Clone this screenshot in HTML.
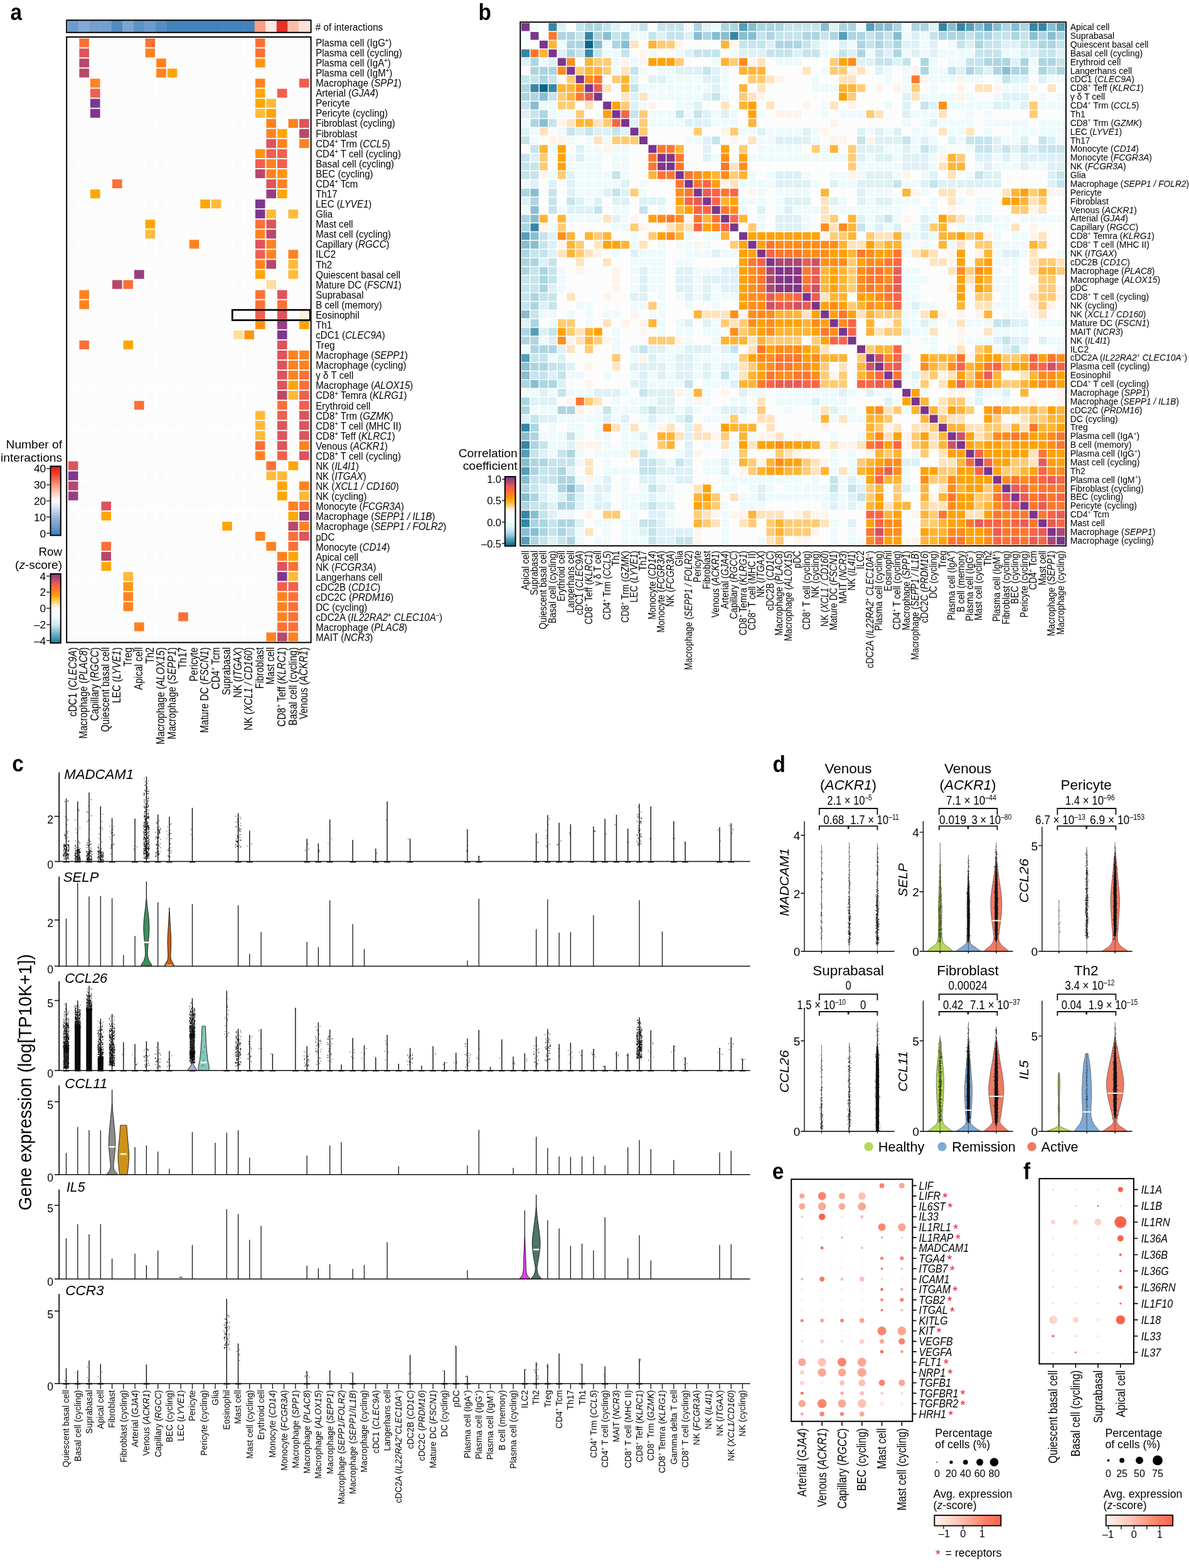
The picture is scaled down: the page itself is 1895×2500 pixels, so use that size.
<!DOCTYPE html>
<html><head><meta charset="utf-8"><title>Figure</title>
<style>
html,body{margin:0;padding:0;background:#fff}
svg{display:block}
text{font-family:"Liberation Sans",sans-serif}
</style></head>
<body>
<svg width="1895" height="2500" viewBox="0 0 1895 2500">
<defs><linearGradient id="gNI" x1="0" y1="1" x2="0" y2="0"><stop offset="0.0000" stop-color="#377db9"/><stop offset="0.1250" stop-color="#6e9bcd"/><stop offset="0.2500" stop-color="#96b4da"/><stop offset="0.3750" stop-color="#cddaee"/><stop offset="0.5000" stop-color="#ffffff"/><stop offset="0.6250" stop-color="#fdc8b9"/><stop offset="0.7500" stop-color="#fa8c73"/><stop offset="0.8750" stop-color="#ee4632"/><stop offset="1.0000" stop-color="#e1191c"/></linearGradient><linearGradient id="gZS" x1="0" y1="1" x2="0" y2="0"><stop offset="0.0000" stop-color="#1e7896"/><stop offset="0.1250" stop-color="#6bafc4"/><stop offset="0.2500" stop-color="#c9e6ee"/><stop offset="0.3750" stop-color="#f0fafc"/><stop offset="0.5000" stop-color="#fbfcfb"/><stop offset="0.5625" stop-color="#ffe4af"/><stop offset="0.6250" stop-color="#ffc04b"/><stop offset="0.6750" stop-color="#ffa605"/><stop offset="0.7500" stop-color="#ff8220"/><stop offset="0.8250" stop-color="#fa6448"/><stop offset="0.8750" stop-color="#e1565a"/><stop offset="0.9375" stop-color="#b4466e"/><stop offset="1.0000" stop-color="#7d3791"/></linearGradient><linearGradient id="gCC" x1="0" y1="1" x2="0" y2="0"><stop offset="0.0000" stop-color="#05668a"/><stop offset="0.0323" stop-color="#1e7a9c"/><stop offset="0.0968" stop-color="#559fb8"/><stop offset="0.1613" stop-color="#9ccbdb"/><stop offset="0.2258" stop-color="#c5e4ec"/><stop offset="0.2903" stop-color="#e3f5f8"/><stop offset="0.3548" stop-color="#f3fefe"/><stop offset="0.4323" stop-color="#fcfcfc"/><stop offset="0.5161" stop-color="#fff6ef"/><stop offset="0.5613" stop-color="#ffdfa8"/><stop offset="0.6129" stop-color="#ffbe45"/><stop offset="0.6774" stop-color="#ffa205"/><stop offset="0.7419" stop-color="#ff8420"/><stop offset="0.8194" stop-color="#fa6349"/><stop offset="0.8710" stop-color="#e05a58"/><stop offset="0.9226" stop-color="#b04a6e"/><stop offset="1.0000" stop-color="#7b3592"/></linearGradient><linearGradient id="gRS" x1="0" y1="0" x2="1" y2="0"><stop offset="0.000" stop-color="#f6f6f1"/><stop offset="0.118" stop-color="#fbe6df"/><stop offset="0.324" stop-color="#fccbbe"/><stop offset="0.559" stop-color="#fba591"/><stop offset="0.765" stop-color="#fa8068"/><stop offset="1.000" stop-color="#f9634a"/></linearGradient></defs>
<rect width="1895" height="2500" fill="#fff"/>
<g id="panel_a">
<rect x="107.70" y="33" width="17.93" height="18" fill="#6e9bcd"/>
<rect x="125.23" y="33" width="17.93" height="18" fill="#84a9d4"/>
<rect x="142.76" y="33" width="17.93" height="18" fill="#749fcf"/>
<rect x="160.30" y="33" width="17.93" height="18" fill="#749fcf"/>
<rect x="177.83" y="33" width="17.93" height="18" fill="#508bc2"/>
<rect x="195.36" y="33" width="17.93" height="18" fill="#7ea5d2"/>
<rect x="212.89" y="33" width="17.93" height="18" fill="#5e92c7"/>
<rect x="230.42" y="33" width="17.93" height="18" fill="#6e9bcd"/>
<rect x="247.95" y="33" width="17.93" height="18" fill="#558dc4"/>
<rect x="265.49" y="33" width="17.93" height="18" fill="#4283bd"/>
<rect x="283.02" y="33" width="17.93" height="18" fill="#4283bd"/>
<rect x="300.55" y="33" width="17.93" height="18" fill="#4283bd"/>
<rect x="318.08" y="33" width="17.93" height="18" fill="#4283bd"/>
<rect x="335.61" y="33" width="17.93" height="18" fill="#4283bd"/>
<rect x="353.15" y="33" width="17.93" height="18" fill="#4283bd"/>
<rect x="370.68" y="33" width="17.93" height="18" fill="#4283bd"/>
<rect x="388.21" y="33" width="17.93" height="18" fill="#4283bd"/>
<rect x="405.74" y="33" width="17.93" height="18" fill="#fb9e88"/>
<rect x="423.27" y="33" width="17.93" height="18" fill="#fee9e3"/>
<rect x="440.80" y="33" width="17.93" height="18" fill="#e83027"/>
<rect x="458.34" y="33" width="17.93" height="18" fill="#fcbcab"/>
<rect x="475.87" y="33" width="17.93" height="18" fill="#fee0d8"/>
<rect x="106.2" y="32.2" width="389.4" height="19.6" fill="none" stroke="#000" stroke-width="2"/>
<rect x="107.9" y="60.3" width="385.70000000000005" height="963.2" fill="#fbfcfb"/>
<path d="M107.90 60.3V1023.5M125.43 60.3V1023.5M142.96 60.3V1023.5M160.50 60.3V1023.5M178.03 60.3V1023.5M195.56 60.3V1023.5M213.09 60.3V1023.5M230.62 60.3V1023.5M248.15 60.3V1023.5M265.69 60.3V1023.5M283.22 60.3V1023.5M300.75 60.3V1023.5M318.28 60.3V1023.5M335.81 60.3V1023.5M353.35 60.3V1023.5M370.88 60.3V1023.5M388.41 60.3V1023.5M405.94 60.3V1023.5M423.47 60.3V1023.5M441.00 60.3V1023.5M458.54 60.3V1023.5M476.07 60.3V1023.5M493.60 60.3V1023.5M107.9 60.30H493.6M107.9 76.35H493.6M107.9 92.41H493.6M107.9 108.46H493.6M107.9 124.51H493.6M107.9 140.57H493.6M107.9 156.62H493.6M107.9 172.67H493.6M107.9 188.73H493.6M107.9 204.78H493.6M107.9 220.83H493.6M107.9 236.89H493.6M107.9 252.94H493.6M107.9 268.99H493.6M107.9 285.05H493.6M107.9 301.10H493.6M107.9 317.15H493.6M107.9 333.21H493.6M107.9 349.26H493.6M107.9 365.31H493.6M107.9 381.37H493.6M107.9 397.42H493.6M107.9 413.47H493.6M107.9 429.53H493.6M107.9 445.58H493.6M107.9 461.63H493.6M107.9 477.69H493.6M107.9 493.74H493.6M107.9 509.79H493.6M107.9 525.85H493.6M107.9 541.90H493.6M107.9 557.95H493.6M107.9 574.01H493.6M107.9 590.06H493.6M107.9 606.11H493.6M107.9 622.17H493.6M107.9 638.22H493.6M107.9 654.27H493.6M107.9 670.33H493.6M107.9 686.38H493.6M107.9 702.43H493.6M107.9 718.49H493.6M107.9 734.54H493.6M107.9 750.59H493.6M107.9 766.65H493.6M107.9 782.70H493.6M107.9 798.75H493.6M107.9 814.81H493.6M107.9 830.86H493.6M107.9 846.91H493.6M107.9 862.97H493.6M107.9 879.02H493.6M107.9 895.07H493.6M107.9 911.13H493.6M107.9 927.18H493.6M107.9 943.23H493.6M107.9 959.29H493.6M107.9 975.34H493.6M107.9 991.39H493.6M107.9 1007.45H493.6M107.9 1023.50H493.6" stroke="#fff" stroke-width="1.9" fill="none"/>
<rect x="126.38" y="61.25" width="15.63" height="14.15" fill="#fc7037"/>
<rect x="231.57" y="61.25" width="15.63" height="14.15" fill="#fc7037"/>
<rect x="406.89" y="61.25" width="15.63" height="14.15" fill="#fc7037"/>
<rect x="126.38" y="77.30" width="15.63" height="14.15" fill="#dd545c"/>
<rect x="231.57" y="77.30" width="15.63" height="14.15" fill="#ff8220"/>
<rect x="406.89" y="77.30" width="15.63" height="14.15" fill="#fc7037"/>
<rect x="126.38" y="93.36" width="15.63" height="14.15" fill="#b8486c"/>
<rect x="249.10" y="93.36" width="15.63" height="14.15" fill="#ff8220"/>
<rect x="406.89" y="93.36" width="15.63" height="14.15" fill="#ff9412"/>
<rect x="126.38" y="109.41" width="15.63" height="14.15" fill="#b8486c"/>
<rect x="249.10" y="109.41" width="15.63" height="14.15" fill="#ff8220"/>
<rect x="266.64" y="109.41" width="15.63" height="14.15" fill="#ffa605"/>
<rect x="143.91" y="125.46" width="15.63" height="14.15" fill="#ff8220"/>
<rect x="406.89" y="125.46" width="15.63" height="14.15" fill="#ff8220"/>
<rect x="477.02" y="125.46" width="15.63" height="14.15" fill="#f15f4f"/>
<rect x="143.91" y="141.52" width="15.63" height="14.15" fill="#f15f4f"/>
<rect x="406.89" y="141.52" width="15.63" height="14.15" fill="#ffa605"/>
<rect x="441.95" y="141.52" width="15.63" height="14.15" fill="#f15f4f"/>
<rect x="143.91" y="157.57" width="15.63" height="14.15" fill="#7d3791"/>
<rect x="406.89" y="157.57" width="15.63" height="14.15" fill="#ffa605"/>
<rect x="424.42" y="157.57" width="15.63" height="14.15" fill="#ffba39"/>
<rect x="143.91" y="173.62" width="15.63" height="14.15" fill="#7d3791"/>
<rect x="406.89" y="173.62" width="15.63" height="14.15" fill="#ffba39"/>
<rect x="424.42" y="173.62" width="15.63" height="14.15" fill="#ffa605"/>
<rect x="424.42" y="189.68" width="15.63" height="14.15" fill="#ff8220"/>
<rect x="459.49" y="189.68" width="15.63" height="14.15" fill="#ff8220"/>
<rect x="477.02" y="189.68" width="15.63" height="14.15" fill="#dd545c"/>
<rect x="424.42" y="205.73" width="15.63" height="14.15" fill="#ff8220"/>
<rect x="441.95" y="205.73" width="15.63" height="14.15" fill="#ffa605"/>
<rect x="477.02" y="205.73" width="15.63" height="14.15" fill="#b8486c"/>
<rect x="424.42" y="221.78" width="15.63" height="14.15" fill="#dd545c"/>
<rect x="441.95" y="221.78" width="15.63" height="14.15" fill="#ff8220"/>
<rect x="477.02" y="221.78" width="15.63" height="14.15" fill="#ff8220"/>
<rect x="406.89" y="237.84" width="15.63" height="14.15" fill="#ff9412"/>
<rect x="424.42" y="237.84" width="15.63" height="14.15" fill="#f15f4f"/>
<rect x="441.95" y="237.84" width="15.63" height="14.15" fill="#f15f4f"/>
<rect x="406.89" y="253.89" width="15.63" height="14.15" fill="#f15f4f"/>
<rect x="424.42" y="253.89" width="15.63" height="14.15" fill="#ff8220"/>
<rect x="441.95" y="253.89" width="15.63" height="14.15" fill="#f15f4f"/>
<rect x="406.89" y="269.94" width="15.63" height="14.15" fill="#b8486c"/>
<rect x="424.42" y="269.94" width="15.63" height="14.15" fill="#ff8220"/>
<rect x="441.95" y="269.94" width="15.63" height="14.15" fill="#ff9412"/>
<rect x="178.98" y="286.00" width="15.63" height="14.15" fill="#fc7037"/>
<rect x="424.42" y="286.00" width="15.63" height="14.15" fill="#dd545c"/>
<rect x="441.95" y="286.00" width="15.63" height="14.15" fill="#ff8220"/>
<rect x="143.91" y="302.05" width="15.63" height="14.15" fill="#ffa605"/>
<rect x="424.42" y="302.05" width="15.63" height="14.15" fill="#983e80"/>
<rect x="441.95" y="302.05" width="15.63" height="14.15" fill="#ffa605"/>
<rect x="319.23" y="318.10" width="15.63" height="14.15" fill="#ffa605"/>
<rect x="336.76" y="318.10" width="15.63" height="14.15" fill="#ffba39"/>
<rect x="406.89" y="318.10" width="15.63" height="14.15" fill="#7d3791"/>
<rect x="406.89" y="334.16" width="15.63" height="14.15" fill="#7d3791"/>
<rect x="424.42" y="334.16" width="15.63" height="14.15" fill="#ffba39"/>
<rect x="459.49" y="334.16" width="15.63" height="14.15" fill="#ffba39"/>
<rect x="231.57" y="350.21" width="15.63" height="14.15" fill="#ffa605"/>
<rect x="406.89" y="350.21" width="15.63" height="14.15" fill="#fc7037"/>
<rect x="424.42" y="350.21" width="15.63" height="14.15" fill="#dd545c"/>
<rect x="231.57" y="366.26" width="15.63" height="14.15" fill="#ffba39"/>
<rect x="406.89" y="366.26" width="15.63" height="14.15" fill="#ff8220"/>
<rect x="424.42" y="366.26" width="15.63" height="14.15" fill="#b8486c"/>
<rect x="301.70" y="382.32" width="15.63" height="14.15" fill="#ff8220"/>
<rect x="406.89" y="382.32" width="15.63" height="14.15" fill="#dd545c"/>
<rect x="424.42" y="382.32" width="15.63" height="14.15" fill="#ff8220"/>
<rect x="406.89" y="398.37" width="15.63" height="14.15" fill="#f15f4f"/>
<rect x="424.42" y="398.37" width="15.63" height="14.15" fill="#ff8220"/>
<rect x="459.49" y="398.37" width="15.63" height="14.15" fill="#ff8220"/>
<rect x="406.89" y="414.42" width="15.63" height="14.15" fill="#ff8220"/>
<rect x="424.42" y="414.42" width="15.63" height="14.15" fill="#b8486c"/>
<rect x="459.49" y="414.42" width="15.63" height="14.15" fill="#ffba39"/>
<rect x="214.04" y="430.48" width="15.63" height="14.15" fill="#983e80"/>
<rect x="406.89" y="430.48" width="15.63" height="14.15" fill="#ffa605"/>
<rect x="459.49" y="430.48" width="15.63" height="14.15" fill="#ffba39"/>
<rect x="178.98" y="446.53" width="15.63" height="14.15" fill="#b8486c"/>
<rect x="196.51" y="446.53" width="15.63" height="14.15" fill="#fc7037"/>
<rect x="424.42" y="446.53" width="15.63" height="14.15" fill="#ffdd9b"/>
<rect x="126.38" y="462.58" width="15.63" height="14.15" fill="#ff8220"/>
<rect x="406.89" y="462.58" width="15.63" height="14.15" fill="#fc7037"/>
<rect x="441.95" y="462.58" width="15.63" height="14.15" fill="#dd545c"/>
<rect x="126.38" y="478.64" width="15.63" height="14.15" fill="#ff8220"/>
<rect x="406.89" y="478.64" width="15.63" height="14.15" fill="#fc7037"/>
<rect x="441.95" y="478.64" width="15.63" height="14.15" fill="#fc7037"/>
<rect x="406.89" y="494.69" width="15.63" height="14.15" fill="#f15f4f"/>
<rect x="441.95" y="494.69" width="15.63" height="14.15" fill="#dd545c"/>
<rect x="477.02" y="494.69" width="15.63" height="14.15" fill="#fdf2dd"/>
<rect x="406.89" y="510.74" width="15.63" height="14.15" fill="#ff9412"/>
<rect x="441.95" y="510.74" width="15.63" height="14.15" fill="#983e80"/>
<rect x="477.02" y="510.74" width="15.63" height="14.15" fill="#ffa605"/>
<rect x="371.83" y="526.80" width="15.63" height="14.15" fill="#ffdd9b"/>
<rect x="389.36" y="526.80" width="15.63" height="14.15" fill="#ff9412"/>
<rect x="441.95" y="526.80" width="15.63" height="14.15" fill="#7d3791"/>
<rect x="126.38" y="542.85" width="15.63" height="14.15" fill="#fc7037"/>
<rect x="196.51" y="542.85" width="15.63" height="14.15" fill="#ffa605"/>
<rect x="441.95" y="542.85" width="15.63" height="14.15" fill="#dd545c"/>
<rect x="441.95" y="558.90" width="15.63" height="14.15" fill="#dd545c"/>
<rect x="459.49" y="558.90" width="15.63" height="14.15" fill="#ff8220"/>
<rect x="477.02" y="558.90" width="15.63" height="14.15" fill="#ff8220"/>
<rect x="441.95" y="574.96" width="15.63" height="14.15" fill="#dd545c"/>
<rect x="459.49" y="574.96" width="15.63" height="14.15" fill="#ff8220"/>
<rect x="477.02" y="574.96" width="15.63" height="14.15" fill="#ff8220"/>
<rect x="441.95" y="591.01" width="15.63" height="14.15" fill="#dd545c"/>
<rect x="459.49" y="591.01" width="15.63" height="14.15" fill="#ff8220"/>
<rect x="477.02" y="591.01" width="15.63" height="14.15" fill="#fc7037"/>
<rect x="441.95" y="607.06" width="15.63" height="14.15" fill="#dd545c"/>
<rect x="459.49" y="607.06" width="15.63" height="14.15" fill="#ffa605"/>
<rect x="477.02" y="607.06" width="15.63" height="14.15" fill="#fc7037"/>
<rect x="441.95" y="623.12" width="15.63" height="14.15" fill="#b8486c"/>
<rect x="459.49" y="623.12" width="15.63" height="14.15" fill="#ffba39"/>
<rect x="477.02" y="623.12" width="15.63" height="14.15" fill="#f15f4f"/>
<rect x="214.04" y="639.17" width="15.63" height="14.15" fill="#fc7037"/>
<rect x="441.95" y="639.17" width="15.63" height="14.15" fill="#fc7037"/>
<rect x="477.02" y="639.17" width="15.63" height="14.15" fill="#f15f4f"/>
<rect x="406.89" y="655.22" width="15.63" height="14.15" fill="#ffba39"/>
<rect x="441.95" y="655.22" width="15.63" height="14.15" fill="#f15f4f"/>
<rect x="477.02" y="655.22" width="15.63" height="14.15" fill="#dd545c"/>
<rect x="406.89" y="671.28" width="15.63" height="14.15" fill="#ffba39"/>
<rect x="441.95" y="671.28" width="15.63" height="14.15" fill="#dd545c"/>
<rect x="477.02" y="671.28" width="15.63" height="14.15" fill="#dd545c"/>
<rect x="406.89" y="687.33" width="15.63" height="14.15" fill="#ffba39"/>
<rect x="441.95" y="687.33" width="15.63" height="14.15" fill="#dd545c"/>
<rect x="477.02" y="687.33" width="15.63" height="14.15" fill="#dd545c"/>
<rect x="406.89" y="703.38" width="15.63" height="14.15" fill="#fc7037"/>
<rect x="441.95" y="703.38" width="15.63" height="14.15" fill="#dd545c"/>
<rect x="477.02" y="703.38" width="15.63" height="14.15" fill="#ff8220"/>
<rect x="406.89" y="719.44" width="15.63" height="14.15" fill="#ff8220"/>
<rect x="441.95" y="719.44" width="15.63" height="14.15" fill="#f15f4f"/>
<rect x="477.02" y="719.44" width="15.63" height="14.15" fill="#dd545c"/>
<rect x="108.85" y="735.49" width="15.63" height="14.15" fill="#dd545c"/>
<rect x="424.42" y="735.49" width="15.63" height="14.15" fill="#fc7037"/>
<rect x="459.49" y="735.49" width="15.63" height="14.15" fill="#ffa605"/>
<rect x="108.85" y="751.54" width="15.63" height="14.15" fill="#7d3791"/>
<rect x="424.42" y="751.54" width="15.63" height="14.15" fill="#ffba39"/>
<rect x="441.95" y="751.54" width="15.63" height="14.15" fill="#ffba39"/>
<rect x="108.85" y="767.60" width="15.63" height="14.15" fill="#b8486c"/>
<rect x="441.95" y="767.60" width="15.63" height="14.15" fill="#ffa605"/>
<rect x="477.02" y="767.60" width="15.63" height="14.15" fill="#ff8220"/>
<rect x="108.85" y="783.65" width="15.63" height="14.15" fill="#983e80"/>
<rect x="441.95" y="783.65" width="15.63" height="14.15" fill="#ffa605"/>
<rect x="477.02" y="783.65" width="15.63" height="14.15" fill="#ffba39"/>
<rect x="161.45" y="799.70" width="15.63" height="14.15" fill="#dd545c"/>
<rect x="459.49" y="799.70" width="15.63" height="14.15" fill="#ff8220"/>
<rect x="477.02" y="799.70" width="15.63" height="14.15" fill="#fc7037"/>
<rect x="161.45" y="815.76" width="15.63" height="14.15" fill="#ffa605"/>
<rect x="459.49" y="815.76" width="15.63" height="14.15" fill="#ffa605"/>
<rect x="477.02" y="815.76" width="15.63" height="14.15" fill="#983e80"/>
<rect x="354.30" y="831.81" width="15.63" height="14.15" fill="#ffa605"/>
<rect x="459.49" y="831.81" width="15.63" height="14.15" fill="#b8486c"/>
<rect x="477.02" y="831.81" width="15.63" height="14.15" fill="#ff8220"/>
<rect x="406.89" y="847.86" width="15.63" height="14.15" fill="#ff8220"/>
<rect x="459.49" y="847.86" width="15.63" height="14.15" fill="#fc7037"/>
<rect x="477.02" y="847.86" width="15.63" height="14.15" fill="#dd545c"/>
<rect x="161.45" y="863.92" width="15.63" height="14.15" fill="#fc7037"/>
<rect x="424.42" y="863.92" width="15.63" height="14.15" fill="#ff8220"/>
<rect x="459.49" y="863.92" width="15.63" height="14.15" fill="#fc7037"/>
<rect x="161.45" y="879.97" width="15.63" height="14.15" fill="#b8486c"/>
<rect x="441.95" y="879.97" width="15.63" height="14.15" fill="#ff8220"/>
<rect x="459.49" y="879.97" width="15.63" height="14.15" fill="#ffa605"/>
<rect x="161.45" y="896.02" width="15.63" height="14.15" fill="#ffa605"/>
<rect x="441.95" y="896.02" width="15.63" height="14.15" fill="#dd545c"/>
<rect x="459.49" y="896.02" width="15.63" height="14.15" fill="#fc7037"/>
<rect x="196.51" y="912.08" width="15.63" height="14.15" fill="#ffba39"/>
<rect x="441.95" y="912.08" width="15.63" height="14.15" fill="#7d3791"/>
<rect x="459.49" y="912.08" width="15.63" height="14.15" fill="#ffba39"/>
<rect x="196.51" y="928.13" width="15.63" height="14.15" fill="#ff9412"/>
<rect x="441.95" y="928.13" width="15.63" height="14.15" fill="#f15f4f"/>
<rect x="459.49" y="928.13" width="15.63" height="14.15" fill="#f15f4f"/>
<rect x="196.51" y="944.18" width="15.63" height="14.15" fill="#ff8220"/>
<rect x="441.95" y="944.18" width="15.63" height="14.15" fill="#ff8220"/>
<rect x="459.49" y="944.18" width="15.63" height="14.15" fill="#fc7037"/>
<rect x="196.51" y="960.24" width="15.63" height="14.15" fill="#ff8220"/>
<rect x="441.95" y="960.24" width="15.63" height="14.15" fill="#ff8220"/>
<rect x="459.49" y="960.24" width="15.63" height="14.15" fill="#fc7037"/>
<rect x="284.17" y="976.29" width="15.63" height="14.15" fill="#fc7037"/>
<rect x="441.95" y="976.29" width="15.63" height="14.15" fill="#ff8220"/>
<rect x="459.49" y="976.29" width="15.63" height="14.15" fill="#fc7037"/>
<rect x="214.04" y="992.34" width="15.63" height="14.15" fill="#ff8220"/>
<rect x="441.95" y="992.34" width="15.63" height="14.15" fill="#fc7037"/>
<rect x="459.49" y="992.34" width="15.63" height="14.15" fill="#fc7037"/>
<rect x="424.42" y="1008.40" width="15.63" height="14.15" fill="#ff8220"/>
<rect x="441.95" y="1008.40" width="15.63" height="14.15" fill="#b8486c"/>
<rect x="459.49" y="1008.40" width="15.63" height="14.15" fill="#ff8220"/>
<rect x="106.2" y="59" width="389.4" height="965.4" fill="none" stroke="#000" stroke-width="2"/>
<rect x="370.28" y="494.14" width="123.92" height="16.35" fill="none" stroke="#000" stroke-width="2.7"/>
<g>
<text transform="translate(502.80,49.20) scale(0.8802,1)" font-size="17.30"># of interactions</text>
<text transform="translate(503.20,73.90) scale(0.9090,1)" font-size="16.60">Plasma cell (IgG<tspan font-size="10.29" dy="-5.98">+</tspan><tspan dy="5.98">&#8203;</tspan>)</text>
<text transform="translate(503.20,89.97) scale(0.9090,1)" font-size="16.60">Plasma cell (cycling)</text>
<text transform="translate(503.20,106.05) scale(0.9090,1)" font-size="16.60">Plasma cell (IgA<tspan font-size="10.29" dy="-5.98">+</tspan><tspan dy="5.98">&#8203;</tspan>)</text>
<text transform="translate(503.20,122.12) scale(0.9090,1)" font-size="16.60">Plasma cell (IgM<tspan font-size="10.29" dy="-5.98">+</tspan><tspan dy="5.98">&#8203;</tspan>)</text>
<text transform="translate(503.20,138.20) scale(0.9090,1)" font-size="16.60">Macrophage (<tspan font-style="italic">SPP1</tspan>)</text>
<text transform="translate(503.20,154.27) scale(0.9090,1)" font-size="16.60">Arterial (<tspan font-style="italic">GJA4</tspan>)</text>
<text transform="translate(503.20,170.34) scale(0.9090,1)" font-size="16.60">Pericyte</text>
<text transform="translate(503.20,186.42) scale(0.9090,1)" font-size="16.60">Pericyte (cycling)</text>
<text transform="translate(503.20,202.49) scale(0.9090,1)" font-size="16.60">Fibroblast (cycling)</text>
<text transform="translate(503.20,218.57) scale(0.9090,1)" font-size="16.60">Fibroblast</text>
<text transform="translate(503.20,234.64) scale(0.9090,1)" font-size="16.60">CD4<tspan font-size="10.29" dy="-5.98">+</tspan><tspan dy="5.98">&#8203;</tspan> Trm (<tspan font-style="italic">CCL5</tspan>)</text>
<text transform="translate(503.20,250.71) scale(0.9090,1)" font-size="16.60">CD4<tspan font-size="10.29" dy="-5.98">+</tspan><tspan dy="5.98">&#8203;</tspan> T cell (cycling)</text>
<text transform="translate(503.20,266.79) scale(0.9090,1)" font-size="16.60">Basal cell (cycling)</text>
<text transform="translate(503.20,282.86) scale(0.9090,1)" font-size="16.60">BEC (cycling)</text>
<text transform="translate(503.20,298.94) scale(0.9090,1)" font-size="16.60">CD4<tspan font-size="10.29" dy="-5.98">+</tspan><tspan dy="5.98">&#8203;</tspan> Tcm</text>
<text transform="translate(503.20,315.01) scale(0.9090,1)" font-size="16.60">Th17</text>
<text transform="translate(503.20,331.08) scale(0.9090,1)" font-size="16.60">LEC (<tspan font-style="italic">LYVE1</tspan>)</text>
<text transform="translate(503.20,347.16) scale(0.9090,1)" font-size="16.60">Glia</text>
<text transform="translate(503.20,363.23) scale(0.9090,1)" font-size="16.60">Mast cell</text>
<text transform="translate(503.20,379.31) scale(0.9090,1)" font-size="16.60">Mast cell (cycling)</text>
<text transform="translate(503.20,395.38) scale(0.9090,1)" font-size="16.60">Capillary (<tspan font-style="italic">RGCC</tspan>)</text>
<text transform="translate(503.20,411.45) scale(0.9090,1)" font-size="16.60">ILC2</text>
<text transform="translate(503.20,427.53) scale(0.9090,1)" font-size="16.60">Th2</text>
<text transform="translate(503.20,443.60) scale(0.9090,1)" font-size="16.60">Quiescent basal cell</text>
<text transform="translate(503.20,459.68) scale(0.9090,1)" font-size="16.60">Mature DC (<tspan font-style="italic">FSCN1</tspan>)</text>
<text transform="translate(503.20,475.75) scale(0.9090,1)" font-size="16.60">Suprabasal</text>
<text transform="translate(503.20,491.82) scale(0.9090,1)" font-size="16.60">B cell (memory)</text>
<text transform="translate(503.20,507.90) scale(0.9090,1)" font-size="16.60">Eosinophil</text>
<text transform="translate(503.20,523.97) scale(0.9090,1)" font-size="16.60">Th1</text>
<text transform="translate(503.20,540.05) scale(0.9090,1)" font-size="16.60">cDC1 (<tspan font-style="italic">CLEC9A</tspan>)</text>
<text transform="translate(503.20,556.12) scale(0.9090,1)" font-size="16.60">Treg</text>
<text transform="translate(503.20,572.19) scale(0.9090,1)" font-size="16.60">Macrophage (<tspan font-style="italic">SEPP1</tspan>)</text>
<text transform="translate(503.20,588.27) scale(0.9090,1)" font-size="16.60">Macrophage (cycling)</text>
<text transform="translate(503.20,604.34) scale(0.9090,1)" font-size="16.60">γ δ T cell</text>
<text transform="translate(503.20,620.42) scale(0.9090,1)" font-size="16.60">Macrophage (<tspan font-style="italic">ALOX15</tspan>)</text>
<text transform="translate(503.20,636.49) scale(0.9090,1)" font-size="16.60">CD8<tspan font-size="10.29" dy="-5.98">+</tspan><tspan dy="5.98">&#8203;</tspan> Temra (<tspan font-style="italic">KLRG1</tspan>)</text>
<text transform="translate(503.20,652.56) scale(0.9090,1)" font-size="16.60">Erythroid cell</text>
<text transform="translate(503.20,668.64) scale(0.9090,1)" font-size="16.60">CD8<tspan font-size="10.29" dy="-5.98">+</tspan><tspan dy="5.98">&#8203;</tspan> Trm (<tspan font-style="italic">GZMK</tspan>)</text>
<text transform="translate(503.20,684.71) scale(0.9090,1)" font-size="16.60">CD8<tspan font-size="10.29" dy="-5.98">+</tspan><tspan dy="5.98">&#8203;</tspan> T cell (MHC II)</text>
<text transform="translate(503.20,700.79) scale(0.9090,1)" font-size="16.60">CD8<tspan font-size="10.29" dy="-5.98">+</tspan><tspan dy="5.98">&#8203;</tspan> Teff (<tspan font-style="italic">KLRC1</tspan>)</text>
<text transform="translate(503.20,716.86) scale(0.9090,1)" font-size="16.60">Venous (<tspan font-style="italic">ACKR1</tspan>)</text>
<text transform="translate(503.20,732.93) scale(0.9090,1)" font-size="16.60">CD8<tspan font-size="10.29" dy="-5.98">+</tspan><tspan dy="5.98">&#8203;</tspan> T cell (cycling)</text>
<text transform="translate(503.20,749.01) scale(0.9090,1)" font-size="16.60">NK (<tspan font-style="italic">IL4I1</tspan>)</text>
<text transform="translate(503.20,765.08) scale(0.9090,1)" font-size="16.60">NK (<tspan font-style="italic">ITGAX</tspan>)</text>
<text transform="translate(503.20,781.16) scale(0.9090,1)" font-size="16.60">NK (<tspan font-style="italic">XCL1 / CD160</tspan>)</text>
<text transform="translate(503.20,797.23) scale(0.9090,1)" font-size="16.60">NK (cycling)</text>
<text transform="translate(503.20,813.30) scale(0.9090,1)" font-size="16.60">Monocyte (<tspan font-style="italic">FCGR3A</tspan>)</text>
<text transform="translate(503.20,829.38) scale(0.9090,1)" font-size="16.60">Macrophage (<tspan font-style="italic">SEPP1 / IL1B</tspan>)</text>
<text transform="translate(503.20,845.45) scale(0.9090,1)" font-size="16.60">Macrophage (<tspan font-style="italic">SEPP1 / FOLR2</tspan>)</text>
<text transform="translate(503.20,861.53) scale(0.9090,1)" font-size="16.60">pDC</text>
<text transform="translate(503.20,877.60) scale(0.9090,1)" font-size="16.60">Monocyte (<tspan font-style="italic">CD14</tspan>)</text>
<text transform="translate(503.20,893.67) scale(0.9090,1)" font-size="16.60">Apical cell</text>
<text transform="translate(503.20,909.75) scale(0.9090,1)" font-size="16.60">NK (<tspan font-style="italic">FCGR3A</tspan>)</text>
<text transform="translate(503.20,925.82) scale(0.9090,1)" font-size="16.60">Langerhans cell</text>
<text transform="translate(503.20,941.90) scale(0.9090,1)" font-size="16.60">cDC2B (<tspan font-style="italic">CD1C</tspan>)</text>
<text transform="translate(503.20,957.97) scale(0.9090,1)" font-size="16.60">cDC2C (<tspan font-style="italic">PRDM16</tspan>)</text>
<text transform="translate(503.20,974.04) scale(0.9090,1)" font-size="16.60">DC (cycling)</text>
<text transform="translate(503.20,990.12) scale(0.9090,1)" font-size="16.60">cDC2A (<tspan font-style="italic">IL22RA2</tspan><tspan font-style="italic" font-size="10.29" dy="-5.98">+</tspan><tspan dy="5.98">&#8203;</tspan><tspan font-style="italic"> CLEC10A</tspan><tspan font-style="italic" font-size="10.29" dy="-5.98">–</tspan><tspan dy="5.98">&#8203;</tspan>)</text>
<text transform="translate(503.20,1006.19) scale(0.9090,1)" font-size="16.60">Macrophage (<tspan font-style="italic">PLAC8</tspan>)</text>
<text transform="translate(503.20,1022.27) scale(0.9090,1)" font-size="16.60">MAIT (<tspan font-style="italic">NCR3</tspan>)</text>
<text transform="translate(121.87,1032.00) rotate(-90) scale(0.8290,1)" font-size="18.20" text-anchor="end">cDC1 (<tspan font-style="italic">CLEC9A</tspan>)</text>
<text transform="translate(139.40,1032.00) rotate(-90) scale(0.8290,1)" font-size="18.20" text-anchor="end">Macrophage (<tspan font-style="italic">PLAC8</tspan>)</text>
<text transform="translate(156.93,1032.00) rotate(-90) scale(0.8290,1)" font-size="18.20" text-anchor="end">Capillary (<tspan font-style="italic">RGCC</tspan>)</text>
<text transform="translate(174.46,1032.00) rotate(-90) scale(0.8290,1)" font-size="18.20" text-anchor="end">Quiescent basal cell</text>
<text transform="translate(191.99,1032.00) rotate(-90) scale(0.8290,1)" font-size="18.20" text-anchor="end">LEC (<tspan font-style="italic">LYVE1</tspan>)</text>
<text transform="translate(209.53,1032.00) rotate(-90) scale(0.8290,1)" font-size="18.20" text-anchor="end">Treg</text>
<text transform="translate(227.06,1032.00) rotate(-90) scale(0.8290,1)" font-size="18.20" text-anchor="end">Apical cell</text>
<text transform="translate(244.59,1032.00) rotate(-90) scale(0.8290,1)" font-size="18.20" text-anchor="end">Th2</text>
<text transform="translate(262.12,1032.00) rotate(-90) scale(0.8290,1)" font-size="18.20" text-anchor="end">Macrophage (<tspan font-style="italic">ALOX15</tspan>)</text>
<text transform="translate(279.65,1032.00) rotate(-90) scale(0.8290,1)" font-size="18.20" text-anchor="end">Macrophage (<tspan font-style="italic">SEPP1</tspan>)</text>
<text transform="translate(297.18,1032.00) rotate(-90) scale(0.8290,1)" font-size="18.20" text-anchor="end">Th17</text>
<text transform="translate(314.72,1032.00) rotate(-90) scale(0.8290,1)" font-size="18.20" text-anchor="end">Pericyte</text>
<text transform="translate(332.25,1032.00) rotate(-90) scale(0.8290,1)" font-size="18.20" text-anchor="end">Mature DC (<tspan font-style="italic">FSCN1</tspan>)</text>
<text transform="translate(349.78,1032.00) rotate(-90) scale(0.8290,1)" font-size="18.20" text-anchor="end">CD4<tspan font-size="11.28" dy="-6.55">+</tspan><tspan dy="6.55">&#8203;</tspan> Tcm</text>
<text transform="translate(367.31,1032.00) rotate(-90) scale(0.8290,1)" font-size="18.20" text-anchor="end">Suprabasal</text>
<text transform="translate(384.84,1032.00) rotate(-90) scale(0.8290,1)" font-size="18.20" text-anchor="end">NK (<tspan font-style="italic">ITGAX</tspan>)</text>
<text transform="translate(402.38,1032.00) rotate(-90) scale(0.8290,1)" font-size="18.20" text-anchor="end">NK (<tspan font-style="italic">XCL1 / CD160</tspan>)</text>
<text transform="translate(419.91,1032.00) rotate(-90) scale(0.8290,1)" font-size="18.20" text-anchor="end">Fibroblast</text>
<text transform="translate(437.44,1032.00) rotate(-90) scale(0.8290,1)" font-size="18.20" text-anchor="end">Mast cell</text>
<text transform="translate(454.97,1032.00) rotate(-90) scale(0.8290,1)" font-size="18.20" text-anchor="end">CD8<tspan font-size="11.28" dy="-6.55">+</tspan><tspan dy="6.55">&#8203;</tspan> Teff (<tspan font-style="italic">KLRC1</tspan>)</text>
<text transform="translate(472.50,1032.00) rotate(-90) scale(0.8290,1)" font-size="18.20" text-anchor="end">Basal cell (cycling)</text>
<text transform="translate(490.03,1032.00) rotate(-90) scale(0.8290,1)" font-size="18.20" text-anchor="end">Venous (<tspan font-style="italic">ACKR1</tspan>)</text>
</g>
<text transform="translate(99.00,714.50) scale(1.0419,1)" font-size="18.40" text-anchor="end">Number of</text>
<text transform="translate(99.00,735.60) scale(1.0415,1)" font-size="18.40" text-anchor="end">interactions</text>
<rect x="80.5" y="743.4" width="16.3" height="110.2" fill="url(#gNI)" stroke="#000" stroke-width="2"/>
<path d="M74.2 747.1H79.5" stroke="#000" stroke-width="1.3"/>
<text transform="translate(73.20,753.40)" font-size="17.30" text-anchor="end">40</text>
<path d="M74.2 773.1H79.5" stroke="#000" stroke-width="1.3"/>
<text transform="translate(73.20,779.40)" font-size="17.30" text-anchor="end">30</text>
<path d="M74.2 798.6H79.5" stroke="#000" stroke-width="1.3"/>
<text transform="translate(73.20,804.90)" font-size="17.30" text-anchor="end">20</text>
<path d="M74.2 824.3H79.5" stroke="#000" stroke-width="1.3"/>
<text transform="translate(73.20,830.60)" font-size="17.30" text-anchor="end">10</text>
<path d="M74.2 850.2H79.5" stroke="#000" stroke-width="1.3"/>
<text transform="translate(73.20,856.50)" font-size="17.30" text-anchor="end">0</text>
<text transform="translate(99.00,885.50) scale(1.0188,1)" font-size="18.40" text-anchor="end">Row</text>
<text transform="translate(99.00,906.60) scale(1.0334,1)" font-size="18.40" text-anchor="end">(<tspan font-style="italic">z</tspan>-score)</text>
<rect x="80.5" y="915" width="16.3" height="110.2" fill="url(#gZS)" stroke="#000" stroke-width="2"/>
<path d="M74.2 918.5H79.5" stroke="#000" stroke-width="1.3"/>
<text transform="translate(73.20,924.80)" font-size="17.30" text-anchor="end">4</text>
<path d="M74.2 944.1H79.5" stroke="#000" stroke-width="1.3"/>
<text transform="translate(73.20,950.40)" font-size="17.30" text-anchor="end">2</text>
<path d="M74.2 969.8H79.5" stroke="#000" stroke-width="1.3"/>
<text transform="translate(73.20,976.10)" font-size="17.30" text-anchor="end">0</text>
<path d="M74.2 995.9H79.5" stroke="#000" stroke-width="1.3"/>
<text transform="translate(73.20,1002.20)" font-size="17.30" text-anchor="end">–2</text>
<path d="M74.2 1021.4H79.5" stroke="#000" stroke-width="1.3"/>
<text transform="translate(73.20,1027.70)" font-size="17.30" text-anchor="end">–4</text>
<text transform="translate(16.60,32.30) scale(0.9000,1)" font-size="37.00" font-weight="bold">a</text>
</g>
<g id="panel_b">
<rect x="829.3" y="35.4" width="869.5" height="834.6" fill="#fff"/>
<g transform="translate(830.30,36.40) scale(14.4583,13.8767)" fill="none" stroke-width="0.899">
<path d="M0.05 0.5h.90M1.05 1.5h.90M2.05 2.5h.90M3.05 3.5h.90M4.05 4.5h.90M5.05 5.5h.90M6.05 6.5h.90M7.05 7.5h.90M8.05 8.5h.90M9.05 9.5h.90M10.05 10.5h.90M11.05 11.5h.90M12.05 12.5h.90M13.05 13.5h.90M14.05 14.5h.90M15.05 15.5h.90M16.05 16.5h.90M17.05 17.5h.90M18.05 18.5h.90M19.05 19.5h.90M20.05 20.5h.90M21.05 21.5h.90M22.05 22.5h.90M23.05 23.5h.90M24.05 24.5h.90M25.05 25.5h.90M26.05 26.5h.90M27.05 27.5h.90M28.05 28.5h.90M29.05 29.5h.90M30.05 30.5h.90M31.05 31.5h.90M32.05 32.5h.90M33.05 33.5h.90M34.05 34.5h.90M35.05 35.5h.90M36.05 36.5h.90M37.05 37.5h.90M38.05 38.5h.90M39.05 39.5h.90M40.05 40.5h.90M41.05 41.5h.90M42.05 42.5h.90M43.05 43.5h.90M44.05 44.5h.90M45.05 45.5h.90M46.05 46.5h.90M47.05 47.5h.90M48.05 48.5h.90M49.05 49.5h.90M50.05 50.5h.90M51.05 51.5h.90M52.05 52.5h.90M53.05 53.5h.90M54.05 54.5h.90M55.05 55.5h.90M56.05 56.5h.90M57.05 57.5h.90M58.05 58.5h.90M59.05 59.5h.90" stroke="#7B358C"/>
<path d="M1.05 0.5h.90M11.05 0.5h.90M18.05 0.5h.90M21.05 0.5h.90M37.05 0.5h.90M42.05 0.5h.90M0.05 1.5h.90M12.05 1.5h.90M13.05 1.5h.90M42.05 1.5h.90M44.05 1.5h.90M4.05 2.5h.90M9.05 2.5h.90M33.05 2.5h.90M36.05 2.5h.90M44.05 2.5h.90M47.05 2.5h.90M9.05 3.5h.90M10.05 3.5h.90M14.05 3.5h.90M17.05 3.5h.90M23.05 3.5h.90M33.05 3.5h.90M34.05 3.5h.90M38.05 3.5h.90M42.05 3.5h.90M44.05 3.5h.90M46.05 3.5h.90M47.05 3.5h.90M48.05 3.5h.90M49.05 3.5h.90M53.05 3.5h.90M54.05 3.5h.90M2.05 4.5h.90M10.05 4.5h.90M12.05 4.5h.90M21.05 4.5h.90M28.05 4.5h.90M29.05 4.5h.90M30.05 4.5h.90M45.05 4.5h.90M47.05 4.5h.90M48.05 4.5h.90M56.05 4.5h.90M10.05 5.5h.90M13.05 5.5h.90M15.05 5.5h.90M16.05 5.5h.90M22.05 5.5h.90M33.05 5.5h.90M40.05 5.5h.90M42.05 5.5h.90M45.05 5.5h.90M46.05 5.5h.90M56.05 5.5h.90M16.05 6.5h.90M17.05 6.5h.90M18.05 6.5h.90M19.05 6.5h.90M22.05 6.5h.90M32.05 6.5h.90M40.05 6.5h.90M42.05 6.5h.90M45.05 6.5h.90M46.05 6.5h.90M47.05 6.5h.90M49.05 6.5h.90M50.05 6.5h.90M52.05 6.5h.90M58.05 6.5h.90M59.05 6.5h.90M13.05 7.5h.90M14.05 7.5h.90M15.05 7.5h.90M16.05 7.5h.90M17.05 7.5h.90M18.05 7.5h.90M19.05 7.5h.90M20.05 7.5h.90M22.05 7.5h.90M32.05 7.5h.90M33.05 7.5h.90M34.05 7.5h.90M42.05 7.5h.90M45.05 7.5h.90M53.05 7.5h.90M54.05 7.5h.90M55.05 7.5h.90M14.05 8.5h.90M15.05 8.5h.90M16.05 8.5h.90M17.05 8.5h.90M18.05 8.5h.90M19.05 8.5h.90M22.05 8.5h.90M44.05 8.5h.90M45.05 8.5h.90M46.05 8.5h.90M47.05 8.5h.90M49.05 8.5h.90M52.05 8.5h.90M57.05 8.5h.90M59.05 8.5h.90M2.05 9.5h.90M3.05 9.5h.90M13.05 9.5h.90M17.05 9.5h.90M18.05 9.5h.90M33.05 9.5h.90M40.05 9.5h.90M47.05 9.5h.90M48.05 9.5h.90M49.05 9.5h.90M50.05 9.5h.90M51.05 9.5h.90M54.05 9.5h.90M57.05 9.5h.90M58.05 9.5h.90M59.05 9.5h.90M3.05 10.5h.90M4.05 10.5h.90M5.05 10.5h.90M14.05 10.5h.90M15.05 10.5h.90M16.05 10.5h.90M18.05 10.5h.90M21.05 10.5h.90M23.05 10.5h.90M26.05 10.5h.90M33.05 10.5h.90M35.05 10.5h.90M36.05 10.5h.90M37.05 10.5h.90M43.05 10.5h.90M44.05 10.5h.90M45.05 10.5h.90M49.05 10.5h.90M51.05 10.5h.90M0.05 11.5h.90M14.05 11.5h.90M15.05 11.5h.90M16.05 11.5h.90M17.05 11.5h.90M21.05 11.5h.90M22.05 11.5h.90M23.05 11.5h.90M42.05 11.5h.90M44.05 11.5h.90M46.05 11.5h.90M47.05 11.5h.90M48.05 11.5h.90M49.05 11.5h.90M51.05 11.5h.90M52.05 11.5h.90M53.05 11.5h.90M54.05 11.5h.90M55.05 11.5h.90M57.05 11.5h.90M58.05 11.5h.90M59.05 11.5h.90M1.05 12.5h.90M4.05 12.5h.90M24.05 12.5h.90M25.05 12.5h.90M27.05 12.5h.90M28.05 12.5h.90M29.05 12.5h.90M30.05 12.5h.90M32.05 12.5h.90M38.05 12.5h.90M40.05 12.5h.90M43.05 12.5h.90M44.05 12.5h.90M47.05 12.5h.90M48.05 12.5h.90M51.05 12.5h.90M54.05 12.5h.90M55.05 12.5h.90M56.05 12.5h.90M57.05 12.5h.90M58.05 12.5h.90M59.05 12.5h.90M1.05 13.5h.90M5.05 13.5h.90M7.05 13.5h.90M9.05 13.5h.90M18.05 13.5h.90M19.05 13.5h.90M26.05 13.5h.90M27.05 13.5h.90M32.05 13.5h.90M43.05 13.5h.90M45.05 13.5h.90M48.05 13.5h.90M53.05 13.5h.90M54.05 13.5h.90M59.05 13.5h.90M3.05 14.5h.90M7.05 14.5h.90M8.05 14.5h.90M10.05 14.5h.90M11.05 14.5h.90M26.05 14.5h.90M27.05 14.5h.90M28.05 14.5h.90M29.05 14.5h.90M30.05 14.5h.90M33.05 14.5h.90M40.05 14.5h.90M41.05 14.5h.90M43.05 14.5h.90M46.05 14.5h.90M49.05 14.5h.90M5.05 15.5h.90M7.05 15.5h.90M8.05 15.5h.90M10.05 15.5h.90M11.05 15.5h.90M21.05 15.5h.90M25.05 15.5h.90M26.05 15.5h.90M27.05 15.5h.90M28.05 15.5h.90M29.05 15.5h.90M30.05 15.5h.90M31.05 15.5h.90M32.05 15.5h.90M33.05 15.5h.90M34.05 15.5h.90M35.05 15.5h.90M38.05 15.5h.90M41.05 15.5h.90M45.05 15.5h.90M52.05 15.5h.90M54.05 15.5h.90M5.05 16.5h.90M6.05 16.5h.90M7.05 16.5h.90M8.05 16.5h.90M10.05 16.5h.90M11.05 16.5h.90M37.05 16.5h.90M38.05 16.5h.90M39.05 16.5h.90M40.05 16.5h.90M41.05 16.5h.90M45.05 16.5h.90M50.05 16.5h.90M52.05 16.5h.90M53.05 16.5h.90M54.05 16.5h.90M56.05 16.5h.90M57.05 16.5h.90M3.05 17.5h.90M6.05 17.5h.90M7.05 17.5h.90M8.05 17.5h.90M9.05 17.5h.90M11.05 17.5h.90M25.05 17.5h.90M27.05 17.5h.90M31.05 17.5h.90M34.05 17.5h.90M35.05 17.5h.90M37.05 17.5h.90M41.05 17.5h.90M44.05 17.5h.90M49.05 17.5h.90M0.05 18.5h.90M6.05 18.5h.90M7.05 18.5h.90M8.05 18.5h.90M9.05 18.5h.90M10.05 18.5h.90M13.05 18.5h.90M24.05 18.5h.90M25.05 18.5h.90M26.05 18.5h.90M27.05 18.5h.90M32.05 18.5h.90M35.05 18.5h.90M36.05 18.5h.90M42.05 18.5h.90M43.05 18.5h.90M6.05 19.5h.90M7.05 19.5h.90M8.05 19.5h.90M13.05 19.5h.90M26.05 19.5h.90M28.05 19.5h.90M29.05 19.5h.90M30.05 19.5h.90M31.05 19.5h.90M38.05 19.5h.90M39.05 19.5h.90M40.05 19.5h.90M44.05 19.5h.90M7.05 20.5h.90M24.05 20.5h.90M25.05 20.5h.90M26.05 20.5h.90M28.05 20.5h.90M35.05 20.5h.90M38.05 20.5h.90M41.05 20.5h.90M42.05 20.5h.90M43.05 20.5h.90M45.05 20.5h.90M48.05 20.5h.90M50.05 20.5h.90M51.05 20.5h.90M0.05 21.5h.90M4.05 21.5h.90M10.05 21.5h.90M11.05 21.5h.90M15.05 21.5h.90M24.05 21.5h.90M28.05 21.5h.90M30.05 21.5h.90M31.05 21.5h.90M32.05 21.5h.90M34.05 21.5h.90M35.05 21.5h.90M36.05 21.5h.90M37.05 21.5h.90M38.05 21.5h.90M39.05 21.5h.90M40.05 21.5h.90M41.05 21.5h.90M44.05 21.5h.90M45.05 21.5h.90M50.05 21.5h.90M51.05 21.5h.90M5.05 22.5h.90M6.05 22.5h.90M7.05 22.5h.90M8.05 22.5h.90M11.05 22.5h.90M26.05 22.5h.90M31.05 22.5h.90M38.05 22.5h.90M41.05 22.5h.90M45.05 22.5h.90M49.05 22.5h.90M52.05 22.5h.90M53.05 22.5h.90M55.05 22.5h.90M56.05 22.5h.90M57.05 22.5h.90M58.05 22.5h.90M59.05 22.5h.90M3.05 23.5h.90M10.05 23.5h.90M11.05 23.5h.90M26.05 23.5h.90M31.05 23.5h.90M38.05 23.5h.90M40.05 23.5h.90M43.05 23.5h.90M48.05 23.5h.90M49.05 23.5h.90M50.05 23.5h.90M52.05 23.5h.90M53.05 23.5h.90M12.05 24.5h.90M18.05 24.5h.90M20.05 24.5h.90M21.05 24.5h.90M43.05 24.5h.90M45.05 24.5h.90M52.05 24.5h.90M54.05 24.5h.90M55.05 24.5h.90M12.05 25.5h.90M15.05 25.5h.90M17.05 25.5h.90M18.05 25.5h.90M20.05 25.5h.90M42.05 25.5h.90M44.05 25.5h.90M47.05 25.5h.90M52.05 25.5h.90M53.05 25.5h.90M54.05 25.5h.90M55.05 25.5h.90M10.05 26.5h.90M13.05 26.5h.90M14.05 26.5h.90M15.05 26.5h.90M18.05 26.5h.90M19.05 26.5h.90M20.05 26.5h.90M22.05 26.5h.90M23.05 26.5h.90M42.05 26.5h.90M52.05 26.5h.90M55.05 26.5h.90M59.05 26.5h.90M12.05 27.5h.90M13.05 27.5h.90M14.05 27.5h.90M15.05 27.5h.90M17.05 27.5h.90M18.05 27.5h.90M52.05 27.5h.90M53.05 27.5h.90M54.05 27.5h.90M4.05 28.5h.90M12.05 28.5h.90M14.05 28.5h.90M15.05 28.5h.90M19.05 28.5h.90M20.05 28.5h.90M21.05 28.5h.90M42.05 28.5h.90M43.05 28.5h.90M52.05 28.5h.90M54.05 28.5h.90M4.05 29.5h.90M12.05 29.5h.90M14.05 29.5h.90M15.05 29.5h.90M19.05 29.5h.90M42.05 29.5h.90M43.05 29.5h.90M44.05 29.5h.90M52.05 29.5h.90M53.05 29.5h.90M54.05 29.5h.90M4.05 30.5h.90M12.05 30.5h.90M14.05 30.5h.90M15.05 30.5h.90M19.05 30.5h.90M21.05 30.5h.90M42.05 30.5h.90M43.05 30.5h.90M52.05 30.5h.90M53.05 30.5h.90M54.05 30.5h.90M15.05 31.5h.90M17.05 31.5h.90M19.05 31.5h.90M21.05 31.5h.90M22.05 31.5h.90M23.05 31.5h.90M42.05 31.5h.90M43.05 31.5h.90M53.05 31.5h.90M54.05 31.5h.90M6.05 32.5h.90M7.05 32.5h.90M12.05 32.5h.90M13.05 32.5h.90M15.05 32.5h.90M18.05 32.5h.90M21.05 32.5h.90M42.05 32.5h.90M44.05 32.5h.90M45.05 32.5h.90M52.05 32.5h.90M53.05 32.5h.90M54.05 32.5h.90M2.05 33.5h.90M3.05 33.5h.90M5.05 33.5h.90M7.05 33.5h.90M9.05 33.5h.90M10.05 33.5h.90M14.05 33.5h.90M15.05 33.5h.90M42.05 33.5h.90M43.05 33.5h.90M53.05 33.5h.90M54.05 33.5h.90M55.05 33.5h.90M3.05 34.5h.90M7.05 34.5h.90M15.05 34.5h.90M17.05 34.5h.90M21.05 34.5h.90M42.05 34.5h.90M43.05 34.5h.90M45.05 34.5h.90M47.05 34.5h.90M49.05 34.5h.90M50.05 34.5h.90M51.05 34.5h.90M57.05 34.5h.90M58.05 34.5h.90M59.05 34.5h.90M10.05 35.5h.90M15.05 35.5h.90M17.05 35.5h.90M18.05 35.5h.90M20.05 35.5h.90M21.05 35.5h.90M43.05 35.5h.90M44.05 35.5h.90M52.05 35.5h.90M53.05 35.5h.90M54.05 35.5h.90M55.05 35.5h.90M2.05 36.5h.90M10.05 36.5h.90M18.05 36.5h.90M21.05 36.5h.90M42.05 36.5h.90M44.05 36.5h.90M45.05 36.5h.90M49.05 36.5h.90M50.05 36.5h.90M51.05 36.5h.90M58.05 36.5h.90M59.05 36.5h.90M0.05 37.5h.90M10.05 37.5h.90M16.05 37.5h.90M17.05 37.5h.90M21.05 37.5h.90M45.05 37.5h.90M47.05 37.5h.90M52.05 37.5h.90M55.05 37.5h.90M59.05 37.5h.90M3.05 38.5h.90M12.05 38.5h.90M15.05 38.5h.90M16.05 38.5h.90M19.05 38.5h.90M20.05 38.5h.90M21.05 38.5h.90M22.05 38.5h.90M23.05 38.5h.90M16.05 39.5h.90M19.05 39.5h.90M21.05 39.5h.90M42.05 39.5h.90M5.05 40.5h.90M6.05 40.5h.90M9.05 40.5h.90M12.05 40.5h.90M14.05 40.5h.90M16.05 40.5h.90M19.05 40.5h.90M21.05 40.5h.90M23.05 40.5h.90M42.05 40.5h.90M14.05 41.5h.90M15.05 41.5h.90M16.05 41.5h.90M17.05 41.5h.90M20.05 41.5h.90M21.05 41.5h.90M22.05 41.5h.90M43.05 41.5h.90M0.05 42.5h.90M1.05 42.5h.90M3.05 42.5h.90M5.05 42.5h.90M6.05 42.5h.90M7.05 42.5h.90M11.05 42.5h.90M18.05 42.5h.90M20.05 42.5h.90M25.05 42.5h.90M26.05 42.5h.90M28.05 42.5h.90M29.05 42.5h.90M30.05 42.5h.90M31.05 42.5h.90M32.05 42.5h.90M33.05 42.5h.90M34.05 42.5h.90M36.05 42.5h.90M39.05 42.5h.90M40.05 42.5h.90M44.05 42.5h.90M51.05 42.5h.90M52.05 42.5h.90M10.05 43.5h.90M12.05 43.5h.90M13.05 43.5h.90M14.05 43.5h.90M18.05 43.5h.90M20.05 43.5h.90M23.05 43.5h.90M24.05 43.5h.90M28.05 43.5h.90M29.05 43.5h.90M30.05 43.5h.90M31.05 43.5h.90M33.05 43.5h.90M34.05 43.5h.90M35.05 43.5h.90M41.05 43.5h.90M49.05 43.5h.90M53.05 43.5h.90M1.05 44.5h.90M2.05 44.5h.90M3.05 44.5h.90M8.05 44.5h.90M10.05 44.5h.90M11.05 44.5h.90M12.05 44.5h.90M17.05 44.5h.90M19.05 44.5h.90M21.05 44.5h.90M25.05 44.5h.90M29.05 44.5h.90M32.05 44.5h.90M35.05 44.5h.90M36.05 44.5h.90M42.05 44.5h.90M4.05 45.5h.90M5.05 45.5h.90M6.05 45.5h.90M7.05 45.5h.90M8.05 45.5h.90M10.05 45.5h.90M13.05 45.5h.90M15.05 45.5h.90M16.05 45.5h.90M20.05 45.5h.90M21.05 45.5h.90M22.05 45.5h.90M24.05 45.5h.90M32.05 45.5h.90M34.05 45.5h.90M36.05 45.5h.90M37.05 45.5h.90M3.05 46.5h.90M5.05 46.5h.90M6.05 46.5h.90M8.05 46.5h.90M11.05 46.5h.90M14.05 46.5h.90M2.05 47.5h.90M3.05 47.5h.90M4.05 47.5h.90M6.05 47.5h.90M8.05 47.5h.90M9.05 47.5h.90M11.05 47.5h.90M12.05 47.5h.90M25.05 47.5h.90M34.05 47.5h.90M37.05 47.5h.90M3.05 48.5h.90M4.05 48.5h.90M9.05 48.5h.90M11.05 48.5h.90M12.05 48.5h.90M13.05 48.5h.90M20.05 48.5h.90M23.05 48.5h.90M3.05 49.5h.90M6.05 49.5h.90M8.05 49.5h.90M9.05 49.5h.90M10.05 49.5h.90M11.05 49.5h.90M14.05 49.5h.90M17.05 49.5h.90M22.05 49.5h.90M23.05 49.5h.90M34.05 49.5h.90M36.05 49.5h.90M43.05 49.5h.90M6.05 50.5h.90M9.05 50.5h.90M16.05 50.5h.90M20.05 50.5h.90M21.05 50.5h.90M23.05 50.5h.90M34.05 50.5h.90M36.05 50.5h.90M9.05 51.5h.90M10.05 51.5h.90M11.05 51.5h.90M12.05 51.5h.90M20.05 51.5h.90M21.05 51.5h.90M34.05 51.5h.90M36.05 51.5h.90M42.05 51.5h.90M6.05 52.5h.90M8.05 52.5h.90M11.05 52.5h.90M15.05 52.5h.90M16.05 52.5h.90M22.05 52.5h.90M23.05 52.5h.90M24.05 52.5h.90M25.05 52.5h.90M26.05 52.5h.90M27.05 52.5h.90M28.05 52.5h.90M29.05 52.5h.90M30.05 52.5h.90M32.05 52.5h.90M35.05 52.5h.90M37.05 52.5h.90M42.05 52.5h.90M3.05 53.5h.90M7.05 53.5h.90M11.05 53.5h.90M13.05 53.5h.90M16.05 53.5h.90M22.05 53.5h.90M23.05 53.5h.90M25.05 53.5h.90M27.05 53.5h.90M29.05 53.5h.90M30.05 53.5h.90M31.05 53.5h.90M32.05 53.5h.90M33.05 53.5h.90M35.05 53.5h.90M43.05 53.5h.90M3.05 54.5h.90M7.05 54.5h.90M9.05 54.5h.90M11.05 54.5h.90M12.05 54.5h.90M13.05 54.5h.90M15.05 54.5h.90M16.05 54.5h.90M24.05 54.5h.90M25.05 54.5h.90M27.05 54.5h.90M28.05 54.5h.90M29.05 54.5h.90M30.05 54.5h.90M31.05 54.5h.90M32.05 54.5h.90M33.05 54.5h.90M35.05 54.5h.90M7.05 55.5h.90M11.05 55.5h.90M12.05 55.5h.90M22.05 55.5h.90M24.05 55.5h.90M25.05 55.5h.90M26.05 55.5h.90M33.05 55.5h.90M35.05 55.5h.90M37.05 55.5h.90M4.05 56.5h.90M5.05 56.5h.90M12.05 56.5h.90M16.05 56.5h.90M22.05 56.5h.90M8.05 57.5h.90M9.05 57.5h.90M11.05 57.5h.90M12.05 57.5h.90M16.05 57.5h.90M22.05 57.5h.90M34.05 57.5h.90M6.05 58.5h.90M9.05 58.5h.90M11.05 58.5h.90M12.05 58.5h.90M22.05 58.5h.90M34.05 58.5h.90M36.05 58.5h.90M6.05 59.5h.90M8.05 59.5h.90M9.05 59.5h.90M11.05 59.5h.90M12.05 59.5h.90M13.05 59.5h.90M22.05 59.5h.90M26.05 59.5h.90M34.05 59.5h.90M36.05 59.5h.90M37.05 59.5h.90" stroke="#EEFAFC"/>
<path d="M2.05 0.5h.90M5.05 0.5h.90M14.05 0.5h.90M2.05 1.5h.90M0.05 2.5h.90M1.05 2.5h.90M13.05 2.5h.90M18.05 2.5h.90M19.05 2.5h.90M20.05 2.5h.90M21.05 2.5h.90M34.05 2.5h.90M46.05 2.5h.90M12.05 3.5h.90M15.05 3.5h.90M16.05 3.5h.90M22.05 3.5h.90M6.05 4.5h.90M18.05 4.5h.90M19.05 4.5h.90M20.05 4.5h.90M27.05 4.5h.90M31.05 4.5h.90M32.05 4.5h.90M33.05 4.5h.90M43.05 4.5h.90M46.05 4.5h.90M0.05 5.5h.90M14.05 5.5h.90M23.05 5.5h.90M27.05 5.5h.90M28.05 5.5h.90M29.05 5.5h.90M30.05 5.5h.90M32.05 5.5h.90M38.05 5.5h.90M41.05 5.5h.90M4.05 6.5h.90M9.05 6.5h.90M13.05 6.5h.90M23.05 6.5h.90M24.05 6.5h.90M29.05 6.5h.90M30.05 6.5h.90M31.05 6.5h.90M33.05 6.5h.90M34.05 6.5h.90M37.05 6.5h.90M38.05 6.5h.90M39.05 6.5h.90M41.05 6.5h.90M51.05 6.5h.90M56.05 6.5h.90M10.05 7.5h.90M23.05 7.5h.90M25.05 7.5h.90M27.05 7.5h.90M28.05 7.5h.90M29.05 7.5h.90M30.05 7.5h.90M31.05 7.5h.90M38.05 7.5h.90M40.05 7.5h.90M44.05 7.5h.90M46.05 7.5h.90M47.05 7.5h.90M49.05 7.5h.90M57.05 7.5h.90M59.05 7.5h.90M9.05 8.5h.90M10.05 8.5h.90M23.05 8.5h.90M27.05 8.5h.90M28.05 8.5h.90M29.05 8.5h.90M30.05 8.5h.90M31.05 8.5h.90M32.05 8.5h.90M33.05 8.5h.90M34.05 8.5h.90M37.05 8.5h.90M38.05 8.5h.90M39.05 8.5h.90M40.05 8.5h.90M41.05 8.5h.90M50.05 8.5h.90M51.05 8.5h.90M56.05 8.5h.90M58.05 8.5h.90M6.05 9.5h.90M8.05 9.5h.90M15.05 9.5h.90M16.05 9.5h.90M20.05 9.5h.90M21.05 9.5h.90M23.05 9.5h.90M26.05 9.5h.90M28.05 9.5h.90M29.05 9.5h.90M30.05 9.5h.90M32.05 9.5h.90M35.05 9.5h.90M37.05 9.5h.90M38.05 9.5h.90M39.05 9.5h.90M41.05 9.5h.90M43.05 9.5h.90M7.05 10.5h.90M8.05 10.5h.90M24.05 10.5h.90M27.05 10.5h.90M31.05 10.5h.90M32.05 10.5h.90M34.05 10.5h.90M40.05 10.5h.90M41.05 10.5h.90M47.05 10.5h.90M48.05 10.5h.90M50.05 10.5h.90M52.05 10.5h.90M53.05 10.5h.90M54.05 10.5h.90M55.05 10.5h.90M57.05 10.5h.90M58.05 10.5h.90M59.05 10.5h.90M24.05 11.5h.90M26.05 11.5h.90M27.05 11.5h.90M28.05 11.5h.90M29.05 11.5h.90M30.05 11.5h.90M31.05 11.5h.90M32.05 11.5h.90M33.05 11.5h.90M35.05 11.5h.90M36.05 11.5h.90M37.05 11.5h.90M38.05 11.5h.90M39.05 11.5h.90M40.05 11.5h.90M41.05 11.5h.90M43.05 11.5h.90M50.05 11.5h.90M56.05 11.5h.90M3.05 12.5h.90M14.05 12.5h.90M15.05 12.5h.90M16.05 12.5h.90M17.05 12.5h.90M18.05 12.5h.90M20.05 12.5h.90M21.05 12.5h.90M34.05 12.5h.90M35.05 12.5h.90M36.05 12.5h.90M42.05 12.5h.90M45.05 12.5h.90M50.05 12.5h.90M52.05 12.5h.90M53.05 12.5h.90M2.05 13.5h.90M6.05 13.5h.90M14.05 13.5h.90M15.05 13.5h.90M16.05 13.5h.90M17.05 13.5h.90M22.05 13.5h.90M24.05 13.5h.90M33.05 13.5h.90M36.05 13.5h.90M46.05 13.5h.90M56.05 13.5h.90M0.05 14.5h.90M5.05 14.5h.90M12.05 14.5h.90M13.05 14.5h.90M18.05 14.5h.90M19.05 14.5h.90M21.05 14.5h.90M23.05 14.5h.90M25.05 14.5h.90M31.05 14.5h.90M35.05 14.5h.90M47.05 14.5h.90M48.05 14.5h.90M3.05 15.5h.90M9.05 15.5h.90M12.05 15.5h.90M13.05 15.5h.90M18.05 15.5h.90M19.05 15.5h.90M23.05 15.5h.90M49.05 15.5h.90M3.05 16.5h.90M9.05 16.5h.90M12.05 16.5h.90M13.05 16.5h.90M18.05 16.5h.90M19.05 16.5h.90M20.05 16.5h.90M21.05 16.5h.90M25.05 16.5h.90M26.05 16.5h.90M27.05 16.5h.90M28.05 16.5h.90M29.05 16.5h.90M30.05 16.5h.90M31.05 16.5h.90M32.05 16.5h.90M33.05 16.5h.90M34.05 16.5h.90M35.05 16.5h.90M49.05 16.5h.90M12.05 17.5h.90M13.05 17.5h.90M26.05 17.5h.90M32.05 17.5h.90M33.05 17.5h.90M43.05 17.5h.90M46.05 17.5h.90M48.05 17.5h.90M53.05 17.5h.90M54.05 17.5h.90M55.05 17.5h.90M56.05 17.5h.90M57.05 17.5h.90M2.05 18.5h.90M4.05 18.5h.90M12.05 18.5h.90M14.05 18.5h.90M15.05 18.5h.90M16.05 18.5h.90M33.05 18.5h.90M53.05 18.5h.90M54.05 18.5h.90M55.05 18.5h.90M56.05 18.5h.90M57.05 18.5h.90M2.05 19.5h.90M4.05 19.5h.90M14.05 19.5h.90M15.05 19.5h.90M16.05 19.5h.90M24.05 19.5h.90M27.05 19.5h.90M32.05 19.5h.90M34.05 19.5h.90M35.05 19.5h.90M36.05 19.5h.90M41.05 19.5h.90M45.05 19.5h.90M48.05 19.5h.90M50.05 19.5h.90M51.05 19.5h.90M52.05 19.5h.90M2.05 20.5h.90M4.05 20.5h.90M9.05 20.5h.90M12.05 20.5h.90M16.05 20.5h.90M27.05 20.5h.90M32.05 20.5h.90M36.05 20.5h.90M44.05 20.5h.90M46.05 20.5h.90M49.05 20.5h.90M52.05 20.5h.90M58.05 20.5h.90M59.05 20.5h.90M2.05 21.5h.90M9.05 21.5h.90M12.05 21.5h.90M14.05 21.5h.90M16.05 21.5h.90M25.05 21.5h.90M27.05 21.5h.90M42.05 21.5h.90M43.05 21.5h.90M46.05 21.5h.90M48.05 21.5h.90M49.05 21.5h.90M52.05 21.5h.90M53.05 21.5h.90M58.05 21.5h.90M59.05 21.5h.90M3.05 22.5h.90M13.05 22.5h.90M25.05 22.5h.90M27.05 22.5h.90M32.05 22.5h.90M35.05 22.5h.90M43.05 22.5h.90M54.05 22.5h.90M5.05 23.5h.90M6.05 23.5h.90M7.05 23.5h.90M8.05 23.5h.90M9.05 23.5h.90M14.05 23.5h.90M15.05 23.5h.90M24.05 23.5h.90M27.05 23.5h.90M32.05 23.5h.90M42.05 23.5h.90M47.05 23.5h.90M51.05 23.5h.90M55.05 23.5h.90M57.05 23.5h.90M58.05 23.5h.90M59.05 23.5h.90M6.05 24.5h.90M10.05 24.5h.90M11.05 24.5h.90M13.05 24.5h.90M19.05 24.5h.90M23.05 24.5h.90M37.05 24.5h.90M53.05 24.5h.90M58.05 24.5h.90M59.05 24.5h.90M7.05 25.5h.90M14.05 25.5h.90M16.05 25.5h.90M21.05 25.5h.90M22.05 25.5h.90M43.05 25.5h.90M45.05 25.5h.90M49.05 25.5h.90M58.05 25.5h.90M59.05 25.5h.90M9.05 26.5h.90M11.05 26.5h.90M16.05 26.5h.90M17.05 26.5h.90M46.05 26.5h.90M49.05 26.5h.90M57.05 26.5h.90M58.05 26.5h.90M4.05 27.5h.90M5.05 27.5h.90M7.05 27.5h.90M8.05 27.5h.90M10.05 27.5h.90M11.05 27.5h.90M16.05 27.5h.90M19.05 27.5h.90M20.05 27.5h.90M21.05 27.5h.90M22.05 27.5h.90M23.05 27.5h.90M42.05 27.5h.90M43.05 27.5h.90M44.05 27.5h.90M49.05 27.5h.90M55.05 27.5h.90M5.05 28.5h.90M7.05 28.5h.90M8.05 28.5h.90M9.05 28.5h.90M11.05 28.5h.90M16.05 28.5h.90M44.05 28.5h.90M45.05 28.5h.90M46.05 28.5h.90M53.05 28.5h.90M55.05 28.5h.90M5.05 29.5h.90M6.05 29.5h.90M7.05 29.5h.90M8.05 29.5h.90M9.05 29.5h.90M11.05 29.5h.90M16.05 29.5h.90M45.05 29.5h.90M46.05 29.5h.90M47.05 29.5h.90M55.05 29.5h.90M56.05 29.5h.90M59.05 29.5h.90M5.05 30.5h.90M6.05 30.5h.90M7.05 30.5h.90M8.05 30.5h.90M9.05 30.5h.90M11.05 30.5h.90M16.05 30.5h.90M44.05 30.5h.90M45.05 30.5h.90M46.05 30.5h.90M55.05 30.5h.90M4.05 31.5h.90M6.05 31.5h.90M7.05 31.5h.90M8.05 31.5h.90M10.05 31.5h.90M11.05 31.5h.90M14.05 31.5h.90M16.05 31.5h.90M36.05 31.5h.90M44.05 31.5h.90M45.05 31.5h.90M46.05 31.5h.90M47.05 31.5h.90M49.05 31.5h.90M52.05 31.5h.90M55.05 31.5h.90M4.05 32.5h.90M5.05 32.5h.90M8.05 32.5h.90M9.05 32.5h.90M10.05 32.5h.90M11.05 32.5h.90M16.05 32.5h.90M17.05 32.5h.90M19.05 32.5h.90M20.05 32.5h.90M22.05 32.5h.90M23.05 32.5h.90M46.05 32.5h.90M47.05 32.5h.90M49.05 32.5h.90M55.05 32.5h.90M59.05 32.5h.90M4.05 33.5h.90M6.05 33.5h.90M8.05 33.5h.90M11.05 33.5h.90M13.05 33.5h.90M16.05 33.5h.90M17.05 33.5h.90M18.05 33.5h.90M47.05 33.5h.90M49.05 33.5h.90M52.05 33.5h.90M58.05 33.5h.90M59.05 33.5h.90M2.05 34.5h.90M6.05 34.5h.90M8.05 34.5h.90M10.05 34.5h.90M12.05 34.5h.90M16.05 34.5h.90M19.05 34.5h.90M37.05 34.5h.90M39.05 34.5h.90M46.05 34.5h.90M56.05 34.5h.90M9.05 35.5h.90M11.05 35.5h.90M12.05 35.5h.90M14.05 35.5h.90M16.05 35.5h.90M19.05 35.5h.90M22.05 35.5h.90M37.05 35.5h.90M46.05 35.5h.90M47.05 35.5h.90M49.05 35.5h.90M50.05 35.5h.90M56.05 35.5h.90M57.05 35.5h.90M58.05 35.5h.90M59.05 35.5h.90M11.05 36.5h.90M12.05 36.5h.90M13.05 36.5h.90M19.05 36.5h.90M20.05 36.5h.90M31.05 36.5h.90M37.05 36.5h.90M38.05 36.5h.90M39.05 36.5h.90M40.05 36.5h.90M41.05 36.5h.90M43.05 36.5h.90M46.05 36.5h.90M47.05 36.5h.90M56.05 36.5h.90M6.05 37.5h.90M8.05 37.5h.90M9.05 37.5h.90M11.05 37.5h.90M24.05 37.5h.90M34.05 37.5h.90M35.05 37.5h.90M36.05 37.5h.90M42.05 37.5h.90M43.05 37.5h.90M44.05 37.5h.90M46.05 37.5h.90M49.05 37.5h.90M56.05 37.5h.90M57.05 37.5h.90M58.05 37.5h.90M5.05 38.5h.90M6.05 38.5h.90M7.05 38.5h.90M8.05 38.5h.90M9.05 38.5h.90M11.05 38.5h.90M36.05 38.5h.90M43.05 38.5h.90M6.05 39.5h.90M8.05 39.5h.90M9.05 39.5h.90M11.05 39.5h.90M34.05 39.5h.90M36.05 39.5h.90M43.05 39.5h.90M7.05 40.5h.90M8.05 40.5h.90M10.05 40.5h.90M11.05 40.5h.90M36.05 40.5h.90M53.05 40.5h.90M54.05 40.5h.90M5.05 41.5h.90M6.05 41.5h.90M8.05 41.5h.90M9.05 41.5h.90M10.05 41.5h.90M11.05 41.5h.90M19.05 41.5h.90M36.05 41.5h.90M42.05 41.5h.90M45.05 41.5h.90M12.05 42.5h.90M21.05 42.5h.90M23.05 42.5h.90M27.05 42.5h.90M37.05 42.5h.90M41.05 42.5h.90M45.05 42.5h.90M46.05 42.5h.90M49.05 42.5h.90M54.05 42.5h.90M56.05 42.5h.90M57.05 42.5h.90M58.05 42.5h.90M4.05 43.5h.90M9.05 43.5h.90M11.05 43.5h.90M17.05 43.5h.90M21.05 43.5h.90M22.05 43.5h.90M25.05 43.5h.90M27.05 43.5h.90M36.05 43.5h.90M37.05 43.5h.90M38.05 43.5h.90M39.05 43.5h.90M45.05 43.5h.90M51.05 43.5h.90M52.05 43.5h.90M54.05 43.5h.90M55.05 43.5h.90M57.05 43.5h.90M58.05 43.5h.90M7.05 44.5h.90M20.05 44.5h.90M27.05 44.5h.90M28.05 44.5h.90M30.05 44.5h.90M31.05 44.5h.90M37.05 44.5h.90M50.05 44.5h.90M12.05 45.5h.90M19.05 45.5h.90M25.05 45.5h.90M28.05 45.5h.90M29.05 45.5h.90M30.05 45.5h.90M31.05 45.5h.90M41.05 45.5h.90M42.05 45.5h.90M43.05 45.5h.90M49.05 45.5h.90M50.05 45.5h.90M53.05 45.5h.90M2.05 46.5h.90M4.05 46.5h.90M7.05 46.5h.90M13.05 46.5h.90M17.05 46.5h.90M20.05 46.5h.90M21.05 46.5h.90M26.05 46.5h.90M28.05 46.5h.90M29.05 46.5h.90M30.05 46.5h.90M31.05 46.5h.90M32.05 46.5h.90M34.05 46.5h.90M35.05 46.5h.90M36.05 46.5h.90M37.05 46.5h.90M42.05 46.5h.90M7.05 47.5h.90M10.05 47.5h.90M14.05 47.5h.90M23.05 47.5h.90M29.05 47.5h.90M31.05 47.5h.90M32.05 47.5h.90M33.05 47.5h.90M35.05 47.5h.90M36.05 47.5h.90M10.05 48.5h.90M14.05 48.5h.90M17.05 48.5h.90M19.05 48.5h.90M21.05 48.5h.90M7.05 49.5h.90M15.05 49.5h.90M16.05 49.5h.90M20.05 49.5h.90M21.05 49.5h.90M25.05 49.5h.90M26.05 49.5h.90M27.05 49.5h.90M31.05 49.5h.90M32.05 49.5h.90M33.05 49.5h.90M35.05 49.5h.90M37.05 49.5h.90M42.05 49.5h.90M45.05 49.5h.90M8.05 50.5h.90M10.05 50.5h.90M11.05 50.5h.90M12.05 50.5h.90M19.05 50.5h.90M35.05 50.5h.90M44.05 50.5h.90M45.05 50.5h.90M6.05 51.5h.90M8.05 51.5h.90M19.05 51.5h.90M23.05 51.5h.90M43.05 51.5h.90M10.05 52.5h.90M12.05 52.5h.90M19.05 52.5h.90M20.05 52.5h.90M21.05 52.5h.90M31.05 52.5h.90M33.05 52.5h.90M43.05 52.5h.90M10.05 53.5h.90M12.05 53.5h.90M17.05 53.5h.90M18.05 53.5h.90M21.05 53.5h.90M24.05 53.5h.90M28.05 53.5h.90M40.05 53.5h.90M45.05 53.5h.90M10.05 54.5h.90M17.05 54.5h.90M18.05 54.5h.90M22.05 54.5h.90M40.05 54.5h.90M42.05 54.5h.90M43.05 54.5h.90M10.05 55.5h.90M17.05 55.5h.90M18.05 55.5h.90M23.05 55.5h.90M27.05 55.5h.90M28.05 55.5h.90M29.05 55.5h.90M30.05 55.5h.90M31.05 55.5h.90M32.05 55.5h.90M43.05 55.5h.90M6.05 56.5h.90M8.05 56.5h.90M11.05 56.5h.90M13.05 56.5h.90M17.05 56.5h.90M18.05 56.5h.90M29.05 56.5h.90M34.05 56.5h.90M35.05 56.5h.90M36.05 56.5h.90M37.05 56.5h.90M42.05 56.5h.90M7.05 57.5h.90M10.05 57.5h.90M17.05 57.5h.90M18.05 57.5h.90M23.05 57.5h.90M26.05 57.5h.90M35.05 57.5h.90M37.05 57.5h.90M42.05 57.5h.90M43.05 57.5h.90M8.05 58.5h.90M10.05 58.5h.90M20.05 58.5h.90M21.05 58.5h.90M23.05 58.5h.90M24.05 58.5h.90M25.05 58.5h.90M26.05 58.5h.90M33.05 58.5h.90M35.05 58.5h.90M37.05 58.5h.90M42.05 58.5h.90M43.05 58.5h.90M7.05 59.5h.90M10.05 59.5h.90M20.05 59.5h.90M21.05 59.5h.90M23.05 59.5h.90M24.05 59.5h.90M25.05 59.5h.90M29.05 59.5h.90M32.05 59.5h.90M33.05 59.5h.90M35.05 59.5h.90" stroke="#FCFCFC"/>
<path d="M3.05 0.5h.90M46.05 0.5h.90M48.05 0.5h.90M56.05 0.5h.90M57.05 0.5h.90M7.05 1.5h.90M23.05 1.5h.90M0.05 3.5h.90M7.05 3.5h.90M1.05 7.5h.90M3.05 7.5h.90M1.05 23.5h.90M0.05 46.5h.90M0.05 48.5h.90M0.05 56.5h.90M0.05 57.5h.90" stroke="#3587A5"/>
<path d="M4.05 0.5h.90M10.05 0.5h.90M12.05 0.5h.90M20.05 0.5h.90M34.05 0.5h.90M45.05 0.5h.90M15.05 1.5h.90M18.05 1.5h.90M43.05 1.5h.90M27.05 2.5h.90M32.05 2.5h.90M35.05 2.5h.90M42.05 2.5h.90M43.05 2.5h.90M45.05 2.5h.90M49.05 2.5h.90M53.05 2.5h.90M54.05 2.5h.90M4.05 3.5h.90M18.05 3.5h.90M24.05 3.5h.90M25.05 3.5h.90M26.05 3.5h.90M30.05 3.5h.90M36.05 3.5h.90M40.05 3.5h.90M43.05 3.5h.90M45.05 3.5h.90M55.05 3.5h.90M56.05 3.5h.90M59.05 3.5h.90M0.05 4.5h.90M3.05 4.5h.90M37.05 4.5h.90M38.05 4.5h.90M41.05 4.5h.90M54.05 4.5h.90M17.05 5.5h.90M18.05 5.5h.90M19.05 5.5h.90M21.05 5.5h.90M39.05 5.5h.90M48.05 5.5h.90M51.05 5.5h.90M12.05 6.5h.90M14.05 6.5h.90M15.05 6.5h.90M20.05 6.5h.90M21.05 6.5h.90M54.05 6.5h.90M55.05 6.5h.90M57.05 6.5h.90M21.05 7.5h.90M12.05 8.5h.90M20.05 8.5h.90M42.05 8.5h.90M53.05 8.5h.90M54.05 8.5h.90M55.05 8.5h.90M12.05 9.5h.90M19.05 9.5h.90M42.05 9.5h.90M45.05 9.5h.90M52.05 9.5h.90M53.05 9.5h.90M55.05 9.5h.90M0.05 10.5h.90M20.05 10.5h.90M22.05 10.5h.90M42.05 10.5h.90M12.05 11.5h.90M18.05 11.5h.90M19.05 11.5h.90M20.05 11.5h.90M45.05 11.5h.90M0.05 12.5h.90M6.05 12.5h.90M8.05 12.5h.90M9.05 12.5h.90M11.05 12.5h.90M26.05 12.5h.90M31.05 12.5h.90M37.05 12.5h.90M39.05 12.5h.90M41.05 12.5h.90M20.05 13.5h.90M28.05 13.5h.90M29.05 13.5h.90M30.05 13.5h.90M31.05 13.5h.90M39.05 13.5h.90M40.05 13.5h.90M41.05 13.5h.90M44.05 13.5h.90M47.05 13.5h.90M52.05 13.5h.90M55.05 13.5h.90M58.05 13.5h.90M6.05 14.5h.90M20.05 14.5h.90M37.05 14.5h.90M38.05 14.5h.90M39.05 14.5h.90M42.05 14.5h.90M45.05 14.5h.90M52.05 14.5h.90M54.05 14.5h.90M56.05 14.5h.90M1.05 15.5h.90M6.05 15.5h.90M20.05 15.5h.90M37.05 15.5h.90M39.05 15.5h.90M40.05 15.5h.90M42.05 15.5h.90M43.05 15.5h.90M44.05 15.5h.90M50.05 15.5h.90M51.05 15.5h.90M53.05 15.5h.90M55.05 15.5h.90M56.05 15.5h.90M57.05 15.5h.90M58.05 15.5h.90M59.05 15.5h.90M42.05 16.5h.90M43.05 16.5h.90M44.05 16.5h.90M51.05 16.5h.90M55.05 16.5h.90M58.05 16.5h.90M59.05 16.5h.90M5.05 17.5h.90M28.05 17.5h.90M29.05 17.5h.90M30.05 17.5h.90M38.05 17.5h.90M39.05 17.5h.90M40.05 17.5h.90M45.05 17.5h.90M51.05 17.5h.90M52.05 17.5h.90M58.05 17.5h.90M1.05 18.5h.90M3.05 18.5h.90M5.05 18.5h.90M11.05 18.5h.90M28.05 18.5h.90M29.05 18.5h.90M30.05 18.5h.90M31.05 18.5h.90M34.05 18.5h.90M37.05 18.5h.90M38.05 18.5h.90M39.05 18.5h.90M40.05 18.5h.90M44.05 18.5h.90M46.05 18.5h.90M47.05 18.5h.90M48.05 18.5h.90M49.05 18.5h.90M50.05 18.5h.90M51.05 18.5h.90M52.05 18.5h.90M58.05 18.5h.90M5.05 19.5h.90M9.05 19.5h.90M11.05 19.5h.90M37.05 19.5h.90M0.05 20.5h.90M6.05 20.5h.90M8.05 20.5h.90M10.05 20.5h.90M11.05 20.5h.90M13.05 20.5h.90M14.05 20.5h.90M15.05 20.5h.90M29.05 20.5h.90M30.05 20.5h.90M31.05 20.5h.90M34.05 20.5h.90M37.05 20.5h.90M39.05 20.5h.90M40.05 20.5h.90M5.05 21.5h.90M6.05 21.5h.90M7.05 21.5h.90M26.05 21.5h.90M29.05 21.5h.90M10.05 22.5h.90M28.05 22.5h.90M29.05 22.5h.90M30.05 22.5h.90M37.05 22.5h.90M39.05 22.5h.90M44.05 22.5h.90M50.05 22.5h.90M51.05 22.5h.90M28.05 23.5h.90M29.05 23.5h.90M30.05 23.5h.90M39.05 23.5h.90M41.05 23.5h.90M44.05 23.5h.90M3.05 24.5h.90M42.05 24.5h.90M44.05 24.5h.90M3.05 25.5h.90M3.05 26.5h.90M12.05 26.5h.90M21.05 26.5h.90M53.05 26.5h.90M54.05 26.5h.90M2.05 27.5h.90M13.05 28.5h.90M17.05 28.5h.90M18.05 28.5h.90M22.05 28.5h.90M23.05 28.5h.90M13.05 29.5h.90M17.05 29.5h.90M18.05 29.5h.90M20.05 29.5h.90M21.05 29.5h.90M22.05 29.5h.90M23.05 29.5h.90M3.05 30.5h.90M13.05 30.5h.90M17.05 30.5h.90M18.05 30.5h.90M20.05 30.5h.90M22.05 30.5h.90M23.05 30.5h.90M12.05 31.5h.90M13.05 31.5h.90M18.05 31.5h.90M20.05 31.5h.90M2.05 32.5h.90M43.05 32.5h.90M0.05 34.5h.90M18.05 34.5h.90M20.05 34.5h.90M44.05 34.5h.90M54.05 34.5h.90M55.05 34.5h.90M2.05 35.5h.90M42.05 35.5h.90M3.05 36.5h.90M52.05 36.5h.90M54.05 36.5h.90M55.05 36.5h.90M57.05 36.5h.90M4.05 37.5h.90M12.05 37.5h.90M14.05 37.5h.90M15.05 37.5h.90M18.05 37.5h.90M19.05 37.5h.90M20.05 37.5h.90M22.05 37.5h.90M53.05 37.5h.90M4.05 38.5h.90M14.05 38.5h.90M17.05 38.5h.90M18.05 38.5h.90M42.05 38.5h.90M5.05 39.5h.90M12.05 39.5h.90M13.05 39.5h.90M14.05 39.5h.90M15.05 39.5h.90M17.05 39.5h.90M18.05 39.5h.90M20.05 39.5h.90M22.05 39.5h.90M23.05 39.5h.90M3.05 40.5h.90M13.05 40.5h.90M15.05 40.5h.90M17.05 40.5h.90M18.05 40.5h.90M20.05 40.5h.90M43.05 40.5h.90M4.05 41.5h.90M12.05 41.5h.90M13.05 41.5h.90M23.05 41.5h.90M2.05 42.5h.90M8.05 42.5h.90M9.05 42.5h.90M10.05 42.5h.90M14.05 42.5h.90M15.05 42.5h.90M16.05 42.5h.90M24.05 42.5h.90M35.05 42.5h.90M38.05 42.5h.90M50.05 42.5h.90M53.05 42.5h.90M1.05 43.5h.90M2.05 43.5h.90M3.05 43.5h.90M15.05 43.5h.90M16.05 43.5h.90M32.05 43.5h.90M40.05 43.5h.90M50.05 43.5h.90M13.05 44.5h.90M15.05 44.5h.90M16.05 44.5h.90M18.05 44.5h.90M22.05 44.5h.90M23.05 44.5h.90M24.05 44.5h.90M34.05 44.5h.90M0.05 45.5h.90M2.05 45.5h.90M3.05 45.5h.90M9.05 45.5h.90M11.05 45.5h.90M14.05 45.5h.90M17.05 45.5h.90M18.05 46.5h.90M13.05 47.5h.90M18.05 47.5h.90M5.05 48.5h.90M18.05 48.5h.90M2.05 49.5h.90M18.05 49.5h.90M15.05 50.5h.90M18.05 50.5h.90M22.05 50.5h.90M42.05 50.5h.90M43.05 50.5h.90M5.05 51.5h.90M15.05 51.5h.90M16.05 51.5h.90M17.05 51.5h.90M18.05 51.5h.90M22.05 51.5h.90M9.05 52.5h.90M13.05 52.5h.90M14.05 52.5h.90M17.05 52.5h.90M18.05 52.5h.90M36.05 52.5h.90M2.05 53.5h.90M8.05 53.5h.90M9.05 53.5h.90M15.05 53.5h.90M26.05 53.5h.90M37.05 53.5h.90M42.05 53.5h.90M2.05 54.5h.90M4.05 54.5h.90M6.05 54.5h.90M8.05 54.5h.90M14.05 54.5h.90M26.05 54.5h.90M34.05 54.5h.90M36.05 54.5h.90M3.05 55.5h.90M6.05 55.5h.90M8.05 55.5h.90M9.05 55.5h.90M13.05 55.5h.90M15.05 55.5h.90M16.05 55.5h.90M34.05 55.5h.90M36.05 55.5h.90M3.05 56.5h.90M14.05 56.5h.90M15.05 56.5h.90M6.05 57.5h.90M15.05 57.5h.90M36.05 57.5h.90M13.05 58.5h.90M15.05 58.5h.90M16.05 58.5h.90M17.05 58.5h.90M18.05 58.5h.90M3.05 59.5h.90M15.05 59.5h.90M16.05 59.5h.90" stroke="#DDF1F6"/>
<path d="M6.05 0.5h.90M9.05 0.5h.90M13.05 0.5h.90M15.05 0.5h.90M16.05 0.5h.90M17.05 0.5h.90M29.05 0.5h.90M30.05 0.5h.90M31.05 0.5h.90M32.05 0.5h.90M6.05 1.5h.90M10.05 1.5h.90M14.05 1.5h.90M16.05 1.5h.90M17.05 1.5h.90M26.05 1.5h.90M28.05 1.5h.90M29.05 1.5h.90M30.05 1.5h.90M33.05 1.5h.90M38.05 1.5h.90M40.05 1.5h.90M45.05 1.5h.90M49.05 1.5h.90M52.05 1.5h.90M53.05 1.5h.90M55.05 1.5h.90M24.05 2.5h.90M25.05 2.5h.90M26.05 2.5h.90M31.05 2.5h.90M38.05 2.5h.90M40.05 2.5h.90M48.05 2.5h.90M51.05 2.5h.90M52.05 2.5h.90M55.05 2.5h.90M56.05 2.5h.90M59.05 2.5h.90M6.05 3.5h.90M8.05 3.5h.90M11.05 3.5h.90M19.05 3.5h.90M20.05 3.5h.90M21.05 3.5h.90M27.05 3.5h.90M28.05 3.5h.90M29.05 3.5h.90M31.05 3.5h.90M32.05 3.5h.90M35.05 3.5h.90M39.05 3.5h.90M50.05 3.5h.90M51.05 3.5h.90M52.05 3.5h.90M57.05 3.5h.90M58.05 3.5h.90M39.05 4.5h.90M40.05 4.5h.90M42.05 4.5h.90M49.05 4.5h.90M50.05 4.5h.90M59.05 4.5h.90M12.05 5.5h.90M20.05 5.5h.90M47.05 5.5h.90M50.05 5.5h.90M58.05 5.5h.90M0.05 6.5h.90M1.05 6.5h.90M3.05 6.5h.90M53.05 6.5h.90M12.05 7.5h.90M3.05 8.5h.90M21.05 8.5h.90M0.05 9.5h.90M44.05 9.5h.90M1.05 10.5h.90M12.05 10.5h.90M17.05 10.5h.90M19.05 10.5h.90M3.05 11.5h.90M5.05 12.5h.90M7.05 12.5h.90M10.05 12.5h.90M0.05 13.5h.90M21.05 13.5h.90M37.05 13.5h.90M42.05 13.5h.90M49.05 13.5h.90M50.05 13.5h.90M51.05 13.5h.90M57.05 13.5h.90M1.05 14.5h.90M44.05 14.5h.90M50.05 14.5h.90M51.05 14.5h.90M53.05 14.5h.90M55.05 14.5h.90M57.05 14.5h.90M58.05 14.5h.90M59.05 14.5h.90M0.05 15.5h.90M0.05 16.5h.90M1.05 16.5h.90M0.05 17.5h.90M1.05 17.5h.90M10.05 17.5h.90M50.05 17.5h.90M59.05 17.5h.90M41.05 18.5h.90M45.05 18.5h.90M59.05 18.5h.90M3.05 19.5h.90M10.05 19.5h.90M3.05 20.5h.90M5.05 20.5h.90M3.05 21.5h.90M8.05 21.5h.90M13.05 21.5h.90M40.05 22.5h.90M37.05 23.5h.90M2.05 24.5h.90M2.05 25.5h.90M1.05 26.5h.90M2.05 26.5h.90M3.05 27.5h.90M1.05 28.5h.90M3.05 28.5h.90M0.05 29.5h.90M1.05 29.5h.90M3.05 29.5h.90M0.05 30.5h.90M1.05 30.5h.90M0.05 31.5h.90M2.05 31.5h.90M3.05 31.5h.90M0.05 32.5h.90M3.05 32.5h.90M1.05 33.5h.90M52.05 34.5h.90M53.05 34.5h.90M3.05 35.5h.90M53.05 36.5h.90M13.05 37.5h.90M23.05 37.5h.90M54.05 37.5h.90M1.05 38.5h.90M2.05 38.5h.90M3.05 39.5h.90M4.05 39.5h.90M1.05 40.5h.90M2.05 40.5h.90M4.05 40.5h.90M22.05 40.5h.90M18.05 41.5h.90M4.05 42.5h.90M13.05 42.5h.90M9.05 44.5h.90M14.05 44.5h.90M1.05 45.5h.90M18.05 45.5h.90M5.05 47.5h.90M2.05 48.5h.90M1.05 49.5h.90M4.05 49.5h.90M13.05 49.5h.90M3.05 50.5h.90M4.05 50.5h.90M5.05 50.5h.90M13.05 50.5h.90M14.05 50.5h.90M17.05 50.5h.90M2.05 51.5h.90M3.05 51.5h.90M13.05 51.5h.90M14.05 51.5h.90M1.05 52.5h.90M2.05 52.5h.90M3.05 52.5h.90M34.05 52.5h.90M1.05 53.5h.90M6.05 53.5h.90M14.05 53.5h.90M34.05 53.5h.90M36.05 53.5h.90M37.05 54.5h.90M1.05 55.5h.90M2.05 55.5h.90M14.05 55.5h.90M2.05 56.5h.90M3.05 57.5h.90M13.05 57.5h.90M14.05 57.5h.90M3.05 58.5h.90M5.05 58.5h.90M14.05 58.5h.90M2.05 59.5h.90M4.05 59.5h.90M14.05 59.5h.90M17.05 59.5h.90M18.05 59.5h.90" stroke="#C5E4EC"/>
<path d="M7.05 0.5h.90M8.05 0.5h.90M19.05 0.5h.90M22.05 0.5h.90M23.05 0.5h.90M26.05 0.5h.90M27.05 0.5h.90M28.05 0.5h.90M35.05 0.5h.90M36.05 0.5h.90M41.05 0.5h.90M43.05 0.5h.90M44.05 0.5h.90M53.05 0.5h.90M55.05 0.5h.90M4.05 1.5h.90M5.05 1.5h.90M8.05 1.5h.90M11.05 1.5h.90M20.05 1.5h.90M27.05 1.5h.90M31.05 1.5h.90M32.05 1.5h.90M34.05 1.5h.90M36.05 1.5h.90M37.05 1.5h.90M39.05 1.5h.90M46.05 1.5h.90M47.05 1.5h.90M48.05 1.5h.90M50.05 1.5h.90M51.05 1.5h.90M54.05 1.5h.90M57.05 1.5h.90M59.05 1.5h.90M5.05 2.5h.90M6.05 2.5h.90M10.05 2.5h.90M28.05 2.5h.90M29.05 2.5h.90M30.05 2.5h.90M37.05 2.5h.90M39.05 2.5h.90M41.05 2.5h.90M50.05 2.5h.90M57.05 2.5h.90M58.05 2.5h.90M5.05 3.5h.90M37.05 3.5h.90M41.05 3.5h.90M1.05 4.5h.90M44.05 4.5h.90M51.05 4.5h.90M52.05 4.5h.90M53.05 4.5h.90M55.05 4.5h.90M57.05 4.5h.90M58.05 4.5h.90M1.05 5.5h.90M2.05 5.5h.90M3.05 5.5h.90M44.05 5.5h.90M49.05 5.5h.90M52.05 5.5h.90M54.05 5.5h.90M55.05 5.5h.90M57.05 5.5h.90M59.05 5.5h.90M2.05 6.5h.90M0.05 7.5h.90M0.05 8.5h.90M1.05 8.5h.90M2.05 10.5h.90M1.05 11.5h.90M0.05 19.5h.90M1.05 20.5h.90M0.05 22.5h.90M0.05 23.5h.90M0.05 26.5h.90M0.05 27.5h.90M1.05 27.5h.90M0.05 28.5h.90M2.05 28.5h.90M2.05 29.5h.90M2.05 30.5h.90M1.05 31.5h.90M1.05 32.5h.90M1.05 34.5h.90M0.05 35.5h.90M0.05 36.5h.90M1.05 36.5h.90M1.05 37.5h.90M2.05 37.5h.90M3.05 37.5h.90M1.05 39.5h.90M2.05 39.5h.90M0.05 41.5h.90M2.05 41.5h.90M3.05 41.5h.90M0.05 43.5h.90M0.05 44.5h.90M4.05 44.5h.90M5.05 44.5h.90M1.05 46.5h.90M1.05 47.5h.90M1.05 48.5h.90M5.05 49.5h.90M1.05 50.5h.90M2.05 50.5h.90M1.05 51.5h.90M4.05 51.5h.90M4.05 52.5h.90M5.05 52.5h.90M0.05 53.5h.90M4.05 53.5h.90M1.05 54.5h.90M5.05 54.5h.90M0.05 55.5h.90M4.05 55.5h.90M5.05 55.5h.90M1.05 57.5h.90M2.05 57.5h.90M4.05 57.5h.90M5.05 57.5h.90M2.05 58.5h.90M4.05 58.5h.90M1.05 59.5h.90M5.05 59.5h.90" stroke="#ACD5E2"/>
<path d="M24.05 0.5h.90M38.05 0.5h.90M49.05 0.5h.90M51.05 0.5h.90M59.05 0.5h.90M35.05 1.5h.90M0.05 24.5h.90M1.05 35.5h.90M0.05 38.5h.90M0.05 49.5h.90M0.05 51.5h.90M0.05 59.5h.90" stroke="#559FB8"/>
<path d="M25.05 0.5h.90M33.05 0.5h.90M39.05 0.5h.90M40.05 0.5h.90M47.05 0.5h.90M50.05 0.5h.90M52.05 0.5h.90M54.05 0.5h.90M58.05 0.5h.90M9.05 1.5h.90M19.05 1.5h.90M21.05 1.5h.90M22.05 1.5h.90M24.05 1.5h.90M25.05 1.5h.90M41.05 1.5h.90M56.05 1.5h.90M58.05 1.5h.90M8.05 2.5h.90M11.05 2.5h.90M53.05 5.5h.90M2.05 8.5h.90M1.05 9.5h.90M2.05 11.5h.90M1.05 19.5h.90M1.05 21.5h.90M1.05 22.5h.90M1.05 24.5h.90M0.05 25.5h.90M1.05 25.5h.90M0.05 33.5h.90M0.05 39.5h.90M0.05 40.5h.90M1.05 41.5h.90M0.05 47.5h.90M0.05 50.5h.90M0.05 52.5h.90M5.05 53.5h.90M0.05 54.5h.90M1.05 56.5h.90M0.05 58.5h.90M1.05 58.5h.90" stroke="#88BED1"/>
<path d="M3.05 1.5h.90M1.05 3.5h.90M8.05 6.5h.90M43.05 6.5h.90M6.05 8.5h.90M15.05 14.5h.90M16.05 14.5h.90M14.05 15.5h.90M17.05 15.5h.90M14.05 16.5h.90M17.05 16.5h.90M22.05 16.5h.90M15.05 17.5h.90M16.05 17.5h.90M18.05 17.5h.90M17.05 18.5h.90M19.05 18.5h.90M18.05 19.5h.90M22.05 19.5h.90M22.05 21.5h.90M16.05 22.5h.90M19.05 22.5h.90M21.05 22.5h.90M27.05 25.5h.90M28.05 26.5h.90M29.05 26.5h.90M30.05 26.5h.90M37.05 26.5h.90M41.05 26.5h.90M25.05 27.5h.90M40.05 27.5h.90M26.05 28.5h.90M31.05 28.5h.90M38.05 28.5h.90M39.05 28.5h.90M26.05 29.5h.90M31.05 29.5h.90M38.05 29.5h.90M39.05 29.5h.90M26.05 30.5h.90M38.05 30.5h.90M40.05 30.5h.90M28.05 31.5h.90M29.05 31.5h.90M40.05 31.5h.90M35.05 33.5h.90M33.05 35.5h.90M26.05 37.5h.90M28.05 38.5h.90M29.05 38.5h.90M30.05 38.5h.90M48.05 38.5h.90M58.05 38.5h.90M28.05 39.5h.90M29.05 39.5h.90M51.05 39.5h.90M27.05 40.5h.90M30.05 40.5h.90M31.05 40.5h.90M41.05 40.5h.90M26.05 41.5h.90M40.05 41.5h.90M6.05 43.5h.90M56.05 46.5h.90M54.05 47.5h.90M59.05 47.5h.90M38.05 48.5h.90M59.05 48.5h.90M57.05 49.5h.90M39.05 51.5h.90M54.05 52.5h.90M56.05 52.5h.90M57.05 53.5h.90M58.05 53.5h.90M59.05 53.5h.90M47.05 54.5h.90M52.05 54.5h.90M56.05 54.5h.90M58.05 54.5h.90M56.05 55.5h.90M58.05 55.5h.90M59.05 55.5h.90M46.05 56.5h.90M52.05 56.5h.90M54.05 56.5h.90M55.05 56.5h.90M57.05 56.5h.90M49.05 57.5h.90M53.05 57.5h.90M56.05 57.5h.90M38.05 58.5h.90M53.05 58.5h.90M54.05 58.5h.90M55.05 58.5h.90M47.05 59.5h.90M48.05 59.5h.90M53.05 59.5h.90M55.05 59.5h.90" stroke="#FD762F"/>
<path d="M3.05 2.5h.90M14.05 2.5h.90M22.05 2.5h.90M2.05 3.5h.90M7.05 4.5h.90M22.05 4.5h.90M7.05 5.5h.90M8.05 5.5h.90M24.05 5.5h.90M25.05 5.5h.90M26.05 5.5h.90M11.05 6.5h.90M4.05 7.5h.90M5.05 7.5h.90M11.05 7.5h.90M24.05 7.5h.90M35.05 7.5h.90M36.05 7.5h.90M5.05 8.5h.90M24.05 9.5h.90M6.05 11.5h.90M7.05 11.5h.90M25.05 11.5h.90M2.05 14.5h.90M17.05 14.5h.90M34.05 14.5h.90M47.05 15.5h.90M47.05 16.5h.90M48.05 16.5h.90M14.05 17.5h.90M21.05 17.5h.90M24.05 17.5h.90M33.05 19.5h.90M42.05 19.5h.90M54.05 19.5h.90M57.05 19.5h.90M22.05 20.5h.90M55.05 20.5h.90M17.05 21.5h.90M2.05 22.5h.90M4.05 22.5h.90M20.05 22.5h.90M24.05 22.5h.90M36.05 22.5h.90M36.05 23.5h.90M46.05 23.5h.90M5.05 24.5h.90M7.05 24.5h.90M9.05 24.5h.90M17.05 24.5h.90M22.05 24.5h.90M36.05 24.5h.90M41.05 24.5h.90M46.05 24.5h.90M47.05 24.5h.90M50.05 24.5h.90M5.05 25.5h.90M11.05 25.5h.90M35.05 25.5h.90M40.05 25.5h.90M41.05 25.5h.90M46.05 25.5h.90M56.05 25.5h.90M5.05 26.5h.90M36.05 26.5h.90M51.05 26.5h.90M50.05 27.5h.90M33.05 28.5h.90M35.05 28.5h.90M57.05 28.5h.90M58.05 28.5h.90M33.05 29.5h.90M35.05 29.5h.90M51.05 29.5h.90M33.05 30.5h.90M35.05 30.5h.90M51.05 30.5h.90M34.05 31.5h.90M35.05 31.5h.90M37.05 32.5h.90M48.05 32.5h.90M19.05 33.5h.90M28.05 33.5h.90M29.05 33.5h.90M30.05 33.5h.90M38.05 33.5h.90M45.05 33.5h.90M51.05 33.5h.90M14.05 34.5h.90M31.05 34.5h.90M38.05 34.5h.90M7.05 35.5h.90M25.05 35.5h.90M28.05 35.5h.90M29.05 35.5h.90M30.05 35.5h.90M31.05 35.5h.90M38.05 35.5h.90M7.05 36.5h.90M22.05 36.5h.90M23.05 36.5h.90M24.05 36.5h.90M26.05 36.5h.90M32.05 37.5h.90M39.05 37.5h.90M40.05 37.5h.90M51.05 37.5h.90M33.05 38.5h.90M34.05 38.5h.90M35.05 38.5h.90M45.05 38.5h.90M46.05 38.5h.90M47.05 38.5h.90M50.05 38.5h.90M55.05 38.5h.90M37.05 39.5h.90M45.05 39.5h.90M49.05 39.5h.90M53.05 39.5h.90M25.05 40.5h.90M37.05 40.5h.90M52.05 40.5h.90M56.05 40.5h.90M24.05 41.5h.90M25.05 41.5h.90M49.05 41.5h.90M52.05 41.5h.90M55.05 41.5h.90M19.05 42.5h.90M55.05 42.5h.90M44.05 43.5h.90M43.05 44.5h.90M45.05 44.5h.90M48.05 44.5h.90M53.05 44.5h.90M54.05 44.5h.90M56.05 44.5h.90M59.05 44.5h.90M33.05 45.5h.90M38.05 45.5h.90M39.05 45.5h.90M44.05 45.5h.90M58.05 45.5h.90M59.05 45.5h.90M23.05 46.5h.90M24.05 46.5h.90M25.05 46.5h.90M38.05 46.5h.90M47.05 46.5h.90M48.05 46.5h.90M54.05 46.5h.90M57.05 46.5h.90M58.05 46.5h.90M15.05 47.5h.90M16.05 47.5h.90M24.05 47.5h.90M38.05 47.5h.90M46.05 47.5h.90M16.05 48.5h.90M32.05 48.5h.90M44.05 48.5h.90M46.05 48.5h.90M50.05 48.5h.90M53.05 48.5h.90M39.05 49.5h.90M41.05 49.5h.90M24.05 50.5h.90M27.05 50.5h.90M38.05 50.5h.90M48.05 50.5h.90M26.05 51.5h.90M29.05 51.5h.90M30.05 51.5h.90M33.05 51.5h.90M37.05 51.5h.90M55.05 51.5h.90M40.05 52.5h.90M41.05 52.5h.90M39.05 53.5h.90M44.05 53.5h.90M48.05 53.5h.90M19.05 54.5h.90M44.05 54.5h.90M46.05 54.5h.90M20.05 55.5h.90M38.05 55.5h.90M41.05 55.5h.90M42.05 55.5h.90M51.05 55.5h.90M25.05 56.5h.90M40.05 56.5h.90M44.05 56.5h.90M19.05 57.5h.90M28.05 57.5h.90M46.05 57.5h.90M28.05 58.5h.90M45.05 58.5h.90M46.05 58.5h.90M44.05 59.5h.90M45.05 59.5h.90" stroke="#FFB436"/>
<path d="M7.05 2.5h.90M2.05 7.5h.90" stroke="#05668A"/>
<path d="M12.05 2.5h.90M26.05 4.5h.90M11.05 5.5h.90M31.05 5.5h.90M37.05 5.5h.90M27.05 6.5h.90M35.05 6.5h.90M36.05 6.5h.90M9.05 7.5h.90M26.05 7.5h.90M50.05 7.5h.90M51.05 7.5h.90M58.05 7.5h.90M11.05 8.5h.90M13.05 8.5h.90M25.05 8.5h.90M43.05 8.5h.90M7.05 9.5h.90M22.05 9.5h.90M27.05 9.5h.90M34.05 9.5h.90M39.05 10.5h.90M46.05 10.5h.90M5.05 11.5h.90M8.05 11.5h.90M2.05 12.5h.90M46.05 12.5h.90M49.05 12.5h.90M8.05 13.5h.90M25.05 13.5h.90M23.05 16.5h.90M46.05 16.5h.90M47.05 17.5h.90M23.05 18.5h.90M46.05 19.5h.90M47.05 19.5h.90M53.05 19.5h.90M33.05 20.5h.90M47.05 20.5h.90M56.05 20.5h.90M33.05 21.5h.90M57.05 21.5h.90M9.05 22.5h.90M33.05 22.5h.90M48.05 22.5h.90M16.05 23.5h.90M18.05 23.5h.90M34.05 23.5h.90M54.05 23.5h.90M39.05 24.5h.90M40.05 24.5h.90M57.05 24.5h.90M8.05 25.5h.90M13.05 25.5h.90M36.05 25.5h.90M37.05 25.5h.90M48.05 25.5h.90M4.05 26.5h.90M7.05 26.5h.90M43.05 26.5h.90M45.05 26.5h.90M56.05 26.5h.90M6.05 27.5h.90M9.05 27.5h.90M45.05 27.5h.90M46.05 27.5h.90M56.05 27.5h.90M59.05 27.5h.90M47.05 28.5h.90M56.05 28.5h.90M49.05 29.5h.90M5.05 31.5h.90M33.05 31.5h.90M56.05 31.5h.90M50.05 32.5h.90M51.05 32.5h.90M20.05 33.5h.90M21.05 33.5h.90M22.05 33.5h.90M31.05 33.5h.90M37.05 33.5h.90M44.05 33.5h.90M57.05 33.5h.90M9.05 34.5h.90M23.05 34.5h.90M48.05 34.5h.90M6.05 35.5h.90M39.05 35.5h.90M45.05 35.5h.90M51.05 35.5h.90M6.05 36.5h.90M25.05 36.5h.90M5.05 37.5h.90M25.05 37.5h.90M33.05 37.5h.90M48.05 37.5h.90M10.05 39.5h.90M24.05 39.5h.90M35.05 39.5h.90M24.05 40.5h.90M44.05 40.5h.90M47.05 40.5h.90M55.05 40.5h.90M46.05 41.5h.90M8.05 43.5h.90M26.05 43.5h.90M46.05 43.5h.90M33.05 44.5h.90M40.05 44.5h.90M46.05 44.5h.90M26.05 45.5h.90M27.05 45.5h.90M35.05 45.5h.90M47.05 45.5h.90M48.05 45.5h.90M55.05 45.5h.90M10.05 46.5h.90M12.05 46.5h.90M16.05 46.5h.90M19.05 46.5h.90M27.05 46.5h.90M41.05 46.5h.90M43.05 46.5h.90M44.05 46.5h.90M49.05 46.5h.90M50.05 46.5h.90M53.05 46.5h.90M55.05 46.5h.90M17.05 47.5h.90M19.05 47.5h.90M20.05 47.5h.90M28.05 47.5h.90M40.05 47.5h.90M45.05 47.5h.90M50.05 47.5h.90M22.05 48.5h.90M25.05 48.5h.90M34.05 48.5h.90M37.05 48.5h.90M45.05 48.5h.90M12.05 49.5h.90M29.05 49.5h.90M46.05 49.5h.90M56.05 49.5h.90M7.05 50.5h.90M32.05 50.5h.90M46.05 50.5h.90M47.05 50.5h.90M56.05 50.5h.90M7.05 51.5h.90M32.05 51.5h.90M35.05 51.5h.90M19.05 53.5h.90M46.05 53.5h.90M23.05 54.5h.90M40.05 55.5h.90M45.05 55.5h.90M46.05 55.5h.90M20.05 56.5h.90M26.05 56.5h.90M27.05 56.5h.90M28.05 56.5h.90M31.05 56.5h.90M49.05 56.5h.90M50.05 56.5h.90M21.05 57.5h.90M24.05 57.5h.90M33.05 57.5h.90M7.05 58.5h.90M27.05 59.5h.90" stroke="#FFE3BD"/>
<path d="M15.05 2.5h.90M16.05 2.5h.90M8.05 4.5h.90M9.05 4.5h.90M17.05 4.5h.90M23.05 4.5h.90M34.05 4.5h.90M6.05 5.5h.90M9.05 5.5h.90M34.05 5.5h.90M35.05 5.5h.90M5.05 6.5h.90M10.05 6.5h.90M25.05 6.5h.90M26.05 6.5h.90M37.05 7.5h.90M43.05 7.5h.90M4.05 8.5h.90M24.05 8.5h.90M36.05 8.5h.90M4.05 9.5h.90M5.05 9.5h.90M11.05 9.5h.90M56.05 9.5h.90M6.05 10.5h.90M13.05 10.5h.90M38.05 10.5h.90M56.05 10.5h.90M9.05 11.5h.90M13.05 11.5h.90M13.05 12.5h.90M19.05 12.5h.90M23.05 12.5h.90M10.05 13.5h.90M11.05 13.5h.90M12.05 13.5h.90M24.05 14.5h.90M32.05 14.5h.90M36.05 14.5h.90M2.05 15.5h.90M36.05 15.5h.90M48.05 15.5h.90M2.05 16.5h.90M36.05 16.5h.90M4.05 17.5h.90M23.05 17.5h.90M12.05 19.5h.90M56.05 19.5h.90M57.05 20.5h.90M54.05 21.5h.90M55.05 21.5h.90M34.05 22.5h.90M47.05 22.5h.90M4.05 23.5h.90M12.05 23.5h.90M17.05 23.5h.90M25.05 23.5h.90M45.05 23.5h.90M8.05 24.5h.90M14.05 24.5h.90M34.05 24.5h.90M35.05 24.5h.90M38.05 24.5h.90M49.05 24.5h.90M6.05 25.5h.90M23.05 25.5h.90M39.05 25.5h.90M50.05 25.5h.90M51.05 25.5h.90M57.05 25.5h.90M6.05 26.5h.90M44.05 26.5h.90M36.05 27.5h.90M57.05 27.5h.90M58.05 27.5h.90M36.05 28.5h.90M49.05 28.5h.90M59.05 28.5h.90M36.05 29.5h.90M57.05 29.5h.90M58.05 29.5h.90M36.05 30.5h.90M57.05 30.5h.90M58.05 30.5h.90M50.05 31.5h.90M51.05 31.5h.90M57.05 31.5h.90M58.05 31.5h.90M14.05 32.5h.90M36.05 32.5h.90M57.05 32.5h.90M39.05 33.5h.90M40.05 33.5h.90M41.05 33.5h.90M4.05 34.5h.90M5.05 34.5h.90M22.05 34.5h.90M24.05 34.5h.90M41.05 34.5h.90M5.05 35.5h.90M24.05 35.5h.90M40.05 35.5h.90M41.05 35.5h.90M8.05 36.5h.90M14.05 36.5h.90M15.05 36.5h.90M16.05 36.5h.90M27.05 36.5h.90M28.05 36.5h.90M29.05 36.5h.90M30.05 36.5h.90M32.05 36.5h.90M7.05 37.5h.90M38.05 37.5h.90M50.05 37.5h.90M10.05 38.5h.90M24.05 38.5h.90M37.05 38.5h.90M53.05 38.5h.90M54.05 38.5h.90M25.05 39.5h.90M33.05 39.5h.90M46.05 39.5h.90M33.05 40.5h.90M35.05 40.5h.90M45.05 40.5h.90M49.05 40.5h.90M33.05 41.5h.90M34.05 41.5h.90M35.05 41.5h.90M44.05 41.5h.90M53.05 41.5h.90M54.05 41.5h.90M7.05 43.5h.90M47.05 43.5h.90M48.05 43.5h.90M26.05 44.5h.90M41.05 44.5h.90M49.05 44.5h.90M55.05 44.5h.90M57.05 44.5h.90M23.05 45.5h.90M40.05 45.5h.90M46.05 45.5h.90M52.05 45.5h.90M56.05 45.5h.90M57.05 45.5h.90M39.05 46.5h.90M45.05 46.5h.90M51.05 46.5h.90M52.05 46.5h.90M22.05 47.5h.90M43.05 47.5h.90M51.05 47.5h.90M15.05 48.5h.90M43.05 48.5h.90M24.05 49.5h.90M28.05 49.5h.90M40.05 49.5h.90M44.05 49.5h.90M25.05 50.5h.90M31.05 50.5h.90M37.05 50.5h.90M54.05 50.5h.90M55.05 50.5h.90M25.05 51.5h.90M31.05 51.5h.90M46.05 51.5h.90M47.05 51.5h.90M53.05 51.5h.90M54.05 51.5h.90M45.05 52.5h.90M46.05 52.5h.90M38.05 53.5h.90M41.05 53.5h.90M51.05 53.5h.90M21.05 54.5h.90M38.05 54.5h.90M41.05 54.5h.90M50.05 54.5h.90M51.05 54.5h.90M21.05 55.5h.90M44.05 55.5h.90M50.05 55.5h.90M9.05 56.5h.90M10.05 56.5h.90M19.05 56.5h.90M45.05 56.5h.90M20.05 57.5h.90M25.05 57.5h.90M27.05 57.5h.90M29.05 57.5h.90M30.05 57.5h.90M31.05 57.5h.90M32.05 57.5h.90M44.05 57.5h.90M45.05 57.5h.90M27.05 58.5h.90M29.05 58.5h.90M30.05 58.5h.90M31.05 58.5h.90M28.05 59.5h.90" stroke="#FFCB74"/>
<path d="M17.05 2.5h.90M23.05 2.5h.90M13.05 3.5h.90M11.05 4.5h.90M13.05 4.5h.90M25.05 4.5h.90M36.05 5.5h.90M43.05 5.5h.90M28.05 6.5h.90M44.05 6.5h.90M48.05 6.5h.90M39.05 7.5h.90M41.05 7.5h.90M48.05 7.5h.90M52.05 7.5h.90M56.05 7.5h.90M26.05 8.5h.90M48.05 8.5h.90M14.05 9.5h.90M31.05 9.5h.90M36.05 9.5h.90M28.05 10.5h.90M29.05 10.5h.90M30.05 10.5h.90M4.05 11.5h.90M34.05 11.5h.90M22.05 12.5h.90M33.05 12.5h.90M3.05 13.5h.90M4.05 13.5h.90M23.05 13.5h.90M34.05 13.5h.90M35.05 13.5h.90M38.05 13.5h.90M9.05 14.5h.90M46.05 15.5h.90M2.05 17.5h.90M36.05 17.5h.90M42.05 17.5h.90M22.05 18.5h.90M25.05 19.5h.90M43.05 19.5h.90M49.05 19.5h.90M58.05 19.5h.90M59.05 19.5h.90M47.05 21.5h.90M56.05 21.5h.90M12.05 22.5h.90M18.05 22.5h.90M42.05 22.5h.90M2.05 23.5h.90M13.05 23.5h.90M56.05 23.5h.90M33.05 24.5h.90M51.05 24.5h.90M56.05 24.5h.90M4.05 25.5h.90M19.05 25.5h.90M8.05 26.5h.90M47.05 26.5h.90M50.05 26.5h.90M47.05 27.5h.90M6.05 28.5h.90M10.05 28.5h.90M10.05 29.5h.90M10.05 30.5h.90M47.05 30.5h.90M49.05 30.5h.90M56.05 30.5h.90M59.05 30.5h.90M9.05 31.5h.90M59.05 31.5h.90M56.05 32.5h.90M58.05 32.5h.90M12.05 33.5h.90M24.05 33.5h.90M46.05 33.5h.90M48.05 33.5h.90M50.05 33.5h.90M56.05 33.5h.90M11.05 34.5h.90M13.05 34.5h.90M40.05 34.5h.90M13.05 35.5h.90M48.05 35.5h.90M5.05 36.5h.90M9.05 36.5h.90M17.05 36.5h.90M48.05 36.5h.90M13.05 38.5h.90M49.05 38.5h.90M7.05 39.5h.90M34.05 40.5h.90M46.05 40.5h.90M7.05 41.5h.90M17.05 42.5h.90M22.05 42.5h.90M47.05 42.5h.90M48.05 42.5h.90M59.05 42.5h.90M5.05 43.5h.90M19.05 43.5h.90M56.05 43.5h.90M59.05 43.5h.90M6.05 44.5h.90M54.05 45.5h.90M15.05 46.5h.90M33.05 46.5h.90M40.05 46.5h.90M21.05 47.5h.90M26.05 47.5h.90M27.05 47.5h.90M30.05 47.5h.90M42.05 47.5h.90M6.05 48.5h.90M7.05 48.5h.90M8.05 48.5h.90M33.05 48.5h.90M35.05 48.5h.90M36.05 48.5h.90M42.05 48.5h.90M19.05 49.5h.90M30.05 49.5h.90M38.05 49.5h.90M26.05 50.5h.90M33.05 50.5h.90M24.05 51.5h.90M7.05 52.5h.90M45.05 54.5h.90M7.05 56.5h.90M21.05 56.5h.90M23.05 56.5h.90M24.05 56.5h.90M30.05 56.5h.90M32.05 56.5h.90M33.05 56.5h.90M43.05 56.5h.90M19.05 58.5h.90M32.05 58.5h.90M19.05 59.5h.90M30.05 59.5h.90M31.05 59.5h.90M42.05 59.5h.90M43.05 59.5h.90" stroke="#FFF4EC"/>
<path d="M5.05 4.5h.90M24.05 4.5h.90M36.05 4.5h.90M4.05 5.5h.90M7.05 6.5h.90M6.05 7.5h.90M46.05 9.5h.90M22.05 15.5h.90M24.05 16.5h.90M19.05 17.5h.90M22.05 17.5h.90M17.05 19.5h.90M23.05 21.5h.90M15.05 22.5h.90M17.05 22.5h.90M21.05 23.5h.90M33.05 23.5h.90M35.05 23.5h.90M4.05 24.5h.90M16.05 24.5h.90M28.05 25.5h.90M29.05 25.5h.90M30.05 25.5h.90M31.05 25.5h.90M32.05 25.5h.90M33.05 25.5h.90M34.05 25.5h.90M31.05 26.5h.90M32.05 26.5h.90M33.05 26.5h.90M38.05 26.5h.90M33.05 27.5h.90M34.05 27.5h.90M35.05 27.5h.90M38.05 27.5h.90M39.05 27.5h.90M25.05 28.5h.90M37.05 28.5h.90M40.05 28.5h.90M48.05 28.5h.90M50.05 28.5h.90M25.05 29.5h.90M37.05 29.5h.90M40.05 29.5h.90M25.05 30.5h.90M37.05 30.5h.90M39.05 30.5h.90M25.05 31.5h.90M26.05 31.5h.90M39.05 31.5h.90M25.05 32.5h.90M26.05 32.5h.90M34.05 32.5h.90M38.05 32.5h.90M40.05 32.5h.90M23.05 33.5h.90M25.05 33.5h.90M26.05 33.5h.90M27.05 33.5h.90M25.05 34.5h.90M27.05 34.5h.90M32.05 34.5h.90M35.05 34.5h.90M23.05 35.5h.90M27.05 35.5h.90M34.05 35.5h.90M4.05 36.5h.90M28.05 37.5h.90M29.05 37.5h.90M30.05 37.5h.90M26.05 38.5h.90M27.05 38.5h.90M32.05 38.5h.90M40.05 38.5h.90M59.05 38.5h.90M27.05 39.5h.90M30.05 39.5h.90M31.05 39.5h.90M44.05 39.5h.90M47.05 39.5h.90M28.05 40.5h.90M29.05 40.5h.90M32.05 40.5h.90M38.05 40.5h.90M50.05 40.5h.90M57.05 40.5h.90M58.05 40.5h.90M50.05 41.5h.90M51.05 41.5h.90M57.05 41.5h.90M58.05 41.5h.90M39.05 44.5h.90M52.05 44.5h.90M9.05 46.5h.90M39.05 47.5h.90M52.05 47.5h.90M53.05 47.5h.90M55.05 47.5h.90M58.05 47.5h.90M28.05 48.5h.90M58.05 48.5h.90M28.05 50.5h.90M40.05 50.5h.90M41.05 50.5h.90M41.05 51.5h.90M58.05 51.5h.90M59.05 51.5h.90M44.05 52.5h.90M47.05 52.5h.90M53.05 52.5h.90M55.05 52.5h.90M47.05 53.5h.90M52.05 53.5h.90M56.05 53.5h.90M47.05 55.5h.90M52.05 55.5h.90M53.05 56.5h.90M40.05 57.5h.90M41.05 57.5h.90M40.05 58.5h.90M41.05 58.5h.90M47.05 58.5h.90M48.05 58.5h.90M51.05 58.5h.90M38.05 59.5h.90M51.05 59.5h.90" stroke="#FF8C1C"/>
<path d="M14.05 4.5h.90M15.05 4.5h.90M16.05 4.5h.90M35.05 4.5h.90M35.05 8.5h.90M10.05 9.5h.90M25.05 9.5h.90M9.05 10.5h.90M25.05 10.5h.90M4.05 14.5h.90M22.05 14.5h.90M4.05 15.5h.90M24.05 15.5h.90M4.05 16.5h.90M20.05 17.5h.90M21.05 18.5h.90M55.05 19.5h.90M17.05 20.5h.90M23.05 20.5h.90M53.05 20.5h.90M54.05 20.5h.90M18.05 21.5h.90M14.05 22.5h.90M46.05 22.5h.90M20.05 23.5h.90M15.05 24.5h.90M25.05 24.5h.90M26.05 24.5h.90M27.05 24.5h.90M28.05 24.5h.90M29.05 24.5h.90M30.05 24.5h.90M31.05 24.5h.90M32.05 24.5h.90M48.05 24.5h.90M9.05 25.5h.90M10.05 25.5h.90M24.05 25.5h.90M26.05 25.5h.90M38.05 25.5h.90M24.05 26.5h.90M25.05 26.5h.90M34.05 26.5h.90M35.05 26.5h.90M39.05 26.5h.90M40.05 26.5h.90M48.05 26.5h.90M24.05 27.5h.90M37.05 27.5h.90M48.05 27.5h.90M51.05 27.5h.90M24.05 28.5h.90M34.05 28.5h.90M51.05 28.5h.90M24.05 29.5h.90M34.05 29.5h.90M48.05 29.5h.90M50.05 29.5h.90M24.05 30.5h.90M34.05 30.5h.90M48.05 30.5h.90M50.05 30.5h.90M24.05 31.5h.90M37.05 31.5h.90M38.05 31.5h.90M48.05 31.5h.90M24.05 32.5h.90M33.05 32.5h.90M35.05 32.5h.90M39.05 32.5h.90M32.05 33.5h.90M34.05 33.5h.90M36.05 33.5h.90M26.05 34.5h.90M28.05 34.5h.90M29.05 34.5h.90M30.05 34.5h.90M33.05 34.5h.90M4.05 35.5h.90M8.05 35.5h.90M26.05 35.5h.90M32.05 35.5h.90M33.05 36.5h.90M27.05 37.5h.90M31.05 37.5h.90M25.05 38.5h.90M31.05 38.5h.90M44.05 38.5h.90M51.05 38.5h.90M52.05 38.5h.90M57.05 38.5h.90M26.05 39.5h.90M32.05 39.5h.90M50.05 39.5h.90M54.05 39.5h.90M55.05 39.5h.90M26.05 40.5h.90M48.05 40.5h.90M59.05 40.5h.90M47.05 41.5h.90M56.05 41.5h.90M59.05 41.5h.90M43.05 42.5h.90M42.05 43.5h.90M38.05 44.5h.90M47.05 44.5h.90M51.05 44.5h.90M58.05 44.5h.90M51.05 45.5h.90M22.05 46.5h.90M59.05 46.5h.90M41.05 47.5h.90M44.05 47.5h.90M49.05 47.5h.90M56.05 47.5h.90M57.05 47.5h.90M24.05 48.5h.90M26.05 48.5h.90M27.05 48.5h.90M29.05 48.5h.90M30.05 48.5h.90M31.05 48.5h.90M40.05 48.5h.90M49.05 48.5h.90M51.05 48.5h.90M52.05 48.5h.90M54.05 48.5h.90M55.05 48.5h.90M56.05 48.5h.90M57.05 48.5h.90M47.05 49.5h.90M48.05 49.5h.90M51.05 49.5h.90M52.05 49.5h.90M53.05 49.5h.90M54.05 49.5h.90M55.05 49.5h.90M58.05 49.5h.90M59.05 49.5h.90M29.05 50.5h.90M30.05 50.5h.90M39.05 50.5h.90M52.05 50.5h.90M53.05 50.5h.90M58.05 50.5h.90M59.05 50.5h.90M27.05 51.5h.90M28.05 51.5h.90M38.05 51.5h.90M44.05 51.5h.90M45.05 51.5h.90M48.05 51.5h.90M49.05 51.5h.90M52.05 51.5h.90M56.05 51.5h.90M38.05 52.5h.90M48.05 52.5h.90M49.05 52.5h.90M50.05 52.5h.90M51.05 52.5h.90M20.05 53.5h.90M49.05 53.5h.90M50.05 53.5h.90M20.05 54.5h.90M39.05 54.5h.90M48.05 54.5h.90M49.05 54.5h.90M19.05 55.5h.90M39.05 55.5h.90M48.05 55.5h.90M49.05 55.5h.90M41.05 56.5h.90M47.05 56.5h.90M48.05 56.5h.90M51.05 56.5h.90M38.05 57.5h.90M47.05 57.5h.90M48.05 57.5h.90M44.05 58.5h.90M49.05 58.5h.90M50.05 58.5h.90M40.05 59.5h.90M41.05 59.5h.90M46.05 59.5h.90M49.05 59.5h.90M50.05 59.5h.90" stroke="#FFA20A"/>
<path d="M8.05 7.5h.90M7.05 8.5h.90M20.05 19.5h.90M19.05 20.5h.90M31.05 27.5h.90M32.05 28.5h.90M41.05 28.5h.90M32.05 29.5h.90M41.05 29.5h.90M41.05 30.5h.90M27.05 31.5h.90M32.05 31.5h.90M28.05 32.5h.90M29.05 32.5h.90M31.05 32.5h.90M41.05 39.5h.90M51.05 40.5h.90M28.05 41.5h.90M29.05 41.5h.90M30.05 41.5h.90M39.05 41.5h.90M57.05 50.5h.90M40.05 51.5h.90M58.05 52.5h.90M54.05 53.5h.90M53.05 54.5h.90M55.05 54.5h.90M54.05 55.5h.90M57.05 55.5h.90M59.05 56.5h.90M50.05 57.5h.90M55.05 57.5h.90M58.05 57.5h.90M52.05 58.5h.90M57.05 58.5h.90M56.05 59.5h.90" stroke="#E85C55"/>
<path d="M11.05 10.5h.90M10.05 11.5h.90M20.05 18.5h.90M21.05 19.5h.90M23.05 19.5h.90M18.05 20.5h.90M21.05 20.5h.90M19.05 21.5h.90M20.05 21.5h.90M23.05 22.5h.90M19.05 23.5h.90M22.05 23.5h.90M27.05 26.5h.90M26.05 27.5h.90M41.05 27.5h.90M31.05 30.5h.90M30.05 31.5h.90M41.05 31.5h.90M41.05 32.5h.90M36.05 34.5h.90M36.05 35.5h.90M34.05 36.5h.90M35.05 36.5h.90M41.05 37.5h.90M41.05 38.5h.90M56.05 38.5h.90M40.05 39.5h.90M48.05 39.5h.90M52.05 39.5h.90M56.05 39.5h.90M57.05 39.5h.90M59.05 39.5h.90M39.05 40.5h.90M27.05 41.5h.90M31.05 41.5h.90M32.05 41.5h.90M37.05 41.5h.90M38.05 41.5h.90M48.05 41.5h.90M39.05 48.5h.90M41.05 48.5h.90M50.05 49.5h.90M49.05 50.5h.90M51.05 50.5h.90M50.05 51.5h.90M57.05 51.5h.90M39.05 52.5h.90M57.05 52.5h.90M59.05 52.5h.90M55.05 53.5h.90M57.05 54.5h.90M59.05 54.5h.90M53.05 55.5h.90M38.05 56.5h.90M39.05 56.5h.90M58.05 56.5h.90M39.05 57.5h.90M51.05 57.5h.90M52.05 57.5h.90M54.05 57.5h.90M59.05 57.5h.90M56.05 58.5h.90M39.05 59.5h.90M52.05 59.5h.90M54.05 59.5h.90M57.05 59.5h.90" stroke="#FA6446"/>
<path d="M16.05 15.5h.90M15.05 16.5h.90M29.05 28.5h.90M30.05 28.5h.90M28.05 29.5h.90M30.05 29.5h.90M28.05 30.5h.90M29.05 30.5h.90" stroke="#873781"/>
<path d="M28.05 27.5h.90M29.05 27.5h.90M30.05 27.5h.90M27.05 28.5h.90M27.05 29.5h.90M27.05 30.5h.90M59.05 58.5h.90M58.05 59.5h.90" stroke="#A84872"/>
<path d="M32.05 27.5h.90M32.05 30.5h.90M27.05 32.5h.90M30.05 32.5h.90M39.05 38.5h.90M38.05 39.5h.90M58.05 39.5h.90M48.05 47.5h.90M47.05 48.5h.90M39.05 58.5h.90" stroke="#CC5264"/>
</g>
<rect x="829.2" y="35.3" width="869.7" height="835.0" fill="none" stroke="#000" stroke-width="2"/>
<text transform="translate(1705.70,48.14) scale(0.9120,1)" font-size="15.30">Apical cell</text>
<text transform="translate(1705.70,62.02) scale(0.9120,1)" font-size="15.30">Suprabasal</text>
<text transform="translate(1705.70,75.89) scale(0.9120,1)" font-size="15.30">Quiescent basal cell</text>
<text transform="translate(1705.70,89.77) scale(0.9120,1)" font-size="15.30">Basal cell (cycling)</text>
<text transform="translate(1705.70,103.64) scale(0.9120,1)" font-size="15.30">Erythroid cell</text>
<text transform="translate(1705.70,117.52) scale(0.9120,1)" font-size="15.30">Langerhans cell</text>
<text transform="translate(1705.70,131.40) scale(0.9120,1)" font-size="15.30">cDC1 (<tspan font-style="italic">CLEC9A</tspan>)</text>
<text transform="translate(1705.70,145.28) scale(0.9120,1)" font-size="15.30">CD8<tspan font-size="9.49" dy="-5.51">+</tspan><tspan dy="5.51">&#8203;</tspan> Teff (<tspan font-style="italic">KLRC1</tspan>)</text>
<text transform="translate(1705.70,159.15) scale(0.9120,1)" font-size="15.30">γ δ T cell</text>
<text transform="translate(1705.70,173.03) scale(0.9120,1)" font-size="15.30">CD4<tspan font-size="9.49" dy="-5.51">+</tspan><tspan dy="5.51">&#8203;</tspan> Trm (<tspan font-style="italic">CCL5</tspan>)</text>
<text transform="translate(1705.70,186.91) scale(0.9120,1)" font-size="15.30">Th1</text>
<text transform="translate(1705.70,200.78) scale(0.9120,1)" font-size="15.30">CD8<tspan font-size="9.49" dy="-5.51">+</tspan><tspan dy="5.51">&#8203;</tspan> Trm (<tspan font-style="italic">GZMK</tspan>)</text>
<text transform="translate(1705.70,214.66) scale(0.9120,1)" font-size="15.30">LEC (<tspan font-style="italic">LYVE1</tspan>)</text>
<text transform="translate(1705.70,228.54) scale(0.9120,1)" font-size="15.30">Th17</text>
<text transform="translate(1705.70,242.41) scale(0.9120,1)" font-size="15.30">Monocyte (<tspan font-style="italic">CD14</tspan>)</text>
<text transform="translate(1705.70,256.29) scale(0.9120,1)" font-size="15.30">Monocyte (<tspan font-style="italic">FCGR3A</tspan>)</text>
<text transform="translate(1705.70,270.17) scale(0.9120,1)" font-size="15.30">NK (<tspan font-style="italic">FCGR3A</tspan>)</text>
<text transform="translate(1705.70,284.04) scale(0.9120,1)" font-size="15.30">Glia</text>
<text transform="translate(1705.70,297.92) scale(0.8983,1)" font-size="15.30">Macrophage (<tspan font-style="italic">SEPP1 / FOLR2</tspan>)</text>
<text transform="translate(1705.70,311.80) scale(0.9120,1)" font-size="15.30">Pericyte</text>
<text transform="translate(1705.70,325.67) scale(0.9120,1)" font-size="15.30">Fibroblast</text>
<text transform="translate(1705.70,339.55) scale(0.9120,1)" font-size="15.30">Venous (<tspan font-style="italic">ACKR1</tspan>)</text>
<text transform="translate(1705.70,353.43) scale(0.9120,1)" font-size="15.30">Arterial (<tspan font-style="italic">GJA4</tspan>)</text>
<text transform="translate(1705.70,367.30) scale(0.9120,1)" font-size="15.30">Capillary (<tspan font-style="italic">RGCC</tspan>)</text>
<text transform="translate(1705.70,381.18) scale(0.9120,1)" font-size="15.30">CD8<tspan font-size="9.49" dy="-5.51">+</tspan><tspan dy="5.51">&#8203;</tspan> Temra (<tspan font-style="italic">KLRG1</tspan>)</text>
<text transform="translate(1705.70,395.06) scale(0.9120,1)" font-size="15.30">CD8<tspan font-size="9.49" dy="-5.51">+</tspan><tspan dy="5.51">&#8203;</tspan> T cell (MHC II)</text>
<text transform="translate(1705.70,408.93) scale(0.9120,1)" font-size="15.30">NK (<tspan font-style="italic">ITGAX</tspan>)</text>
<text transform="translate(1705.70,422.81) scale(0.9120,1)" font-size="15.30">cDC2B (<tspan font-style="italic">CD1C</tspan>)</text>
<text transform="translate(1705.70,436.69) scale(0.9120,1)" font-size="15.30">Macrophage (<tspan font-style="italic">PLAC8</tspan>)</text>
<text transform="translate(1705.70,450.56) scale(0.9120,1)" font-size="15.30">Macrophage (<tspan font-style="italic">ALOX15</tspan>)</text>
<text transform="translate(1705.70,464.44) scale(0.9120,1)" font-size="15.30">pDC</text>
<text transform="translate(1705.70,478.31) scale(0.9120,1)" font-size="15.30">CD8<tspan font-size="9.49" dy="-5.51">+</tspan><tspan dy="5.51">&#8203;</tspan> T cell (cycling)</text>
<text transform="translate(1705.70,492.19) scale(0.9120,1)" font-size="15.30">NK (cycling)</text>
<text transform="translate(1705.70,506.07) scale(0.8983,1)" font-size="15.30">NK (<tspan font-style="italic">XCL1 / CD160</tspan>)</text>
<text transform="translate(1705.70,519.94) scale(0.9120,1)" font-size="15.30">Mature DC (<tspan font-style="italic">FSCN1</tspan>)</text>
<text transform="translate(1705.70,533.82) scale(0.9120,1)" font-size="15.30">MAIT (<tspan font-style="italic">NCR3</tspan>)</text>
<text transform="translate(1705.70,547.70) scale(0.9120,1)" font-size="15.30">NK (<tspan font-style="italic">IL4I1</tspan>)</text>
<text transform="translate(1705.70,561.57) scale(0.9120,1)" font-size="15.30">ILC2</text>
<text transform="translate(1705.70,575.45) scale(0.9120,1)" font-size="15.30">cDC2A (<tspan font-style="italic">IL22RA2</tspan><tspan font-style="italic" font-size="9.49" dy="-5.51">+</tspan><tspan dy="5.51">&#8203;</tspan><tspan font-style="italic"> CLEC10A</tspan><tspan font-style="italic" font-size="9.49" dy="-5.51">–</tspan><tspan dy="5.51">&#8203;</tspan>)</text>
<text transform="translate(1705.70,589.33) scale(0.9120,1)" font-size="15.30">Plasma cell (cycling)</text>
<text transform="translate(1705.70,603.20) scale(0.9120,1)" font-size="15.30">Eosinophil</text>
<text transform="translate(1705.70,617.08) scale(0.9120,1)" font-size="15.30">CD4<tspan font-size="9.49" dy="-5.51">+</tspan><tspan dy="5.51">&#8203;</tspan> T cell (cycling)</text>
<text transform="translate(1705.70,630.96) scale(0.9120,1)" font-size="15.30">Macrophage (<tspan font-style="italic">SPP1</tspan>)</text>
<text transform="translate(1705.70,644.83) scale(0.8983,1)" font-size="15.30">Macrophage (<tspan font-style="italic">SEPP1 / IL1B</tspan>)</text>
<text transform="translate(1705.70,658.71) scale(0.9120,1)" font-size="15.30">cDC2C (<tspan font-style="italic">PRDM16</tspan>)</text>
<text transform="translate(1705.70,672.59) scale(0.9120,1)" font-size="15.30">DC (cycling)</text>
<text transform="translate(1705.70,686.46) scale(0.9120,1)" font-size="15.30">Treg</text>
<text transform="translate(1705.70,700.34) scale(0.9120,1)" font-size="15.30">Plasma cell (IgA<tspan font-size="9.49" dy="-5.51">+</tspan><tspan dy="5.51">&#8203;</tspan>)</text>
<text transform="translate(1705.70,714.22) scale(0.9120,1)" font-size="15.30">B cell (memory)</text>
<text transform="translate(1705.70,728.09) scale(0.9120,1)" font-size="15.30">Plasma cell (IgG<tspan font-size="9.49" dy="-5.51">+</tspan><tspan dy="5.51">&#8203;</tspan>)</text>
<text transform="translate(1705.70,741.97) scale(0.9120,1)" font-size="15.30">Mast cell (cycling)</text>
<text transform="translate(1705.70,755.85) scale(0.9120,1)" font-size="15.30">Th2</text>
<text transform="translate(1705.70,769.72) scale(0.9120,1)" font-size="15.30">Plasma cell (IgM<tspan font-size="9.49" dy="-5.51">+</tspan><tspan dy="5.51">&#8203;</tspan>)</text>
<text transform="translate(1705.70,783.60) scale(0.9120,1)" font-size="15.30">Fibroblast (cycling)</text>
<text transform="translate(1705.70,797.48) scale(0.9120,1)" font-size="15.30">BEC (cycling)</text>
<text transform="translate(1705.70,811.35) scale(0.9120,1)" font-size="15.30">Pericyte (cycling)</text>
<text transform="translate(1705.70,825.23) scale(0.9120,1)" font-size="15.30">CD4<tspan font-size="9.49" dy="-5.51">+</tspan><tspan dy="5.51">&#8203;</tspan> Tcm</text>
<text transform="translate(1705.70,839.11) scale(0.9120,1)" font-size="15.30">Mast cell</text>
<text transform="translate(1705.70,852.98) scale(0.9120,1)" font-size="15.30">Macrophage (<tspan font-style="italic">SEPP1</tspan>)</text>
<text transform="translate(1705.70,866.86) scale(0.9120,1)" font-size="15.30">Macrophage (cycling)</text>
<text transform="translate(842.53,878.00) rotate(-90) scale(0.8400,1)" font-size="16.70" text-anchor="end">Apical cell</text>
<text transform="translate(856.99,878.00) rotate(-90) scale(0.8400,1)" font-size="16.70" text-anchor="end">Suprabasal</text>
<text transform="translate(871.45,878.00) rotate(-90) scale(0.8400,1)" font-size="16.70" text-anchor="end">Quiescent basal cell</text>
<text transform="translate(885.90,878.00) rotate(-90) scale(0.8400,1)" font-size="16.70" text-anchor="end">Basal cell (cycling)</text>
<text transform="translate(900.36,878.00) rotate(-90) scale(0.8400,1)" font-size="16.70" text-anchor="end">Erythroid cell</text>
<text transform="translate(914.82,878.00) rotate(-90) scale(0.8400,1)" font-size="16.70" text-anchor="end">Langerhans cell</text>
<text transform="translate(929.28,878.00) rotate(-90) scale(0.8400,1)" font-size="16.70" text-anchor="end">cDC1 (<tspan font-style="italic">CLEC9A</tspan>)</text>
<text transform="translate(943.74,878.00) rotate(-90) scale(0.8400,1)" font-size="16.70" text-anchor="end">CD8<tspan font-size="10.35" dy="-6.01">+</tspan><tspan dy="6.01">&#8203;</tspan> Teff (<tspan font-style="italic">KLRC1</tspan>)</text>
<text transform="translate(958.20,878.00) rotate(-90) scale(0.8400,1)" font-size="16.70" text-anchor="end">γ δ T cell</text>
<text transform="translate(972.65,878.00) rotate(-90) scale(0.8400,1)" font-size="16.70" text-anchor="end">CD4<tspan font-size="10.35" dy="-6.01">+</tspan><tspan dy="6.01">&#8203;</tspan> Trm (<tspan font-style="italic">CCL5</tspan>)</text>
<text transform="translate(987.11,878.00) rotate(-90) scale(0.8400,1)" font-size="16.70" text-anchor="end">Th1</text>
<text transform="translate(1001.57,878.00) rotate(-90) scale(0.8400,1)" font-size="16.70" text-anchor="end">CD8<tspan font-size="10.35" dy="-6.01">+</tspan><tspan dy="6.01">&#8203;</tspan> Trm (<tspan font-style="italic">GZMK</tspan>)</text>
<text transform="translate(1016.03,878.00) rotate(-90) scale(0.8400,1)" font-size="16.70" text-anchor="end">LEC (<tspan font-style="italic">LYVE1</tspan>)</text>
<text transform="translate(1030.49,878.00) rotate(-90) scale(0.8400,1)" font-size="16.70" text-anchor="end">Th17</text>
<text transform="translate(1044.95,878.00) rotate(-90) scale(0.8400,1)" font-size="16.70" text-anchor="end">Monocyte (<tspan font-style="italic">CD14</tspan>)</text>
<text transform="translate(1059.40,878.00) rotate(-90) scale(0.8400,1)" font-size="16.70" text-anchor="end">Monocyte (<tspan font-style="italic">FCGR3A</tspan>)</text>
<text transform="translate(1073.86,878.00) rotate(-90) scale(0.8400,1)" font-size="16.70" text-anchor="end">NK (<tspan font-style="italic">FCGR3A</tspan>)</text>
<text transform="translate(1088.32,878.00) rotate(-90) scale(0.8400,1)" font-size="16.70" text-anchor="end">Glia</text>
<text transform="translate(1102.78,878.00) rotate(-90) scale(0.8274,1)" font-size="16.70" text-anchor="end">Macrophage (<tspan font-style="italic">SEPP1 / FOLR2</tspan>)</text>
<text transform="translate(1117.24,878.00) rotate(-90) scale(0.8400,1)" font-size="16.70" text-anchor="end">Pericyte</text>
<text transform="translate(1131.70,878.00) rotate(-90) scale(0.8400,1)" font-size="16.70" text-anchor="end">Fibroblast</text>
<text transform="translate(1146.15,878.00) rotate(-90) scale(0.8400,1)" font-size="16.70" text-anchor="end">Venous (<tspan font-style="italic">ACKR1</tspan>)</text>
<text transform="translate(1160.61,878.00) rotate(-90) scale(0.8400,1)" font-size="16.70" text-anchor="end">Arterial (<tspan font-style="italic">GJA4</tspan>)</text>
<text transform="translate(1175.07,878.00) rotate(-90) scale(0.8400,1)" font-size="16.70" text-anchor="end">Capillary (<tspan font-style="italic">RGCC</tspan>)</text>
<text transform="translate(1189.53,878.00) rotate(-90) scale(0.8400,1)" font-size="16.70" text-anchor="end">CD8<tspan font-size="10.35" dy="-6.01">+</tspan><tspan dy="6.01">&#8203;</tspan> Temra (<tspan font-style="italic">KLRG1</tspan>)</text>
<text transform="translate(1203.99,878.00) rotate(-90) scale(0.8400,1)" font-size="16.70" text-anchor="end">CD8<tspan font-size="10.35" dy="-6.01">+</tspan><tspan dy="6.01">&#8203;</tspan> T cell (MHC II)</text>
<text transform="translate(1218.45,878.00) rotate(-90) scale(0.8400,1)" font-size="16.70" text-anchor="end">NK (<tspan font-style="italic">ITGAX</tspan>)</text>
<text transform="translate(1232.90,878.00) rotate(-90) scale(0.8400,1)" font-size="16.70" text-anchor="end">cDC2B (<tspan font-style="italic">CD1C</tspan>)</text>
<text transform="translate(1247.36,878.00) rotate(-90) scale(0.8400,1)" font-size="16.70" text-anchor="end">Macrophage (<tspan font-style="italic">PLAC8</tspan>)</text>
<text transform="translate(1261.82,878.00) rotate(-90) scale(0.8400,1)" font-size="16.70" text-anchor="end">Macrophage (<tspan font-style="italic">ALOX15</tspan>)</text>
<text transform="translate(1276.28,878.00) rotate(-90) scale(0.8400,1)" font-size="16.70" text-anchor="end">pDC</text>
<text transform="translate(1290.74,878.00) rotate(-90) scale(0.8400,1)" font-size="16.70" text-anchor="end">CD8<tspan font-size="10.35" dy="-6.01">+</tspan><tspan dy="6.01">&#8203;</tspan> T cell (cycling)</text>
<text transform="translate(1305.20,878.00) rotate(-90) scale(0.8400,1)" font-size="16.70" text-anchor="end">NK (cycling)</text>
<text transform="translate(1319.65,878.00) rotate(-90) scale(0.8274,1)" font-size="16.70" text-anchor="end">NK (<tspan font-style="italic">XCL1 / CD160</tspan>)</text>
<text transform="translate(1334.11,878.00) rotate(-90) scale(0.8400,1)" font-size="16.70" text-anchor="end">Mature DC (<tspan font-style="italic">FSCN1</tspan>)</text>
<text transform="translate(1348.57,878.00) rotate(-90) scale(0.8400,1)" font-size="16.70" text-anchor="end">MAIT (<tspan font-style="italic">NCR3</tspan>)</text>
<text transform="translate(1363.03,878.00) rotate(-90) scale(0.8400,1)" font-size="16.70" text-anchor="end">NK (<tspan font-style="italic">IL4I1</tspan>)</text>
<text transform="translate(1377.49,878.00) rotate(-90) scale(0.8400,1)" font-size="16.70" text-anchor="end">ILC2</text>
<text transform="translate(1391.95,878.00) rotate(-90) scale(0.8400,1)" font-size="16.70" text-anchor="end">cDC2A (<tspan font-style="italic">IL22RA2</tspan><tspan font-style="italic" font-size="10.35" dy="-6.01">+</tspan><tspan dy="6.01">&#8203;</tspan><tspan font-style="italic"> CLEC10A</tspan><tspan font-style="italic" font-size="10.35" dy="-6.01">–</tspan><tspan dy="6.01">&#8203;</tspan>)</text>
<text transform="translate(1406.40,878.00) rotate(-90) scale(0.8400,1)" font-size="16.70" text-anchor="end">Plasma cell (cycling)</text>
<text transform="translate(1420.86,878.00) rotate(-90) scale(0.8400,1)" font-size="16.70" text-anchor="end">Eosinophil</text>
<text transform="translate(1435.32,878.00) rotate(-90) scale(0.8400,1)" font-size="16.70" text-anchor="end">CD4<tspan font-size="10.35" dy="-6.01">+</tspan><tspan dy="6.01">&#8203;</tspan> T cell (cycling)</text>
<text transform="translate(1449.78,878.00) rotate(-90) scale(0.8400,1)" font-size="16.70" text-anchor="end">Macrophage (<tspan font-style="italic">SPP1</tspan>)</text>
<text transform="translate(1464.24,878.00) rotate(-90) scale(0.8274,1)" font-size="16.70" text-anchor="end">Macrophage (<tspan font-style="italic">SEPP1 / IL1B</tspan>)</text>
<text transform="translate(1478.70,878.00) rotate(-90) scale(0.8400,1)" font-size="16.70" text-anchor="end">cDC2C (<tspan font-style="italic">PRDM16</tspan>)</text>
<text transform="translate(1493.15,878.00) rotate(-90) scale(0.8400,1)" font-size="16.70" text-anchor="end">DC (cycling)</text>
<text transform="translate(1507.61,878.00) rotate(-90) scale(0.8400,1)" font-size="16.70" text-anchor="end">Treg</text>
<text transform="translate(1522.07,878.00) rotate(-90) scale(0.8400,1)" font-size="16.70" text-anchor="end">Plasma cell (IgA<tspan font-size="10.35" dy="-6.01">+</tspan><tspan dy="6.01">&#8203;</tspan>)</text>
<text transform="translate(1536.53,878.00) rotate(-90) scale(0.8400,1)" font-size="16.70" text-anchor="end">B cell (memory)</text>
<text transform="translate(1550.99,878.00) rotate(-90) scale(0.8400,1)" font-size="16.70" text-anchor="end">Plasma cell (IgG<tspan font-size="10.35" dy="-6.01">+</tspan><tspan dy="6.01">&#8203;</tspan>)</text>
<text transform="translate(1565.45,878.00) rotate(-90) scale(0.8400,1)" font-size="16.70" text-anchor="end">Mast cell (cycling)</text>
<text transform="translate(1579.90,878.00) rotate(-90) scale(0.8400,1)" font-size="16.70" text-anchor="end">Th2</text>
<text transform="translate(1594.36,878.00) rotate(-90) scale(0.8400,1)" font-size="16.70" text-anchor="end">Plasma cell (IgM<tspan font-size="10.35" dy="-6.01">+</tspan><tspan dy="6.01">&#8203;</tspan>)</text>
<text transform="translate(1608.82,878.00) rotate(-90) scale(0.8400,1)" font-size="16.70" text-anchor="end">Fibroblast (cycling)</text>
<text transform="translate(1623.28,878.00) rotate(-90) scale(0.8400,1)" font-size="16.70" text-anchor="end">BEC (cycling)</text>
<text transform="translate(1637.74,878.00) rotate(-90) scale(0.8400,1)" font-size="16.70" text-anchor="end">Pericyte (cycling)</text>
<text transform="translate(1652.20,878.00) rotate(-90) scale(0.8400,1)" font-size="16.70" text-anchor="end">CD4<tspan font-size="10.35" dy="-6.01">+</tspan><tspan dy="6.01">&#8203;</tspan> Tcm</text>
<text transform="translate(1666.65,878.00) rotate(-90) scale(0.8400,1)" font-size="16.70" text-anchor="end">Mast cell</text>
<text transform="translate(1681.11,878.00) rotate(-90) scale(0.8400,1)" font-size="16.70" text-anchor="end">Macrophage (<tspan font-style="italic">SEPP1</tspan>)</text>
<text transform="translate(1695.57,878.00) rotate(-90) scale(0.8400,1)" font-size="16.70" text-anchor="end">Macrophage (cycling)</text>
<text transform="translate(824.60,728.70) scale(1.0445,1)" font-size="18.40" text-anchor="end">Correlation</text>
<text transform="translate(824.60,748.60) scale(1.0544,1)" font-size="18.40" text-anchor="end">coefficient</text>
<rect x="804.8" y="760" width="16.7" height="110.6" fill="url(#gCC)" stroke="#000" stroke-width="2"/>
<path d="M800 764.1H804" stroke="#000" stroke-width="1.3"/>
<text transform="translate(799.00,770.40) scale(0.9500,1)" font-size="17.30" text-anchor="end">1.0</text>
<path d="M800 798.1H804" stroke="#000" stroke-width="1.3"/>
<text transform="translate(799.00,804.40) scale(0.9500,1)" font-size="17.30" text-anchor="end">0.5</text>
<path d="M800 832.4H804" stroke="#000" stroke-width="1.3"/>
<text transform="translate(799.00,838.70) scale(0.9500,1)" font-size="17.30" text-anchor="end">0.0</text>
<path d="M800 866.6H804" stroke="#000" stroke-width="1.3"/>
<text transform="translate(799.00,872.90) scale(0.9500,1)" font-size="17.30" text-anchor="end">–0.5</text>
<text transform="translate(762.50,32.30) scale(0.9000,1)" font-size="37.00" font-weight="bold">b</text>
</g>
<g id="panel_c">
<path d="M105.5 1373.6V1273.9M123.8 1373.6V1277.5M142.0 1373.6V1263.4M160.3 1373.6V1285.4M178.6 1373.6V1304.5M215.1 1373.6V1305.2M233.4 1373.6V1238.2M251.7 1373.6V1298.7M269.9 1373.6V1302.3M306.5 1373.6V1288.1M379.6 1373.6V1296.6M397.8 1373.6V1324.5M489.2 1373.6V1337.2M507.4 1373.6V1344.8M525.7 1373.6V1306.5M562.2 1373.6V1339.0M598.8 1373.6V1353.1M617.1 1373.6V1277.8M653.6 1373.6V1336.9M744.9 1373.6V1322.1M763.2 1373.6V1364.6M854.6 1373.6V1328.6M872.8 1373.6V1299.4M891.1 1373.6V1311.7M909.4 1373.6V1314.2M945.9 1373.6V1317.8M964.2 1373.6V1305.6M982.5 1373.6V1299.1M1000.7 1373.6V1321.0M1019.0 1373.6V1281.4M1037.3 1373.6V1286.1M1073.8 1373.6V1309.2M1092.1 1373.6V1341.7M1146.9 1373.6V1318.9M1165.2 1373.6V1312.4" stroke="#111" stroke-width="1.4" fill="none"/>
<path d="M101.5 1362.5h0M101.8 1356.8h0M106.6 1351.2h0M103.6 1348.9h0M106.8 1354.9h0M104.8 1354.4h0M108.1 1361.2h0M108.9 1355.7h0M102.4 1352.4h0M106.2 1361.9h0M108.6 1355.9h0M107.0 1350.9h0M102.2 1363.0h0M109.0 1362.6h0M104.2 1349.2h0M103.1 1347.5h0M101.0 1365.0h0M107.2 1361.2h0M101.9 1355.9h0M101.5 1362.9h0M106.5 1351.9h0M102.1 1363.4h0M101.8 1350.6h0M102.5 1363.6h0M105.9 1369.1h0M104.3 1369.5h0M104.0 1365.6h0M107.7 1367.8h0M103.3 1349.5h0M109.9 1353.5h0M106.6 1357.6h0M108.0 1361.9h0M104.0 1348.9h0M109.5 1350.8h0M102.2 1363.6h0M109.4 1369.6h0M103.2 1354.4h0M109.2 1355.0h0M104.8 1362.7h0M102.6 1347.3h0M107.5 1369.2h0M108.1 1357.5h0M108.0 1363.1h0M105.0 1363.5h0M105.1 1356.3h0M103.3 1365.9h0M101.7 1349.7h0M102.3 1359.4h0M104.6 1348.0h0M104.1 1357.2h0M101.2 1365.3h0M109.9 1361.9h0M101.4 1347.8h0M109.3 1362.3h0M101.7 1360.8h0M103.1 1352.7h0M107.8 1366.7h0M101.2 1355.2h0M109.4 1349.2h0M108.5 1366.0h0M104.1 1363.9h0M102.2 1352.9h0M101.8 1364.9h0M103.2 1353.8h0M103.4 1354.5h0M105.5 1355.1h0M101.8 1347.4h0M103.1 1347.9h0M107.4 1361.9h0M106.8 1353.6h0M102.3 1369.3h0M108.4 1364.9h0M103.1 1360.4h0M107.1 1363.4h0M105.5 1364.6h0M103.3 1348.6h0M105.4 1368.9h0M106.6 1364.0h0M107.0 1353.7h0M105.2 1351.1h0M108.4 1347.4h0M105.7 1364.3h0M101.0 1363.6h0M104.1 1354.5h0M108.6 1346.8h0M103.6 1368.1h0M103.5 1358.1h0M109.6 1356.2h0M107.8 1360.6h0M102.1 1347.7h0M109.8 1354.7h0M104.5 1359.3h0M105.5 1359.6h0M101.8 1355.6h0M106.1 1355.9h0M104.0 1360.5h0M108.8 1367.9h0M105.0 1359.2h0M108.4 1368.2h0M102.4 1348.5h0M105.1 1360.8h0M103.3 1353.5h0M104.5 1356.0h0M105.1 1348.0h0M104.8 1363.7h0M104.8 1349.6h0M105.5 1361.2h0M103.1 1361.0h0M105.5 1360.2h0M109.5 1363.5h0M102.3 1360.5h0M109.4 1356.9h0M102.5 1352.8h0M102.1 1369.7h0M104.4 1349.4h0M108.3 1348.4h0M109.6 1350.9h0M103.5 1360.5h0M109.6 1369.4h0M102.6 1363.2h0M108.0 1342.2h0M104.3 1337.4h0M107.8 1327.5h0M109.8 1348.0h0M105.0 1335.0h0M107.1 1346.7h0M102.1 1345.8h0M104.4 1332.0h0M103.2 1331.7h0M109.9 1347.5h0M106.9 1336.9h0M108.4 1325.0h0M102.7 1332.0h0M104.4 1333.1h0M108.0 1334.5h0M106.6 1326.1h0M102.8 1346.4h0M102.8 1348.3h0M102.7 1351.6h0M105.9 1340.6h0M106.0 1347.1h0M107.3 1329.7h0M109.6 1340.4h0M104.7 1347.1h0M102.8 1329.5h0M109.2 1351.9h0M105.5 1350.8h0M109.3 1347.1h0M109.7 1349.9h0M109.8 1341.5h0M108.9 1276.7h0M106.5 1314.5h0M107.8 1277.4h0M108.3 1306.8h0M103.2 1278.0h0M104.6 1302.5h0M107.3 1307.3h0M106.0 1273.7h0M123.1 1364.2h0M123.2 1365.0h0M126.1 1372.8h0M123.2 1368.5h0M125.9 1365.8h0M122.7 1354.4h0M121.0 1360.5h0M120.7 1367.7h0M123.8 1358.6h0M122.5 1369.6h0M124.9 1356.0h0M124.5 1361.3h0M126.0 1365.1h0M128.1 1370.3h0M123.9 1364.2h0M122.5 1366.3h0M124.9 1369.5h0M126.3 1366.4h0M124.3 1354.4h0M125.9 1365.3h0M122.9 1356.9h0M124.7 1356.9h0M119.7 1360.4h0M120.2 1363.5h0M125.7 1369.3h0M124.0 1366.8h0M126.0 1363.6h0M127.4 1363.7h0M123.5 1364.3h0M124.9 1357.4h0M122.4 1365.1h0M125.9 1372.8h0M126.6 1370.7h0M126.6 1354.0h0M120.2 1363.7h0M123.1 1367.2h0M122.6 1372.0h0M124.8 1366.8h0M122.4 1372.3h0M120.1 1356.6h0M123.7 1353.9h0M123.8 1358.8h0M125.5 1362.3h0M122.8 1357.1h0M121.4 1367.1h0M125.1 1368.6h0M125.2 1359.5h0M123.4 1366.0h0M120.7 1371.1h0M120.7 1367.5h0M120.2 1358.3h0M123.2 1370.1h0M122.8 1360.8h0M123.8 1373.2h0M122.9 1356.2h0M126.0 1358.6h0M126.2 1368.6h0M123.4 1363.3h0M126.3 1358.3h0M123.4 1356.9h0M120.9 1364.7h0M128.0 1359.4h0M127.7 1369.5h0M125.7 1364.6h0M121.2 1362.0h0M122.9 1354.7h0M122.4 1372.9h0M124.0 1370.7h0M120.4 1367.0h0M124.3 1360.9h0M126.6 1366.3h0M122.5 1359.5h0M119.3 1364.6h0M123.6 1356.7h0M127.6 1367.5h0M120.6 1355.7h0M127.4 1366.0h0M125.9 1361.8h0M121.4 1365.6h0M120.6 1359.9h0M119.3 1364.5h0M119.9 1361.3h0M125.4 1354.4h0M124.9 1355.0h0M124.0 1364.2h0M121.9 1365.7h0M125.2 1363.7h0M126.3 1368.1h0M119.3 1364.6h0M126.4 1370.3h0M125.4 1365.2h0M120.2 1368.1h0M126.7 1361.3h0M123.1 1356.2h0M119.8 1368.8h0M124.4 1356.3h0M128.1 1373.2h0M121.2 1356.7h0M120.1 1372.5h0M121.0 1372.0h0M125.8 1372.9h0M127.7 1372.4h0M126.6 1355.1h0M124.4 1362.4h0M122.5 1358.1h0M126.3 1360.0h0M125.6 1355.2h0M127.3 1359.0h0M126.5 1367.4h0M127.3 1368.9h0M124.4 1373.2h0M127.5 1371.3h0M121.1 1367.1h0M125.4 1356.3h0M126.4 1360.0h0M121.4 1369.5h0M121.0 1362.0h0M124.3 1371.1h0M126.4 1357.5h0M119.5 1367.8h0M126.3 1372.7h0M127.9 1369.2h0M123.4 1369.6h0M127.9 1371.1h0M125.3 1369.6h0M128.2 1359.0h0M125.1 1371.2h0M126.1 1367.4h0M123.6 1367.9h0M119.4 1362.9h0M127.1 1370.6h0M122.3 1366.7h0M120.6 1365.3h0M122.3 1361.1h0M120.3 1367.1h0M121.1 1365.4h0M127.3 1357.7h0M119.4 1370.3h0M120.9 1370.0h0M123.7 1354.7h0M125.6 1351.5h0M119.9 1349.1h0M119.8 1347.7h0M127.1 1345.3h0M123.6 1339.9h0M126.8 1343.3h0M124.6 1348.6h0M123.9 1359.1h0M127.1 1358.3h0M126.0 1356.6h0M123.7 1359.0h0M119.5 1352.6h0M120.2 1340.9h0M121.0 1348.8h0M124.0 1359.0h0M125.7 1342.2h0M123.8 1356.8h0M120.5 1349.1h0M120.7 1352.1h0M124.0 1346.4h0M122.3 1351.6h0M127.7 1353.4h0M122.5 1355.0h0M123.8 1342.8h0M126.3 1358.2h0M126.2 1292.7h0M120.0 1307.0h0M125.2 1290.6h0M127.2 1319.8h0M123.9 1290.4h0M122.1 1327.9h0M120.7 1321.8h0M123.9 1323.9h0M138.7 1368.6h0M139.7 1369.7h0M139.4 1371.8h0M141.8 1362.0h0M141.0 1362.9h0M142.0 1362.5h0M139.0 1364.8h0M141.0 1371.5h0M146.2 1358.7h0M145.2 1369.4h0M144.6 1365.0h0M137.6 1357.1h0M142.7 1360.4h0M141.7 1364.0h0M141.0 1359.8h0M140.3 1366.5h0M145.8 1371.0h0M139.4 1371.5h0M145.8 1366.7h0M141.0 1360.5h0M143.6 1364.5h0M142.6 1362.3h0M146.5 1362.6h0M145.0 1364.2h0M145.5 1369.6h0M142.1 1362.4h0M140.7 1370.8h0M142.8 1371.3h0M139.9 1362.0h0M139.0 1361.1h0M138.1 1366.0h0M140.7 1372.8h0M142.8 1362.3h0M145.6 1365.2h0M139.8 1362.5h0M146.2 1371.3h0M144.0 1360.6h0M139.2 1363.5h0M141.2 1364.2h0M137.9 1365.4h0M138.4 1357.7h0M145.1 1361.3h0M139.4 1365.0h0M139.9 1362.1h0M145.4 1368.1h0M144.5 1371.1h0M141.0 1367.3h0M138.1 1363.7h0M140.1 1360.6h0M145.3 1370.0h0M143.5 1359.3h0M139.8 1369.0h0M144.1 1357.4h0M140.3 1367.9h0M141.5 1366.0h0M144.5 1355.6h0M139.4 1367.9h0M145.0 1370.7h0M143.2 1370.8h0M142.1 1368.3h0M146.3 1358.6h0M139.4 1360.5h0M139.7 1370.1h0M140.7 1367.9h0M140.5 1361.2h0M145.0 1361.5h0M138.1 1369.6h0M138.6 1370.4h0M138.2 1365.2h0M142.6 1373.4h0M142.4 1370.5h0M146.0 1373.4h0M137.8 1358.9h0M143.3 1358.2h0M145.0 1356.6h0M140.4 1357.5h0M139.7 1364.6h0M143.9 1372.8h0M142.8 1359.2h0M146.3 1367.6h0M144.6 1370.6h0M141.3 1368.1h0M145.7 1369.3h0M140.7 1369.4h0M146.2 1371.8h0M143.0 1356.7h0M140.6 1369.6h0M143.5 1368.9h0M142.6 1365.3h0M142.5 1360.7h0M142.3 1368.2h0M142.7 1369.1h0M141.2 1371.5h0M138.6 1372.7h0M146.2 1370.2h0M137.7 1347.1h0M143.9 1346.2h0M140.6 1347.7h0M138.6 1351.4h0M144.0 1356.4h0M142.5 1358.7h0M143.6 1341.4h0M145.1 1351.6h0M139.2 1343.7h0M141.0 1348.3h0M146.1 1358.0h0M142.1 1358.9h0M143.7 1341.9h0M145.1 1353.5h0M139.5 1344.9h0M139.1 1347.6h0M141.0 1353.9h0M140.5 1339.4h0M137.9 1358.9h0M140.0 1357.9h0M142.3 1348.6h0M145.4 1345.4h0M140.8 1350.5h0M146.0 1357.5h0M144.2 1346.7h0M140.8 1307.8h0M138.5 1294.0h0M145.9 1300.7h0M140.0 1295.2h0M139.1 1310.0h0M141.7 1337.3h0M140.5 1307.9h0M140.5 1285.1h0M142.5 1321.7h0M145.4 1275.0h0M164.7 1360.2h0M156.4 1366.5h0M156.0 1362.6h0M159.4 1371.8h0M164.5 1365.4h0M158.9 1368.8h0M161.6 1371.1h0M161.9 1369.6h0M161.4 1366.6h0M160.0 1369.0h0M156.3 1373.3h0M157.2 1361.8h0M159.6 1363.7h0M161.2 1365.7h0M162.7 1364.3h0M160.5 1361.2h0M159.1 1373.4h0M164.3 1372.4h0M164.1 1362.3h0M156.8 1361.5h0M164.1 1364.3h0M157.9 1366.2h0M164.8 1371.0h0M163.6 1364.2h0M163.8 1366.5h0M161.0 1371.2h0M164.8 1358.8h0M157.2 1359.0h0M164.1 1363.1h0M162.0 1359.7h0M156.8 1371.1h0M156.9 1372.5h0M162.0 1364.7h0M159.0 1370.6h0M164.5 1363.5h0M159.5 1359.7h0M161.7 1357.7h0M163.7 1367.6h0M164.6 1360.5h0M164.8 1365.8h0M158.0 1373.5h0M161.6 1362.7h0M160.4 1368.4h0M162.5 1360.8h0M161.3 1365.7h0M157.8 1364.8h0M160.1 1367.2h0M163.1 1369.7h0M163.9 1370.6h0M156.7 1361.7h0M156.6 1367.8h0M160.1 1369.4h0M159.1 1358.5h0M159.2 1363.5h0M158.3 1360.3h0M157.6 1369.5h0M156.2 1368.1h0M159.5 1369.1h0M161.0 1361.7h0M162.6 1364.9h0M162.6 1367.1h0M163.4 1372.8h0M163.2 1366.6h0M161.9 1362.0h0M160.9 1359.1h0M156.3 1372.9h0M163.2 1363.9h0M158.3 1357.8h0M160.8 1365.4h0M163.6 1358.6h0M156.3 1359.2h0M161.1 1364.5h0M160.8 1362.8h0M160.9 1372.5h0M161.1 1370.3h0M156.3 1365.4h0M156.5 1358.9h0M158.5 1366.6h0M157.7 1364.0h0M158.1 1360.7h0M157.2 1367.0h0M159.2 1360.3h0M160.0 1364.2h0M164.3 1370.0h0M160.3 1363.1h0M156.6 1367.0h0M156.1 1367.5h0M161.7 1362.1h0M162.5 1372.1h0M160.8 1370.6h0M160.4 1361.0h0M159.0 1366.7h0M164.3 1361.9h0M156.9 1367.8h0M159.1 1366.4h0M157.0 1356.9h0M162.0 1358.2h0M158.4 1356.5h0M157.9 1346.4h0M156.4 1356.4h0M156.2 1357.4h0M158.9 1355.4h0M155.9 1351.2h0M156.6 1349.0h0M157.2 1358.0h0M157.8 1352.0h0M160.3 1357.8h0M161.4 1353.4h0M157.3 1353.6h0M157.0 1350.9h0M163.5 1322.4h0M162.7 1319.8h0M162.9 1309.7h0M158.7 1320.1h0M163.9 1298.1h0M162.6 1342.8h0M158.2 1336.9h0M158.2 1329.5h0M177.7 1346.4h0M181.2 1331.5h0M177.3 1348.6h0M175.5 1334.8h0M177.4 1328.7h0M178.1 1341.2h0M174.9 1317.2h0M181.7 1345.7h0M182.2 1330.6h0M175.9 1326.6h0M176.6 1352.9h0M178.7 1347.8h0M178.1 1323.8h0M180.0 1327.5h0M180.0 1322.1h0M180.4 1346.3h0M179.2 1332.4h0M176.8 1361.3h0M177.6 1349.0h0M181.2 1318.1h0M177.0 1351.5h0M176.2 1338.1h0M214.3 1348.5h0M218.4 1350.6h0M213.6 1353.9h0M235.0 1357.1h0M234.6 1346.4h0M234.0 1313.4h0M229.4 1332.3h0M236.2 1343.6h0M234.6 1363.8h0M235.6 1319.6h0M233.7 1327.0h0M232.6 1326.6h0M232.5 1345.6h0M236.5 1352.9h0M237.1 1364.3h0M229.4 1329.7h0M230.8 1318.4h0M229.5 1358.3h0M229.3 1368.1h0M231.9 1323.7h0M230.7 1330.3h0M235.9 1315.5h0M234.6 1366.3h0M234.2 1317.9h0M233.0 1352.4h0M230.5 1323.0h0M233.5 1323.9h0M231.2 1350.7h0M229.4 1345.5h0M234.6 1321.3h0M233.1 1323.3h0M231.1 1361.1h0M237.8 1368.8h0M236.5 1334.3h0M233.1 1364.2h0M231.8 1366.1h0M230.7 1328.2h0M234.2 1347.0h0M234.6 1358.5h0M229.3 1303.2h0M231.0 1347.5h0M237.2 1326.0h0M230.9 1316.7h0M235.6 1358.6h0M237.3 1337.3h0M229.0 1316.0h0M229.8 1337.2h0M236.1 1323.7h0M233.0 1353.1h0M229.8 1348.0h0M236.6 1355.9h0M230.1 1355.5h0M233.6 1341.0h0M237.2 1345.2h0M232.8 1331.6h0M231.8 1314.4h0M235.7 1367.4h0M230.9 1346.3h0M236.1 1358.7h0M233.7 1341.7h0M232.5 1336.9h0M237.9 1342.5h0M235.7 1361.7h0M234.7 1313.3h0M231.6 1336.5h0M235.1 1368.3h0M235.1 1340.4h0M231.9 1312.9h0M234.9 1334.8h0M232.3 1329.9h0M230.0 1300.1h0M236.1 1318.4h0M232.3 1331.6h0M229.3 1343.4h0M233.0 1323.4h0M232.8 1346.0h0M235.6 1313.7h0M233.6 1309.9h0M237.3 1322.5h0M231.7 1310.2h0M237.8 1348.8h0M233.5 1301.0h0M230.9 1368.8h0M236.2 1344.9h0M230.6 1350.7h0M237.5 1319.7h0M236.5 1343.7h0M237.6 1353.2h0M229.0 1339.4h0M233.0 1349.4h0M229.9 1312.0h0M229.3 1361.1h0M232.6 1355.9h0M232.5 1305.7h0M237.7 1361.0h0M233.5 1352.3h0M236.2 1363.8h0M231.1 1302.1h0M229.5 1353.5h0M236.1 1320.0h0M234.7 1369.3h0M230.7 1353.7h0M234.9 1353.7h0M232.7 1331.0h0M232.8 1359.8h0M230.3 1310.8h0M234.7 1356.8h0M234.3 1315.9h0M228.9 1316.8h0M228.8 1322.0h0M231.2 1302.8h0M233.6 1307.3h0M229.3 1346.5h0M236.1 1365.5h0M237.3 1321.8h0M232.3 1313.2h0M230.5 1302.6h0M234.0 1304.6h0M234.6 1361.0h0M235.5 1349.1h0M234.7 1362.3h0M231.2 1315.7h0M235.4 1364.4h0M229.2 1352.8h0M229.9 1333.9h0M233.7 1328.8h0M234.9 1363.4h0M235.9 1352.6h0M233.0 1350.0h0M237.2 1302.4h0M229.4 1362.4h0M232.4 1317.9h0M235.9 1332.1h0M235.8 1315.4h0M237.7 1316.6h0M237.1 1365.2h0M233.1 1343.8h0M237.6 1306.2h0M231.1 1356.3h0M231.7 1316.8h0M232.6 1350.5h0M237.1 1329.3h0M232.2 1306.1h0M237.2 1319.0h0M236.2 1327.2h0M232.3 1310.1h0M236.9 1354.3h0M234.8 1364.5h0M231.9 1366.0h0M229.7 1312.0h0M231.6 1354.9h0M235.5 1327.0h0M234.2 1351.3h0M232.1 1320.5h0M232.8 1322.3h0M236.3 1304.3h0M232.8 1365.5h0M235.5 1332.9h0M230.1 1355.7h0M233.9 1315.1h0M230.7 1314.1h0M236.2 1361.2h0M232.7 1327.4h0M235.7 1327.2h0M234.3 1353.2h0M235.3 1345.8h0M230.1 1361.4h0M232.6 1321.1h0M229.6 1311.4h0M233.2 1355.5h0M233.1 1339.7h0M229.5 1334.2h0M232.7 1319.4h0M236.7 1340.1h0M233.9 1342.1h0M236.1 1319.9h0M233.8 1322.7h0M236.2 1316.9h0M232.1 1367.0h0M231.9 1342.3h0M232.1 1336.6h0M235.4 1337.7h0M232.8 1308.7h0M235.7 1328.1h0M229.8 1342.5h0M237.7 1360.4h0M231.1 1341.8h0M230.2 1334.1h0M235.1 1312.3h0M232.9 1368.7h0M232.3 1323.3h0M236.1 1317.6h0M232.6 1345.4h0M236.1 1335.1h0M231.2 1310.9h0M229.6 1318.1h0M234.2 1360.2h0M229.7 1312.8h0M235.5 1358.8h0M230.8 1327.2h0M237.5 1320.6h0M236.7 1347.1h0M235.7 1341.3h0M233.8 1325.4h0M229.1 1315.4h0M229.1 1357.2h0M231.9 1350.3h0M233.4 1338.1h0M236.7 1352.4h0M230.9 1349.4h0M233.9 1318.0h0M233.3 1318.9h0M234.2 1352.9h0M237.8 1352.5h0M229.1 1360.0h0M234.0 1344.7h0M236.7 1351.2h0M237.7 1331.7h0M233.5 1354.2h0M237.3 1363.9h0M234.2 1364.0h0M232.5 1347.1h0M231.3 1302.4h0M237.9 1362.4h0M232.1 1340.1h0M236.2 1340.8h0M232.6 1359.6h0M231.0 1306.1h0M235.8 1359.3h0M234.3 1353.6h0M232.7 1342.1h0M231.8 1326.4h0M229.3 1319.4h0M235.4 1311.3h0M234.9 1345.2h0M232.5 1305.8h0M235.0 1317.0h0M230.2 1359.8h0M233.3 1346.0h0M231.5 1355.1h0M235.1 1337.5h0M229.8 1336.4h0M232.2 1323.6h0M234.6 1336.1h0M228.8 1353.6h0M231.7 1369.0h0M232.2 1354.5h0M233.4 1320.1h0M233.7 1345.3h0M233.6 1358.1h0M231.5 1352.3h0M231.6 1340.2h0M234.8 1329.7h0M229.4 1336.5h0M236.1 1318.1h0M233.3 1315.8h0M232.8 1345.7h0M237.3 1319.9h0M235.9 1310.7h0M231.1 1339.0h0M231.9 1366.7h0M231.5 1335.1h0M231.8 1357.7h0M233.5 1367.6h0M232.1 1353.7h0M236.2 1303.2h0M229.3 1349.7h0M236.5 1349.9h0M232.8 1320.5h0M232.8 1311.9h0M237.8 1347.2h0M236.7 1356.7h0M234.4 1348.3h0M232.2 1307.9h0M231.8 1361.3h0M230.3 1334.2h0M230.9 1323.9h0M233.4 1359.7h0M235.2 1318.5h0M230.4 1328.1h0M233.2 1338.9h0M233.8 1319.6h0M232.9 1333.4h0M229.8 1356.5h0M235.1 1367.8h0M231.9 1317.7h0M230.3 1368.1h0M232.8 1363.5h0M236.7 1363.1h0M233.0 1357.5h0M236.4 1345.2h0M230.8 1347.3h0M235.6 1303.2h0M232.5 1361.6h0M230.6 1335.6h0M233.2 1312.5h0M228.8 1327.3h0M231.5 1309.7h0M237.6 1322.4h0M236.8 1319.7h0M230.5 1323.9h0M236.5 1335.0h0M233.7 1369.2h0M230.9 1344.9h0M229.4 1325.4h0M235.5 1309.9h0M231.1 1353.0h0M233.0 1355.0h0M235.2 1335.2h0M237.4 1332.7h0M233.5 1312.5h0M233.2 1354.0h0M233.0 1361.0h0M229.5 1335.3h0M236.5 1350.6h0M235.5 1327.3h0M229.0 1359.7h0M230.0 1345.2h0M229.9 1328.5h0M233.4 1308.3h0M237.7 1343.0h0M231.8 1327.7h0M231.4 1322.2h0M235.8 1322.0h0M237.4 1351.0h0M237.2 1303.2h0M229.0 1338.2h0M230.2 1342.9h0M236.3 1362.5h0M229.2 1326.6h0M235.4 1341.6h0M231.4 1331.6h0M229.6 1319.4h0M235.4 1353.4h0M234.4 1330.4h0M233.9 1359.4h0M234.5 1351.6h0M233.2 1360.3h0M237.6 1302.6h0M235.6 1336.6h0M230.5 1331.1h0M231.0 1317.3h0M231.7 1338.2h0M234.9 1360.3h0M231.9 1358.8h0M232.3 1304.7h0M234.1 1362.8h0M232.2 1324.5h0M236.2 1316.5h0M232.5 1326.5h0M234.6 1357.8h0M231.8 1349.3h0M234.7 1365.2h0M233.0 1343.1h0M230.0 1364.5h0M238.0 1353.4h0M237.7 1346.8h0M237.6 1338.6h0M231.0 1355.7h0M233.4 1343.4h0M235.2 1343.6h0M231.2 1300.3h0M233.3 1331.6h0M234.3 1353.7h0M235.8 1367.4h0M237.3 1367.3h0M232.3 1306.6h0M233.8 1353.8h0M234.5 1350.9h0M237.5 1339.9h0M231.0 1368.9h0M234.4 1353.5h0M232.0 1348.0h0M237.4 1320.6h0M237.3 1353.7h0M231.6 1352.8h0M233.5 1306.3h0M229.7 1366.8h0M237.9 1326.2h0M236.6 1355.0h0M230.0 1319.0h0M235.0 1305.0h0M235.9 1337.1h0M236.4 1270.1h0M230.1 1286.8h0M234.7 1258.9h0M229.6 1268.4h0M235.1 1286.9h0M230.4 1278.7h0M235.3 1287.0h0M236.3 1296.9h0M236.8 1283.3h0M236.3 1265.1h0M233.4 1292.4h0M237.3 1261.1h0M236.5 1286.3h0M235.3 1276.7h0M233.5 1275.6h0M236.7 1296.7h0M232.4 1287.5h0M233.1 1261.8h0M235.2 1280.5h0M234.0 1304.3h0M229.9 1265.5h0M237.2 1291.8h0M230.8 1288.1h0M232.8 1271.0h0M233.0 1294.8h0M229.8 1264.5h0M236.5 1300.2h0M233.7 1304.4h0M232.4 1294.1h0M234.6 1248.8h0M229.7 1275.4h0M233.0 1284.8h0M235.9 1290.4h0M235.8 1297.9h0M233.9 1291.5h0M230.2 1302.1h0M229.5 1286.7h0M235.1 1302.5h0M231.8 1288.6h0M234.0 1273.8h0M235.5 1277.6h0M233.8 1286.6h0M235.6 1278.3h0M235.5 1294.6h0M234.7 1281.9h0M235.2 1301.6h0M230.2 1297.4h0M230.8 1301.0h0M230.6 1259.6h0M231.6 1302.0h0M233.9 1283.0h0M232.0 1260.6h0M229.6 1300.1h0M232.3 1261.4h0M234.0 1298.3h0M235.6 1284.6h0M235.7 1273.5h0M230.5 1286.4h0M236.8 1276.1h0M231.3 1246.8h0M230.9 1288.3h0M230.9 1281.6h0M230.3 1252.1h0M235.7 1303.5h0M230.4 1306.1h0M236.8 1304.6h0M232.1 1293.2h0M230.3 1265.9h0M234.2 1286.3h0M231.9 1307.0h0M229.7 1278.4h0M233.2 1263.1h0M229.6 1267.0h0M234.8 1265.6h0M234.2 1298.4h0M231.6 1308.3h0M237.3 1301.7h0M236.6 1265.7h0M232.7 1286.2h0M229.8 1241.6h0M236.1 1245.3h0M233.3 1251.7h0M235.8 1272.6h0M233.1 1300.0h0M233.5 1286.4h0M231.9 1251.8h0M236.8 1303.1h0M231.8 1297.5h0M234.2 1266.0h0M236.0 1261.5h0M235.2 1262.7h0M233.5 1285.4h0M233.3 1292.7h0M232.8 1281.7h0M232.3 1290.7h0M237.2 1291.8h0M232.6 1281.8h0M231.3 1294.6h0M231.7 1308.6h0M236.5 1284.6h0M235.0 1262.8h0M231.3 1275.4h0M230.3 1293.7h0M229.9 1284.4h0M234.7 1255.0h0M234.3 1302.8h0M231.4 1305.7h0M234.0 1257.0h0M230.8 1295.0h0M237.0 1273.0h0M252.6 1329.9h0M250.1 1336.2h0M252.3 1335.5h0M251.2 1337.0h0M250.8 1346.4h0M253.9 1325.7h0M254.7 1322.5h0M249.3 1346.6h0M247.7 1359.9h0M249.4 1311.9h0M250.4 1341.6h0M252.9 1332.2h0M252.3 1357.7h0M255.5 1338.3h0M250.5 1335.0h0M252.8 1363.8h0M255.5 1322.5h0M251.1 1362.0h0M249.1 1360.0h0M252.1 1356.9h0M254.3 1327.4h0M253.9 1362.0h0M248.5 1363.7h0M252.9 1327.6h0M248.7 1334.9h0M254.1 1348.4h0M252.2 1361.4h0M250.2 1344.9h0M254.0 1324.9h0M253.8 1318.3h0M254.3 1324.7h0M251.8 1336.6h0M250.9 1322.3h0M254.1 1328.8h0M248.0 1337.8h0M248.4 1334.7h0M253.2 1360.6h0M248.9 1365.5h0M251.5 1349.4h0M250.1 1359.0h0M254.1 1326.5h0M253.4 1308.3h0M253.4 1324.9h0M251.2 1358.9h0M251.2 1364.6h0M255.3 1345.0h0M250.4 1311.9h0M251.9 1353.8h0M250.1 1352.5h0M251.4 1337.0h0M254.7 1328.5h0M249.8 1319.7h0M252.4 1322.7h0M250.3 1356.6h0M255.5 1351.7h0M249.7 1348.4h0M250.5 1362.8h0M247.8 1326.9h0M252.3 1334.9h0M255.0 1357.3h0M248.3 1359.8h0M251.8 1344.3h0M254.5 1328.5h0M252.3 1323.5h0M251.0 1356.8h0M254.6 1326.1h0M247.8 1366.0h0M249.3 1347.6h0M251.2 1351.2h0M253.3 1334.9h0M252.7 1336.0h0M253.0 1323.2h0M251.4 1351.0h0M249.1 1346.5h0M252.1 1358.2h0M249.6 1353.3h0M251.2 1326.7h0M255.5 1320.9h0M252.7 1361.9h0M252.7 1347.4h0M268.8 1353.1h0M266.0 1325.1h0M270.8 1323.7h0M273.3 1337.4h0M268.4 1364.8h0M268.7 1353.1h0M271.7 1345.6h0M270.1 1339.0h0M265.9 1336.8h0M272.1 1328.8h0M268.7 1356.1h0M272.1 1351.4h0M273.0 1356.2h0M269.2 1356.9h0M266.9 1318.1h0M267.6 1364.6h0M270.4 1333.6h0M271.0 1329.5h0M270.3 1327.3h0M270.6 1344.9h0M271.2 1366.1h0M267.6 1331.1h0M269.2 1365.8h0M271.8 1314.6h0M269.6 1329.8h0M266.9 1355.2h0M270.9 1354.8h0M272.8 1313.3h0M272.6 1359.5h0M271.3 1337.1h0M304.6 1322.2h0M306.6 1349.6h0M304.4 1330.3h0M307.0 1337.3h0M380.5 1310.4h0M379.8 1343.4h0M379.9 1333.3h0M381.5 1321.3h0M379.0 1312.9h0M379.5 1332.3h0M384.0 1339.7h0M379.3 1316.8h0M375.7 1311.1h0M379.8 1340.2h0M383.8 1305.4h0M379.5 1333.5h0M378.5 1342.8h0M382.5 1331.2h0M380.8 1334.8h0M383.1 1335.1h0M376.1 1341.1h0M382.1 1322.9h0M378.3 1306.2h0M376.5 1339.8h0M383.3 1313.1h0M383.6 1322.6h0M379.7 1315.7h0M381.5 1324.9h0M383.4 1340.1h0M383.2 1325.6h0M379.2 1344.1h0M383.9 1316.4h0M378.9 1348.4h0M375.9 1347.9h0M381.3 1319.8h0M383.8 1349.8h0M380.4 1314.1h0M380.7 1335.5h0M382.9 1350.5h0M382.0 1347.4h0M375.8 1318.2h0M378.3 1349.5h0M383.9 1339.1h0M379.3 1326.1h0M379.3 1332.6h0M379.8 1314.9h0M377.3 1341.3h0M375.3 1301.4h0M378.3 1341.5h0M377.0 1318.0h0M379.2 1323.8h0M379.6 1351.5h0M380.4 1305.7h0M382.6 1302.9h0M380.0 1309.9h0M375.8 1346.2h0M382.8 1325.6h0M378.0 1349.0h0M380.9 1323.2h0M379.5 1348.2h0M379.9 1341.2h0M377.5 1342.4h0M379.4 1322.8h0M377.8 1332.0h0M375.5 1350.5h0M379.7 1319.3h0M382.7 1330.1h0M378.5 1334.0h0M384.0 1322.0h0M380.9 1339.1h0M379.9 1316.4h0M378.3 1309.5h0M380.0 1349.3h0M377.4 1336.7h0M401.0 1345.1h0M397.8 1338.9h0M394.4 1348.8h0M400.8 1345.3h0M486.6 1355.4h0M492.0 1353.6h0M490.6 1345.6h0M508.7 1358.2h0M508.5 1355.6h0M509.1 1355.8h0M528.4 1337.1h0M525.5 1341.9h0M525.8 1321.3h0M523.0 1344.1h0M600.3 1360.3h0M615.7 1307.3h0M650.8 1337.5h0M745.2 1341.4h0M743.7 1356.6h0M744.5 1358.3h0M744.0 1356.2h0M745.4 1348.3h0M763.9 1366.1h0M857.2 1342.3h0M856.8 1343.6h0M870.5 1336.6h0M876.5 1345.9h0M875.8 1305.4h0M870.0 1324.1h0M873.4 1314.3h0M871.4 1332.7h0M870.5 1348.1h0M872.8 1327.3h0M872.9 1347.2h0M871.1 1350.0h0M889.3 1346.5h0M888.2 1346.9h0M893.9 1340.7h0M909.2 1320.1h0M907.7 1327.4h0M908.2 1330.2h0M947.5 1325.0h0M948.6 1325.5h0M966.0 1329.7h0M982.7 1313.1h0M980.0 1315.0h0M1001.3 1343.0h0M1000.5 1335.0h0M1022.4 1305.2h0M1015.7 1300.8h0M1018.8 1330.0h0M1017.4 1337.1h0M1017.9 1325.1h0M1017.3 1286.5h0M1021.8 1305.4h0M1016.4 1310.4h0M1019.8 1329.6h0M1019.4 1343.4h0M1019.9 1334.9h0M1015.5 1341.8h0M1019.5 1324.7h0M1018.0 1298.9h0M1021.7 1329.5h0M1017.9 1344.9h0M1015.1 1341.3h0M1017.8 1323.4h0M1022.2 1295.0h0M1016.8 1302.4h0M1019.6 1331.8h0M1020.8 1322.8h0M1015.1 1308.3h0M1018.8 1323.7h0M1017.1 1298.4h0M1022.2 1303.3h0M1019.4 1336.4h0M1019.2 1347.8h0M1020.0 1312.5h0M1022.1 1345.6h0M1020.5 1339.3h0M1022.7 1335.3h0M1019.0 1324.8h0M1021.8 1310.4h0M1020.3 1310.7h0M1017.0 1347.6h0M1019.4 1301.7h0M1017.0 1346.5h0M1015.6 1331.9h0M1017.7 1303.7h0M1016.1 1344.1h0M1022.1 1333.3h0M1019.9 1341.2h0M1017.5 1317.0h0M1020.5 1331.2h0M1021.8 1342.1h0M1020.4 1345.3h0M1018.2 1340.6h0M1017.3 1327.3h0M1022.4 1313.3h0M1017.0 1336.1h0M1020.5 1310.3h0M1021.4 1310.8h0M1021.6 1308.9h0M1016.9 1320.6h0M1015.5 1330.3h0M1019.3 1320.5h0M1020.8 1333.5h0M1018.7 1338.3h0M1016.0 1332.8h0M1036.0 1336.9h0M1036.5 1337.7h0M1072.9 1337.0h0M1075.4 1336.8h0M1091.9 1344.1h0M1148.0 1340.9h0M1144.8 1323.5h0M1168.0 1323.9h0M1166.6 1328.6h0M1162.4 1316.2h0M1167.7 1321.5h0" stroke="#0a0a0a" stroke-width="1.3" stroke-linecap="round" fill="none"/>
<path d="M100.7 1374.1h9.6M119.0 1374.1h9.6M137.2 1374.1h9.6M155.5 1374.1h9.6M173.8 1374.1h9.6M210.3 1374.1h9.6M228.6 1374.1h9.6M246.9 1374.1h9.6M265.1 1374.1h9.6M301.7 1374.1h9.6M374.8 1374.1h9.6M393.0 1374.1h9.6M484.4 1374.1h9.6M502.6 1374.1h9.6M520.9 1374.1h9.6M557.5 1374.1h9.6M594.0 1374.1h9.6M612.3 1374.1h9.6M648.8 1374.1h9.6M740.1 1374.1h9.6M758.4 1374.1h9.6M849.8 1374.1h9.6M868.0 1374.1h9.6M886.3 1374.1h9.6M904.6 1374.1h9.6M941.1 1374.1h9.6M959.4 1374.1h9.6M977.7 1374.1h9.6M995.9 1374.1h9.6M1014.2 1374.1h9.6M1032.5 1374.1h9.6M1069.0 1374.1h9.6M1087.3 1374.1h9.6M1142.1 1374.1h9.6M1160.4 1374.1h9.6" stroke="#111" stroke-width="2.1" fill="none"/>
<path d="M94.2 1231.4V1373.6" stroke="#111" stroke-width="1.8" fill="none"/><path d="M93.3 1373.6H1195.5" stroke="#111" stroke-width="1.5" fill="none"/>
<path d="M86.9 1373.6H94.5" stroke="#111" stroke-width="1.6"/>
<text transform="translate(84.90,1384.70)" font-size="17.50" text-anchor="end">0</text>
<path d="M86.9 1301.6H94.5" stroke="#111" stroke-width="1.6"/>
<text transform="translate(84.90,1312.70)" font-size="17.50" text-anchor="end">2</text>
<text transform="translate(102.20,1241.60) scale(0.9822,1)" font-size="22.60" font-style="italic">MADCAM1</text>
<path d="M105.5 1540.4V1464.2M123.8 1540.4V1407.2M142.0 1540.4V1429.3M160.3 1540.4V1428.5M178.6 1540.4V1432.2M196.8 1540.4V1522.7M215.1 1540.4V1492.2M233.4 1540.4V1405.3M251.7 1540.4V1438.5M269.9 1540.4V1447.1M306.5 1540.4V1441.4M379.6 1540.4V1443.2M397.8 1540.4V1520.7M416.1 1540.4V1485.9M489.2 1540.4V1501.8M507.4 1540.4V1510.2M525.7 1540.4V1435.5M562.2 1540.4V1473.4M580.5 1540.4V1513.2M744.9 1540.4V1531.4M763.2 1540.4V1432.9M854.6 1540.4V1481.5M872.8 1540.4V1434.0M891.1 1540.4V1486.9M909.4 1540.4V1486.1M945.9 1540.4V1458.9M1019.0 1540.4V1435.3M1055.5 1540.4V1485.2" stroke="#111" stroke-width="1.25" fill="none"/>
<path d="M224.8 1540.4C225.0 1539.8 225.1 1538.3 225.9 1536.7C226.7 1535.2 228.4 1533.7 229.4 1531.2C230.3 1528.7 231.3 1526.0 231.6 1522.0C231.9 1518.0 231.3 1512.2 231.0 1507.3C230.6 1502.4 229.8 1497.3 229.5 1492.6C229.1 1487.8 228.8 1483.9 228.9 1478.9C228.9 1474.0 229.3 1468.2 229.8 1463.1C230.2 1458.0 231.0 1453.3 231.6 1448.4C232.1 1443.5 232.8 1436.1 233.1 1433.7L233.7 1433.7C233.9 1436.1 234.6 1443.5 235.2 1448.4C235.7 1453.3 236.5 1458.0 237.0 1463.1C237.4 1468.2 237.8 1474.0 237.9 1478.9C237.9 1483.9 237.6 1487.8 237.3 1492.6C236.9 1497.3 236.1 1502.4 235.8 1507.3C235.4 1512.2 234.9 1518.0 235.2 1522.0C235.5 1526.0 236.4 1528.7 237.4 1531.2C238.3 1533.7 240.1 1535.2 240.9 1536.7C241.7 1538.3 241.8 1539.8 242.0 1540.4Z" fill="#3E8E5E" stroke="#111" stroke-width="0.9" stroke-linejoin="round"/>
<path d="M261.9 1540.4C262.2 1539.8 262.6 1538.3 263.4 1536.7C264.2 1535.2 266.0 1533.3 266.7 1531.2C267.5 1529.1 267.7 1527.2 267.8 1523.8C267.9 1520.5 267.4 1514.9 267.3 1511.0C267.2 1507.0 267.0 1504.2 267.1 1499.9C267.2 1495.6 267.5 1490.7 267.8 1485.2C268.1 1479.7 268.6 1472.0 268.9 1466.8C269.2 1461.6 269.5 1456.1 269.6 1453.9L270.2 1453.9C270.3 1456.1 270.6 1461.6 270.9 1466.8C271.2 1472.0 271.7 1479.7 272.0 1485.2C272.3 1490.7 272.6 1495.6 272.7 1499.9C272.8 1504.2 272.6 1507.0 272.5 1511.0C272.4 1514.9 271.9 1520.5 272.0 1523.8C272.1 1527.2 272.4 1529.1 273.1 1531.2C273.9 1533.3 275.6 1535.2 276.4 1536.7C277.2 1538.3 277.7 1539.8 277.9 1540.4Z" fill="#C8601A" stroke="#111" stroke-width="0.9" stroke-linejoin="round"/>
<path d="M228.6 1502.5h9.6" stroke="#fff" stroke-width="2.5"/>
<path d="M265.1 1539.7h9.6" stroke="#fff" stroke-width="2.5"/>
<path d="M94.2 1397.8V1540.4" stroke="#111" stroke-width="1.8" fill="none"/><path d="M93.3 1540.4H1195.5" stroke="#111" stroke-width="1.5" fill="none"/>
<path d="M86.9 1540.4H94.5" stroke="#111" stroke-width="1.6"/>
<text transform="translate(84.90,1551.50)" font-size="17.50" text-anchor="end">0</text>
<path d="M86.9 1466.8H94.5" stroke="#111" stroke-width="1.6"/>
<text transform="translate(84.90,1477.90)" font-size="17.50" text-anchor="end">2</text>
<text transform="translate(100.80,1406.40) scale(0.9811,1)" font-size="22.60" font-style="italic">SELP</text>
<path d="M105.5 1706.7V1598.9M123.8 1706.7V1595.3M142.0 1706.7V1571.7M160.3 1706.7V1624.3M178.6 1706.7V1616.7M196.8 1706.7V1661.5M215.1 1706.7V1664.6M233.4 1706.7V1659.9M251.7 1706.7V1661.0M269.9 1706.7V1675.5M306.5 1706.7V1591.5M361.3 1706.7V1579.5M379.6 1706.7V1640.3M397.8 1706.7V1649.9M416.1 1706.7V1640.5M434.4 1706.7V1680.0M470.9 1706.7V1606.7M489.2 1706.7V1667.9M507.4 1706.7V1629.8M525.7 1706.7V1641.6M544.0 1706.7V1697.3M562.2 1706.7V1654.8M580.5 1706.7V1666.8M598.8 1706.7V1685.5M617.1 1706.7V1649.9M635.3 1706.7V1696.0M653.6 1706.7V1670.8M671.9 1706.7V1699.1M690.1 1706.7V1667.9M708.4 1706.7V1693.3M726.7 1706.7V1678.4M744.9 1706.7V1656.1M763.2 1706.7V1642.1M781.5 1706.7V1701.1M799.8 1706.7V1657.2M818.0 1706.7V1684.4M836.3 1706.7V1679.3M854.6 1706.7V1652.8M872.8 1706.7V1640.5M891.1 1706.7V1664.6M909.4 1706.7V1662.4M927.6 1706.7V1673.5M945.9 1706.7V1672.2M964.2 1706.7V1699.3M982.5 1706.7V1676.6M1000.7 1706.7V1679.7M1019.0 1706.7V1622.0M1037.3 1706.7V1642.8M1073.8 1706.7V1666.8M1092.1 1706.7V1685.5M1146.9 1706.7V1670.8M1165.2 1706.7V1654.1M1183.4 1706.7V1687.8" stroke="#111" stroke-width="1.4" fill="none"/>
<path d="M101.6 1704.0C101.5 1703.7 101.3 1707.4 101.3 1702.2C101.2 1697.1 101.1 1678.8 101.3 1673.3C101.5 1667.7 102.3 1669.6 102.5 1668.8L108.5 1668.8C108.7 1669.6 109.5 1667.7 109.7 1673.3C109.9 1678.8 109.8 1697.1 109.7 1702.2C109.7 1707.4 109.5 1703.7 109.4 1704.0Z" fill="#3c3c3c"/>
<path d="M119.2 1706.7C119.2 1695.2 119.0 1649.9 119.2 1637.6C119.4 1625.4 120.1 1633.9 120.3 1633.2L127.3 1633.2C127.5 1633.9 128.2 1625.4 128.4 1637.6C128.6 1649.9 128.4 1695.2 128.4 1706.7Z" fill="#0a0a0a"/>
<path d="M137.4 1706.7C137.4 1691.1 137.3 1629.5 137.4 1613.1C137.6 1596.8 138.4 1609.4 138.5 1608.7L145.5 1608.7C145.7 1609.4 146.5 1596.8 146.6 1613.1C146.8 1629.5 146.6 1691.1 146.6 1706.7Z" fill="#0a0a0a"/>
<path d="M155.8 1706.7C155.8 1703.7 155.6 1692.6 155.8 1688.9C156.0 1685.2 156.7 1685.2 156.9 1684.4L163.7 1684.4C163.9 1685.2 164.6 1685.2 164.8 1688.9C165.0 1692.6 164.8 1703.7 164.8 1706.7Z" fill="#0a0a0a"/>
<path d="M303.3 1686.6C303.2 1685.5 302.8 1685.5 302.7 1680.0C302.6 1674.4 302.5 1658.8 302.7 1653.2C302.8 1647.7 303.3 1647.7 303.5 1646.5L309.5 1646.5C309.6 1647.7 310.1 1647.7 310.3 1653.2C310.4 1658.8 310.4 1674.4 310.3 1680.0C310.2 1685.5 309.8 1685.5 309.7 1686.6Z" fill="#3c3c3c"/>
<path d="M298.1 1706.7C298.5 1706.3 299.6 1705.1 300.5 1704.0C301.4 1702.9 302.6 1701.4 303.5 1700.0C304.3 1698.6 305.0 1696.7 305.5 1695.6C305.9 1694.4 306.1 1693.3 306.3 1692.9L306.7 1692.9C306.8 1693.3 307.0 1694.4 307.5 1695.6C307.9 1696.7 308.6 1698.6 309.5 1700.0C310.3 1701.4 311.6 1702.9 312.5 1704.0C313.4 1705.1 314.5 1706.3 314.9 1706.7Z" fill="#B3A9D9" stroke="#111" stroke-width="0.9" stroke-linejoin="round"/>
<path d="M316.7 1706.7C316.6 1706.1 316.1 1705.0 316.1 1703.4C316.2 1701.7 316.5 1699.1 316.9 1696.7C317.3 1694.3 318.0 1692.8 318.5 1688.9C319.1 1685.0 319.7 1678.8 320.1 1673.3C320.6 1667.7 320.9 1661.0 321.2 1655.5C321.5 1649.9 321.8 1643.1 321.9 1639.9C322.1 1636.6 321.7 1636.7 322.1 1636.1C322.6 1635.4 324.3 1636.1 324.7 1636.1L324.7 1636.1C325.2 1636.1 326.9 1635.4 327.3 1636.1C327.8 1636.7 327.4 1636.6 327.5 1639.9C327.7 1643.1 327.9 1649.9 328.2 1655.5C328.5 1661.0 328.9 1667.7 329.3 1673.3C329.8 1678.8 330.4 1685.0 330.9 1688.9C331.5 1692.8 332.1 1694.3 332.5 1696.7C332.9 1699.1 333.3 1701.7 333.3 1703.4C333.4 1705.0 332.8 1706.1 332.7 1706.7Z" fill="#80C9B8" stroke="#111" stroke-width="0.9" stroke-linejoin="round"/>
<path d="M109.6 1675.1h0M104.5 1685.2h0M108.0 1670.9h0M104.1 1692.4h0M107.5 1693.7h0M102.8 1692.4h0M108.6 1683.6h0M107.5 1673.1h0M103.4 1701.9h0M107.1 1685.3h0M106.7 1674.7h0M108.5 1669.1h0M105.7 1674.6h0M106.8 1693.9h0M105.4 1692.4h0M104.7 1702.6h0M103.0 1688.2h0M108.9 1696.5h0M102.2 1695.4h0M108.0 1691.8h0M109.6 1678.4h0M104.1 1687.5h0M104.7 1699.6h0M107.7 1680.4h0M102.3 1690.8h0M106.4 1673.6h0M107.3 1679.8h0M103.3 1685.0h0M106.7 1693.0h0M107.9 1670.1h0M105.8 1703.6h0M107.0 1699.7h0M105.6 1670.2h0M109.0 1671.4h0M102.9 1673.4h0M104.8 1690.4h0M106.0 1693.2h0M106.9 1674.2h0M101.3 1704.0h0M102.1 1701.2h0M105.7 1692.7h0M107.1 1696.7h0M105.3 1674.4h0M101.5 1702.0h0M106.0 1678.7h0M102.1 1680.0h0M109.7 1681.6h0M103.4 1684.0h0M104.4 1688.7h0M104.8 1672.4h0M105.6 1672.5h0M107.6 1688.0h0M102.9 1694.2h0M102.8 1669.4h0M107.6 1693.2h0M101.9 1703.7h0M106.5 1686.3h0M105.0 1690.2h0M108.0 1669.5h0M102.4 1689.6h0M106.4 1700.3h0M106.1 1673.9h0M108.3 1671.6h0M105.0 1677.9h0M102.2 1687.8h0M102.6 1697.3h0M108.8 1674.6h0M109.0 1694.7h0M103.2 1680.2h0M108.4 1679.7h0M104.1 1702.6h0M109.7 1689.6h0M109.5 1671.7h0M106.1 1675.6h0M105.4 1699.7h0M106.6 1691.3h0M102.3 1682.9h0M102.7 1672.2h0M102.3 1672.6h0M106.4 1672.3h0M106.7 1685.9h0M107.4 1669.0h0M104.8 1684.1h0M105.7 1703.1h0M104.1 1701.4h0M108.1 1685.4h0M108.5 1686.6h0M101.2 1692.4h0M109.5 1685.4h0M105.5 1674.6h0M105.7 1701.4h0M101.5 1701.2h0M109.9 1695.3h0M108.1 1692.6h0M101.3 1699.3h0M108.6 1689.1h0M108.9 1700.9h0M101.5 1679.7h0M102.2 1678.4h0M106.2 1697.9h0M101.7 1693.7h0M105.3 1681.1h0M102.9 1687.8h0M106.6 1683.6h0M107.9 1684.6h0M107.0 1680.6h0M105.4 1669.4h0M104.9 1700.6h0M109.5 1682.1h0M109.7 1686.8h0M102.0 1675.9h0M109.2 1669.7h0M109.5 1678.9h0M106.3 1689.7h0M107.6 1677.5h0M106.0 1675.2h0M108.8 1686.3h0M108.3 1689.6h0M104.9 1686.8h0M108.9 1696.0h0M103.0 1696.2h0M107.9 1703.8h0M107.4 1701.6h0M108.5 1696.5h0M104.9 1702.0h0M105.8 1689.8h0M101.6 1680.0h0M107.2 1688.5h0M101.3 1696.8h0M106.0 1673.0h0M105.7 1677.9h0M109.6 1700.9h0M106.9 1670.0h0M108.5 1687.2h0M107.1 1694.7h0M108.3 1670.5h0M108.1 1699.4h0M104.5 1679.1h0M101.6 1692.5h0M107.4 1687.1h0M107.6 1693.1h0M109.1 1693.6h0M105.4 1690.6h0M103.6 1674.0h0M102.5 1692.7h0M107.5 1674.2h0M104.5 1670.6h0M109.7 1672.4h0M101.4 1683.3h0M106.8 1689.7h0M103.5 1696.2h0M105.7 1689.4h0M101.8 1683.4h0M107.8 1682.3h0M108.6 1673.6h0M101.1 1697.0h0M105.1 1677.7h0M103.1 1683.0h0M101.6 1684.9h0M103.6 1700.3h0M109.5 1670.1h0M102.5 1630.1h0M109.0 1657.1h0M104.9 1674.1h0M109.8 1671.1h0M106.5 1668.1h0M107.3 1635.9h0M101.2 1633.8h0M110.0 1625.8h0M108.3 1653.8h0M110.0 1637.9h0M107.5 1663.0h0M104.6 1639.2h0M107.8 1671.6h0M109.6 1666.7h0M101.0 1662.0h0M101.1 1633.3h0M107.1 1672.3h0M107.9 1643.8h0M105.4 1664.6h0M107.6 1662.6h0M107.1 1672.6h0M108.0 1674.3h0M106.4 1661.9h0M101.6 1676.8h0M107.5 1649.9h0M102.1 1663.5h0M105.6 1639.1h0M109.8 1666.3h0M104.4 1645.1h0M103.7 1661.0h0M105.4 1651.8h0M105.7 1626.9h0M104.5 1668.1h0M108.5 1636.4h0M104.1 1664.6h0M103.7 1666.4h0M103.3 1653.1h0M106.8 1654.5h0M106.2 1634.1h0M103.4 1672.5h0M107.7 1649.2h0M106.0 1639.5h0M109.2 1665.1h0M109.1 1677.4h0M104.7 1628.9h0M105.8 1642.2h0M104.4 1633.9h0M102.4 1652.6h0M102.2 1676.6h0M101.5 1673.6h0M109.2 1673.8h0M105.6 1658.3h0M108.5 1657.0h0M109.7 1666.4h0M102.9 1665.5h0M106.2 1666.3h0M102.7 1636.9h0M103.1 1663.1h0M108.9 1664.3h0M102.8 1648.4h0M108.6 1660.4h0M107.2 1668.2h0M107.7 1669.9h0M101.4 1663.5h0M104.3 1652.7h0M102.1 1675.6h0M108.1 1675.8h0M106.3 1659.8h0M108.4 1671.4h0M106.3 1670.0h0M102.4 1677.5h0M107.7 1651.3h0M106.7 1652.4h0M105.1 1662.5h0M103.3 1631.6h0M104.6 1664.0h0M107.6 1672.1h0M109.7 1642.2h0M105.3 1675.9h0M109.2 1634.8h0M104.4 1647.5h0M102.3 1644.9h0M109.8 1639.0h0M104.3 1653.6h0M101.7 1646.5h0M108.5 1655.5h0M107.6 1661.0h0M107.9 1631.0h0M108.6 1672.3h0M104.8 1663.0h0M103.9 1670.0h0M106.8 1677.3h0M108.4 1663.2h0M106.8 1664.2h0M109.5 1668.0h0M109.0 1669.7h0M103.0 1655.3h0M104.1 1640.6h0M107.7 1672.6h0M109.3 1664.9h0M101.4 1638.8h0M107.8 1675.3h0M110.0 1642.4h0M109.4 1656.2h0M107.3 1636.7h0M102.3 1654.7h0M102.9 1645.0h0M106.8 1631.5h0M106.5 1673.2h0M106.6 1671.7h0M101.5 1666.8h0M101.0 1663.3h0M101.5 1672.1h0M102.8 1676.8h0M105.7 1649.5h0M110.0 1653.8h0M107.1 1635.8h0M104.7 1659.6h0M104.0 1663.3h0M107.3 1671.2h0M102.6 1671.6h0M101.2 1669.3h0M108.6 1654.6h0M107.8 1675.4h0M107.9 1652.1h0M109.5 1657.6h0M103.4 1672.9h0M106.2 1640.6h0M104.3 1658.3h0M104.7 1665.8h0M102.3 1637.3h0M106.1 1669.0h0M105.9 1654.8h0M101.2 1637.2h0M107.1 1673.8h0M109.7 1661.5h0M105.7 1658.7h0M107.0 1633.9h0M104.7 1656.2h0M108.9 1653.0h0M102.7 1656.0h0M101.1 1647.8h0M101.1 1666.9h0M104.7 1662.6h0M105.5 1647.4h0M105.5 1669.1h0M103.1 1675.2h0M102.6 1667.1h0M101.9 1631.1h0M106.6 1661.8h0M102.8 1641.7h0M104.5 1651.6h0M109.2 1671.3h0M109.2 1670.5h0M107.2 1666.9h0M107.5 1659.1h0M103.3 1634.8h0M101.3 1654.5h0M108.9 1674.0h0M101.0 1652.6h0M108.8 1666.2h0M104.4 1673.9h0M107.0 1656.5h0M102.0 1638.4h0M105.4 1666.3h0M106.6 1632.3h0M109.0 1666.8h0M104.2 1652.0h0M106.7 1648.7h0M102.0 1676.9h0M106.0 1665.6h0M107.2 1661.3h0M104.3 1631.8h0M102.6 1644.2h0M104.3 1652.8h0M106.0 1645.6h0M106.1 1652.0h0M106.8 1643.2h0M105.7 1650.4h0M107.3 1671.2h0M105.5 1669.6h0M106.4 1677.4h0M106.5 1660.4h0M104.7 1669.0h0M105.2 1648.9h0M101.4 1625.5h0M103.0 1667.2h0M101.8 1661.9h0M102.9 1653.4h0M108.2 1677.3h0M106.7 1677.1h0M105.8 1656.4h0M102.7 1666.8h0M101.1 1667.7h0M105.8 1665.4h0M102.5 1636.9h0M102.0 1659.7h0M102.7 1650.2h0M107.3 1650.6h0M102.4 1664.3h0M102.3 1641.6h0M105.0 1674.6h0M107.2 1674.2h0M101.7 1657.9h0M108.4 1656.6h0M103.6 1667.8h0M106.7 1676.6h0M104.4 1660.5h0M104.9 1676.6h0M104.5 1672.8h0M102.9 1643.1h0M104.7 1672.7h0M109.5 1654.5h0M105.9 1643.5h0M101.6 1635.6h0M102.7 1671.0h0M103.1 1643.7h0M108.9 1648.4h0M103.8 1667.5h0M106.7 1665.2h0M107.5 1672.2h0M102.3 1665.6h0M105.3 1671.9h0M107.5 1635.1h0M104.9 1676.1h0M109.9 1651.6h0M105.4 1654.2h0M109.9 1657.1h0M106.1 1661.8h0M103.3 1636.8h0M108.0 1647.1h0M106.0 1675.7h0M104.6 1643.9h0M106.3 1661.1h0M103.1 1674.3h0M105.9 1641.5h0M107.6 1651.6h0M107.8 1654.4h0M109.2 1645.4h0M104.1 1674.5h0M102.3 1666.7h0M107.4 1672.1h0M101.1 1669.3h0M109.4 1644.3h0M104.7 1667.2h0M109.2 1661.1h0M106.9 1651.0h0M103.0 1656.6h0M108.0 1656.0h0M104.9 1675.2h0M107.3 1653.1h0M103.4 1667.7h0M102.4 1675.2h0M102.4 1635.8h0M103.4 1658.4h0M108.5 1641.1h0M108.5 1633.5h0M102.9 1668.8h0M108.1 1671.8h0M106.1 1645.7h0M106.0 1653.6h0M109.3 1663.0h0M105.2 1668.7h0M105.9 1652.9h0M102.3 1673.1h0M109.0 1663.5h0M106.3 1670.4h0M102.4 1652.3h0M109.0 1668.3h0M105.9 1632.4h0M108.7 1660.6h0M108.0 1644.7h0M107.1 1660.9h0M104.2 1635.3h0M103.6 1662.7h0M109.2 1658.1h0M107.3 1665.4h0M106.4 1651.1h0M101.0 1668.4h0M101.8 1677.2h0M103.8 1669.6h0M101.5 1630.1h0M109.3 1650.8h0M106.2 1669.3h0M102.5 1643.7h0M101.0 1670.5h0M109.7 1676.3h0M108.4 1666.2h0M102.6 1648.5h0M103.8 1661.0h0M106.0 1671.8h0M105.9 1676.9h0M108.3 1675.2h0M108.1 1646.4h0M105.9 1667.4h0M101.9 1635.6h0M103.9 1664.4h0M106.9 1660.8h0M104.5 1660.5h0M101.9 1649.7h0M103.7 1647.3h0M105.7 1664.2h0M108.3 1657.5h0M102.7 1661.9h0M101.4 1657.1h0M107.8 1666.7h0M108.1 1666.9h0M103.4 1639.9h0M101.3 1649.3h0M109.4 1629.5h0M107.1 1675.7h0M101.0 1634.6h0M101.9 1671.4h0M101.5 1667.4h0M105.5 1672.6h0M104.7 1625.3h0M104.9 1665.8h0M109.4 1669.8h0M105.3 1663.7h0M110.0 1666.8h0M108.3 1668.2h0M104.7 1653.8h0M105.3 1662.7h0M107.4 1641.8h0M104.7 1671.3h0M101.5 1662.5h0M102.2 1660.4h0M101.8 1665.9h0M104.6 1672.5h0M102.8 1644.0h0M105.3 1640.3h0M107.5 1677.1h0M106.2 1630.9h0M108.8 1655.3h0M108.9 1649.5h0M109.1 1674.5h0M104.2 1652.0h0M104.9 1648.9h0M102.5 1641.3h0M109.2 1661.5h0M107.7 1647.2h0M102.1 1654.0h0M106.9 1667.1h0M108.0 1664.0h0M108.3 1644.6h0M101.1 1670.4h0M105.0 1673.6h0M101.8 1660.8h0M107.9 1663.5h0M109.7 1657.4h0M101.9 1677.2h0M104.0 1640.3h0M106.8 1659.4h0M107.9 1673.6h0M106.1 1657.3h0M108.4 1664.3h0M104.6 1648.7h0M107.7 1660.3h0M108.0 1659.3h0M105.5 1661.6h0M107.8 1639.6h0M107.1 1660.1h0M106.6 1654.6h0M102.7 1670.2h0M102.9 1646.6h0M106.4 1654.0h0M102.9 1662.5h0M104.5 1649.2h0M107.5 1661.0h0M102.4 1660.6h0M105.3 1666.7h0M107.0 1673.5h0M101.7 1649.1h0M102.2 1672.8h0M104.0 1642.2h0M104.9 1671.0h0M103.7 1643.3h0M105.7 1672.8h0M109.8 1666.8h0M107.3 1637.3h0M103.2 1663.3h0M102.2 1654.3h0M109.2 1655.4h0M108.3 1638.8h0M107.3 1675.7h0M105.6 1670.9h0M104.5 1654.3h0M103.7 1657.5h0M104.4 1660.4h0M102.4 1669.2h0M106.8 1638.2h0M105.9 1676.4h0M109.8 1655.1h0M101.6 1667.1h0M105.8 1648.2h0M103.5 1676.8h0M108.3 1667.8h0M106.7 1644.8h0M102.7 1656.5h0M106.9 1674.7h0M106.2 1669.2h0M105.0 1674.8h0M108.6 1671.8h0M104.2 1639.9h0M101.5 1669.0h0M103.4 1647.5h0M105.0 1654.8h0M101.7 1677.1h0M101.8 1667.5h0M107.6 1668.7h0M105.6 1640.4h0M102.5 1676.7h0M106.5 1647.4h0M106.4 1656.2h0M107.5 1658.5h0M102.3 1660.9h0M101.7 1644.4h0M108.4 1634.5h0M103.2 1673.7h0M108.3 1623.2h0M107.0 1617.9h0M109.1 1627.8h0M109.4 1636.4h0M102.6 1600.8h0M109.4 1629.7h0M107.0 1611.9h0M105.4 1638.4h0M105.8 1624.4h0M106.3 1608.8h0M108.0 1615.2h0M106.7 1633.2h0M104.8 1608.3h0M108.2 1633.8h0M109.5 1612.8h0M102.9 1639.8h0M108.4 1635.5h0M105.7 1623.4h0M104.3 1632.8h0M108.2 1616.5h0M102.2 1616.9h0M102.9 1618.7h0M102.7 1626.2h0M106.2 1631.9h0M102.1 1636.7h0M103.0 1614.5h0M104.1 1632.4h0M105.9 1638.6h0M109.1 1632.0h0M102.6 1621.4h0M108.4 1636.5h0M106.8 1618.7h0M104.7 1637.6h0M102.0 1628.7h0M106.4 1623.6h0M106.6 1634.4h0M108.3 1633.9h0M108.2 1626.1h0M103.2 1612.7h0M104.8 1617.3h0M108.5 1635.2h0M101.8 1639.3h0M108.8 1634.6h0M105.6 1625.5h0M102.9 1626.6h0M108.3 1624.9h0M109.3 1632.7h0M108.9 1637.9h0M108.6 1635.5h0M105.9 1632.4h0M127.9 1636.3h0M126.9 1638.7h0M122.3 1637.9h0M121.7 1604.1h0M121.5 1608.9h0M119.4 1610.7h0M126.0 1619.0h0M121.0 1639.2h0M119.8 1622.3h0M119.6 1611.2h0M128.2 1637.9h0M125.1 1637.1h0M127.7 1617.8h0M121.5 1622.0h0M124.0 1609.2h0M122.0 1639.5h0M126.2 1639.7h0M125.6 1623.7h0M119.3 1633.5h0M120.4 1628.6h0M127.6 1621.4h0M126.5 1606.1h0M125.8 1634.8h0M126.8 1633.6h0M126.2 1634.4h0M121.3 1629.8h0M124.7 1603.6h0M121.2 1634.3h0M120.1 1623.9h0M127.1 1632.4h0M124.6 1631.2h0M120.0 1621.0h0M124.3 1637.3h0M126.8 1615.3h0M119.8 1636.8h0M127.1 1622.0h0M124.1 1616.0h0M125.7 1627.0h0M124.0 1602.6h0M121.6 1634.7h0M120.4 1637.3h0M122.4 1634.0h0M121.9 1623.7h0M124.9 1629.4h0M122.4 1629.0h0M120.1 1634.8h0M123.3 1613.9h0M123.0 1623.5h0M128.3 1634.9h0M123.1 1629.1h0M121.5 1635.9h0M122.0 1619.4h0M125.7 1638.7h0M126.8 1619.1h0M120.7 1624.4h0M125.6 1638.1h0M121.7 1632.7h0M120.1 1628.9h0M119.7 1615.9h0M121.1 1611.2h0M121.8 1628.6h0M120.4 1631.8h0M122.6 1627.8h0M125.0 1632.2h0M121.0 1628.0h0M121.6 1618.1h0M121.3 1633.7h0M122.9 1632.8h0M123.2 1610.3h0M127.4 1619.8h0M125.7 1630.7h0M122.4 1620.6h0M127.3 1637.7h0M121.0 1630.0h0M123.0 1633.4h0M122.3 1631.9h0M127.5 1614.8h0M119.7 1626.1h0M124.1 1618.2h0M124.4 1621.4h0M126.6 1622.9h0M120.5 1618.7h0M123.3 1638.6h0M124.2 1639.8h0M125.5 1613.2h0M126.5 1618.5h0M125.1 1621.5h0M124.1 1610.4h0M127.7 1632.1h0M121.1 1633.3h0M125.3 1634.9h0M120.7 1632.7h0M124.8 1638.9h0M122.1 1632.8h0M121.1 1637.6h0M121.0 1624.8h0M126.0 1632.6h0M119.6 1621.5h0M119.9 1622.3h0M121.5 1638.4h0M123.5 1636.3h0M119.4 1626.3h0M128.0 1617.8h0M128.3 1631.0h0M126.7 1612.4h0M127.8 1615.1h0M124.4 1627.4h0M125.5 1629.2h0M126.6 1623.9h0M127.0 1623.0h0M126.6 1635.0h0M126.3 1614.7h0M124.8 1622.9h0M121.3 1627.4h0M124.2 1618.8h0M127.1 1633.2h0M120.1 1608.1h0M127.6 1635.4h0M120.5 1618.5h0M120.8 1635.2h0M121.9 1635.5h0M128.0 1602.6h0M125.4 1625.1h0M123.5 1636.0h0M125.5 1634.4h0M121.5 1623.7h0M122.3 1618.5h0M127.7 1610.7h0M126.7 1618.4h0M127.1 1638.1h0M122.6 1635.8h0M127.9 1620.0h0M120.6 1612.0h0M126.0 1637.5h0M120.8 1628.7h0M125.2 1634.7h0M120.0 1636.2h0M119.2 1630.9h0M120.7 1621.9h0M121.0 1635.2h0M127.0 1617.9h0M121.1 1633.8h0M120.7 1628.5h0M127.1 1628.9h0M127.6 1610.0h0M122.5 1617.4h0M123.1 1633.7h0M121.6 1626.4h0M126.5 1639.7h0M120.9 1624.1h0M123.7 1634.3h0M127.4 1633.3h0M121.2 1613.4h0M119.3 1605.7h0M120.6 1630.1h0M119.7 1629.5h0M124.7 1631.7h0M119.3 1635.9h0M125.5 1632.0h0M126.7 1624.3h0M119.6 1623.1h0M126.5 1614.3h0M119.5 1636.7h0M120.3 1608.0h0M121.7 1616.5h0M125.7 1625.8h0M127.9 1629.6h0M128.1 1639.0h0M123.4 1613.9h0M127.3 1630.7h0M122.1 1613.7h0M121.9 1616.2h0M128.0 1612.9h0M119.3 1638.6h0M120.1 1621.1h0M127.8 1627.5h0M120.6 1630.2h0M123.7 1618.7h0M125.5 1626.9h0M122.5 1629.2h0M121.1 1630.1h0M123.4 1638.8h0M125.7 1637.7h0M120.9 1636.2h0M126.5 1617.3h0M119.8 1634.8h0M127.0 1616.6h0M124.3 1623.1h0M122.6 1629.1h0M121.0 1635.5h0M123.6 1634.0h0M122.3 1617.8h0M122.4 1637.6h0M119.6 1626.7h0M121.3 1631.0h0M124.0 1635.5h0M119.2 1636.5h0M127.8 1630.0h0M125.6 1624.2h0M124.7 1628.8h0M120.4 1617.2h0M126.2 1612.8h0M127.5 1634.8h0M127.4 1626.4h0M120.2 1630.8h0M121.2 1622.4h0M124.5 1614.3h0M120.2 1625.1h0M125.4 1630.4h0M121.5 1635.3h0M119.4 1603.5h0M128.3 1615.8h0M122.7 1638.7h0M121.8 1625.0h0M124.0 1630.7h0M121.9 1636.5h0M120.4 1616.4h0M127.6 1611.5h0M119.8 1609.0h0M122.4 1604.6h0M126.6 1623.4h0M119.9 1639.7h0M125.1 1620.8h0M127.4 1616.7h0M122.5 1630.8h0M120.0 1639.4h0M125.6 1639.3h0M122.7 1613.4h0M124.0 1613.4h0M126.4 1633.0h0M123.5 1615.3h0M124.4 1629.5h0M119.4 1613.7h0M123.2 1633.4h0M127.6 1636.3h0M119.7 1638.1h0M124.4 1634.5h0M120.9 1638.9h0M126.1 1630.3h0M124.3 1633.7h0M122.7 1625.8h0M123.2 1634.8h0M127.2 1629.2h0M125.0 1637.1h0M122.5 1623.9h0M125.2 1631.4h0M120.4 1623.1h0M125.5 1618.5h0M121.3 1614.7h0M121.2 1633.4h0M125.9 1629.2h0M127.4 1624.1h0M124.5 1637.8h0M127.8 1637.6h0M121.3 1625.4h0M126.7 1636.9h0M120.6 1639.7h0M120.7 1617.8h0M120.6 1614.5h0M128.1 1630.9h0M119.9 1631.1h0M126.0 1636.4h0M123.4 1610.4h0M121.5 1634.3h0M125.9 1609.5h0M121.0 1639.4h0M120.0 1607.1h0M126.1 1610.6h0M122.6 1639.4h0M121.9 1630.6h0M122.2 1617.8h0M123.3 1631.3h0M123.8 1606.7h0M126.3 1628.1h0M122.2 1622.6h0M124.0 1626.0h0M120.5 1632.1h0M120.3 1624.0h0M121.0 1635.1h0M120.3 1628.4h0M123.1 1634.7h0M128.1 1630.7h0M121.1 1637.3h0M122.8 1629.5h0M124.2 1639.1h0M126.0 1632.2h0M120.3 1613.3h0M119.8 1603.7h0M125.7 1612.6h0M120.7 1621.1h0M127.3 1633.5h0M120.2 1625.5h0M120.7 1620.6h0M120.5 1610.8h0M124.1 1602.9h0M127.3 1627.1h0M120.7 1632.6h0M121.2 1607.0h0M122.6 1628.9h0M123.2 1607.0h0M144.2 1610.5h0M142.5 1608.6h0M144.9 1597.0h0M144.3 1587.5h0M141.4 1599.7h0M141.0 1609.3h0M142.9 1594.8h0M143.4 1612.8h0M137.9 1598.8h0M140.2 1601.2h0M139.8 1603.1h0M143.9 1603.7h0M145.9 1608.8h0M142.4 1593.2h0M141.3 1585.7h0M138.7 1586.1h0M141.7 1608.1h0M141.9 1612.4h0M141.1 1612.6h0M143.4 1604.0h0M142.1 1603.4h0M143.5 1609.1h0M144.4 1605.7h0M143.2 1598.6h0M139.7 1602.9h0M137.7 1608.2h0M144.6 1609.8h0M139.0 1610.2h0M144.2 1599.4h0M137.9 1612.3h0M142.3 1587.9h0M145.2 1604.6h0M139.2 1594.8h0M139.0 1608.3h0M139.8 1604.6h0M138.8 1612.3h0M145.7 1583.3h0M141.2 1612.7h0M138.5 1603.8h0M138.7 1593.9h0M146.5 1609.7h0M143.7 1595.0h0M138.1 1601.2h0M144.6 1604.4h0M141.0 1608.4h0M137.7 1610.8h0M146.0 1585.3h0M143.6 1600.3h0M141.2 1591.1h0M138.9 1598.5h0M142.7 1601.2h0M139.4 1606.0h0M145.8 1601.5h0M139.3 1605.2h0M145.9 1609.4h0M140.9 1606.3h0M143.1 1599.1h0M141.6 1600.5h0M138.1 1609.3h0M141.7 1610.9h0M137.9 1600.2h0M146.3 1604.3h0M145.2 1604.2h0M140.7 1610.5h0M141.9 1595.0h0M137.8 1586.5h0M141.0 1595.2h0M144.8 1602.9h0M143.6 1607.1h0M141.8 1611.9h0M139.6 1607.6h0M137.9 1603.5h0M138.7 1609.4h0M146.5 1608.2h0M143.0 1589.6h0M139.7 1605.0h0M143.5 1607.4h0M145.0 1586.1h0M144.9 1576.4h0M141.6 1609.2h0M141.6 1605.1h0M143.1 1598.5h0M138.0 1598.6h0M139.3 1610.8h0M138.8 1609.7h0M140.0 1589.5h0M145.2 1592.3h0M145.1 1612.6h0M139.1 1596.0h0M138.1 1607.6h0M145.6 1611.6h0M139.3 1598.2h0M145.0 1600.4h0M146.4 1608.7h0M142.8 1597.3h0M145.8 1597.8h0M138.9 1605.9h0M141.3 1609.6h0M139.1 1597.5h0M145.9 1607.1h0M146.0 1613.0h0M140.9 1595.7h0M143.5 1600.3h0M143.4 1597.7h0M141.4 1589.8h0M140.2 1611.8h0M143.0 1600.8h0M140.5 1583.3h0M142.0 1605.6h0M139.9 1602.5h0M144.7 1612.9h0M145.1 1602.7h0M138.8 1593.3h0M138.0 1608.9h0M137.7 1608.4h0M145.6 1600.5h0M142.7 1587.5h0M139.2 1605.0h0M140.6 1612.7h0M143.8 1596.8h0M141.8 1601.1h0M140.2 1588.4h0M143.8 1606.1h0M137.8 1611.7h0M140.9 1610.3h0M138.3 1611.5h0M139.4 1606.7h0M146.1 1599.1h0M140.0 1603.6h0M140.0 1609.9h0M143.4 1594.5h0M141.9 1596.6h0M139.1 1599.4h0M139.0 1606.2h0M145.5 1610.7h0M144.3 1612.8h0M137.6 1607.5h0M139.3 1610.9h0M143.4 1609.0h0M140.2 1610.4h0M140.5 1609.8h0M140.5 1609.9h0M138.1 1611.1h0M139.9 1607.9h0M144.6 1606.3h0M140.9 1587.3h0M139.7 1589.2h0M140.4 1611.6h0M139.3 1593.7h0M144.7 1594.2h0M141.8 1604.1h0M139.5 1599.7h0M139.2 1591.7h0M145.7 1603.2h0M144.3 1612.6h0M143.7 1589.1h0M140.6 1601.9h0M140.5 1599.7h0M143.8 1607.8h0M143.4 1608.2h0M139.3 1612.8h0M146.1 1609.0h0M142.8 1603.5h0M140.8 1597.8h0M145.3 1609.3h0M146.2 1587.5h0M144.2 1610.4h0M140.6 1608.4h0M144.7 1595.7h0M143.9 1609.7h0M139.9 1601.5h0M145.6 1609.7h0M142.9 1599.4h0M146.0 1610.1h0M144.7 1597.0h0M144.4 1608.6h0M144.5 1611.4h0M142.9 1598.8h0M138.8 1612.9h0M139.4 1606.3h0M139.5 1595.6h0M137.8 1593.9h0M138.8 1607.9h0M140.4 1611.0h0M145.2 1589.0h0M139.6 1595.0h0M144.0 1605.3h0M145.4 1611.5h0M138.2 1590.7h0M145.1 1595.3h0M145.6 1607.9h0M143.7 1603.4h0M138.4 1610.7h0M146.1 1599.9h0M139.2 1608.8h0M140.2 1592.0h0M139.1 1603.9h0M143.9 1606.2h0M144.1 1612.3h0M140.2 1612.7h0M145.2 1608.9h0M138.9 1581.1h0M144.1 1601.9h0M141.0 1593.9h0M145.8 1591.7h0M141.2 1582.5h0M145.5 1603.6h0M146.4 1608.7h0M139.6 1605.5h0M144.3 1612.8h0M143.3 1591.1h0M138.1 1593.1h0M141.0 1610.8h0M139.7 1612.4h0M140.0 1604.7h0M143.8 1600.2h0M145.7 1606.6h0M146.5 1609.2h0M140.1 1608.6h0M139.2 1605.2h0M143.6 1603.5h0M142.1 1607.3h0M140.2 1611.2h0M142.7 1596.6h0M146.0 1605.2h0M140.3 1608.8h0M144.3 1611.4h0M146.2 1597.4h0M140.7 1587.4h0M139.0 1593.9h0M145.8 1602.9h0M143.8 1589.3h0M146.0 1612.5h0M138.7 1597.9h0M140.4 1599.2h0M137.6 1612.5h0M139.0 1587.7h0M139.9 1587.3h0M139.6 1576.9h0M140.5 1596.9h0M138.9 1611.0h0M139.2 1605.2h0M143.6 1603.5h0M138.9 1611.9h0M141.3 1605.6h0M141.6 1594.3h0M146.5 1602.2h0M143.0 1589.0h0M141.7 1595.0h0M143.2 1600.6h0M139.1 1603.9h0M139.3 1581.6h0M142.2 1604.5h0M144.1 1605.8h0M145.1 1607.8h0M138.5 1607.0h0M144.8 1597.2h0M144.4 1613.1h0M146.3 1576.9h0M145.8 1607.5h0M159.0 1680.7h0M164.5 1688.8h0M161.3 1673.7h0M156.1 1688.7h0M162.7 1688.6h0M157.9 1660.4h0M157.6 1681.8h0M157.8 1664.7h0M162.8 1678.9h0M159.2 1636.8h0M163.3 1651.3h0M161.6 1672.1h0M160.2 1639.4h0M163.5 1663.8h0M163.2 1685.1h0M162.2 1681.7h0M159.3 1681.6h0M158.5 1670.2h0M163.1 1679.9h0M163.9 1658.2h0M156.3 1642.5h0M156.1 1637.8h0M157.9 1669.4h0M158.5 1648.4h0M160.0 1684.2h0M156.0 1667.5h0M163.6 1651.7h0M163.0 1665.0h0M162.5 1683.3h0M162.1 1672.8h0M160.3 1682.0h0M156.6 1681.5h0M160.4 1676.9h0M163.8 1642.6h0M159.4 1672.1h0M162.7 1674.6h0M157.7 1686.1h0M158.7 1675.9h0M156.1 1667.4h0M159.9 1688.8h0M157.1 1656.0h0M159.7 1657.1h0M156.0 1670.2h0M157.7 1654.1h0M157.9 1687.3h0M159.8 1675.5h0M162.3 1653.1h0M161.7 1684.7h0M159.5 1683.0h0M161.4 1654.2h0M157.7 1671.5h0M161.1 1670.0h0M164.5 1687.5h0M161.3 1683.6h0M160.2 1637.3h0M162.2 1637.2h0M162.7 1666.3h0M162.7 1674.5h0M156.5 1673.9h0M158.1 1662.3h0M156.3 1647.0h0M156.1 1643.8h0M160.3 1682.0h0M158.2 1643.1h0M160.2 1669.5h0M157.6 1650.9h0M160.3 1670.8h0M159.8 1685.1h0M163.2 1687.4h0M158.0 1687.5h0M161.1 1661.1h0M157.9 1678.5h0M159.9 1675.3h0M161.3 1672.1h0M159.5 1684.1h0M163.9 1662.5h0M164.4 1674.3h0M159.3 1671.4h0M163.9 1652.4h0M158.5 1662.6h0M156.3 1665.6h0M158.7 1674.2h0M157.2 1668.2h0M159.6 1642.6h0M161.2 1675.7h0M161.0 1664.0h0M156.0 1669.7h0M157.3 1665.7h0M162.1 1649.9h0M161.5 1681.9h0M164.5 1677.2h0M158.9 1667.6h0M163.2 1662.4h0M160.2 1672.9h0M163.5 1653.5h0M163.9 1664.4h0M162.3 1673.8h0M161.9 1647.5h0M162.0 1675.3h0M160.3 1657.4h0M158.8 1685.7h0M156.1 1665.8h0M159.5 1683.3h0M160.4 1644.0h0M155.9 1684.4h0M159.4 1677.4h0M157.6 1652.1h0M162.9 1669.5h0M162.8 1676.3h0M158.1 1665.7h0M158.3 1671.5h0M159.3 1683.2h0M157.7 1671.5h0M159.9 1672.2h0M156.6 1678.9h0M157.3 1661.3h0M157.7 1662.6h0M157.0 1678.0h0M159.7 1655.7h0M158.6 1665.4h0M160.6 1640.9h0M156.9 1668.4h0M159.3 1683.2h0M164.0 1657.1h0M163.0 1677.4h0M156.1 1628.1h0M159.7 1648.4h0M162.7 1685.4h0M158.8 1678.8h0M162.0 1683.5h0M161.6 1679.4h0M161.3 1688.0h0M155.9 1652.7h0M163.3 1686.1h0M159.1 1681.5h0M157.8 1657.3h0M157.8 1673.6h0M162.4 1680.4h0M158.6 1657.1h0M161.2 1681.7h0M162.1 1641.9h0M164.2 1668.9h0M159.6 1658.3h0M160.7 1683.2h0M158.4 1684.2h0M163.2 1681.0h0M164.8 1645.7h0M156.6 1649.6h0M160.8 1682.3h0M163.5 1636.2h0M159.7 1664.7h0M163.2 1684.7h0M161.4 1675.4h0M164.8 1686.4h0M158.4 1675.2h0M158.3 1643.9h0M164.0 1679.9h0M156.3 1671.7h0M164.1 1664.6h0M158.9 1677.1h0M159.5 1667.7h0M156.9 1680.6h0M159.1 1657.3h0M163.4 1654.2h0M161.5 1648.3h0M159.9 1675.9h0M160.0 1663.0h0M156.0 1647.2h0M159.8 1678.9h0M163.3 1685.1h0M162.4 1678.7h0M158.0 1680.9h0M156.8 1645.2h0M163.8 1665.6h0M161.7 1680.8h0M158.2 1649.9h0M164.2 1679.0h0M158.6 1665.5h0M157.4 1677.8h0M158.6 1676.8h0M156.5 1674.2h0M161.5 1678.5h0M159.8 1687.3h0M156.0 1660.0h0M156.0 1663.2h0M161.0 1650.2h0M158.0 1687.8h0M159.0 1675.7h0M162.4 1677.5h0M157.1 1672.9h0M156.3 1681.3h0M157.6 1669.9h0M162.5 1640.7h0M163.7 1657.1h0M162.0 1666.7h0M157.5 1687.6h0M157.1 1666.6h0M161.4 1659.2h0M158.0 1688.8h0M164.7 1686.2h0M162.1 1662.1h0M160.1 1644.1h0M156.2 1670.5h0M161.6 1660.0h0M156.3 1677.2h0M156.4 1684.4h0M159.6 1670.9h0M158.7 1672.0h0M161.1 1662.4h0M160.7 1663.5h0M159.5 1654.8h0M157.3 1676.9h0M159.7 1683.5h0M163.9 1681.6h0M160.4 1662.8h0M163.1 1688.8h0M159.2 1630.7h0M160.7 1682.3h0M159.2 1665.2h0M157.0 1685.9h0M159.2 1681.3h0M164.6 1678.7h0M156.8 1675.5h0M161.2 1648.7h0M157.5 1668.8h0M163.1 1685.9h0M163.0 1673.1h0M163.8 1653.7h0M161.4 1671.4h0M162.1 1638.2h0M158.9 1683.3h0M161.3 1686.4h0M159.9 1652.1h0M159.1 1653.7h0M163.2 1669.7h0M162.0 1642.6h0M163.5 1679.0h0M164.3 1672.6h0M160.7 1644.0h0M157.2 1647.0h0M161.7 1669.6h0M160.1 1686.7h0M163.0 1679.2h0M162.5 1677.5h0M158.9 1675.0h0M164.3 1678.0h0M157.7 1665.2h0M160.9 1672.8h0M160.6 1673.3h0M158.9 1670.8h0M159.8 1676.6h0M161.1 1676.6h0M161.0 1641.2h0M164.6 1674.6h0M158.9 1687.9h0M161.8 1681.2h0M156.0 1672.8h0M158.3 1630.7h0M157.2 1659.1h0M163.3 1681.6h0M161.8 1654.2h0M159.4 1680.4h0M159.1 1684.0h0M159.0 1677.0h0M160.3 1683.2h0M158.9 1671.1h0M163.5 1681.5h0M162.8 1685.0h0M163.6 1653.8h0M158.2 1656.5h0M158.5 1641.2h0M160.6 1670.6h0M162.3 1681.7h0M161.1 1650.9h0M162.5 1677.5h0M156.9 1668.5h0M163.1 1634.6h0M161.9 1683.0h0M156.7 1668.7h0M159.3 1673.7h0M164.6 1684.4h0M162.3 1688.6h0M156.3 1647.9h0M157.8 1663.7h0M164.2 1671.8h0M156.1 1673.6h0M160.2 1679.5h0M159.6 1686.0h0M164.1 1653.7h0M158.3 1681.1h0M163.0 1688.0h0M163.9 1658.2h0M164.3 1629.8h0M161.4 1641.5h0M156.4 1688.7h0M157.2 1675.5h0M158.3 1675.2h0M161.4 1631.9h0M158.3 1657.8h0M161.9 1652.9h0M176.2 1678.0h0M177.1 1635.7h0M176.6 1661.3h0M179.4 1690.9h0M175.4 1645.1h0M179.7 1672.5h0M178.8 1658.3h0M178.0 1697.0h0M174.6 1671.4h0M181.8 1668.5h0M176.4 1694.5h0M175.2 1670.8h0M182.9 1682.7h0M182.2 1644.5h0M176.3 1679.7h0M176.6 1683.3h0M175.1 1655.2h0M176.3 1652.3h0M177.0 1685.9h0M180.7 1631.2h0M175.9 1693.4h0M178.8 1643.3h0M176.8 1681.1h0M174.5 1652.9h0M176.1 1692.1h0M179.2 1663.6h0M179.8 1662.1h0M174.4 1649.7h0M178.3 1672.7h0M177.1 1690.2h0M176.9 1653.7h0M175.1 1653.2h0M176.5 1668.9h0M175.6 1654.3h0M181.4 1665.3h0M177.4 1675.4h0M181.2 1639.5h0M180.3 1647.6h0M175.8 1655.6h0M175.9 1668.5h0M182.6 1633.6h0M182.7 1699.6h0M178.3 1690.1h0M176.7 1660.8h0M177.8 1668.6h0M179.3 1685.5h0M182.3 1679.0h0M179.2 1642.4h0M182.9 1695.0h0M179.8 1643.6h0M178.4 1695.1h0M175.2 1688.5h0M181.4 1677.2h0M178.6 1663.2h0M176.3 1635.9h0M177.6 1681.4h0M174.3 1633.0h0M181.9 1666.1h0M180.6 1691.1h0M176.1 1686.1h0M178.7 1691.5h0M175.0 1632.5h0M180.8 1675.0h0M178.4 1630.3h0M181.3 1683.4h0M175.1 1652.0h0M180.4 1662.1h0M178.3 1681.9h0M182.9 1648.9h0M174.4 1648.8h0M179.1 1674.8h0M177.4 1697.2h0M178.3 1658.5h0M177.1 1679.8h0M174.1 1651.2h0M178.5 1688.9h0M180.7 1669.6h0M176.0 1643.9h0M179.0 1693.3h0M180.8 1652.1h0M178.0 1675.5h0M182.0 1692.0h0M181.2 1672.0h0M180.9 1650.9h0M180.9 1686.7h0M179.7 1686.9h0M180.6 1663.9h0M179.0 1658.2h0M179.4 1663.1h0M178.4 1633.5h0M179.0 1671.0h0M177.4 1698.2h0M181.5 1675.8h0M176.8 1691.9h0M177.9 1693.3h0M180.5 1694.2h0M180.1 1693.6h0M175.8 1680.5h0M180.9 1695.5h0M179.9 1645.9h0M174.1 1623.3h0M178.0 1651.4h0M177.5 1670.6h0M178.0 1670.4h0M176.3 1676.4h0M175.1 1663.1h0M175.6 1691.7h0M178.2 1672.1h0M177.8 1673.3h0M180.5 1667.2h0M175.0 1686.7h0M182.1 1696.3h0M177.4 1673.4h0M177.7 1648.4h0M179.5 1652.8h0M174.3 1646.0h0M175.5 1688.6h0M174.5 1691.0h0M177.2 1675.0h0M181.6 1673.8h0M179.9 1671.3h0M174.6 1694.5h0M177.3 1660.6h0M179.9 1674.1h0M181.0 1664.8h0M174.6 1664.7h0M180.1 1651.1h0M177.8 1665.1h0M183.0 1682.6h0M179.8 1659.7h0M177.4 1698.0h0M176.9 1657.1h0M182.6 1687.7h0M180.3 1686.1h0M179.9 1678.2h0M178.9 1680.6h0M180.2 1699.2h0M175.7 1653.5h0M175.8 1643.5h0M177.3 1643.3h0M177.0 1662.8h0M180.3 1655.9h0M178.2 1657.7h0M179.0 1699.6h0M178.3 1685.4h0M178.9 1653.4h0M179.6 1698.5h0M176.8 1683.3h0M175.9 1675.4h0M176.8 1686.0h0M174.2 1665.5h0M176.8 1673.9h0M178.4 1632.3h0M174.6 1681.7h0M180.6 1686.6h0M181.1 1665.7h0M176.0 1671.2h0M179.6 1698.0h0M175.5 1635.6h0M176.2 1689.8h0M178.6 1652.1h0M177.3 1685.3h0M176.5 1687.7h0M180.9 1675.9h0M175.3 1657.7h0M178.8 1674.3h0M175.3 1674.1h0M180.0 1680.0h0M181.9 1668.9h0M178.0 1661.7h0M178.3 1693.5h0M181.5 1689.2h0M176.4 1691.1h0M174.6 1654.3h0M181.4 1657.9h0M180.3 1691.9h0M181.9 1665.2h0M178.7 1659.0h0M177.4 1687.7h0M182.6 1695.3h0M178.9 1684.4h0M180.0 1653.2h0M177.0 1679.7h0M180.0 1651.3h0M176.2 1681.6h0M181.8 1687.0h0M176.9 1680.0h0M179.4 1657.5h0M177.4 1641.5h0M177.7 1683.7h0M182.0 1626.4h0M179.3 1683.4h0M179.5 1692.7h0M183.1 1673.0h0M181.0 1661.9h0M180.0 1648.7h0M175.6 1678.4h0M181.6 1678.8h0M182.6 1638.2h0M177.9 1663.2h0M179.8 1682.0h0M176.3 1666.9h0M177.7 1682.6h0M175.2 1636.6h0M178.7 1669.5h0M174.4 1678.4h0M175.2 1688.8h0M178.6 1666.3h0M181.9 1690.2h0M175.6 1685.4h0M176.7 1677.4h0M174.4 1690.7h0M176.4 1666.1h0M177.8 1656.7h0M178.1 1687.5h0M175.2 1665.5h0M177.8 1696.0h0M181.2 1683.8h0M176.3 1693.0h0M177.8 1649.4h0M182.5 1654.7h0M181.5 1646.3h0M178.4 1674.0h0M174.3 1673.8h0M180.3 1678.1h0M181.5 1674.0h0M179.1 1681.5h0M175.0 1650.8h0M179.2 1635.7h0M179.1 1690.3h0M181.0 1684.9h0M174.3 1643.5h0M175.5 1697.7h0M179.2 1689.7h0M179.3 1649.5h0M175.8 1642.8h0M178.6 1681.2h0M174.9 1693.0h0M178.6 1661.2h0M176.2 1672.9h0M174.4 1679.5h0M176.1 1644.9h0M182.1 1666.8h0M174.8 1649.6h0M182.4 1682.6h0M174.9 1641.2h0M176.1 1667.1h0M180.6 1661.8h0M182.2 1641.0h0M176.2 1689.9h0M177.3 1694.2h0M180.1 1659.3h0M182.1 1677.7h0M174.2 1669.8h0M175.1 1687.8h0M175.3 1688.1h0M181.9 1690.0h0M174.5 1659.4h0M176.2 1696.5h0M175.0 1685.2h0M175.6 1686.1h0M179.6 1673.0h0M175.6 1687.4h0M174.4 1678.0h0M175.5 1683.2h0M180.2 1691.5h0M175.1 1667.0h0M175.7 1680.3h0M176.0 1690.9h0M180.6 1655.7h0M181.2 1647.6h0M180.9 1676.4h0M176.7 1695.0h0M181.9 1698.7h0M174.8 1688.9h0M178.5 1685.0h0M176.9 1698.7h0M175.8 1661.1h0M177.2 1687.4h0M176.2 1687.7h0M176.0 1669.9h0M174.2 1696.3h0M179.7 1677.1h0M174.4 1674.1h0M176.6 1674.2h0M174.8 1668.6h0M176.6 1687.5h0M175.4 1671.2h0M179.8 1662.4h0M176.4 1679.8h0M174.9 1672.5h0M177.0 1685.2h0M175.7 1664.8h0M176.6 1667.2h0M177.9 1643.1h0M175.2 1693.5h0M179.9 1674.1h0M175.9 1627.3h0M177.9 1690.7h0M181.2 1684.1h0M182.8 1690.6h0M176.8 1688.6h0M181.0 1684.8h0M174.2 1693.9h0M174.7 1673.6h0M178.6 1685.3h0M177.9 1660.8h0M176.3 1696.9h0M179.1 1697.1h0M179.1 1666.6h0M178.9 1672.4h0M175.8 1693.4h0M176.4 1686.7h0M174.4 1670.2h0M181.9 1673.6h0M176.1 1669.7h0M179.2 1658.8h0M181.7 1643.6h0M175.1 1693.9h0M181.5 1693.4h0M176.5 1650.2h0M178.7 1677.4h0M180.9 1683.4h0M176.6 1670.7h0M179.1 1683.4h0M181.4 1661.4h0M177.7 1681.9h0M175.0 1691.4h0M180.2 1635.9h0M180.3 1637.1h0M179.3 1675.9h0M176.9 1692.6h0M182.3 1671.9h0M175.4 1677.0h0M181.8 1686.4h0M178.1 1692.5h0M181.2 1690.7h0M182.0 1650.1h0M177.8 1697.7h0M182.4 1668.1h0M182.2 1656.2h0M180.7 1674.1h0M180.3 1692.8h0M177.9 1694.3h0M182.8 1651.3h0M183.0 1674.5h0M182.1 1695.0h0M182.4 1698.3h0M182.2 1675.3h0M179.5 1654.4h0M175.0 1673.0h0M178.2 1692.5h0M178.9 1657.6h0M175.7 1694.2h0M179.1 1699.9h0M182.4 1678.6h0M179.4 1688.4h0M179.0 1664.7h0M176.4 1699.2h0M180.2 1665.7h0M174.9 1693.8h0M180.4 1647.6h0M175.0 1689.8h0M181.3 1639.1h0M174.4 1697.9h0M174.8 1642.9h0M182.7 1639.6h0M176.7 1693.9h0M175.6 1679.8h0M180.0 1685.7h0M176.1 1620.9h0M182.5 1643.7h0M175.1 1686.0h0M180.0 1669.8h0M180.0 1694.7h0M182.9 1697.5h0M179.6 1685.6h0M175.3 1649.8h0M176.5 1665.6h0M177.3 1682.8h0M180.2 1665.0h0M174.7 1687.2h0M174.7 1697.0h0M178.7 1637.5h0M174.1 1625.0h0M181.5 1652.5h0M177.4 1683.0h0M181.7 1656.3h0M180.4 1620.1h0M181.7 1670.1h0M174.6 1682.4h0M180.2 1645.7h0M182.3 1622.1h0M182.0 1646.4h0M177.9 1672.6h0M180.4 1697.8h0M179.5 1639.4h0M180.3 1694.1h0M181.8 1677.3h0M175.1 1674.2h0M176.7 1667.1h0M177.6 1675.4h0M175.1 1694.9h0M180.7 1688.1h0M180.2 1632.9h0M174.8 1693.4h0M178.9 1694.3h0M180.3 1671.1h0M175.6 1639.5h0M180.8 1647.6h0M183.0 1685.5h0M177.8 1666.9h0M181.8 1680.1h0M177.7 1632.8h0M176.4 1655.3h0M174.1 1698.4h0M175.7 1684.5h0M179.1 1696.1h0M179.9 1696.6h0M176.6 1640.1h0M179.2 1665.3h0M180.7 1682.3h0M180.5 1656.5h0M177.4 1654.4h0M174.7 1674.5h0M180.7 1674.6h0M181.5 1668.9h0M181.3 1698.6h0M181.8 1669.8h0M179.2 1689.4h0M179.3 1678.4h0M179.2 1672.0h0M176.6 1690.1h0M177.6 1679.3h0M179.1 1650.4h0M182.8 1677.6h0M176.9 1673.4h0M181.2 1652.1h0M176.3 1680.5h0M181.4 1643.6h0M179.5 1681.5h0M175.7 1668.0h0M176.3 1683.1h0M174.9 1658.6h0M176.0 1661.4h0M175.7 1695.2h0M177.7 1674.3h0M182.0 1679.2h0M178.7 1645.2h0M181.7 1693.3h0M174.5 1668.4h0M177.5 1654.7h0M177.5 1665.0h0M182.7 1670.1h0M176.5 1658.7h0M175.7 1669.3h0M181.8 1692.3h0M175.1 1683.0h0M180.4 1695.3h0M174.8 1643.4h0M179.1 1694.9h0M181.7 1646.0h0M181.0 1645.5h0M174.5 1692.8h0M179.8 1683.2h0M178.6 1667.2h0M182.4 1687.2h0M177.0 1672.8h0M178.2 1642.5h0M178.3 1678.3h0M179.2 1665.4h0M175.2 1643.5h0M177.5 1694.9h0M180.4 1665.1h0M175.3 1667.9h0M179.5 1699.4h0M176.7 1675.4h0M180.6 1673.9h0M178.6 1656.1h0M178.5 1698.2h0M196.7 1682.5h0M197.3 1672.4h0M195.6 1681.0h0M214.5 1687.5h0M217.3 1698.0h0M218.4 1696.3h0M215.6 1687.9h0M215.3 1691.6h0M211.3 1681.8h0M216.8 1697.0h0M214.8 1692.8h0M229.9 1684.9h0M236.2 1692.3h0M235.9 1699.0h0M235.7 1673.4h0M235.1 1690.1h0M235.9 1674.9h0M237.9 1682.7h0M232.1 1683.3h0M230.8 1697.6h0M230.0 1674.8h0M235.0 1672.7h0M232.5 1697.9h0M232.0 1683.2h0M234.6 1683.5h0M235.3 1690.1h0M233.2 1690.5h0M230.2 1685.9h0M232.5 1687.1h0M233.9 1677.2h0M229.4 1683.8h0M236.2 1674.1h0M230.9 1691.2h0M237.8 1698.3h0M232.8 1672.7h0M232.1 1701.3h0M231.3 1700.0h0M232.9 1682.5h0M237.0 1695.5h0M235.6 1685.0h0M234.3 1696.6h0M250.5 1692.0h0M249.7 1690.2h0M248.4 1692.5h0M256.0 1682.4h0M249.7 1680.3h0M255.0 1693.2h0M253.3 1698.4h0M249.3 1669.3h0M248.2 1697.5h0M252.6 1691.4h0M248.0 1687.4h0M255.0 1679.7h0M253.0 1677.8h0M254.3 1701.8h0M247.2 1687.1h0M251.6 1694.8h0M254.4 1673.9h0M253.1 1688.4h0M254.3 1694.6h0M247.4 1680.3h0M249.6 1702.0h0M254.3 1680.1h0M249.4 1674.1h0M254.7 1699.4h0M249.7 1693.2h0M255.6 1688.4h0M247.9 1686.6h0M256.0 1701.2h0M253.6 1700.7h0M252.0 1688.8h0M267.0 1693.5h0M271.7 1698.9h0M268.6 1689.0h0M273.8 1683.1h0M266.3 1700.4h0M266.5 1692.4h0M269.2 1693.2h0M269.2 1698.8h0M307.9 1685.4h0M308.8 1676.7h0M305.6 1676.1h0M306.1 1678.8h0M307.0 1685.9h0M306.3 1691.1h0M307.1 1678.2h0M302.6 1693.1h0M310.6 1675.6h0M303.6 1675.7h0M302.5 1687.0h0M309.0 1684.6h0M307.5 1688.8h0M309.7 1675.8h0M308.3 1680.2h0M305.6 1676.7h0M308.6 1676.4h0M303.0 1691.3h0M305.6 1682.8h0M305.8 1681.1h0M305.1 1685.3h0M304.1 1677.1h0M308.1 1689.2h0M310.5 1690.1h0M308.0 1690.5h0M309.3 1682.1h0M309.2 1693.9h0M307.0 1676.5h0M304.4 1690.9h0M309.6 1687.1h0M309.7 1686.0h0M303.2 1679.0h0M304.4 1687.0h0M310.0 1684.0h0M306.6 1690.5h0M306.0 1678.7h0M307.9 1692.5h0M305.7 1687.4h0M303.7 1681.5h0M305.3 1689.9h0M304.0 1676.3h0M303.2 1683.3h0M307.2 1691.9h0M310.3 1693.5h0M309.5 1679.1h0M306.0 1690.2h0M307.9 1686.7h0M303.2 1678.6h0M307.4 1690.8h0M303.4 1690.0h0M310.3 1685.0h0M309.5 1682.0h0M310.2 1679.6h0M305.4 1684.4h0M306.2 1686.7h0M308.5 1679.3h0M308.3 1691.3h0M308.6 1687.3h0M308.7 1680.9h0M303.4 1682.8h0M303.8 1677.2h0M306.5 1676.7h0M304.1 1687.0h0M304.1 1676.9h0M303.3 1688.1h0M307.2 1679.2h0M302.3 1681.1h0M307.4 1683.3h0M304.1 1692.7h0M306.5 1681.9h0M308.8 1679.0h0M307.6 1690.3h0M308.3 1678.8h0M302.4 1676.9h0M303.5 1691.0h0M302.8 1679.6h0M307.4 1678.1h0M304.7 1684.6h0M304.1 1690.3h0M307.7 1681.5h0M303.6 1675.6h0M310.5 1676.5h0M302.6 1691.3h0M305.5 1686.0h0M307.2 1678.0h0M304.9 1675.8h0M308.2 1688.1h0M302.9 1685.6h0M307.4 1680.4h0M307.1 1683.1h0M305.1 1692.7h0M304.3 1681.5h0M310.0 1687.8h0M304.0 1682.3h0M304.4 1690.2h0M309.5 1677.4h0M310.5 1678.9h0M310.3 1675.8h0M309.0 1676.2h0M305.4 1678.1h0M307.0 1677.2h0M305.1 1676.8h0M307.8 1675.5h0M305.7 1676.4h0M304.6 1678.6h0M308.0 1694.1h0M303.0 1690.5h0M309.7 1676.5h0M308.4 1676.4h0M305.5 1676.6h0M308.3 1682.7h0M305.7 1678.2h0M306.3 1688.0h0M309.3 1679.3h0M306.6 1676.9h0M308.6 1678.0h0M305.4 1689.1h0M307.9 1684.8h0M307.8 1694.2h0M310.0 1682.2h0M309.7 1683.9h0M304.8 1681.8h0M309.2 1692.9h0M305.8 1686.7h0M309.1 1678.9h0M307.3 1689.3h0M306.5 1683.4h0M306.1 1686.6h0M308.1 1678.3h0M307.7 1678.6h0M305.6 1677.8h0M308.7 1694.0h0M304.9 1683.2h0M306.1 1690.7h0M308.8 1675.8h0M310.5 1684.5h0M302.8 1684.0h0M302.3 1680.5h0M306.3 1684.9h0M305.5 1688.4h0M304.0 1685.4h0M310.4 1692.3h0M302.9 1685.4h0M309.0 1682.9h0M307.0 1685.6h0M310.4 1694.5h0M305.3 1693.6h0M305.2 1681.0h0M302.9 1687.1h0M309.8 1679.0h0M309.6 1690.2h0M304.3 1678.2h0M305.0 1676.5h0M302.4 1687.9h0M305.9 1677.0h0M305.7 1680.7h0M303.0 1676.1h0M306.6 1680.4h0M310.5 1692.7h0M306.3 1690.7h0M306.5 1682.8h0M306.5 1682.1h0M306.3 1676.7h0M307.0 1682.0h0M303.0 1683.2h0M309.7 1686.2h0M304.4 1675.8h0M309.8 1684.3h0M305.0 1676.7h0M305.2 1676.7h0M302.7 1676.1h0M309.1 1677.1h0M308.9 1681.6h0M302.9 1678.1h0M309.1 1694.6h0M307.2 1689.5h0M307.0 1685.2h0M310.3 1681.3h0M308.2 1689.8h0M304.0 1682.3h0M303.6 1682.5h0M302.9 1686.4h0M303.4 1682.2h0M306.5 1676.8h0M304.8 1676.2h0M306.8 1687.2h0M308.1 1678.3h0M303.2 1681.9h0M310.6 1681.3h0M306.3 1684.2h0M305.0 1677.4h0M309.9 1676.4h0M306.9 1675.9h0M303.1 1682.0h0M308.4 1681.0h0M304.0 1686.4h0M304.0 1685.4h0M303.0 1676.4h0M305.1 1678.0h0M302.6 1683.2h0M304.2 1695.2h0M310.3 1676.6h0M303.4 1684.1h0M306.0 1694.7h0M304.8 1687.8h0M310.0 1688.8h0M310.5 1677.5h0M306.2 1677.4h0M306.4 1687.9h0M309.3 1684.2h0M309.0 1689.6h0M303.1 1676.6h0M305.5 1689.1h0M310.0 1684.7h0M310.2 1692.6h0M307.4 1678.3h0M309.6 1675.6h0M307.1 1689.5h0M310.2 1677.5h0M302.6 1683.6h0M308.2 1677.5h0M303.0 1680.9h0M309.6 1688.1h0M306.6 1679.4h0M310.4 1687.2h0M307.0 1685.4h0M310.0 1681.0h0M303.9 1675.7h0M306.3 1676.9h0M308.9 1695.2h0M302.6 1679.4h0M309.4 1683.8h0M304.2 1678.3h0M306.5 1688.9h0M304.9 1683.2h0M305.4 1680.6h0M309.5 1686.5h0M309.4 1676.4h0M307.8 1682.3h0M309.9 1687.9h0M304.9 1695.0h0M309.0 1689.1h0M303.5 1691.1h0M304.4 1678.8h0M304.4 1693.6h0M305.9 1684.9h0M304.6 1682.5h0M302.4 1691.0h0M310.5 1678.4h0M307.6 1691.6h0M307.1 1691.0h0M307.4 1692.4h0M308.1 1691.6h0M306.5 1683.7h0M304.9 1685.4h0M304.1 1687.9h0M308.1 1681.0h0M305.9 1690.8h0M305.3 1679.5h0M306.6 1676.4h0M308.9 1684.3h0M306.7 1678.9h0M302.8 1675.0h0M304.3 1664.0h0M303.7 1672.0h0M302.6 1655.1h0M302.7 1649.9h0M304.6 1660.6h0M305.9 1671.1h0M307.3 1653.1h0M309.0 1673.0h0M302.9 1661.6h0M307.3 1659.3h0M303.4 1653.3h0M305.6 1654.9h0M305.1 1655.6h0M307.4 1669.5h0M308.5 1647.8h0M305.3 1673.5h0M304.8 1685.3h0M308.3 1669.6h0M307.0 1673.9h0M310.3 1675.8h0M306.0 1667.0h0M303.2 1681.2h0M310.4 1670.6h0M307.6 1684.3h0M303.6 1682.1h0M309.6 1660.0h0M309.3 1683.6h0M307.4 1676.0h0M304.3 1650.9h0M307.6 1684.7h0M306.2 1677.0h0M309.5 1648.4h0M307.6 1668.4h0M305.6 1672.9h0M302.9 1660.6h0M309.6 1651.4h0M308.3 1681.8h0M304.1 1648.2h0M309.1 1660.7h0M307.9 1683.6h0M307.1 1673.6h0M303.6 1683.8h0M309.2 1661.9h0M307.0 1671.4h0M305.0 1666.3h0M303.6 1660.3h0M302.5 1652.4h0M306.4 1670.9h0M309.1 1661.4h0M308.9 1681.3h0M304.7 1675.2h0M310.2 1649.3h0M307.9 1667.7h0M308.9 1671.1h0M305.1 1656.0h0M308.1 1671.3h0M302.9 1683.2h0M306.1 1652.2h0M303.4 1663.1h0M310.4 1658.8h0M306.2 1678.0h0M305.8 1670.3h0M304.5 1662.2h0M306.9 1679.3h0M309.8 1677.1h0M307.4 1662.3h0M309.8 1681.8h0M305.3 1678.6h0M306.6 1652.2h0M308.2 1647.5h0M304.4 1668.9h0M309.6 1681.7h0M305.4 1648.3h0M307.4 1657.4h0M304.2 1659.9h0M306.6 1659.1h0M307.3 1672.7h0M306.9 1662.9h0M308.7 1664.1h0M306.1 1685.1h0M303.9 1679.2h0M307.9 1648.7h0M306.7 1665.0h0M306.3 1651.9h0M309.9 1658.0h0M302.6 1656.0h0M306.7 1677.5h0M308.8 1662.3h0M306.4 1670.8h0M304.5 1669.1h0M306.1 1648.0h0M308.4 1685.2h0M308.1 1681.9h0M305.0 1664.8h0M304.4 1669.9h0M302.9 1681.8h0M306.4 1667.0h0M310.0 1662.3h0M303.4 1652.4h0M308.6 1650.4h0M310.2 1654.3h0M303.6 1651.1h0M309.0 1660.7h0M305.7 1679.8h0M303.4 1655.8h0M305.5 1685.4h0M305.2 1675.3h0M302.5 1651.8h0M305.1 1673.9h0M303.4 1647.6h0M303.4 1664.9h0M305.0 1684.8h0M306.0 1667.2h0M307.6 1665.8h0M303.1 1667.2h0M309.5 1665.8h0M307.4 1659.2h0M303.7 1664.7h0M304.3 1657.8h0M303.5 1672.0h0M305.9 1650.5h0M309.2 1673.8h0M307.5 1660.1h0M303.0 1686.3h0M307.6 1651.5h0M304.0 1685.3h0M307.9 1680.6h0M305.8 1657.7h0M303.3 1684.9h0M307.7 1649.1h0M308.6 1649.5h0M303.3 1665.4h0M310.1 1684.3h0M307.8 1647.1h0M305.7 1673.4h0M304.6 1657.1h0M305.5 1656.1h0M308.5 1677.9h0M304.8 1685.8h0M306.3 1654.9h0M303.6 1675.4h0M302.6 1669.7h0M305.8 1671.8h0M306.0 1686.2h0M309.6 1673.6h0M307.0 1666.2h0M306.5 1652.7h0M305.0 1622.0h0M306.8 1632.9h0M308.8 1635.4h0M304.0 1632.0h0M307.2 1606.7h0M307.3 1653.8h0M307.3 1639.1h0M308.7 1621.3h0M309.8 1628.7h0M308.2 1647.3h0M308.9 1642.0h0M302.4 1636.8h0M305.4 1638.4h0M302.4 1626.4h0M309.3 1625.3h0M307.1 1635.4h0M309.3 1653.7h0M306.8 1651.2h0M303.4 1645.1h0M307.4 1611.5h0M310.0 1611.3h0M309.5 1640.1h0M303.1 1629.2h0M303.3 1624.2h0M304.8 1646.0h0M306.0 1648.7h0M302.3 1652.0h0M310.6 1639.0h0M308.2 1646.0h0M304.6 1646.4h0M304.9 1625.2h0M302.1 1639.7h0M306.4 1632.6h0M309.9 1651.7h0M307.1 1653.5h0M305.8 1635.1h0M307.0 1625.6h0M308.0 1636.4h0M304.5 1654.7h0M303.8 1620.2h0M306.0 1623.7h0M305.5 1650.0h0M307.2 1652.1h0M303.1 1622.0h0M302.6 1616.4h0M310.7 1637.2h0M302.1 1648.4h0M304.5 1643.8h0M302.5 1643.2h0M308.3 1654.4h0M307.0 1651.3h0M305.2 1654.3h0M309.5 1627.1h0M303.0 1639.3h0M307.5 1642.7h0M308.9 1646.4h0M308.6 1645.1h0M306.4 1640.9h0M307.8 1648.6h0M310.7 1653.7h0M302.3 1643.5h0M302.4 1644.4h0M303.0 1619.3h0M308.6 1644.9h0M302.9 1625.7h0M309.0 1631.8h0M309.5 1636.9h0M309.3 1620.9h0M308.0 1624.6h0M310.4 1620.3h0M310.5 1612.0h0M306.2 1635.4h0M305.9 1627.2h0M305.8 1641.2h0M305.7 1648.3h0M308.6 1650.2h0M309.8 1641.1h0M307.2 1649.9h0M305.6 1653.3h0M306.6 1639.1h0M309.0 1613.4h0M302.9 1642.1h0M307.4 1652.1h0M306.9 1641.3h0M303.3 1611.9h0M303.0 1650.1h0M309.9 1646.2h0M308.0 1617.4h0M303.7 1654.2h0M304.5 1649.7h0M309.9 1638.0h0M310.1 1654.0h0M309.0 1648.8h0M307.2 1623.9h0M304.8 1632.3h0M304.6 1631.5h0M310.4 1634.1h0M304.1 1634.3h0M306.2 1624.1h0M307.3 1645.5h0M307.6 1647.6h0M303.1 1605.4h0M306.8 1647.8h0M310.7 1650.0h0M304.8 1640.6h0M302.1 1651.0h0M306.5 1612.5h0M306.9 1647.1h0M304.0 1645.7h0M305.5 1627.1h0M308.7 1636.4h0M303.4 1623.2h0M306.9 1633.8h0M302.1 1638.7h0M306.6 1628.6h0M310.7 1617.5h0M308.9 1645.3h0M302.2 1638.9h0M304.9 1647.9h0M308.2 1641.3h0M302.6 1637.5h0M305.2 1607.7h0M306.8 1640.7h0M302.8 1642.3h0M303.6 1648.6h0M308.7 1637.6h0M307.8 1612.3h0M304.2 1643.3h0M309.1 1645.9h0M310.1 1642.0h0M303.5 1636.0h0M305.2 1649.6h0M304.7 1613.9h0M302.6 1622.3h0M308.2 1616.1h0M304.9 1646.6h0M304.9 1648.6h0M306.2 1642.5h0M308.9 1614.4h0M305.3 1627.8h0M305.2 1618.9h0M304.6 1599.6h0M310.8 1634.6h0M304.8 1645.6h0M305.9 1650.6h0M304.5 1642.0h0M309.4 1646.5h0M302.5 1617.3h0M302.9 1631.3h0M308.9 1643.7h0M305.9 1649.3h0M302.7 1654.7h0M308.8 1636.5h0M302.4 1603.9h0M302.5 1655.1h0M309.0 1624.3h0M302.9 1644.4h0M306.3 1641.3h0M304.5 1647.4h0M309.1 1623.0h0M305.3 1612.4h0M306.1 1639.5h0M310.7 1617.1h0M304.6 1652.4h0M302.9 1646.1h0M305.4 1632.5h0M304.7 1629.4h0M309.9 1643.5h0M308.8 1640.9h0M309.3 1618.3h0M307.5 1623.8h0M306.3 1654.6h0M305.8 1615.7h0M309.3 1648.9h0M304.6 1638.0h0M308.8 1622.6h0M306.1 1632.1h0M305.7 1617.3h0M310.4 1608.7h0M303.4 1612.9h0M308.2 1637.2h0M308.4 1640.0h0M305.7 1653.8h0M306.3 1641.9h0M310.2 1644.5h0M303.5 1637.5h0M303.0 1649.8h0M309.6 1649.1h0M302.7 1628.1h0M309.7 1616.1h0M302.7 1637.5h0M308.3 1629.4h0M310.7 1650.5h0M305.1 1654.5h0M310.9 1619.0h0M303.6 1629.3h0M308.2 1649.6h0M306.8 1632.5h0M302.2 1640.8h0M308.5 1636.4h0M302.9 1632.4h0M308.8 1654.8h0M306.0 1607.6h0M302.8 1635.5h0M302.8 1626.7h0M303.1 1654.1h0M306.8 1652.9h0M306.6 1648.3h0M308.4 1649.8h0M304.0 1631.3h0M308.5 1620.7h0M304.8 1626.8h0M303.0 1642.1h0M304.6 1632.4h0M305.7 1640.7h0M304.4 1618.1h0M310.2 1622.9h0M304.4 1641.4h0M310.0 1629.9h0M302.7 1623.8h0M303.5 1629.2h0M306.6 1643.9h0M309.8 1648.1h0M303.6 1652.5h0M310.4 1610.4h0M309.9 1633.3h0M305.7 1623.4h0M304.3 1598.9h0M305.6 1628.6h0M310.8 1626.7h0M310.2 1632.1h0M307.3 1650.9h0M309.1 1636.1h0M310.1 1626.2h0M305.8 1623.3h0M304.4 1636.5h0M309.7 1653.1h0M306.4 1635.6h0M305.5 1651.9h0M307.8 1643.8h0M306.6 1655.1h0M304.0 1613.7h0M308.8 1616.6h0M302.5 1628.5h0M306.8 1642.1h0M303.5 1613.7h0M305.3 1644.1h0M302.6 1608.7h0M307.5 1642.1h0M306.9 1606.0h0M306.5 1643.7h0M308.4 1616.7h0M308.2 1633.9h0M306.7 1638.9h0M306.5 1597.8h0M308.0 1618.0h0M303.8 1637.5h0M304.0 1651.1h0M308.1 1625.9h0M308.1 1614.7h0M303.5 1638.8h0M308.7 1635.5h0M310.3 1639.8h0M302.8 1629.4h0M309.2 1641.1h0M305.0 1653.3h0M308.8 1637.4h0M307.3 1645.1h0M307.7 1644.4h0M307.7 1625.2h0M310.5 1649.3h0M309.3 1652.5h0M310.6 1643.7h0M302.9 1627.6h0M305.7 1612.9h0M307.3 1655.1h0M310.8 1628.5h0M310.5 1644.2h0M309.9 1632.8h0M309.4 1648.8h0M306.9 1602.5h0M305.3 1632.7h0M307.1 1640.5h0M306.0 1639.6h0M308.5 1655.2h0M303.4 1648.2h0M308.3 1640.7h0M305.2 1636.8h0M302.6 1642.6h0M308.8 1627.7h0M310.4 1626.6h0M304.1 1624.5h0M305.7 1644.9h0M308.9 1630.5h0M303.2 1617.5h0M303.8 1653.3h0M307.0 1643.0h0M308.9 1619.5h0M306.8 1640.1h0M306.3 1631.6h0M303.0 1650.6h0M303.2 1644.4h0M309.7 1653.8h0M304.9 1640.0h0M306.2 1630.5h0M303.7 1652.9h0M310.0 1631.1h0M308.2 1646.6h0M307.2 1617.8h0M304.3 1652.4h0M308.5 1631.8h0M306.9 1626.4h0M307.7 1636.5h0M308.8 1647.6h0M305.5 1652.6h0M309.2 1609.3h0M305.0 1643.2h0M305.0 1651.0h0M303.4 1654.9h0M309.3 1639.1h0M308.5 1641.9h0M303.3 1642.1h0M308.6 1652.5h0M308.6 1651.2h0M304.0 1640.0h0M304.3 1629.9h0M310.3 1634.5h0M307.0 1652.1h0M305.5 1653.2h0M310.8 1615.2h0M303.0 1614.8h0M307.5 1625.1h0M307.8 1632.5h0M309.2 1651.7h0M307.7 1645.4h0M307.3 1605.6h0M304.0 1654.7h0M306.5 1620.6h0M309.8 1649.0h0M308.3 1643.9h0M309.4 1653.2h0M309.6 1633.0h0M308.4 1610.1h0M304.9 1652.2h0M306.8 1650.4h0M310.8 1649.8h0M306.9 1655.1h0M310.6 1637.2h0M304.5 1646.0h0M308.6 1638.5h0M309.9 1647.6h0M305.9 1620.0h0M306.2 1648.3h0M307.9 1647.7h0M307.8 1647.3h0M310.6 1644.2h0M302.6 1627.4h0M307.7 1641.2h0M306.6 1638.9h0M310.5 1650.8h0M303.5 1635.7h0M307.7 1642.8h0M305.3 1626.7h0M308.4 1647.4h0M309.2 1630.1h0M307.6 1632.7h0M309.5 1616.9h0M306.3 1637.0h0M309.9 1645.4h0M308.8 1621.2h0M303.5 1630.7h0M302.4 1634.6h0M307.8 1618.4h0M309.9 1628.0h0M306.5 1627.4h0M306.2 1644.3h0M303.1 1618.3h0M304.7 1651.1h0M308.6 1623.2h0M310.4 1634.7h0M302.9 1629.6h0M306.6 1651.3h0M305.9 1627.9h0M304.3 1652.9h0M308.6 1647.7h0M302.1 1642.8h0M308.8 1618.0h0M304.6 1635.0h0M310.4 1622.5h0M307.5 1645.5h0M304.2 1635.3h0M303.1 1651.0h0M309.8 1634.6h0M304.1 1645.2h0M302.5 1653.0h0M302.2 1622.8h0M305.7 1609.0h0M306.9 1649.6h0M304.9 1626.7h0M308.0 1638.0h0M304.4 1646.9h0M303.7 1650.2h0M310.8 1617.1h0M309.1 1608.0h0M305.6 1626.6h0M310.1 1646.6h0M305.2 1629.7h0M304.8 1645.4h0M304.0 1610.8h0M303.8 1639.5h0M310.1 1637.8h0M307.1 1653.4h0M307.2 1652.2h0M303.4 1641.6h0M308.2 1619.5h0M309.2 1653.3h0M309.7 1645.2h0M309.3 1641.4h0M306.2 1639.4h0M304.8 1636.2h0M326.9 1694.0h0M326.1 1668.9h0M324.5 1690.1h0M322.5 1699.3h0M323.9 1698.6h0M323.1 1692.7h0M323.4 1694.1h0M323.3 1677.7h0M361.9 1627.2h0M361.8 1593.5h0M362.4 1651.4h0M364.6 1646.1h0M364.8 1610.8h0M358.3 1622.8h0M362.7 1625.1h0M363.6 1617.7h0M361.7 1605.2h0M362.2 1605.9h0M357.8 1648.9h0M362.1 1603.9h0M359.2 1644.5h0M363.1 1647.7h0M360.1 1653.2h0M358.9 1635.7h0M378.8 1688.6h0M375.2 1678.7h0M378.5 1668.1h0M377.1 1644.7h0M377.0 1690.1h0M380.3 1657.1h0M382.8 1673.3h0M378.6 1657.4h0M379.9 1679.5h0M382.6 1665.2h0M376.4 1677.1h0M375.7 1682.2h0M383.6 1693.3h0M376.3 1672.9h0M382.2 1682.2h0M375.3 1672.8h0M376.9 1678.7h0M376.9 1669.8h0M383.9 1663.1h0M377.1 1666.1h0M383.7 1680.9h0M379.7 1695.5h0M380.4 1658.5h0M376.5 1678.5h0M382.3 1682.9h0M376.3 1681.8h0M382.7 1680.5h0M380.1 1694.7h0M377.0 1694.2h0M381.9 1677.4h0M378.5 1671.4h0M377.9 1690.1h0M379.4 1698.2h0M378.4 1684.2h0M377.2 1659.8h0M379.6 1699.0h0M382.5 1678.3h0M378.5 1693.7h0M378.6 1675.3h0M377.0 1670.6h0M382.0 1695.9h0M375.8 1693.7h0M377.0 1645.2h0M380.1 1659.9h0M377.6 1699.7h0M377.2 1690.5h0M378.4 1667.4h0M376.1 1684.4h0M379.8 1676.4h0M382.7 1665.1h0M376.7 1694.4h0M377.5 1687.6h0M378.0 1656.2h0M379.1 1662.9h0M380.0 1681.0h0M381.9 1678.7h0M375.4 1699.8h0M379.6 1687.5h0M380.9 1684.6h0M379.7 1672.2h0M380.7 1662.4h0M377.5 1684.0h0M380.3 1656.0h0M384.0 1646.1h0M376.7 1655.1h0M377.9 1649.9h0M382.5 1683.5h0M382.7 1663.2h0M377.3 1672.3h0M375.2 1694.0h0M378.7 1683.9h0M378.4 1680.3h0M377.1 1688.5h0M381.6 1651.1h0M379.2 1663.1h0M382.9 1671.6h0M377.8 1665.1h0M376.6 1674.9h0M376.5 1695.0h0M375.1 1668.1h0M375.3 1652.3h0M381.4 1666.2h0M377.4 1670.1h0M382.7 1678.7h0M383.5 1643.5h0M380.1 1672.4h0M379.5 1672.6h0M380.0 1697.3h0M382.4 1664.1h0M377.1 1653.5h0M383.0 1672.0h0M379.8 1670.1h0M379.3 1669.0h0M376.4 1663.6h0M383.4 1681.6h0M375.1 1695.2h0M377.1 1647.1h0M378.7 1693.7h0M378.6 1676.1h0M382.1 1661.0h0M377.1 1668.8h0M377.7 1690.7h0M376.2 1661.0h0M380.7 1697.0h0M376.0 1693.8h0M379.1 1675.6h0M380.6 1681.8h0M376.2 1672.6h0M383.4 1674.4h0M378.5 1665.7h0M380.3 1669.4h0M378.8 1695.8h0M376.5 1685.6h0M377.2 1681.8h0M378.8 1698.0h0M379.3 1680.6h0M382.5 1657.7h0M382.9 1686.4h0M383.7 1672.0h0M378.4 1698.3h0M375.5 1670.1h0M378.2 1667.1h0M381.2 1692.6h0M379.7 1680.0h0M376.0 1662.0h0M380.0 1682.4h0M379.6 1657.8h0M377.7 1677.0h0M376.4 1653.7h0M376.4 1653.4h0M377.6 1690.1h0M383.5 1672.7h0M378.3 1658.4h0M376.5 1669.0h0M381.6 1678.6h0M382.8 1668.2h0M377.5 1683.6h0M376.0 1677.4h0M376.9 1671.2h0M376.3 1656.5h0M382.8 1697.9h0M377.5 1651.3h0M377.5 1681.1h0M376.2 1661.0h0M380.5 1677.9h0M375.4 1682.6h0M381.4 1697.9h0M381.0 1685.3h0M382.7 1697.8h0M380.9 1664.2h0M379.0 1674.1h0M375.5 1670.1h0M379.9 1679.3h0M382.9 1692.4h0M380.5 1682.2h0M376.2 1646.0h0M379.7 1666.1h0M384.0 1694.4h0M382.5 1680.2h0M380.1 1687.6h0M380.7 1688.3h0M380.4 1694.7h0M377.6 1671.8h0M383.4 1671.6h0M382.6 1676.6h0M377.0 1689.1h0M383.0 1664.7h0M383.6 1653.0h0M379.0 1673.9h0M376.4 1662.7h0M395.6 1687.2h0M395.3 1681.2h0M396.3 1660.7h0M396.9 1664.5h0M398.2 1668.6h0M396.4 1679.7h0M397.3 1683.2h0M400.9 1684.1h0M400.6 1692.4h0M399.2 1684.0h0M395.3 1688.7h0M400.9 1671.1h0M398.7 1685.4h0M400.7 1672.8h0M401.3 1653.2h0M413.1 1672.0h0M415.7 1650.9h0M412.4 1643.5h0M417.0 1672.4h0M431.9 1680.4h0M470.7 1607.9h0M489.9 1683.6h0M486.5 1698.2h0M485.7 1694.7h0M492.2 1692.8h0M488.0 1684.9h0M484.9 1689.6h0M490.0 1684.1h0M488.4 1695.8h0M490.1 1699.8h0M491.8 1690.9h0M492.9 1681.3h0M489.7 1693.2h0M490.9 1699.5h0M491.1 1684.9h0M488.0 1697.4h0M485.8 1687.1h0M492.1 1689.5h0M490.1 1698.8h0M489.5 1695.4h0M485.7 1688.7h0M490.4 1689.6h0M484.9 1676.7h0M486.9 1678.1h0M484.7 1683.5h0M486.0 1700.0h0M487.9 1697.6h0M491.5 1697.5h0M489.1 1693.4h0M491.9 1698.1h0M489.8 1681.9h0M509.2 1659.5h0M506.3 1696.9h0M508.7 1665.5h0M511.2 1691.8h0M503.2 1654.3h0M505.3 1642.4h0M504.7 1678.8h0M508.8 1686.4h0M507.6 1667.6h0M511.5 1664.1h0M503.6 1662.1h0M505.2 1656.1h0M504.0 1667.4h0M505.6 1674.2h0M506.9 1643.5h0M508.4 1668.8h0M503.2 1671.4h0M504.1 1696.9h0M511.3 1660.5h0M506.2 1676.9h0M508.4 1649.2h0M503.7 1657.9h0M507.9 1694.2h0M508.1 1668.8h0M506.5 1663.8h0M511.0 1660.6h0M511.9 1673.2h0M503.2 1676.0h0M510.8 1687.3h0M510.7 1658.4h0M510.8 1676.7h0M503.9 1676.4h0M505.9 1666.5h0M503.9 1637.1h0M503.0 1661.1h0M510.2 1636.6h0M502.9 1652.7h0M509.6 1695.7h0M507.6 1689.5h0M505.5 1692.2h0M526.5 1671.8h0M523.8 1675.8h0M525.8 1673.8h0M522.5 1665.5h0M526.4 1668.2h0M526.0 1684.8h0M522.4 1656.3h0M522.4 1682.5h0M523.1 1691.8h0M522.4 1686.3h0M526.4 1682.2h0M523.7 1675.8h0M525.0 1676.4h0M525.1 1689.7h0M524.2 1672.7h0M523.2 1653.8h0M525.6 1690.3h0M523.0 1685.4h0M528.8 1664.0h0M524.0 1652.8h0M527.9 1692.7h0M527.5 1679.6h0M523.5 1656.3h0M528.9 1656.3h0M528.3 1680.9h0M523.5 1652.0h0M529.2 1688.3h0M523.3 1665.0h0M526.0 1661.4h0M522.9 1682.5h0M525.7 1667.5h0M525.1 1677.9h0M522.1 1662.5h0M529.7 1656.1h0M523.0 1657.3h0M560.4 1684.4h0M564.6 1677.8h0M563.3 1687.3h0M564.6 1673.7h0M558.3 1677.6h0M583.8 1671.6h0M576.6 1687.6h0M576.5 1678.1h0M581.6 1680.1h0M613.3 1675.9h0M618.6 1677.3h0M614.9 1663.9h0M614.2 1659.1h0M617.6 1665.4h0M614.3 1690.3h0M657.2 1688.6h0M649.2 1692.1h0M653.8 1697.2h0M652.7 1692.6h0M653.0 1697.6h0M653.2 1697.4h0M651.6 1685.8h0M657.2 1694.6h0M657.2 1680.2h0M657.8 1686.4h0M652.8 1684.0h0M651.8 1686.6h0M656.2 1688.1h0M654.5 1683.3h0M652.3 1691.9h0M653.4 1687.5h0M649.7 1682.9h0M654.6 1694.2h0M650.3 1681.1h0M657.6 1686.6h0M654.6 1682.6h0M657.9 1682.9h0M649.9 1697.6h0M651.8 1693.8h0M657.5 1682.7h0M694.1 1680.1h0M693.8 1680.6h0M706.2 1697.5h0M711.9 1694.6h0M708.7 1694.2h0M723.7 1694.3h0M727.7 1694.9h0M728.0 1692.9h0M744.6 1698.3h0M741.6 1664.9h0M743.8 1690.5h0M747.5 1683.2h0M743.7 1680.1h0M744.4 1694.3h0M745.2 1697.0h0M749.0 1693.1h0M747.8 1686.2h0M746.3 1699.6h0M743.7 1682.8h0M749.4 1680.6h0M746.1 1679.2h0M741.8 1668.9h0M741.9 1663.9h0M747.6 1691.3h0M748.4 1688.8h0M742.2 1701.7h0M744.8 1675.9h0M746.2 1694.7h0M741.3 1681.5h0M743.8 1697.1h0M762.0 1688.4h0M763.2 1694.7h0M760.0 1686.4h0M763.8 1671.7h0M799.4 1672.4h0M796.2 1687.2h0M817.2 1695.8h0M819.8 1695.4h0M819.3 1692.9h0M820.1 1696.8h0M839.6 1688.7h0M839.1 1691.2h0M858.5 1690.4h0M853.0 1693.5h0M857.9 1672.9h0M858.2 1672.7h0M856.1 1674.3h0M858.6 1678.4h0M853.8 1699.7h0M855.4 1667.1h0M853.0 1687.4h0M851.4 1667.3h0M857.3 1696.0h0M850.2 1677.7h0M850.7 1681.4h0M855.6 1695.6h0M855.8 1697.9h0M850.9 1671.3h0M858.9 1677.6h0M851.2 1680.5h0M856.8 1684.0h0M851.7 1693.2h0M873.0 1690.3h0M874.8 1670.8h0M871.5 1671.8h0M874.3 1647.1h0M875.1 1662.4h0M871.7 1673.5h0M876.0 1679.7h0M874.2 1659.1h0M875.9 1667.7h0M870.2 1680.3h0M876.2 1688.5h0M872.9 1675.6h0M875.2 1655.2h0M877.2 1668.4h0M875.3 1675.7h0M874.6 1669.6h0M873.7 1678.9h0M874.2 1657.6h0M872.0 1666.1h0M876.7 1679.5h0M874.5 1683.7h0M876.5 1671.9h0M876.5 1668.0h0M876.8 1657.9h0M875.9 1689.2h0M868.7 1690.0h0M876.9 1665.2h0M876.4 1649.0h0M874.6 1689.0h0M871.3 1689.9h0M868.9 1669.6h0M870.8 1659.7h0M873.5 1661.3h0M871.5 1683.6h0M870.0 1661.8h0M873.0 1655.4h0M872.4 1684.1h0M870.4 1672.1h0M870.5 1683.4h0M870.8 1668.1h0M869.8 1656.5h0M870.6 1662.5h0M868.9 1649.4h0M870.7 1692.0h0M871.9 1669.5h0M877.3 1666.9h0M875.9 1675.0h0M869.4 1671.2h0M872.6 1646.4h0M876.2 1687.6h0M892.1 1683.9h0M890.7 1677.6h0M891.1 1672.1h0M890.2 1672.7h0M907.2 1681.3h0M911.4 1677.7h0M912.8 1686.3h0M905.6 1674.7h0M908.0 1694.7h0M926.0 1682.5h0M923.8 1677.9h0M944.6 1681.5h0M946.0 1678.6h0M949.0 1685.2h0M947.0 1674.5h0M947.1 1681.5h0M943.2 1678.7h0M961.7 1700.5h0M962.5 1699.9h0M985.0 1683.4h0M986.0 1680.7h0M985.3 1683.1h0M981.6 1680.6h0M1000.9 1682.9h0M999.9 1682.1h0M1000.5 1681.7h0M998.6 1683.3h0M1019.0 1675.4h0M1019.2 1663.6h0M1022.3 1659.4h0M1020.9 1646.0h0M1020.5 1662.0h0M1015.3 1682.8h0M1022.8 1686.4h0M1017.2 1681.8h0M1017.3 1686.7h0M1018.9 1668.9h0M1021.2 1644.0h0M1023.1 1666.3h0M1020.7 1653.8h0M1018.3 1683.4h0M1020.7 1685.0h0M1015.2 1683.8h0M1023.0 1684.4h0M1016.9 1668.8h0M1020.8 1661.6h0M1018.5 1663.9h0M1016.1 1687.0h0M1014.6 1664.0h0M1022.2 1662.3h0M1015.9 1681.8h0M1019.3 1645.5h0M1016.6 1682.3h0M1018.5 1654.5h0M1022.6 1685.2h0M1020.2 1673.5h0M1020.7 1660.5h0M1016.9 1681.7h0M1022.7 1686.7h0M1022.9 1661.3h0M1020.5 1669.0h0M1020.7 1655.8h0M1020.8 1650.0h0M1017.5 1669.2h0M1022.2 1654.4h0M1021.6 1685.7h0M1020.1 1669.5h0M1017.8 1680.6h0M1015.2 1674.7h0M1019.4 1662.2h0M1020.1 1666.1h0M1022.0 1661.8h0M1017.0 1685.9h0M1022.3 1676.2h0M1019.6 1656.9h0M1016.6 1675.4h0M1018.6 1671.4h0M1015.6 1664.7h0M1018.6 1667.8h0M1022.4 1665.4h0M1019.1 1642.2h0M1018.6 1642.3h0M1022.3 1653.7h0M1022.8 1653.5h0M1020.4 1685.2h0M1023.2 1654.1h0M1020.7 1671.5h0M1018.2 1673.1h0M1020.1 1683.6h0M1023.0 1665.9h0M1017.2 1661.5h0M1022.2 1681.7h0M1018.1 1667.0h0M1021.0 1676.4h0M1015.5 1673.8h0M1019.5 1666.5h0M1022.5 1659.1h0M1019.4 1660.4h0M1018.4 1681.5h0M1020.7 1668.8h0M1019.8 1663.1h0M1022.0 1643.6h0M1016.7 1684.4h0M1018.0 1669.0h0M1016.9 1642.1h0M1020.8 1675.8h0M1020.3 1678.3h0M1015.9 1658.0h0M1018.0 1682.0h0M1014.7 1649.8h0M1022.7 1651.6h0M1015.7 1645.1h0M1015.4 1680.3h0M1017.4 1678.2h0M1020.8 1684.3h0M1019.5 1661.0h0M1021.8 1676.6h0M1020.8 1670.2h0M1017.0 1681.6h0M1017.8 1674.5h0M1019.8 1658.5h0M1020.5 1680.7h0M1015.8 1649.6h0M1020.9 1661.7h0M1020.7 1659.9h0M1022.9 1663.0h0M1018.9 1679.1h0M1020.3 1651.4h0M1020.7 1645.7h0M1015.3 1679.1h0M1015.8 1672.4h0M1016.8 1663.5h0M1015.7 1679.7h0M1016.8 1660.1h0M1021.6 1686.4h0M1023.3 1671.8h0M1020.3 1662.9h0M1021.2 1672.5h0M1016.1 1665.6h0M1020.8 1664.3h0M1022.3 1640.3h0M1023.3 1652.6h0M1017.4 1663.1h0M1023.3 1660.2h0M1014.9 1659.7h0M1019.3 1652.1h0M1019.5 1670.2h0M1020.9 1684.4h0M1020.7 1661.4h0M1021.6 1684.2h0M1019.1 1673.5h0M1018.7 1680.9h0M1021.4 1659.8h0M1015.3 1646.6h0M1020.7 1670.0h0M1014.8 1653.9h0M1021.7 1670.8h0M1022.9 1667.1h0M1020.1 1674.9h0M1015.2 1661.0h0M1017.7 1668.3h0M1015.6 1665.9h0M1016.5 1657.8h0M1021.5 1665.9h0M1018.7 1670.0h0M1015.3 1670.3h0M1020.6 1685.8h0M1019.3 1673.2h0M1017.6 1669.8h0M1020.5 1646.9h0M1020.6 1653.7h0M1018.6 1647.4h0M1021.6 1671.5h0M1019.9 1668.1h0M1015.3 1657.5h0M1015.4 1677.9h0M1016.5 1658.5h0M1023.2 1658.9h0M1020.0 1659.8h0M1021.8 1673.4h0M1019.9 1664.6h0M1020.6 1665.2h0M1015.1 1656.1h0M1023.3 1669.3h0M1019.3 1687.3h0M1015.7 1661.0h0M1022.1 1664.9h0M1022.8 1656.1h0M1020.6 1675.4h0M1020.9 1660.2h0M1016.2 1674.6h0M1021.4 1649.6h0M1019.2 1663.6h0M1020.0 1668.6h0M1022.8 1668.2h0M1021.9 1669.5h0M1020.3 1655.8h0M1016.4 1646.2h0M1016.2 1650.5h0M1019.1 1675.1h0M1018.3 1647.4h0M1015.0 1686.1h0M1022.0 1649.9h0M1022.3 1680.4h0M1017.1 1683.7h0M1017.3 1660.8h0M1018.1 1674.1h0M1021.8 1664.3h0M1022.9 1673.3h0M1016.5 1652.9h0M1016.0 1665.2h0M1020.2 1667.0h0M1022.8 1668.7h0M1022.9 1686.6h0M1020.9 1663.0h0M1022.1 1646.1h0M1019.2 1667.2h0M1022.5 1675.3h0M1021.2 1651.8h0M1021.0 1651.0h0M1022.7 1643.9h0M1018.0 1679.4h0M1016.8 1680.7h0M1020.0 1670.5h0M1023.1 1677.7h0M1016.7 1658.3h0M1020.3 1649.1h0M1020.1 1665.0h0M1017.8 1678.3h0M1016.6 1684.9h0M1018.8 1676.9h0M1016.5 1686.2h0M1021.9 1670.6h0M1020.7 1673.0h0M1016.7 1664.6h0M1016.9 1669.3h0M1017.7 1651.9h0M1019.1 1679.1h0M1022.2 1657.3h0M1018.4 1645.6h0M1021.4 1671.2h0M1018.0 1648.1h0M1015.6 1670.8h0M1015.3 1642.2h0M1018.3 1686.1h0M1016.8 1678.1h0M1020.3 1661.8h0M1022.9 1651.1h0M1015.3 1647.4h0M1019.7 1665.6h0M1014.9 1671.2h0M1021.3 1674.7h0M1020.9 1685.6h0M1020.7 1661.0h0M1017.0 1673.4h0M1021.4 1683.0h0M1019.4 1662.3h0M1015.2 1650.8h0M1018.8 1674.6h0M1015.1 1684.7h0M1022.2 1674.4h0M1018.1 1680.2h0M1014.7 1665.6h0M1017.4 1683.3h0M1016.6 1664.9h0M1021.5 1674.0h0M1016.6 1662.6h0M1023.3 1641.2h0M1014.6 1680.4h0M1016.7 1660.5h0M1015.2 1677.0h0M1022.4 1659.8h0M1019.3 1673.6h0M1019.0 1659.3h0M1014.7 1664.8h0M1014.9 1665.1h0M1017.5 1658.2h0M1019.9 1674.5h0M1022.9 1684.3h0M1021.9 1642.2h0M1022.4 1680.4h0M1016.6 1668.5h0M1017.6 1647.5h0M1017.4 1663.1h0M1019.1 1670.8h0M1018.2 1668.4h0M1015.0 1647.6h0M1014.7 1651.6h0M1019.0 1669.1h0M1017.9 1681.8h0M1020.1 1643.2h0M1018.9 1672.0h0M1017.2 1663.2h0M1019.7 1648.2h0M1015.9 1657.3h0M1016.4 1671.0h0M1016.3 1652.7h0M1019.5 1640.0h0M1023.1 1682.0h0M1023.1 1672.2h0M1022.1 1671.5h0M1021.2 1682.7h0M1023.1 1665.0h0M1016.5 1641.4h0M1020.4 1645.5h0M1020.5 1649.4h0M1020.7 1685.5h0M1015.3 1687.3h0M1018.7 1660.0h0M1021.4 1652.0h0M1021.1 1688.7h0M1016.5 1681.9h0M1021.4 1674.3h0M1015.3 1652.6h0M1021.3 1672.0h0M1020.7 1645.6h0M1016.1 1672.1h0M1014.8 1655.5h0M1015.9 1654.1h0M1020.4 1644.7h0M1016.9 1649.8h0M1017.4 1676.5h0M1016.5 1676.2h0M1014.8 1675.4h0M1021.9 1666.2h0M1022.6 1673.8h0M1022.9 1643.6h0M1015.1 1688.2h0M1014.9 1640.0h0M1022.7 1665.5h0M1019.9 1643.7h0M1016.2 1656.5h0M1015.4 1681.3h0M1018.0 1674.1h0M1014.8 1678.8h0M1015.5 1685.7h0M1019.6 1649.7h0M1023.1 1669.3h0M1018.3 1662.6h0M1015.6 1651.5h0M1015.8 1647.8h0M1020.8 1647.7h0M1016.4 1663.9h0M1016.6 1655.6h0M1015.4 1660.6h0M1019.0 1666.0h0M1015.4 1686.8h0M1021.9 1665.9h0M1016.8 1656.1h0M1015.6 1666.6h0M1022.4 1669.6h0M1021.6 1647.2h0M1017.2 1660.2h0M1017.5 1647.1h0M1022.8 1651.0h0M1018.2 1674.3h0M1022.0 1658.4h0M1018.2 1640.9h0M1018.7 1629.6h0M1018.9 1633.2h0M1016.0 1630.6h0M1019.9 1640.5h0M1021.1 1641.2h0M1017.3 1644.3h0M1017.1 1631.5h0M1017.7 1638.0h0M1018.9 1628.8h0M1021.1 1637.7h0M1015.7 1637.3h0M1017.9 1630.8h0M1015.6 1634.1h0M1017.3 1630.0h0M1020.5 1629.0h0M1020.6 1631.5h0M1021.1 1635.8h0M1017.1 1626.6h0M1020.8 1637.8h0M1019.8 1632.0h0M1020.5 1638.5h0M1020.9 1631.1h0M1021.6 1632.8h0M1018.7 1634.0h0M1021.1 1638.1h0M1016.6 1626.5h0M1015.6 1627.0h0M1016.7 1637.7h0M1017.3 1637.3h0M1033.3 1675.2h0M1040.5 1664.0h0M1036.2 1678.1h0M1033.7 1690.4h0M1041.2 1685.8h0M1040.6 1662.8h0M1075.7 1668.4h0M1075.4 1674.8h0M1070.1 1676.8h0M1092.9 1689.1h0M1090.2 1687.7h0M1095.1 1695.9h0M1090.6 1697.2h0M1150.6 1681.0h0M1143.9 1678.1h0M1147.4 1671.6h0M1161.2 1664.0h0M1166.9 1669.1h0M1165.7 1663.9h0M1168.7 1664.7h0M1165.2 1684.5h0M1162.7 1673.5h0M1184.9 1690.1h0M1181.4 1688.1h0M1187.1 1689.1h0" stroke="#0a0a0a" stroke-width="1.3" stroke-linecap="round" fill="none"/>
<path d="M319.9 1694.0h9.6" stroke="#fff" stroke-width="2.5"/>
<path d="M100.7 1707.2h9.6M119.0 1707.2h9.6M137.2 1707.2h9.6M155.5 1707.2h9.6M173.8 1707.2h9.6M192.0 1707.2h9.6M210.3 1707.2h9.6M228.6 1707.2h9.6M246.9 1707.2h9.6M265.1 1707.2h9.6M301.7 1707.2h9.6M356.5 1707.2h9.6M374.8 1707.2h9.6M393.0 1707.2h9.6M411.3 1707.2h9.6M429.6 1707.2h9.6M466.1 1707.2h9.6M484.4 1707.2h9.6M502.6 1707.2h9.6M520.9 1707.2h9.6M539.2 1707.2h9.6M557.5 1707.2h9.6M575.7 1707.2h9.6M594.0 1707.2h9.6M612.3 1707.2h9.6M630.5 1707.2h9.6M648.8 1707.2h9.6M667.1 1707.2h9.6M685.3 1707.2h9.6M703.6 1707.2h9.6M721.9 1707.2h9.6M740.1 1707.2h9.6M758.4 1707.2h9.6M776.7 1707.2h9.6M795.0 1707.2h9.6M813.2 1707.2h9.6M831.5 1707.2h9.6M849.8 1707.2h9.6M868.0 1707.2h9.6M886.3 1707.2h9.6M904.6 1707.2h9.6M922.9 1707.2h9.6M941.1 1707.2h9.6M959.4 1707.2h9.6M977.7 1707.2h9.6M995.9 1707.2h9.6M1014.2 1707.2h9.6M1032.5 1707.2h9.6M1069.0 1707.2h9.6M1087.3 1707.2h9.6M1142.1 1707.2h9.6M1160.4 1707.2h9.6M1178.6 1707.2h9.6" stroke="#111" stroke-width="2.1" fill="none"/>
<path d="M94.2 1564.5V1706.7" stroke="#111" stroke-width="1.8" fill="none"/><path d="M93.3 1706.7H1195.5" stroke="#111" stroke-width="1.5" fill="none"/>
<path d="M86.9 1706.7H94.5" stroke="#111" stroke-width="1.6"/>
<text transform="translate(84.90,1717.80)" font-size="17.50" text-anchor="end">0</text>
<path d="M86.9 1595.3H94.5" stroke="#111" stroke-width="1.6"/>
<text transform="translate(84.90,1606.40)" font-size="17.50" text-anchor="end">5</text>
<text transform="translate(103.20,1567.30) scale(0.9680,1)" font-size="22.60" font-style="italic">CCL26</text>
<path d="M105.5 1872.8V1838.2M123.8 1872.8V1796.8M142.0 1872.8V1801.9M160.3 1872.8V1802.2M178.6 1872.8V1737.5M215.1 1872.8V1828.9M233.4 1872.8V1825.9M251.7 1872.8V1836.1M269.9 1872.8V1863.5M306.5 1872.8V1804.9M343.0 1872.8V1821.9M361.3 1872.8V1806.1M379.6 1872.8V1801.9M397.8 1872.8V1845.8M489.2 1872.8V1842.4M525.7 1872.8V1826.6M544.0 1872.8V1821.0M635.3 1872.8V1859.3M744.9 1872.8V1858.3M763.2 1872.8V1801.5M818.0 1872.8V1862.1M854.6 1872.8V1812.4M872.8 1872.8V1830.3M891.1 1872.8V1843.8M909.4 1872.8V1844.4M927.6 1872.8V1843.8M945.9 1872.8V1843.8M964.2 1872.8V1858.3M1000.7 1872.8V1829.2M1019.0 1872.8V1817.5M1037.3 1872.8V1831.9M1073.8 1872.8V1849.6M1146.9 1872.8V1837.5M1165.2 1872.8V1834.7" stroke="#111" stroke-width="1.25" fill="none"/>
<path d="M169.6 1872.8C169.9 1872.3 170.7 1871.2 171.6 1870.0C172.5 1868.8 174.2 1867.7 175.0 1865.8C175.7 1864.0 176.1 1861.6 176.2 1858.9C176.2 1856.1 175.8 1853.8 175.4 1849.6C175.0 1845.3 174.1 1838.3 173.8 1833.3C173.4 1828.3 173.3 1824.4 173.4 1819.3C173.5 1814.3 173.9 1808.9 174.4 1803.1C174.8 1797.3 175.6 1790.3 176.2 1784.5C176.7 1778.7 177.3 1772.5 177.7 1768.2C178.0 1764.0 178.3 1760.5 178.4 1758.9L178.8 1758.9C178.9 1760.5 179.1 1764.0 179.5 1768.2C179.8 1772.5 180.4 1778.7 181.0 1784.5C181.5 1790.3 182.3 1797.3 182.8 1803.1C183.2 1808.9 183.7 1814.3 183.8 1819.3C183.9 1824.4 183.7 1828.3 183.4 1833.3C183.0 1838.3 182.2 1845.3 181.8 1849.6C181.4 1853.8 180.9 1856.1 181.0 1858.9C181.0 1861.6 181.4 1864.0 182.2 1865.8C182.9 1867.7 184.7 1868.8 185.6 1870.0C186.5 1871.2 187.2 1872.3 187.6 1872.8Z" fill="#8C8C8C" stroke="#111" stroke-width="0.9" stroke-linejoin="round"/>
<path d="M190.8 1872.8C190.7 1871.6 190.2 1869.3 189.8 1865.8C189.4 1862.3 188.7 1855.8 188.4 1851.9C188.2 1848.0 188.1 1846.5 188.2 1842.6C188.2 1838.7 188.6 1833.7 189.0 1828.6C189.4 1823.6 190.1 1817.4 190.5 1812.4C191.0 1807.3 191.3 1801.5 191.5 1798.4C191.8 1795.4 191.2 1794.9 192.0 1794.2C192.9 1793.5 196.0 1794.2 196.8 1794.2L196.8 1794.2C197.7 1794.2 200.8 1793.5 201.7 1794.2C202.5 1794.9 201.9 1795.4 202.2 1798.4C202.4 1801.5 202.7 1807.3 203.2 1812.4C203.6 1817.4 204.2 1823.6 204.7 1828.6C205.1 1833.7 205.4 1838.7 205.5 1842.6C205.6 1846.5 205.5 1848.0 205.2 1851.9C205.0 1855.8 204.2 1862.3 203.8 1865.8C203.4 1869.3 203.0 1871.6 202.8 1872.8Z" fill="#CD9317" stroke="#111" stroke-width="0.9" stroke-linejoin="round"/>
<path d="M173.8 1828.6h9.6" stroke="#fff" stroke-width="2.5"/>
<path d="M192.0 1840.0h9.6" stroke="#fff" stroke-width="2.5"/>
<path d="M94.2 1730.6V1872.8" stroke="#111" stroke-width="1.8" fill="none"/><path d="M93.3 1872.8H1195.5" stroke="#111" stroke-width="1.5" fill="none"/>
<path d="M86.9 1872.8H94.5" stroke="#111" stroke-width="1.6"/>
<text transform="translate(84.90,1883.90)" font-size="17.50" text-anchor="end">0</text>
<path d="M86.9 1756.6H94.5" stroke="#111" stroke-width="1.6"/>
<text transform="translate(84.90,1767.70)" font-size="17.50" text-anchor="end">5</text>
<text transform="translate(103.20,1735.00) scale(0.9917,1)" font-size="22.60" font-style="italic">CCL11</text>
<path d="M105.5 2039.2V1974.3M123.8 2039.2V1952.0M142.0 2039.2V1968.0M160.3 2039.2V1951.8M178.6 2039.2V2006.8M215.1 2039.2V1998.8M233.4 2039.2V2017.1M251.7 2039.2V1993.8M306.5 2039.2V1984.9M361.3 2039.2V1927.9M379.6 2039.2V1935.6M397.8 2039.2V1976.7M416.1 2039.2V1954.6M489.2 2039.2V2018.0M507.4 2039.2V2022.3M525.7 2039.2V2015.7M562.2 2039.2V2023.2M580.5 2039.2V2016.8M617.1 2039.2V1980.5M744.9 2039.2V2025.3M836.3 2039.2V1929.9M854.6 2039.2V1904.8M872.8 2039.2V1945.6M891.1 2039.2V1958.4M909.4 2039.2V1986.3M927.6 2039.2V1982.8M945.9 2039.2V1993.6M964.2 2039.2V1940.7M1000.7 2039.2V2006.1M1019.0 2039.2V1969.4M1037.3 2039.2V2009.8M1146.9 2039.2V1984.9M1165.2 2039.2V1984.0" stroke="#111" stroke-width="1.25" fill="none"/>
<path d="M285.2 2036.3h6M288.2 2036.3v1.6" stroke="#111" stroke-width="0.9" fill="none"/>
<path d="M827.9 2039.2C828.2 2038.7 829.0 2037.6 829.8 2036.4C830.6 2035.2 832.1 2034.0 832.8 2032.2C833.5 2030.3 833.8 2027.8 834.1 2025.1C834.4 2022.4 834.3 2019.6 834.4 2015.7C834.5 2011.8 834.7 2006.3 834.9 2001.6C835.1 1996.9 835.3 1992.2 835.5 1987.5C835.7 1982.8 836.0 1975.8 836.1 1973.4L836.5 1973.4C836.6 1975.8 836.9 1982.8 837.1 1987.5C837.3 1992.2 837.5 1996.9 837.7 2001.6C837.9 2006.3 838.1 2011.8 838.2 2015.7C838.3 2019.6 838.2 2022.4 838.5 2025.1C838.8 2027.8 839.1 2030.3 839.8 2032.2C840.5 2034.0 842.0 2035.2 842.8 2036.4C843.6 2037.6 844.4 2038.7 844.7 2039.2Z" fill="#E040F0" stroke="#111" stroke-width="0.9" stroke-linejoin="round"/>
<path d="M846.2 2039.2C846.5 2038.7 847.2 2037.6 848.1 2036.4C848.9 2035.2 850.5 2034.0 851.4 2032.2C852.2 2030.3 852.8 2027.5 853.1 2025.1C853.3 2022.8 853.2 2021.6 852.8 2018.0C852.3 2014.5 851.0 2008.7 850.3 2004.0C849.6 1999.2 848.9 1994.2 848.6 1989.9C848.2 1985.5 848.1 1982.4 848.3 1978.1C848.5 1973.8 849.2 1969.1 849.8 1964.0C850.4 1958.9 851.3 1952.6 852.0 1947.5C852.6 1942.5 853.2 1937.4 853.6 1933.5C854.0 1929.5 854.2 1925.6 854.4 1924.0L854.8 1924.0C854.9 1925.6 855.2 1929.5 855.6 1933.5C856.0 1937.4 856.5 1942.5 857.2 1947.5C857.8 1952.6 858.8 1958.9 859.4 1964.0C860.0 1969.1 860.7 1973.8 860.9 1978.1C861.1 1982.4 860.9 1985.5 860.6 1989.9C860.2 1994.2 859.6 1999.2 858.9 2004.0C858.2 2008.7 856.8 2014.5 856.4 2018.0C855.9 2021.6 855.8 2022.8 856.1 2025.1C856.3 2027.5 856.9 2030.3 857.8 2032.2C858.6 2034.0 860.2 2035.2 861.1 2036.4C861.9 2037.6 862.7 2038.7 863.0 2039.2Z" fill="#4F7567" stroke="#111" stroke-width="0.9" stroke-linejoin="round"/>
<path d="M849.8 1992.2h9.6" stroke="#fff" stroke-width="2.5"/>
<path d="M94.2 1896.6V2039.2" stroke="#111" stroke-width="1.8" fill="none"/><path d="M93.3 2039.2H1195.5" stroke="#111" stroke-width="1.5" fill="none"/>
<path d="M86.9 2039.2H94.5" stroke="#111" stroke-width="1.6"/>
<text transform="translate(84.90,2050.30)" font-size="17.50" text-anchor="end">0</text>
<path d="M86.9 1921.7H94.5" stroke="#111" stroke-width="1.6"/>
<text transform="translate(84.90,1932.80)" font-size="17.50" text-anchor="end">5</text>
<text transform="translate(106.00,1900.00) scale(0.9358,1)" font-size="22.60" font-style="italic">IL5</text>
<path d="M105.5 2205.9V2181.6M123.8 2205.9V2185.1M142.0 2205.9V2169.2M160.3 2205.9V2174.7M233.4 2205.9V2175.9M361.3 2205.9V2070.8M379.6 2205.9V2141.9M489.2 2205.9V2186.3M525.7 2205.9V2185.6M562.2 2205.9V2188.3M653.6 2205.9V2160.2M708.4 2205.9V2184.9M726.7 2205.9V2146.1M744.9 2205.9V2193.2M836.3 2205.9V2182.8M854.6 2205.9V2171.9M872.8 2205.9V2174.7M891.1 2205.9V2157.9M927.6 2205.9V2174.5M964.2 2205.9V2178.6M1019.0 2205.9V2166.2" stroke="#111" stroke-width="1.4" fill="none"/>
<path d="M103.5 2201.3h0M105.7 2197.4h0M104.1 2201.9h0M120.3 2188.8h0M123.7 2188.2h0M124.5 2203.4h0M140.7 2200.7h0M139.0 2196.6h0M139.4 2179.3h0M156.4 2194.8h0M162.9 2187.3h0M233.1 2176.0h0M358.5 2124.1h0M357.5 2113.3h0M364.9 2128.1h0M365.7 2115.8h0M360.4 2127.3h0M361.7 2139.8h0M361.4 2130.9h0M365.0 2097.8h0M358.8 2131.5h0M362.5 2134.4h0M360.2 2121.9h0M361.5 2138.3h0M359.2 2143.5h0M359.0 2148.5h0M362.4 2109.4h0M363.4 2145.0h0M358.3 2132.3h0M365.6 2108.5h0M364.0 2147.8h0M360.0 2125.9h0M359.2 2144.2h0M358.8 2116.9h0M358.4 2136.9h0M360.7 2124.9h0M357.3 2112.1h0M357.3 2133.3h0M364.0 2143.4h0M357.6 2148.5h0M362.6 2116.4h0M363.7 2136.8h0M359.4 2116.0h0M357.9 2150.0h0M357.8 2102.7h0M359.3 2141.5h0M365.1 2099.9h0M357.7 2144.2h0M361.6 2132.5h0M365.2 2143.0h0M361.6 2104.4h0M361.9 2139.8h0M357.9 2126.0h0M362.9 2121.3h0M357.1 2147.8h0M361.5 2088.5h0M365.1 2130.2h0M359.6 2128.0h0M365.7 2138.3h0M357.6 2133.1h0M362.7 2107.7h0M363.9 2119.6h0M365.2 2134.2h0M363.2 2097.5h0M360.8 2139.9h0M359.5 2116.9h0M365.4 2117.9h0M360.2 2118.1h0M360.4 2103.4h0M361.9 2141.2h0M356.9 2121.7h0M359.5 2103.4h0M361.7 2127.9h0M364.6 2114.5h0M365.3 2126.3h0M357.7 2134.6h0M358.7 2109.3h0M358.1 2127.9h0M362.3 2134.9h0M359.7 2112.3h0M360.3 2109.7h0M363.3 2097.2h0M359.8 2145.3h0M361.6 2119.2h0M358.6 2131.9h0M357.2 2132.6h0M365.5 2151.0h0M377.8 2154.4h0M382.0 2159.4h0M381.7 2152.1h0M381.6 2159.9h0M381.8 2169.5h0M487.7 2187.6h0M490.5 2193.1h0M488.2 2195.9h0M493.1 2196.0h0M486.2 2194.5h0M486.7 2193.3h0M526.4 2186.0h0M559.5 2188.7h0M655.9 2189.1h0M651.6 2190.5h0M705.5 2185.3h0M725.8 2146.7h0M742.8 2194.3h0M742.1 2195.0h0M838.5 2183.1h0M854.9 2189.4h0M857.8 2196.3h0M854.6 2191.5h0M852.0 2184.5h0M851.8 2185.1h0M856.2 2176.2h0M857.3 2194.0h0M853.6 2188.0h0M855.1 2193.1h0M857.5 2183.4h0M857.7 2198.7h0M855.6 2198.3h0M873.5 2180.3h0M871.1 2178.6h0M925.2 2175.0h0M963.3 2194.2h0M961.9 2191.1h0M1020.1 2169.5h0M1020.8 2167.4h0" stroke="#0a0a0a" stroke-width="1.3" stroke-linecap="round" fill="none"/>
<path d="M100.7 2206.4h9.6M119.0 2206.4h9.6M137.2 2206.4h9.6M155.5 2206.4h9.6M228.6 2206.4h9.6M356.5 2206.4h9.6M374.8 2206.4h9.6M484.4 2206.4h9.6M520.9 2206.4h9.6M557.5 2206.4h9.6M648.8 2206.4h9.6M703.6 2206.4h9.6M721.9 2206.4h9.6M740.1 2206.4h9.6M831.5 2206.4h9.6M849.8 2206.4h9.6M868.0 2206.4h9.6M886.3 2206.4h9.6M922.9 2206.4h9.6M959.4 2206.4h9.6M1014.2 2206.4h9.6" stroke="#111" stroke-width="2.1" fill="none"/>
<path d="M94.2 2063.0V2205.9" stroke="#111" stroke-width="1.8" fill="none"/><path d="M93.3 2205.9H1195.5" stroke="#111" stroke-width="1.5" fill="none"/>
<path d="M86.9 2205.9H94.5" stroke="#111" stroke-width="1.6"/>
<text transform="translate(84.90,2217.00)" font-size="17.50" text-anchor="end">0</text>
<path d="M86.9 2090.4H94.5" stroke="#111" stroke-width="1.6"/>
<text transform="translate(84.90,2101.50)" font-size="17.50" text-anchor="end">5</text>
<text transform="translate(104.30,2065.00) scale(0.9946,1)" font-size="22.60" font-style="italic">CCR3</text>
<path d="M105.5 2205.9v8.5M123.8 2205.9v8.5M142.0 2205.9v8.5M160.3 2205.9v8.5M178.6 2205.9v8.5M196.8 2205.9v8.5M215.1 2205.9v8.5M233.4 2205.9v8.5M251.7 2205.9v8.5M269.9 2205.9v8.5M288.2 2205.9v8.5M306.5 2205.9v8.5M324.7 2205.9v8.5M343.0 2205.9v8.5M361.3 2205.9v8.5M379.6 2205.9v8.5M397.8 2205.9v8.5M416.1 2205.9v8.5M434.4 2205.9v8.5M452.6 2205.9v8.5M470.9 2205.9v8.5M489.2 2205.9v8.5M507.4 2205.9v8.5M525.7 2205.9v8.5M544.0 2205.9v8.5M562.2 2205.9v8.5M580.5 2205.9v8.5M598.8 2205.9v8.5M617.1 2205.9v8.5M635.3 2205.9v8.5M653.6 2205.9v8.5M671.9 2205.9v8.5M690.1 2205.9v8.5M708.4 2205.9v8.5M726.7 2205.9v8.5M744.9 2205.9v8.5M763.2 2205.9v8.5M781.5 2205.9v8.5M799.8 2205.9v8.5M818.0 2205.9v8.5M836.3 2205.9v8.5M854.6 2205.9v8.5M872.8 2205.9v8.5M891.1 2205.9v8.5M909.4 2205.9v8.5M927.6 2205.9v8.5M945.9 2205.9v8.5M964.2 2205.9v8.5M982.5 2205.9v8.5M1000.7 2205.9v8.5M1019.0 2205.9v8.5M1037.3 2205.9v8.5M1055.5 2205.9v8.5M1073.8 2205.9v8.5M1092.1 2205.9v8.5M1110.3 2205.9v8.5M1128.6 2205.9v8.5M1146.9 2205.9v8.5M1165.2 2205.9v8.5M1183.4 2205.9v8.5" stroke="#111" stroke-width="1.3" fill="none"/>
<text transform="translate(110.40,2216.30) rotate(-90) scale(0.9900,1)" font-size="13.90" text-anchor="end">Quiescent basal cell</text>
<text transform="translate(128.67,2216.30) rotate(-90) scale(0.9900,1)" font-size="13.90" text-anchor="end">Basal cell (cycling)</text>
<text transform="translate(146.94,2216.30) rotate(-90) scale(0.9900,1)" font-size="13.90" text-anchor="end">Suprabasal</text>
<text transform="translate(165.21,2216.30) rotate(-90) scale(0.9900,1)" font-size="13.90" text-anchor="end">Apical cell</text>
<text transform="translate(183.48,2216.30) rotate(-90) scale(0.9900,1)" font-size="13.90" text-anchor="end">Fibroblast</text>
<text transform="translate(201.75,2216.30) rotate(-90) scale(0.9900,1)" font-size="13.90" text-anchor="end">Fibroblast (cycling)</text>
<text transform="translate(220.02,2216.30) rotate(-90) scale(0.9900,1)" font-size="13.90" text-anchor="end">Arterial (<tspan font-style="italic">GJA4</tspan>)</text>
<text transform="translate(238.29,2216.30) rotate(-90) scale(0.9900,1)" font-size="13.90" text-anchor="end">Venous (<tspan font-style="italic">ACKR1</tspan>)</text>
<text transform="translate(256.56,2216.30) rotate(-90) scale(0.9900,1)" font-size="13.90" text-anchor="end">Capillary (<tspan font-style="italic">RGCC</tspan>)</text>
<text transform="translate(274.83,2216.30) rotate(-90) scale(0.9900,1)" font-size="13.90" text-anchor="end">BEC (cycling)</text>
<text transform="translate(293.10,2216.30) rotate(-90) scale(0.9900,1)" font-size="13.90" text-anchor="end">LEC (<tspan font-style="italic">LYVE1</tspan>)</text>
<text transform="translate(311.37,2216.30) rotate(-90) scale(0.9900,1)" font-size="13.90" text-anchor="end">Pericyte</text>
<text transform="translate(329.64,2216.30) rotate(-90) scale(0.9900,1)" font-size="13.90" text-anchor="end">Pericyte (cycling)</text>
<text transform="translate(347.91,2216.30) rotate(-90) scale(0.9900,1)" font-size="13.90" text-anchor="end">Glia</text>
<text transform="translate(366.18,2216.30) rotate(-90) scale(0.9900,1)" font-size="13.90" text-anchor="end">Eosinophil</text>
<text transform="translate(384.45,2216.30) rotate(-90) scale(0.9900,1)" font-size="13.90" text-anchor="end">Mast cell</text>
<text transform="translate(402.72,2216.30) rotate(-90) scale(0.9900,1)" font-size="13.90" text-anchor="end">Mast cell (cycling)</text>
<text transform="translate(420.99,2216.30) rotate(-90) scale(0.9900,1)" font-size="13.90" text-anchor="end">Erythroid cell</text>
<text transform="translate(439.26,2216.30) rotate(-90) scale(0.9900,1)" font-size="13.90" text-anchor="end">Monocyte (<tspan font-style="italic">CD14</tspan>)</text>
<text transform="translate(457.53,2216.30) rotate(-90) scale(0.9900,1)" font-size="13.90" text-anchor="end">Monocyte (<tspan font-style="italic">FCGR3A</tspan>)</text>
<text transform="translate(475.80,2216.30) rotate(-90) scale(0.9900,1)" font-size="13.90" text-anchor="end">Macrophage (<tspan font-style="italic">SPP1</tspan>)</text>
<text transform="translate(494.07,2216.30) rotate(-90) scale(0.9900,1)" font-size="13.90" text-anchor="end">Macrophage (<tspan font-style="italic">PLAC8</tspan>)</text>
<text transform="translate(512.34,2216.30) rotate(-90) scale(0.9900,1)" font-size="13.90" text-anchor="end">Macrophage (<tspan font-style="italic">ALOX15</tspan>)</text>
<text transform="translate(530.61,2216.30) rotate(-90) scale(0.9900,1)" font-size="13.90" text-anchor="end">Macrophage (<tspan font-style="italic">SEPP1</tspan>)</text>
<text transform="translate(548.88,2216.30) rotate(-90) scale(0.9900,1)" font-size="13.90" text-anchor="end">Macrophage (<tspan font-style="italic">SEPP1/FOLR2</tspan>)</text>
<text transform="translate(567.15,2216.30) rotate(-90) scale(0.9900,1)" font-size="13.90" text-anchor="end">Macrophage (<tspan font-style="italic">SEPP1/IL1B</tspan>)</text>
<text transform="translate(585.42,2216.30) rotate(-90) scale(0.9900,1)" font-size="13.90" text-anchor="end">Macrophage (cycling)</text>
<text transform="translate(603.69,2216.30) rotate(-90) scale(0.9900,1)" font-size="13.90" text-anchor="end">cDC1 (<tspan font-style="italic">CLEC9A</tspan>)</text>
<text transform="translate(621.96,2216.30) rotate(-90) scale(0.9900,1)" font-size="13.90" text-anchor="end">Langerhans cell</text>
<text transform="translate(640.23,2216.30) rotate(-90) scale(0.9900,1)" font-size="13.90" text-anchor="end">cDC2A (<tspan font-style="italic">IL22RA2</tspan><tspan font-style="italic" font-size="8.62" dy="-5.00">+</tspan><tspan dy="5.00">&#8203;</tspan><tspan font-style="italic">CLEC10A</tspan><tspan font-style="italic" font-size="8.62" dy="-5.00">–</tspan><tspan dy="5.00">&#8203;</tspan>)</text>
<text transform="translate(658.50,2216.30) rotate(-90) scale(0.9900,1)" font-size="13.90" text-anchor="end">cDC2B (<tspan font-style="italic">CD1C</tspan>)</text>
<text transform="translate(676.77,2216.30) rotate(-90) scale(0.9900,1)" font-size="13.90" text-anchor="end">cDC2C (<tspan font-style="italic">PRDM16</tspan>)</text>
<text transform="translate(695.04,2216.30) rotate(-90) scale(0.9900,1)" font-size="13.90" text-anchor="end">Mature DC (<tspan font-style="italic">FSCN1</tspan>)</text>
<text transform="translate(713.31,2216.30) rotate(-90) scale(0.9900,1)" font-size="13.90" text-anchor="end">DC (cycling)</text>
<text transform="translate(731.58,2216.30) rotate(-90) scale(0.9900,1)" font-size="13.90" text-anchor="end">pDC</text>
<text transform="translate(749.85,2216.30) rotate(-90) scale(0.9900,1)" font-size="13.90" text-anchor="end">Plasma cell (IgA<tspan font-size="8.62" dy="-5.00">+</tspan><tspan dy="5.00">&#8203;</tspan>)</text>
<text transform="translate(768.12,2216.30) rotate(-90) scale(0.9900,1)" font-size="13.90" text-anchor="end">Plasma cell (IgG<tspan font-size="8.62" dy="-5.00">+</tspan><tspan dy="5.00">&#8203;</tspan>)</text>
<text transform="translate(786.39,2216.30) rotate(-90) scale(0.9900,1)" font-size="13.90" text-anchor="end">Plasma cell (IgM<tspan font-size="8.62" dy="-5.00">+</tspan><tspan dy="5.00">&#8203;</tspan>)</text>
<text transform="translate(804.66,2216.30) rotate(-90) scale(0.9900,1)" font-size="13.90" text-anchor="end">B cell (memory)</text>
<text transform="translate(822.93,2216.30) rotate(-90) scale(0.9900,1)" font-size="13.90" text-anchor="end">Plasma cell (cycling)</text>
<text transform="translate(841.20,2216.30) rotate(-90) scale(0.9900,1)" font-size="13.90" text-anchor="end">ILC2</text>
<text transform="translate(859.47,2216.30) rotate(-90) scale(0.9900,1)" font-size="13.90" text-anchor="end">Th2</text>
<text transform="translate(877.74,2216.30) rotate(-90) scale(0.9900,1)" font-size="13.90" text-anchor="end">Treg</text>
<text transform="translate(896.01,2216.30) rotate(-90) scale(0.9900,1)" font-size="13.90" text-anchor="end">CD4<tspan font-size="8.62" dy="-5.00">+</tspan><tspan dy="5.00">&#8203;</tspan> Tcm</text>
<text transform="translate(914.28,2216.30) rotate(-90) scale(0.9900,1)" font-size="13.90" text-anchor="end">Th17</text>
<text transform="translate(932.55,2216.30) rotate(-90) scale(0.9900,1)" font-size="13.90" text-anchor="end">Th1</text>
<text transform="translate(950.82,2216.30) rotate(-90) scale(0.9900,1)" font-size="13.90" text-anchor="end">CD4<tspan font-size="8.62" dy="-5.00">+</tspan><tspan dy="5.00">&#8203;</tspan> Trm (<tspan font-style="italic">CCL5</tspan>)</text>
<text transform="translate(969.09,2216.30) rotate(-90) scale(0.9900,1)" font-size="13.90" text-anchor="end">CD4<tspan font-size="8.62" dy="-5.00">+</tspan><tspan dy="5.00">&#8203;</tspan> T cell (cycling)</text>
<text transform="translate(987.36,2216.30) rotate(-90) scale(0.9900,1)" font-size="13.90" text-anchor="end">MAIT (<tspan font-style="italic">NCR3</tspan>)</text>
<text transform="translate(1005.63,2216.30) rotate(-90) scale(0.9900,1)" font-size="13.90" text-anchor="end">CD8<tspan font-size="8.62" dy="-5.00">+</tspan><tspan dy="5.00">&#8203;</tspan> T cell (MHC II)</text>
<text transform="translate(1023.90,2216.30) rotate(-90) scale(0.9900,1)" font-size="13.90" text-anchor="end">CD8<tspan font-size="8.62" dy="-5.00">+</tspan><tspan dy="5.00">&#8203;</tspan> Teff (<tspan font-style="italic">KLRC1</tspan>)</text>
<text transform="translate(1042.17,2216.30) rotate(-90) scale(0.9900,1)" font-size="13.90" text-anchor="end">CD8<tspan font-size="8.62" dy="-5.00">+</tspan><tspan dy="5.00">&#8203;</tspan> Trm (<tspan font-style="italic">GZMK</tspan>)</text>
<text transform="translate(1060.44,2216.30) rotate(-90) scale(0.9900,1)" font-size="13.90" text-anchor="end">CD8<tspan font-size="8.62" dy="-5.00">+</tspan><tspan dy="5.00">&#8203;</tspan> Temra (<tspan font-style="italic">KLRG1</tspan>)</text>
<text transform="translate(1078.71,2216.30) rotate(-90) scale(0.9900,1)" font-size="13.90" text-anchor="end">Gamma delta T cell</text>
<text transform="translate(1096.98,2216.30) rotate(-90) scale(0.9900,1)" font-size="13.90" text-anchor="end">CD8<tspan font-size="8.62" dy="-5.00">+</tspan><tspan dy="5.00">&#8203;</tspan> T cell (cycling)</text>
<text transform="translate(1115.25,2216.30) rotate(-90) scale(0.9900,1)" font-size="13.90" text-anchor="end">NK (<tspan font-style="italic">FCGR3A</tspan>)</text>
<text transform="translate(1133.52,2216.30) rotate(-90) scale(0.9900,1)" font-size="13.90" text-anchor="end">NK (<tspan font-style="italic">IL4I1</tspan>)</text>
<text transform="translate(1151.79,2216.30) rotate(-90) scale(0.9900,1)" font-size="13.90" text-anchor="end">NK (<tspan font-style="italic">ITGAX</tspan>)</text>
<text transform="translate(1170.06,2216.30) rotate(-90) scale(0.9900,1)" font-size="13.90" text-anchor="end">NK (<tspan font-style="italic">XCL1/CD160</tspan>)</text>
<text transform="translate(1188.33,2216.30) rotate(-90) scale(0.9900,1)" font-size="13.90" text-anchor="end">NK (cycling)</text>
<text transform="translate(50.30,1725.50) rotate(-90) scale(0.9502,1)" font-size="29.50" text-anchor="middle">Gene expression (log[TP10K+1])</text>
<text transform="translate(19.20,1230.00) scale(0.9000,1)" font-size="37.00" font-weight="bold">c</text>
</g>
<g id="panel_d">
<g transform="translate(0,0.7)"><path d="M1309.4 1516.0V1346.7" stroke="#333" stroke-width="0.7"/>
<path d="M1309.8 1443.9h0M1310.3 1375.4h0M1309.5 1491.6h0M1309.5 1399.5h0M1308.2 1494.8h0M1309.3 1433.3h0M1309.5 1439.4h0M1308.6 1456.9h0M1309.9 1485.5h0M1310.7 1446.1h0M1309.6 1456.1h0M1310.2 1468.3h0M1309.5 1407.9h0M1310.5 1458.9h0M1309.3 1455.4h0M1307.5 1468.2h0M1309.3 1486.6h0M1311.0 1390.2h0M1308.9 1491.5h0M1309.0 1497.7h0M1308.3 1479.6h0M1310.8 1357.2h0M1308.0 1357.8h0M1309.6 1400.4h0M1309.9 1430.8h0M1307.6 1487.3h0M1308.4 1458.3h0M1308.8 1494.4h0M1310.6 1400.8h0M1310.1 1495.6h0M1309.4 1422.9h0M1309.5 1430.0h0M1309.7 1427.0h0M1310.2 1402.2h0M1308.9 1494.0h0M1307.5 1460.0h0M1308.8 1478.6h0M1310.9 1392.4h0M1308.6 1454.7h0M1308.5 1412.1h0M1309.3 1360.8h0M1308.9 1477.5h0M1309.7 1412.5h0M1309.2 1486.8h0M1310.3 1483.9h0M1309.1 1441.4h0M1311.3 1390.2h0M1309.1 1414.5h0M1309.2 1489.5h0M1309.4 1414.4h0M1310.3 1470.0h0M1309.1 1453.4h0M1310.4 1401.2h0M1307.9 1476.2h0M1310.4 1443.3h0M1309.2 1454.8h0M1310.0 1408.4h0M1310.0 1391.5h0M1309.1 1446.8h0M1308.7 1403.9h0M1308.5 1467.0h0M1309.2 1454.7h0M1310.1 1480.2h0M1308.5 1389.0h0M1309.4 1448.2h0M1309.8 1368.3h0M1308.1 1414.4h0M1309.4 1437.8h0M1309.7 1491.5h0M1309.2 1489.8h0M1309.3 1459.2h0M1309.3 1380.6h0M1309.3 1378.3h0M1309.4 1423.5h0M1309.3 1400.0h0M1307.9 1440.8h0M1308.6 1366.4h0M1308.5 1479.1h0M1310.6 1420.2h0M1309.4 1422.5h0M1309.1 1399.5h0M1309.7 1470.2h0M1309.9 1367.9h0M1310.2 1482.3h0M1308.8 1420.6h0" stroke="#111" stroke-width="1.15" stroke-linecap="round" fill="none"/>
<path d="M1353.6 1516.0V1342.1" stroke="#333" stroke-width="0.7"/>
<path d="M1352.5 1460.0h0M1352.5 1439.8h0M1354.1 1479.0h0M1353.7 1467.2h0M1353.9 1462.1h0M1353.8 1475.4h0M1352.3 1501.5h0M1352.3 1486.7h0M1352.8 1473.3h0M1355.0 1460.6h0M1354.4 1456.0h0M1354.1 1496.5h0M1353.8 1437.9h0M1353.5 1445.3h0M1351.2 1441.1h0M1353.7 1474.0h0M1353.2 1456.2h0M1352.5 1437.6h0M1354.9 1487.4h0M1352.9 1465.5h0M1354.3 1454.5h0M1354.4 1466.1h0M1355.2 1504.1h0M1354.9 1478.5h0M1354.4 1497.2h0M1352.8 1488.4h0M1354.2 1480.8h0M1354.7 1464.5h0M1351.7 1484.2h0M1353.1 1486.1h0M1354.0 1479.0h0M1353.7 1486.1h0M1352.9 1501.1h0M1353.0 1477.3h0M1353.2 1472.0h0M1353.5 1494.9h0M1355.8 1463.0h0M1353.1 1501.4h0M1356.0 1418.1h0M1353.9 1487.3h0M1354.1 1486.6h0M1355.6 1460.9h0M1353.6 1420.4h0M1354.0 1485.7h0M1353.4 1440.7h0M1352.0 1445.8h0M1353.9 1447.0h0M1354.6 1489.2h0M1353.7 1454.6h0M1352.7 1505.5h0M1354.5 1476.5h0M1354.9 1493.9h0M1353.1 1429.2h0M1354.3 1434.4h0M1352.4 1483.8h0M1353.8 1474.9h0M1351.7 1470.9h0M1354.5 1483.0h0M1353.7 1448.4h0M1354.6 1486.6h0M1355.1 1452.3h0M1353.1 1433.3h0M1353.1 1499.5h0M1355.6 1472.3h0M1355.6 1495.0h0M1354.2 1491.2h0M1352.3 1487.4h0M1354.2 1488.0h0M1353.7 1465.9h0M1354.2 1456.0h0M1354.4 1463.5h0M1355.0 1472.8h0M1353.2 1476.7h0M1354.7 1445.7h0M1351.8 1477.7h0M1353.4 1461.6h0M1353.9 1464.2h0M1352.5 1434.7h0M1353.6 1501.2h0M1355.9 1465.5h0M1352.1 1450.1h0M1355.1 1490.0h0M1354.7 1484.9h0M1353.3 1474.7h0M1353.4 1500.3h0M1354.2 1456.7h0M1353.2 1492.2h0M1354.1 1471.8h0M1353.8 1480.6h0M1353.8 1448.9h0M1354.5 1495.5h0M1355.0 1459.3h0M1352.9 1451.3h0M1352.9 1473.6h0M1353.1 1453.3h0M1353.9 1463.5h0M1353.6 1463.5h0M1352.6 1470.8h0M1354.8 1444.4h0M1351.9 1459.6h0M1354.3 1430.9h0M1352.2 1487.4h0M1352.6 1440.8h0M1353.4 1503.8h0M1355.5 1500.2h0M1352.7 1454.4h0M1352.7 1452.2h0M1354.5 1472.3h0M1352.0 1497.3h0M1354.4 1465.7h0M1353.8 1471.1h0M1353.7 1504.7h0M1354.4 1461.4h0M1353.4 1434.2h0M1353.3 1473.0h0M1354.1 1457.5h0M1354.8 1478.1h0M1353.2 1475.2h0M1352.7 1486.2h0M1354.5 1442.7h0M1353.2 1436.7h0M1353.2 1493.6h0M1353.6 1432.9h0M1353.1 1448.8h0M1353.4 1465.5h0M1352.7 1484.2h0M1354.2 1433.3h0M1353.9 1472.9h0M1355.2 1462.6h0M1353.0 1435.2h0M1354.7 1478.6h0M1353.0 1479.6h0M1354.5 1498.1h0M1354.8 1437.8h0M1354.0 1450.4h0M1354.1 1500.8h0M1354.7 1450.5h0M1353.3 1452.5h0M1355.6 1486.9h0M1354.9 1495.4h0M1353.6 1474.9h0M1354.5 1467.6h0M1353.4 1467.8h0M1352.2 1432.0h0M1353.7 1489.2h0M1353.1 1477.9h0M1353.6 1477.1h0M1353.8 1428.0h0M1353.3 1496.4h0M1352.7 1463.9h0M1355.1 1441.2h0M1354.3 1474.3h0M1354.3 1459.5h0M1356.0 1460.8h0M1352.3 1497.0h0M1354.2 1456.7h0M1351.7 1488.1h0M1354.3 1433.1h0M1353.3 1472.2h0M1353.1 1441.0h0M1354.2 1498.1h0M1354.0 1488.3h0M1352.6 1502.4h0M1351.7 1498.2h0M1354.3 1466.6h0M1352.1 1483.3h0M1354.7 1451.1h0M1352.5 1455.0h0M1352.0 1469.0h0M1353.5 1501.6h0M1352.3 1428.7h0M1352.8 1423.5h0M1354.1 1445.1h0M1351.2 1450.5h0M1354.7 1494.8h0M1354.2 1463.8h0M1353.6 1466.0h0M1355.1 1459.0h0M1354.9 1462.8h0M1353.3 1481.0h0M1353.6 1463.4h0M1353.3 1483.3h0M1351.2 1446.7h0M1355.4 1488.6h0M1352.8 1483.3h0M1353.9 1448.0h0M1352.4 1499.0h0M1354.5 1455.7h0M1353.8 1421.2h0M1356.0 1481.6h0M1355.0 1471.8h0M1353.0 1462.9h0M1353.0 1438.9h0M1354.9 1429.9h0M1353.1 1489.2h0M1351.9 1456.4h0M1354.5 1474.5h0M1353.1 1462.0h0M1355.7 1490.3h0M1352.9 1445.1h0M1353.9 1385.3h0M1354.1 1377.3h0M1353.2 1410.5h0M1354.2 1364.0h0M1354.0 1406.1h0M1352.9 1351.0h0M1353.7 1401.8h0M1352.7 1357.6h0M1354.3 1395.4h0M1352.7 1399.5h0M1352.7 1413.3h0M1355.2 1373.6h0M1353.0 1421.2h0M1354.3 1409.6h0M1354.3 1387.3h0M1353.8 1410.0h0M1353.3 1413.1h0M1354.1 1417.1h0M1354.4 1408.6h0M1355.0 1406.2h0M1354.7 1407.7h0M1353.6 1387.0h0M1353.0 1398.8h0M1354.5 1364.5h0M1354.0 1374.8h0M1353.6 1398.8h0M1352.7 1422.6h0M1352.8 1394.0h0M1352.9 1403.4h0M1354.1 1415.2h0M1353.0 1377.9h0M1354.9 1412.8h0M1354.1 1419.6h0M1353.9 1385.6h0M1353.4 1373.5h0M1353.1 1397.9h0M1352.7 1405.3h0M1354.7 1409.8h0M1354.7 1390.6h0M1352.6 1380.9h0M1354.5 1403.8h0M1352.8 1393.4h0M1353.1 1402.1h0M1353.1 1368.7h0M1353.3 1415.9h0" stroke="#111" stroke-width="1.15" stroke-linecap="round" fill="none"/>
<path d="M1398.4 1516.0V1343.5" stroke="#333" stroke-width="0.7"/>
<path d="M1399.5 1477.3h0M1397.7 1458.9h0M1398.1 1503.3h0M1399.0 1493.5h0M1398.0 1478.7h0M1397.3 1492.8h0M1399.3 1454.5h0M1399.4 1473.4h0M1398.2 1444.5h0M1396.9 1428.7h0M1397.1 1462.8h0M1399.8 1448.4h0M1398.9 1499.7h0M1398.1 1428.0h0M1397.3 1469.5h0M1398.2 1480.9h0M1399.9 1469.8h0M1398.1 1489.1h0M1396.8 1421.1h0M1397.4 1462.4h0M1396.8 1458.1h0M1398.2 1468.3h0M1398.3 1430.9h0M1400.0 1477.5h0M1398.4 1468.8h0M1399.8 1475.3h0M1398.1 1467.7h0M1399.4 1470.8h0M1395.6 1491.9h0M1400.3 1498.3h0M1397.3 1491.2h0M1400.2 1482.3h0M1398.1 1426.4h0M1398.7 1482.9h0M1399.8 1475.3h0M1397.1 1465.0h0M1398.1 1496.2h0M1399.1 1496.4h0M1397.7 1435.6h0M1400.3 1494.7h0M1399.2 1444.4h0M1397.3 1498.3h0M1396.6 1478.9h0M1398.4 1427.1h0M1396.7 1503.3h0M1398.7 1477.9h0M1398.2 1472.7h0M1399.1 1436.1h0M1397.2 1479.8h0M1398.3 1506.1h0M1396.7 1433.3h0M1398.6 1490.9h0M1395.7 1486.3h0M1397.4 1457.7h0M1399.5 1449.8h0M1396.5 1468.4h0M1397.2 1439.3h0M1400.2 1431.5h0M1398.6 1484.2h0M1395.6 1485.0h0M1397.5 1450.6h0M1397.3 1432.1h0M1398.0 1469.8h0M1399.3 1496.4h0M1397.0 1472.2h0M1398.2 1503.0h0M1398.8 1477.7h0M1398.6 1475.0h0M1398.5 1484.7h0M1396.9 1461.5h0M1398.1 1444.3h0M1400.3 1468.9h0M1395.6 1450.4h0M1398.9 1502.3h0M1397.0 1496.9h0M1399.4 1427.1h0M1397.8 1438.5h0M1398.5 1459.6h0M1397.2 1485.2h0M1398.3 1461.9h0M1397.4 1446.7h0M1398.7 1449.2h0M1400.5 1465.6h0M1398.1 1488.1h0M1396.8 1461.4h0M1399.1 1489.6h0M1398.5 1431.5h0M1397.5 1455.5h0M1399.4 1455.8h0M1396.3 1487.2h0M1397.0 1438.0h0M1397.8 1440.5h0M1399.8 1445.7h0M1397.3 1480.1h0M1395.7 1463.6h0M1397.1 1445.8h0M1398.1 1442.8h0M1398.3 1454.1h0M1398.8 1429.6h0M1398.7 1435.5h0M1398.1 1431.6h0M1397.4 1468.1h0M1400.2 1447.5h0M1400.9 1476.9h0M1400.2 1497.7h0M1396.7 1474.1h0M1396.9 1483.4h0M1398.0 1484.2h0M1397.5 1499.8h0M1396.8 1470.1h0M1398.4 1464.5h0M1398.6 1469.6h0M1397.9 1475.5h0M1397.1 1475.7h0M1398.4 1484.2h0M1398.7 1436.3h0M1397.2 1470.8h0M1399.3 1423.2h0M1398.0 1444.8h0M1397.9 1461.4h0M1399.9 1442.4h0M1397.3 1490.3h0M1397.9 1425.3h0M1397.7 1495.7h0M1399.2 1473.1h0M1396.6 1495.0h0M1398.8 1460.9h0M1397.7 1463.2h0M1400.0 1453.7h0M1397.5 1493.4h0M1399.7 1473.2h0M1398.9 1468.0h0M1396.3 1442.9h0M1398.4 1445.3h0M1396.1 1466.1h0M1398.9 1476.7h0M1398.7 1491.4h0M1398.5 1484.2h0M1397.3 1471.6h0M1398.1 1493.7h0M1398.3 1477.5h0M1398.5 1470.6h0M1398.4 1465.9h0M1396.3 1437.2h0M1397.3 1501.1h0M1399.7 1473.0h0M1398.5 1495.6h0M1398.0 1450.0h0M1398.3 1500.9h0M1399.6 1458.1h0M1398.1 1506.0h0M1398.1 1452.1h0M1397.6 1436.8h0M1399.0 1461.7h0M1398.6 1433.4h0M1398.7 1487.0h0M1399.2 1426.1h0M1396.8 1458.7h0M1398.1 1473.1h0M1398.9 1461.5h0M1397.5 1444.5h0M1397.4 1503.7h0M1397.0 1434.7h0M1397.3 1484.0h0M1397.3 1475.9h0M1398.5 1485.1h0M1397.4 1496.2h0M1398.7 1452.8h0M1398.1 1492.6h0M1398.2 1497.7h0M1398.8 1450.4h0M1400.1 1495.2h0M1400.7 1493.3h0M1397.7 1477.9h0M1397.8 1442.5h0M1396.6 1442.1h0M1400.0 1451.5h0M1398.1 1497.4h0M1396.9 1475.3h0M1399.4 1470.9h0M1397.4 1495.4h0M1396.3 1462.4h0M1399.5 1494.0h0M1399.7 1471.3h0M1397.5 1460.9h0M1398.8 1449.5h0M1397.5 1421.5h0M1397.8 1500.8h0M1399.7 1452.6h0M1399.2 1496.3h0M1398.1 1448.1h0M1397.8 1468.3h0M1399.0 1473.7h0M1398.8 1477.1h0M1400.5 1419.2h0M1399.8 1503.3h0M1397.5 1458.3h0M1398.6 1495.2h0M1399.2 1505.1h0M1398.3 1430.3h0M1398.5 1463.8h0M1400.1 1449.5h0M1398.1 1469.3h0M1397.4 1430.5h0M1397.7 1464.3h0M1399.2 1479.8h0M1398.5 1502.3h0M1397.9 1498.5h0M1398.7 1475.7h0M1397.5 1449.7h0M1399.1 1496.8h0M1400.9 1497.4h0M1398.8 1479.5h0M1398.6 1470.1h0M1398.4 1456.1h0M1398.8 1482.5h0M1397.3 1488.4h0M1398.4 1468.7h0M1396.2 1458.5h0M1398.0 1455.4h0M1399.2 1499.4h0M1399.7 1493.5h0M1398.1 1427.5h0M1395.9 1465.5h0M1399.3 1497.8h0M1399.3 1457.4h0M1401.0 1472.2h0M1397.4 1486.4h0M1398.6 1444.2h0M1398.1 1497.2h0M1398.4 1493.7h0M1396.3 1470.3h0M1398.6 1457.8h0M1399.2 1443.8h0M1395.8 1427.1h0M1398.6 1468.0h0M1398.5 1495.3h0M1398.5 1459.6h0M1396.9 1430.3h0M1397.2 1452.0h0M1399.5 1465.9h0M1395.6 1442.6h0M1400.0 1482.3h0M1398.3 1504.3h0M1399.6 1465.6h0M1399.6 1465.7h0M1398.0 1481.7h0M1399.8 1469.8h0M1397.9 1494.0h0M1396.8 1432.9h0M1397.4 1437.6h0M1398.3 1493.7h0M1401.2 1473.6h0M1396.3 1428.6h0M1400.5 1501.7h0M1398.4 1504.2h0M1398.1 1474.6h0M1397.9 1443.8h0M1397.8 1465.3h0M1400.9 1472.8h0M1398.0 1506.6h0M1398.2 1445.5h0M1397.5 1462.4h0M1400.5 1428.9h0M1398.3 1465.3h0M1397.5 1503.4h0M1399.3 1459.0h0M1398.8 1499.9h0M1398.1 1476.0h0M1397.9 1463.8h0M1398.4 1471.9h0M1398.3 1478.0h0M1398.1 1438.3h0M1399.9 1496.1h0M1395.7 1502.8h0M1400.6 1464.0h0M1398.8 1436.8h0M1398.9 1481.3h0M1400.8 1476.8h0M1398.8 1455.3h0M1398.5 1435.9h0M1397.0 1494.7h0M1399.8 1449.5h0M1398.0 1463.6h0M1399.2 1503.5h0M1397.3 1488.7h0M1398.8 1473.7h0M1398.7 1491.6h0M1397.4 1501.4h0M1397.0 1500.5h0M1398.9 1428.0h0M1397.9 1502.5h0M1398.3 1473.6h0M1400.8 1447.8h0M1398.7 1472.1h0M1398.6 1435.2h0M1400.5 1485.5h0M1397.5 1447.2h0M1397.6 1450.5h0M1398.0 1472.4h0M1397.0 1502.7h0M1398.0 1472.3h0M1400.6 1440.3h0M1396.5 1484.4h0M1398.3 1463.3h0M1399.2 1475.8h0M1396.6 1466.9h0M1398.8 1491.8h0M1397.5 1477.5h0M1399.3 1435.2h0M1398.1 1430.2h0M1396.8 1458.4h0M1398.0 1431.9h0M1397.2 1487.1h0M1401.2 1438.4h0M1398.5 1439.1h0M1396.9 1445.7h0M1398.7 1438.3h0M1400.1 1465.1h0M1398.9 1447.5h0M1397.4 1479.1h0M1397.5 1434.2h0M1396.7 1451.3h0M1399.1 1474.0h0M1396.9 1477.8h0M1397.9 1461.0h0M1398.8 1427.7h0M1398.4 1467.1h0M1398.7 1451.6h0M1397.5 1447.6h0M1396.7 1452.1h0M1397.4 1438.3h0M1398.5 1488.6h0M1397.1 1492.0h0M1399.0 1433.3h0M1399.8 1481.2h0M1396.9 1443.6h0M1396.1 1456.9h0M1397.7 1425.2h0M1398.3 1481.0h0M1399.5 1473.7h0M1399.3 1491.2h0M1399.5 1441.9h0M1398.1 1502.9h0M1398.6 1474.6h0M1398.8 1493.8h0M1399.2 1468.0h0M1397.2 1456.1h0M1397.9 1441.4h0M1397.6 1467.5h0M1398.0 1494.2h0M1399.4 1480.0h0M1397.2 1461.9h0M1398.8 1461.6h0M1398.7 1500.2h0M1397.5 1494.6h0M1399.4 1429.9h0M1399.1 1457.1h0M1396.8 1462.6h0M1397.4 1486.2h0M1398.2 1487.8h0M1398.1 1493.7h0M1397.4 1464.2h0M1399.7 1494.2h0M1397.8 1481.6h0M1400.9 1464.8h0M1397.8 1449.6h0M1399.4 1467.0h0M1399.8 1475.9h0M1397.1 1445.9h0M1399.3 1474.8h0M1397.0 1482.7h0M1397.3 1472.8h0M1401.2 1481.5h0M1398.2 1480.9h0M1397.9 1471.4h0M1399.0 1494.3h0M1398.7 1486.0h0M1396.7 1428.8h0M1399.9 1497.6h0M1396.5 1505.4h0M1397.9 1441.8h0M1400.0 1434.6h0M1399.7 1486.4h0M1399.5 1441.3h0M1397.4 1468.9h0M1397.1 1462.2h0M1399.0 1503.4h0M1398.8 1477.1h0M1395.6 1475.6h0M1397.3 1474.6h0M1397.5 1447.8h0M1399.3 1423.6h0M1396.9 1475.1h0M1398.6 1458.1h0M1398.7 1444.5h0M1398.3 1473.0h0M1397.4 1503.1h0M1397.2 1482.4h0M1397.2 1469.0h0M1398.4 1452.5h0M1398.2 1474.0h0M1398.3 1500.2h0M1396.7 1442.7h0M1395.9 1479.4h0M1396.9 1439.8h0M1398.4 1464.1h0M1397.7 1441.0h0M1400.4 1481.4h0M1399.1 1439.0h0M1400.0 1481.1h0M1398.7 1432.4h0M1397.2 1450.6h0M1398.5 1450.1h0M1398.2 1469.1h0M1396.2 1459.1h0M1397.7 1440.7h0M1397.4 1456.7h0M1398.9 1501.7h0M1398.3 1429.5h0M1400.3 1373.1h0M1397.7 1406.0h0M1398.6 1375.0h0M1398.7 1369.5h0M1398.1 1413.7h0M1398.8 1384.3h0M1398.0 1417.8h0M1398.0 1396.3h0M1397.7 1417.3h0M1398.0 1417.5h0M1398.6 1396.5h0M1398.9 1367.2h0M1399.5 1352.2h0M1397.2 1409.8h0M1399.5 1374.1h0M1398.8 1365.7h0M1399.4 1368.5h0M1398.5 1394.0h0M1398.3 1414.3h0M1397.6 1391.8h0M1399.6 1419.3h0M1397.6 1389.9h0M1399.1 1389.1h0M1398.1 1405.4h0M1398.0 1407.7h0M1398.5 1356.4h0M1400.2 1385.3h0M1398.3 1405.3h0M1398.6 1420.9h0M1399.4 1393.1h0M1399.8 1411.1h0M1398.0 1387.9h0M1397.8 1366.4h0M1396.9 1418.2h0M1397.8 1426.8h0M1399.3 1410.8h0M1398.3 1358.1h0M1398.0 1417.9h0M1399.3 1390.1h0M1399.3 1406.0h0M1398.6 1392.2h0M1399.8 1372.8h0M1398.2 1386.2h0M1399.4 1381.6h0M1396.9 1361.5h0M1399.2 1395.5h0M1398.2 1406.7h0M1399.2 1374.5h0M1398.8 1419.7h0M1398.1 1413.2h0M1399.2 1360.7h0M1398.4 1406.1h0M1398.5 1391.5h0M1399.1 1382.9h0M1400.0 1422.9h0M1398.4 1413.4h0M1398.3 1420.4h0M1398.2 1372.2h0M1398.3 1379.4h0M1398.7 1380.5h0M1399.0 1402.9h0M1399.0 1384.0h0M1397.9 1378.2h0M1398.2 1353.7h0M1397.8 1374.3h0M1399.9 1351.6h0M1398.7 1349.3h0M1397.0 1412.9h0M1398.7 1401.9h0M1399.3 1415.8h0M1397.9 1371.2h0M1398.9 1416.8h0M1397.3 1394.1h0M1398.4 1363.7h0M1399.3 1393.1h0M1399.0 1390.6h0M1397.6 1374.5h0M1397.8 1419.1h0M1399.5 1379.4h0M1397.4 1380.3h0M1398.6 1358.7h0M1399.7 1365.8h0M1398.7 1399.7h0M1399.2 1369.3h0M1397.8 1409.7h0M1397.8 1392.9h0M1398.4 1407.4h0M1397.8 1393.2h0M1400.0 1386.6h0M1399.9 1400.3h0" stroke="#111" stroke-width="1.15" stroke-linecap="round" fill="none"/>
<path d="M1282 1308.5V1516.0M1281.4 1516.0H1425.6M1309.4 1516.0v3.2M1353.6 1516.0v3.2M1398.4 1516.0v3.2M1276.4 1516.0H1282M1276.4 1423.5H1282M1276.4 1331.0H1282" stroke="#000" stroke-width="1.35" fill="none"/>
<text transform="translate(1275.40,1523.40)" font-size="19.00" text-anchor="end">0</text>
<text transform="translate(1275.40,1430.90)" font-size="19.00" text-anchor="end">2</text>
<text transform="translate(1275.40,1338.40)" font-size="19.00" text-anchor="end">4</text>
<text transform="translate(1256.70,1405.90) rotate(-90) scale(1.0332,1)" font-size="21.00" text-anchor="middle" font-style="italic">MADCAM1</text>
<text transform="translate(1352.00,1231.90) scale(1.0200,1)" font-size="22.00" text-anchor="middle">Venous</text>
<text transform="translate(1352.00,1258.20) scale(1.0200,1)" font-size="22.00" text-anchor="middle">(<tspan font-style="italic">ACKR1</tspan>)</text>
<path d="M1305.8 1298.5V1288.3H1398.4V1298.5M1305.8 1322.9V1316.4H1398.4V1322.9" stroke="#111" stroke-width="1.8" fill="none"/>
<path d="M1352.1 1315.8000000000002V1320.9" stroke="#111" stroke-width="2.6" fill="none"/>
<text transform="translate(1354.05,1282.50) scale(0.8421,1)" font-size="19.60" text-anchor="middle">2.1 × 10<tspan font-size="12.15" dy="-7.06">–5</tspan><tspan dy="7.06">&#8203;</tspan></text>
<text transform="translate(1328.75,1313.30) scale(0.8624,1)" font-size="19.60" text-anchor="middle">0.68</text>
<text transform="translate(1393.95,1313.30) scale(0.8539,1)" font-size="19.60" text-anchor="middle">1.7 × 10<tspan font-size="12.15" dy="-7.06">–11</tspan><tspan dy="7.06">&#8203;</tspan></text>
<path d="M1478.0 1516.0C1478.5 1515.4 1479.4 1513.8 1481.3 1512.2C1483.2 1510.6 1487.1 1509.0 1489.3 1506.5C1491.5 1504.1 1493.6 1503.8 1494.7 1497.5C1495.8 1491.2 1495.6 1477.3 1495.7 1468.5C1495.8 1459.8 1495.4 1451.5 1495.5 1444.8C1495.6 1438.1 1496.0 1436.1 1496.3 1428.2C1496.6 1420.3 1497.2 1405.3 1497.5 1397.4C1497.8 1389.5 1498.1 1383.5 1498.2 1380.8L1498.4 1380.8C1498.5 1383.5 1498.8 1389.5 1499.1 1397.4C1499.4 1405.3 1500.0 1420.3 1500.3 1428.2C1500.6 1436.1 1501.0 1438.1 1501.1 1444.8C1501.2 1451.5 1500.8 1459.8 1500.9 1468.5C1501.0 1477.3 1500.8 1491.2 1501.9 1497.5C1503.0 1503.8 1505.1 1504.1 1507.3 1506.5C1509.5 1509.0 1513.4 1510.6 1515.3 1512.2C1517.2 1513.8 1518.0 1515.4 1518.6 1516.0Z" fill="#B4D95B" stroke="#333" stroke-width="0.6" stroke-linejoin="round"/>
<path d="M1498.3 1516.0V1342.8" stroke="#333" stroke-width="0.7"/>
<path d="M1498.5 1472.9h0M1496.3 1446.9h0M1498.0 1450.3h0M1497.0 1471.6h0M1498.8 1492.1h0M1498.0 1489.0h0M1497.3 1478.3h0M1496.3 1500.4h0M1499.7 1490.5h0M1500.4 1488.9h0M1497.6 1479.0h0M1499.7 1440.6h0M1498.8 1497.4h0M1497.6 1457.2h0M1496.6 1492.0h0M1497.7 1485.6h0M1496.5 1471.7h0M1499.8 1469.8h0M1499.0 1470.9h0M1499.7 1456.9h0M1497.7 1480.4h0M1498.3 1463.5h0M1499.1 1463.2h0M1499.9 1457.9h0M1498.3 1411.9h0M1499.8 1469.5h0M1497.5 1476.5h0M1497.8 1466.9h0M1498.3 1448.3h0M1496.8 1460.0h0M1497.2 1480.9h0M1497.4 1472.7h0M1497.3 1475.4h0M1497.6 1490.2h0M1496.5 1451.0h0M1496.4 1477.5h0M1498.0 1468.0h0M1499.1 1483.1h0M1498.4 1476.4h0M1495.7 1482.8h0M1496.8 1453.0h0M1497.0 1449.5h0M1499.2 1495.9h0M1498.1 1442.9h0M1496.9 1441.0h0M1498.8 1448.2h0M1496.2 1489.9h0M1499.1 1476.6h0M1497.0 1463.1h0M1498.5 1486.7h0M1499.0 1422.0h0M1499.0 1445.2h0M1497.7 1480.0h0M1498.6 1480.6h0M1499.6 1493.7h0M1497.8 1488.1h0M1500.1 1467.3h0M1497.0 1459.9h0M1498.2 1472.6h0M1499.1 1476.2h0M1498.2 1423.0h0M1498.3 1444.2h0M1496.8 1495.5h0M1500.2 1488.0h0M1498.5 1425.3h0M1498.2 1456.7h0M1498.5 1461.0h0M1498.4 1454.5h0M1499.8 1480.6h0M1497.0 1445.3h0M1499.4 1464.1h0M1497.5 1458.1h0M1499.3 1459.5h0M1498.8 1487.3h0M1498.1 1476.2h0M1497.3 1497.5h0M1496.7 1448.2h0M1497.9 1480.0h0M1497.2 1468.5h0M1497.4 1461.4h0M1500.2 1428.7h0M1499.8 1483.1h0M1499.7 1472.6h0M1497.1 1500.8h0M1498.2 1414.4h0M1497.7 1463.7h0M1499.3 1467.7h0M1496.4 1482.3h0M1497.6 1462.6h0M1497.2 1434.8h0M1497.4 1467.2h0M1498.0 1439.1h0M1496.6 1459.3h0M1499.9 1481.9h0M1498.9 1476.4h0M1498.4 1463.5h0M1498.3 1452.6h0M1499.5 1479.1h0M1496.7 1452.8h0M1499.3 1462.1h0M1500.6 1488.0h0M1498.5 1481.3h0M1500.1 1471.7h0M1498.2 1420.1h0M1497.7 1498.0h0M1497.7 1495.0h0M1498.1 1443.7h0M1499.0 1476.8h0M1499.0 1431.9h0M1498.1 1408.7h0M1498.0 1457.1h0M1498.4 1488.4h0M1498.3 1472.9h0M1498.2 1444.0h0M1499.2 1476.7h0M1498.2 1492.5h0M1498.2 1447.8h0M1496.2 1454.4h0M1496.9 1451.9h0M1497.8 1413.6h0M1500.2 1427.2h0M1498.2 1441.9h0M1498.9 1488.6h0M1498.6 1473.3h0M1497.9 1485.8h0M1497.3 1498.3h0M1498.7 1474.2h0M1499.2 1488.5h0M1498.1 1429.9h0M1498.9 1437.4h0M1496.9 1493.0h0M1498.3 1478.8h0M1499.0 1424.5h0M1497.3 1492.3h0M1498.0 1468.8h0M1497.7 1455.0h0M1499.5 1474.6h0M1498.1 1443.0h0M1498.2 1427.3h0M1496.6 1462.0h0M1498.0 1428.4h0M1500.0 1494.3h0M1499.7 1451.2h0M1498.3 1425.9h0M1498.7 1500.4h0M1498.4 1418.4h0M1500.9 1453.2h0M1499.2 1474.8h0M1497.6 1472.0h0M1498.5 1430.6h0M1497.7 1436.8h0M1497.6 1432.6h0M1496.8 1431.4h0M1496.6 1473.4h0M1498.9 1485.9h0M1499.5 1468.0h0M1498.2 1450.4h0M1498.8 1429.4h0M1498.1 1443.3h0M1498.4 1453.1h0M1498.0 1446.8h0M1498.2 1442.4h0M1497.6 1463.1h0M1499.9 1423.9h0M1497.9 1491.0h0M1498.2 1404.7h0M1497.1 1469.1h0M1495.7 1499.8h0M1496.7 1485.6h0M1497.9 1483.0h0M1499.2 1444.2h0M1496.7 1487.3h0M1499.1 1490.9h0M1498.2 1450.2h0M1498.8 1491.0h0M1498.6 1418.8h0M1499.9 1416.0h0M1499.0 1445.4h0M1499.0 1481.2h0M1500.2 1415.4h0M1499.0 1446.8h0M1497.7 1475.7h0M1497.4 1476.0h0M1499.0 1477.0h0M1498.8 1487.0h0M1497.3 1479.5h0M1499.5 1500.1h0M1496.4 1486.6h0M1497.4 1470.1h0M1498.1 1438.5h0M1500.3 1434.9h0M1498.5 1496.0h0M1497.1 1429.5h0M1498.4 1453.4h0M1498.2 1436.1h0M1499.3 1498.6h0M1498.0 1478.0h0M1498.3 1467.0h0M1500.3 1445.2h0M1499.1 1420.0h0M1495.7 1439.3h0M1498.8 1450.0h0M1496.6 1481.7h0M1498.1 1501.1h0M1498.6 1428.9h0M1499.7 1463.9h0M1495.9 1411.8h0M1496.2 1423.1h0M1497.9 1429.8h0M1499.5 1469.8h0M1496.8 1436.8h0M1498.5 1481.5h0M1498.8 1480.6h0M1499.0 1431.2h0M1498.7 1412.2h0M1499.5 1481.1h0M1497.6 1448.2h0M1499.5 1429.5h0M1500.8 1444.1h0M1499.5 1460.9h0M1498.5 1465.5h0M1496.5 1443.4h0M1498.1 1501.5h0M1496.9 1423.8h0M1497.3 1471.4h0M1497.1 1467.8h0M1497.7 1429.2h0M1496.2 1431.2h0M1497.5 1457.9h0M1499.3 1481.1h0M1498.5 1493.3h0M1499.1 1442.6h0M1497.3 1501.4h0M1498.5 1487.5h0M1498.2 1423.2h0M1497.9 1414.3h0M1497.1 1490.2h0M1498.1 1447.0h0M1500.0 1468.5h0M1498.6 1474.1h0M1496.9 1432.5h0M1500.4 1482.8h0M1499.2 1475.6h0M1498.4 1480.3h0M1496.6 1464.8h0M1497.6 1414.6h0M1500.4 1454.1h0M1496.7 1431.8h0M1498.1 1445.5h0M1499.2 1492.7h0M1497.1 1482.6h0M1496.9 1415.8h0M1498.6 1414.0h0M1497.6 1487.2h0M1498.9 1456.6h0M1499.8 1442.7h0M1497.9 1483.8h0M1497.8 1495.5h0M1498.2 1438.6h0M1497.5 1491.8h0M1500.4 1448.3h0M1498.1 1447.7h0M1500.9 1479.5h0M1497.9 1477.8h0M1497.4 1417.8h0M1499.1 1447.8h0M1498.0 1488.2h0M1498.0 1443.2h0M1497.4 1450.9h0M1497.2 1448.9h0M1499.3 1419.5h0M1498.8 1490.7h0M1498.2 1441.2h0M1498.5 1433.9h0M1498.2 1490.1h0M1498.4 1441.9h0M1498.6 1458.5h0M1497.6 1499.7h0M1498.3 1424.8h0M1497.4 1465.1h0M1496.6 1475.3h0M1498.2 1473.8h0M1499.9 1446.2h0M1497.8 1455.2h0M1499.0 1466.9h0M1499.2 1489.1h0M1497.4 1450.3h0M1498.0 1501.3h0M1497.0 1493.5h0M1495.9 1450.1h0M1497.5 1482.8h0M1497.7 1478.6h0M1500.1 1417.4h0M1499.0 1473.9h0M1498.0 1475.0h0M1498.8 1500.9h0M1496.6 1404.4h0M1499.1 1466.6h0M1497.3 1462.6h0M1499.2 1468.8h0M1499.4 1433.7h0M1498.0 1454.4h0M1497.8 1499.5h0M1498.0 1443.7h0M1500.7 1488.6h0M1498.2 1479.0h0M1495.7 1499.1h0M1498.1 1439.6h0M1496.3 1488.5h0M1496.9 1454.8h0M1497.7 1458.2h0M1498.8 1452.8h0M1499.0 1476.0h0M1498.3 1429.4h0M1498.8 1460.6h0M1496.1 1457.4h0M1498.5 1460.9h0M1497.4 1455.3h0M1497.2 1491.4h0M1498.4 1479.7h0M1497.9 1493.8h0M1499.8 1486.9h0M1497.9 1483.3h0M1498.4 1414.9h0M1498.9 1498.2h0M1500.9 1458.8h0M1497.6 1437.8h0M1498.1 1448.0h0M1500.9 1463.4h0M1498.2 1482.1h0M1498.8 1426.7h0M1497.2 1482.1h0M1497.7 1488.7h0M1498.1 1456.3h0M1498.9 1471.2h0M1499.0 1439.8h0M1498.5 1497.0h0M1498.9 1412.6h0M1499.0 1485.9h0M1498.6 1465.0h0M1497.1 1471.0h0M1500.9 1426.2h0M1497.6 1450.8h0M1500.0 1428.7h0M1498.3 1451.0h0M1497.7 1482.5h0M1498.5 1448.9h0M1500.1 1445.1h0M1496.4 1446.1h0M1498.2 1476.2h0M1496.3 1435.2h0M1497.9 1427.2h0M1498.5 1464.5h0M1499.0 1464.8h0M1496.8 1414.6h0M1497.8 1468.4h0M1498.5 1421.4h0M1497.2 1459.6h0M1498.1 1466.4h0M1496.5 1450.0h0M1498.8 1469.0h0M1496.1 1484.0h0M1498.5 1437.6h0M1498.2 1447.4h0M1497.6 1450.2h0M1498.4 1459.4h0M1497.9 1438.0h0M1498.6 1473.0h0M1498.9 1492.0h0M1497.2 1474.7h0M1498.1 1468.2h0M1499.5 1436.1h0M1498.9 1431.8h0M1499.0 1476.4h0M1499.2 1432.0h0M1495.7 1460.8h0M1497.9 1427.2h0M1498.5 1419.3h0M1497.7 1483.0h0M1499.4 1416.0h0M1498.7 1384.6h0M1499.7 1378.4h0M1499.3 1377.9h0M1497.7 1406.5h0M1499.1 1376.5h0M1499.3 1392.0h0M1497.8 1388.6h0M1498.8 1397.4h0M1497.2 1398.7h0M1497.9 1387.4h0M1498.2 1398.1h0M1498.7 1404.8h0M1498.6 1384.7h0M1498.5 1402.6h0M1498.9 1398.9h0M1498.6 1384.2h0M1497.6 1409.9h0M1497.9 1398.3h0M1499.0 1379.9h0M1497.9 1389.9h0M1499.2 1374.4h0M1497.9 1360.8h0M1498.5 1405.7h0M1498.9 1406.6h0M1499.3 1385.9h0M1498.0 1378.6h0M1498.1 1403.7h0M1499.3 1397.3h0M1498.4 1370.5h0M1498.1 1384.2h0M1497.1 1380.4h0M1497.4 1389.6h0M1498.3 1373.0h0M1497.5 1378.8h0M1499.4 1381.9h0M1499.0 1402.6h0M1497.8 1391.5h0M1498.2 1366.1h0M1498.6 1392.1h0M1497.6 1380.5h0" stroke="#3a4a12" stroke-width="1.15" stroke-linecap="round" fill="none"/>
<path d="M1523.1 1516.0C1524.0 1515.4 1526.2 1513.8 1528.4 1512.2C1530.6 1510.6 1534.3 1508.6 1536.4 1506.5C1538.5 1504.4 1540.0 1505.7 1540.8 1499.4C1541.6 1493.1 1541.3 1477.6 1541.4 1468.5C1541.5 1459.5 1541.1 1452.7 1541.2 1444.8C1541.3 1436.9 1541.6 1428.2 1541.9 1421.1C1542.2 1414.0 1542.7 1407.7 1542.9 1402.1C1543.1 1396.6 1543.2 1390.3 1543.3 1387.9L1543.5 1387.9C1543.6 1390.3 1543.7 1396.6 1543.9 1402.1C1544.1 1407.7 1544.6 1414.0 1544.9 1421.1C1545.2 1428.2 1545.5 1436.9 1545.6 1444.8C1545.7 1452.7 1545.3 1459.5 1545.4 1468.5C1545.5 1477.6 1545.2 1493.1 1546.0 1499.4C1546.8 1505.7 1548.3 1504.4 1550.4 1506.5C1552.5 1508.6 1556.2 1510.6 1558.4 1512.2C1560.6 1513.8 1562.8 1515.4 1563.7 1516.0Z" fill="#7FAAD4" stroke="#333" stroke-width="0.6" stroke-linejoin="round"/>
<path d="M1543.4 1516.0V1362.3" stroke="#333" stroke-width="0.7"/>
<path d="M1542.4 1499.4C1542.3 1496.6 1541.8 1492.7 1541.7 1482.8C1541.6 1472.9 1541.6 1451.9 1541.7 1440.1C1541.8 1428.2 1542.1 1419.5 1542.4 1411.6C1542.6 1403.7 1543.0 1395.8 1543.1 1392.6L1543.7 1392.6C1543.8 1395.8 1544.2 1403.7 1544.4 1411.6C1544.7 1419.5 1545.0 1428.2 1545.1 1440.1C1545.2 1451.9 1545.2 1472.9 1545.1 1482.8C1545.0 1492.7 1544.5 1496.6 1544.4 1499.4Z" fill="#141414"/>
<path d="M1542.8 1425.0h0M1544.2 1501.5h0M1543.7 1477.3h0M1543.7 1419.9h0M1545.9 1457.7h0M1544.8 1490.6h0M1543.4 1432.7h0M1543.5 1498.7h0M1543.3 1468.2h0M1541.6 1452.9h0M1542.2 1419.4h0M1541.8 1457.8h0M1544.5 1461.4h0M1544.3 1453.6h0M1543.4 1500.8h0M1542.9 1441.3h0M1544.4 1473.3h0M1544.4 1468.5h0M1545.1 1458.7h0M1541.4 1430.1h0M1542.1 1487.7h0M1542.0 1463.0h0M1544.1 1447.7h0M1544.4 1459.4h0M1543.1 1468.5h0M1545.0 1482.2h0M1543.0 1461.2h0M1543.8 1449.6h0M1544.0 1417.7h0M1543.6 1462.4h0M1541.4 1432.5h0M1543.2 1438.9h0M1542.7 1427.3h0M1544.2 1463.4h0M1544.9 1469.1h0M1542.9 1470.2h0M1545.6 1491.2h0M1542.6 1482.1h0M1541.3 1424.2h0M1543.2 1469.6h0M1541.7 1429.6h0M1541.5 1484.1h0M1546.0 1461.3h0M1543.8 1463.3h0M1544.1 1462.9h0M1544.1 1465.7h0M1543.1 1475.4h0M1542.1 1416.4h0M1542.7 1430.2h0M1545.4 1404.5h0M1543.2 1451.7h0M1542.0 1475.2h0M1541.7 1459.1h0M1542.8 1470.1h0M1542.8 1429.2h0M1544.1 1480.1h0M1542.7 1499.1h0M1542.3 1442.4h0M1544.0 1455.4h0M1545.9 1491.2h0M1543.7 1429.9h0M1542.1 1423.2h0M1542.0 1461.0h0M1542.2 1479.3h0M1545.8 1457.5h0M1540.9 1422.9h0M1545.0 1478.1h0M1542.6 1463.5h0M1543.5 1431.2h0M1544.9 1437.8h0M1543.6 1419.8h0M1542.6 1501.2h0M1543.5 1477.2h0M1542.8 1421.4h0M1541.7 1489.8h0M1544.0 1476.8h0M1542.7 1495.0h0M1542.8 1419.2h0M1541.9 1491.9h0M1542.7 1497.8h0M1545.0 1430.8h0M1543.3 1439.9h0M1544.5 1484.3h0M1544.9 1457.2h0M1543.4 1421.7h0M1545.3 1409.2h0M1544.1 1432.6h0M1542.8 1462.1h0M1543.1 1468.0h0M1541.3 1425.1h0M1544.0 1450.5h0M1542.6 1442.5h0M1544.1 1460.7h0M1540.8 1491.1h0M1543.6 1450.8h0M1545.6 1490.7h0M1541.3 1491.6h0M1545.4 1449.5h0M1541.9 1475.0h0M1544.5 1424.4h0M1543.3 1411.3h0M1543.4 1474.7h0M1543.9 1438.2h0M1542.2 1434.9h0M1544.4 1488.0h0M1544.3 1462.8h0M1543.3 1424.9h0M1543.0 1487.8h0M1543.5 1408.2h0M1545.8 1463.2h0M1543.7 1450.4h0M1542.1 1440.0h0M1542.6 1479.5h0M1543.8 1455.2h0M1545.6 1449.6h0M1543.3 1431.0h0M1543.0 1437.1h0M1543.1 1463.9h0M1542.0 1412.6h0M1541.2 1497.4h0M1544.1 1418.1h0M1544.0 1412.6h0M1543.1 1459.6h0M1544.8 1472.1h0M1542.4 1499.5h0M1542.4 1444.9h0M1543.2 1461.9h0M1542.1 1497.4h0M1541.0 1440.3h0M1544.2 1392.7h0M1542.6 1396.8h0M1544.9 1435.2h0M1544.4 1479.2h0M1544.2 1496.8h0M1541.4 1446.2h0M1541.9 1491.1h0M1542.8 1452.1h0M1545.7 1455.0h0M1542.5 1421.8h0M1544.5 1486.2h0M1544.4 1475.8h0M1543.9 1492.0h0M1542.7 1463.7h0M1542.6 1415.6h0M1543.5 1495.2h0M1542.4 1411.2h0M1543.4 1461.5h0M1543.2 1440.3h0M1543.6 1492.2h0M1541.8 1485.0h0M1544.5 1448.0h0M1544.0 1452.2h0M1543.6 1439.6h0M1543.3 1448.2h0M1542.5 1440.6h0M1544.9 1470.9h0M1543.4 1459.0h0M1543.1 1461.9h0M1543.1 1482.1h0M1543.2 1493.2h0M1543.0 1456.4h0M1544.7 1459.2h0M1542.4 1437.9h0M1544.7 1491.4h0M1543.0 1492.7h0M1545.2 1464.6h0M1541.7 1416.6h0M1544.3 1486.6h0M1541.8 1481.0h0M1543.5 1475.7h0M1540.8 1421.7h0M1543.0 1453.7h0M1545.2 1460.3h0M1543.5 1441.7h0M1544.1 1463.3h0M1544.2 1420.7h0M1544.7 1476.2h0M1544.8 1439.1h0M1542.3 1422.6h0M1544.3 1481.6h0M1543.8 1407.6h0M1543.7 1424.9h0M1543.0 1434.4h0M1542.1 1460.3h0M1543.5 1450.5h0M1542.5 1420.6h0M1543.2 1483.5h0M1540.8 1479.7h0M1543.3 1455.4h0M1545.3 1473.5h0M1544.2 1472.8h0M1543.5 1421.1h0M1543.8 1412.8h0M1543.2 1425.4h0M1544.0 1465.9h0M1542.4 1476.6h0M1541.1 1494.8h0M1543.2 1430.6h0M1543.2 1441.6h0M1544.0 1431.0h0M1544.0 1418.8h0M1543.1 1483.8h0M1543.3 1439.7h0M1543.6 1464.1h0M1543.0 1491.5h0M1542.8 1459.1h0M1541.8 1481.3h0M1542.0 1453.2h0M1542.3 1436.4h0M1542.0 1463.0h0M1542.8 1486.5h0M1546.0 1434.6h0M1546.0 1467.6h0M1543.9 1499.7h0M1544.7 1468.1h0M1542.2 1498.0h0M1543.8 1411.3h0M1541.2 1457.8h0M1544.9 1485.2h0M1542.1 1438.5h0M1541.8 1425.9h0M1542.8 1429.1h0M1544.2 1437.3h0M1544.0 1461.5h0M1546.0 1436.7h0M1545.6 1412.9h0M1543.6 1472.1h0M1542.3 1479.3h0M1543.1 1418.6h0M1544.4 1460.6h0M1543.2 1427.6h0M1543.8 1470.2h0M1544.8 1426.7h0M1544.8 1470.0h0M1543.5 1443.5h0M1543.4 1487.2h0M1543.2 1475.6h0M1541.3 1487.5h0M1543.3 1455.1h0M1543.5 1418.2h0M1544.8 1427.4h0M1545.4 1438.1h0M1543.3 1498.3h0M1543.3 1445.5h0M1542.7 1419.7h0M1542.0 1500.4h0M1544.3 1424.1h0M1543.0 1468.4h0M1544.3 1495.9h0M1543.3 1490.6h0M1544.7 1493.8h0M1544.7 1470.9h0M1543.9 1438.5h0M1542.3 1499.3h0M1541.0 1493.6h0M1542.2 1464.5h0M1541.7 1437.2h0M1542.6 1429.9h0M1545.6 1415.1h0M1545.7 1472.1h0M1543.0 1394.9h0M1542.2 1387.4h0M1543.3 1381.4h0M1544.0 1376.5h0M1543.7 1403.8h0M1544.3 1388.2h0M1543.8 1376.4h0M1543.7 1380.1h0M1542.9 1392.9h0M1544.3 1398.1h0M1544.1 1371.3h0M1544.0 1389.4h0M1544.0 1371.9h0M1543.6 1386.0h0M1544.3 1380.2h0M1544.3 1381.4h0M1543.1 1376.3h0M1542.8 1397.9h0M1542.2 1388.2h0M1543.7 1392.9h0M1543.5 1404.1h0M1543.4 1405.4h0M1544.2 1376.5h0M1543.3 1391.4h0M1542.4 1400.1h0M1542.7 1373.9h0M1543.6 1376.4h0M1543.7 1397.8h0M1543.3 1398.0h0M1543.1 1369.1h0M1543.1 1400.2h0M1543.5 1399.4h0M1543.2 1401.4h0M1542.7 1399.6h0M1542.8 1383.3h0M1543.9 1406.3h0M1543.5 1392.8h0M1543.8 1396.5h0M1543.1 1373.0h0M1543.7 1388.2h0" stroke="#111" stroke-width="1.15" stroke-linecap="round" fill="none"/>
<path d="M1567.5 1516.0C1568.2 1515.4 1569.9 1513.8 1571.8 1512.2C1573.7 1510.6 1576.8 1509.0 1578.8 1506.5C1580.8 1504.1 1583.1 1501.4 1583.8 1497.5C1584.5 1493.5 1583.4 1488.4 1582.8 1482.8C1582.2 1477.2 1581.0 1470.9 1580.3 1463.8C1579.6 1456.7 1578.8 1447.2 1578.8 1440.1C1578.8 1433.0 1579.5 1428.2 1580.3 1421.1C1581.1 1414.0 1582.9 1404.1 1583.8 1397.4C1584.7 1390.7 1585.1 1387.1 1585.8 1380.8C1586.5 1374.4 1587.4 1363.0 1587.7 1359.4L1587.9 1359.4C1588.2 1363.0 1589.1 1374.4 1589.8 1380.8C1590.5 1387.1 1590.9 1390.7 1591.8 1397.4C1592.7 1404.1 1594.5 1414.0 1595.3 1421.1C1596.1 1428.2 1596.8 1433.0 1596.8 1440.1C1596.8 1447.2 1596.0 1456.7 1595.3 1463.8C1594.6 1470.9 1593.4 1477.2 1592.8 1482.8C1592.2 1488.4 1591.1 1493.5 1591.8 1497.5C1592.5 1501.4 1594.8 1504.1 1596.8 1506.5C1598.8 1509.0 1601.9 1510.6 1603.8 1512.2C1605.7 1513.8 1607.4 1515.4 1608.1 1516.0Z" fill="#EF7A64" stroke="#333" stroke-width="0.6" stroke-linejoin="round"/>
<path d="M1587.8 1516.0V1342.8" stroke="#333" stroke-width="0.7"/>
<path d="M1586.5 1499.4C1586.4 1495.8 1585.8 1489.5 1585.6 1478.0C1585.4 1466.6 1585.3 1444.0 1585.4 1430.6C1585.5 1417.1 1585.8 1406.9 1586.1 1397.4C1586.4 1387.9 1587.2 1377.6 1587.4 1373.7L1588.2 1373.7C1588.4 1377.6 1589.2 1387.9 1589.5 1397.4C1589.8 1406.9 1590.1 1417.1 1590.2 1430.6C1590.3 1444.0 1590.2 1466.6 1590.0 1478.0C1589.8 1489.5 1589.2 1495.8 1589.1 1499.4Z" fill="#141414"/>
<path d="M1588.0 1489.8h0M1587.8 1479.7h0M1588.2 1465.6h0M1589.4 1447.6h0M1589.0 1492.9h0M1587.5 1481.6h0M1588.2 1439.4h0M1586.0 1397.3h0M1588.5 1421.3h0M1587.7 1389.9h0M1588.7 1484.4h0M1590.5 1481.9h0M1589.3 1495.8h0M1586.8 1447.7h0M1591.1 1472.6h0M1587.2 1462.8h0M1586.6 1457.0h0M1588.0 1408.6h0M1588.3 1416.2h0M1586.6 1458.6h0M1590.8 1456.0h0M1587.7 1447.8h0M1584.7 1447.2h0M1589.6 1414.4h0M1587.4 1458.5h0M1589.3 1459.7h0M1588.3 1472.3h0M1586.8 1402.8h0M1585.6 1462.2h0M1590.5 1409.5h0M1586.5 1476.7h0M1587.1 1421.4h0M1587.4 1467.7h0M1587.5 1447.5h0M1586.7 1472.5h0M1585.5 1389.1h0M1588.1 1450.6h0M1588.1 1437.1h0M1588.3 1473.2h0M1587.5 1444.2h0M1588.2 1403.8h0M1587.7 1473.2h0M1588.6 1373.9h0M1586.8 1496.3h0M1588.5 1457.9h0M1589.7 1466.9h0M1587.9 1399.9h0M1587.4 1468.5h0M1585.7 1482.0h0M1589.2 1405.2h0M1589.2 1390.7h0M1587.7 1490.3h0M1588.5 1479.5h0M1586.5 1445.1h0M1585.7 1423.5h0M1588.1 1476.8h0M1585.5 1411.0h0M1586.4 1441.6h0M1588.9 1497.7h0M1587.8 1484.3h0M1588.0 1375.8h0M1589.6 1450.5h0M1587.2 1445.7h0M1588.2 1408.6h0M1587.8 1414.8h0M1586.3 1471.6h0M1586.1 1441.7h0M1588.0 1475.7h0M1587.2 1479.3h0M1587.1 1445.3h0M1586.3 1454.2h0M1586.7 1380.5h0M1587.2 1448.6h0M1585.6 1419.0h0M1588.3 1435.6h0M1587.4 1458.1h0M1587.8 1453.4h0M1590.2 1488.4h0M1586.7 1382.6h0M1587.3 1481.3h0M1590.0 1421.9h0M1588.6 1420.6h0M1588.0 1499.7h0M1586.7 1412.4h0M1587.9 1402.4h0M1587.3 1468.0h0M1588.6 1443.3h0M1590.6 1433.0h0M1587.4 1443.8h0M1588.9 1472.0h0M1586.2 1422.6h0M1587.7 1416.9h0M1587.9 1437.4h0M1588.5 1468.4h0M1589.1 1475.0h0M1588.6 1377.7h0M1588.1 1409.3h0M1585.4 1478.7h0M1587.9 1452.9h0M1587.8 1387.0h0M1588.8 1451.8h0M1588.0 1434.9h0M1586.9 1476.1h0M1588.2 1477.7h0M1589.3 1489.4h0M1587.2 1493.7h0M1587.8 1414.4h0M1587.3 1406.4h0M1589.4 1435.8h0M1591.0 1488.9h0M1588.0 1405.2h0M1589.0 1418.3h0M1586.1 1431.4h0M1588.0 1455.3h0M1589.4 1441.3h0M1586.8 1486.0h0M1589.4 1458.1h0M1587.7 1423.2h0M1589.2 1429.7h0M1587.7 1472.1h0M1588.1 1447.1h0M1587.1 1431.5h0M1588.8 1426.8h0M1585.9 1483.6h0M1584.6 1411.6h0M1589.4 1432.8h0M1585.4 1496.7h0M1586.7 1445.3h0M1586.2 1419.0h0M1586.9 1462.8h0M1590.0 1395.2h0M1587.2 1390.9h0M1586.2 1462.2h0M1586.8 1382.2h0M1584.4 1420.5h0M1589.7 1439.8h0M1587.1 1423.4h0M1588.8 1444.6h0M1586.5 1495.9h0M1585.8 1443.3h0M1589.9 1454.3h0M1585.6 1461.8h0M1586.7 1424.6h0M1585.5 1381.5h0M1586.3 1415.6h0M1585.7 1478.0h0M1585.3 1422.4h0M1590.0 1481.4h0M1585.1 1494.9h0M1585.8 1461.8h0M1586.1 1414.2h0M1587.1 1409.5h0M1589.7 1395.2h0M1588.0 1488.5h0M1590.7 1445.6h0M1588.2 1467.0h0M1589.9 1455.2h0M1589.6 1494.9h0M1587.4 1415.7h0M1588.1 1439.7h0M1589.6 1416.0h0M1588.0 1398.6h0M1587.3 1439.0h0M1588.6 1387.3h0M1590.6 1380.7h0M1588.1 1436.8h0M1589.0 1456.2h0M1586.7 1482.0h0M1588.1 1448.2h0M1585.8 1380.9h0M1588.0 1452.5h0M1587.9 1405.0h0M1588.2 1417.7h0M1590.3 1433.7h0M1588.5 1446.0h0M1586.4 1419.2h0M1588.4 1400.4h0M1587.0 1477.7h0M1587.3 1439.0h0M1588.9 1449.7h0M1588.9 1408.9h0M1587.4 1412.3h0M1589.6 1422.9h0M1586.7 1449.1h0M1587.0 1476.8h0M1586.1 1445.7h0M1587.4 1396.2h0M1587.8 1462.5h0M1588.3 1408.4h0M1589.0 1465.4h0M1589.8 1461.4h0M1589.6 1418.1h0M1586.5 1445.6h0M1588.7 1422.8h0M1586.9 1472.4h0M1587.7 1458.5h0M1587.1 1491.2h0M1586.8 1482.9h0M1587.5 1403.2h0M1586.9 1402.2h0M1587.4 1462.0h0M1586.2 1401.4h0M1587.6 1477.0h0M1585.6 1469.2h0M1585.6 1461.8h0M1587.9 1391.6h0M1586.9 1370.9h0M1590.9 1486.3h0M1586.7 1477.6h0M1588.6 1494.3h0M1588.0 1489.2h0M1586.0 1409.3h0M1589.4 1462.1h0M1589.9 1415.1h0M1586.7 1461.9h0M1588.5 1461.5h0M1589.1 1489.7h0M1588.4 1389.1h0M1586.6 1475.4h0M1585.5 1496.4h0M1590.5 1448.1h0M1586.2 1398.9h0M1589.1 1459.9h0M1585.7 1430.4h0M1587.9 1438.0h0M1586.9 1486.5h0M1590.1 1432.1h0M1586.1 1488.0h0M1587.1 1457.8h0M1587.8 1393.4h0M1589.1 1426.9h0M1587.8 1410.6h0M1586.0 1440.4h0M1589.0 1392.4h0M1587.1 1500.4h0M1587.3 1384.6h0M1588.4 1444.7h0M1586.9 1441.6h0M1586.8 1482.2h0M1587.8 1437.4h0M1587.8 1404.1h0M1587.9 1436.0h0M1588.4 1475.2h0M1589.0 1466.5h0M1586.6 1459.2h0M1587.6 1438.9h0M1588.9 1422.2h0M1586.7 1495.5h0M1588.2 1435.6h0M1585.1 1422.5h0M1586.0 1416.5h0M1587.6 1485.7h0M1590.3 1385.6h0M1586.5 1412.5h0M1588.2 1495.4h0M1587.2 1393.7h0M1590.4 1437.4h0M1585.3 1471.3h0M1586.8 1480.3h0M1586.2 1441.2h0M1587.1 1464.2h0M1586.5 1434.7h0M1587.6 1381.1h0M1590.8 1450.0h0M1588.6 1453.0h0M1588.0 1463.9h0M1589.1 1492.1h0M1584.8 1381.9h0M1587.4 1452.6h0M1588.0 1434.4h0M1587.5 1390.2h0M1588.4 1479.4h0M1587.2 1462.6h0M1585.8 1429.1h0M1588.1 1422.5h0M1585.4 1482.2h0M1589.8 1395.4h0M1587.6 1397.1h0M1587.9 1494.8h0M1587.3 1489.3h0M1584.7 1405.1h0M1590.0 1480.8h0M1587.8 1422.1h0M1591.2 1431.0h0M1588.5 1482.8h0M1587.7 1417.7h0M1588.4 1395.1h0M1587.3 1438.8h0M1587.3 1390.5h0M1588.2 1471.6h0M1588.5 1492.4h0M1590.2 1460.5h0M1586.8 1394.7h0M1586.8 1492.4h0M1587.3 1392.4h0M1588.9 1482.6h0M1587.5 1462.5h0M1587.4 1477.8h0M1588.0 1492.6h0M1588.5 1484.1h0M1586.4 1353.4h0M1586.2 1367.2h0M1588.0 1367.2h0M1589.1 1366.9h0M1587.1 1359.1h0M1587.8 1360.2h0M1586.3 1369.3h0M1588.7 1357.4h0M1588.9 1361.7h0M1587.3 1369.1h0M1587.5 1377.7h0M1589.4 1360.6h0M1587.8 1349.1h0M1588.5 1377.0h0M1587.4 1358.5h0M1587.6 1373.4h0M1587.5 1356.4h0M1586.9 1357.5h0M1587.8 1378.0h0M1587.6 1360.8h0M1586.4 1357.8h0M1587.8 1358.2h0M1587.7 1368.8h0M1587.4 1367.3h0M1587.5 1355.1h0M1587.5 1367.0h0M1587.0 1365.8h0M1587.2 1348.5h0M1587.7 1357.8h0M1587.7 1375.8h0" stroke="#111" stroke-width="1.15" stroke-linecap="round" fill="none"/>
<path d="M1580.8 1467.1h14.0" stroke="#fff" stroke-width="1.9"/>
<path d="M1471.4 1308.5V1516.0M1470.8000000000002 1516.0H1614.5M1498.3 1516.0v3.2M1543.4 1516.0v3.2M1587.8 1516.0v3.2M1465.8000000000002 1516.0H1471.4M1465.8000000000002 1421.1H1471.4M1465.8000000000002 1326.2H1471.4" stroke="#000" stroke-width="1.35" fill="none"/>
<text transform="translate(1464.80,1523.40)" font-size="19.00" text-anchor="end">0</text>
<text transform="translate(1464.80,1428.50)" font-size="19.00" text-anchor="end">2</text>
<text transform="translate(1464.80,1333.60)" font-size="19.00" text-anchor="end">4</text>
<text transform="translate(1445.90,1402.30) rotate(-90)" font-size="21.00" text-anchor="middle" font-style="italic">SELP</text>
<text transform="translate(1542.50,1231.90) scale(1.0200,1)" font-size="22.00" text-anchor="middle">Venous</text>
<text transform="translate(1542.50,1258.20) scale(1.0200,1)" font-size="22.00" text-anchor="middle">(<tspan font-style="italic">ACKR1</tspan>)</text>
<path d="M1496.7 1298.5V1288.3H1589.4V1298.5M1496.7 1322.9V1316.4H1589.4V1322.9" stroke="#111" stroke-width="1.8" fill="none"/>
<path d="M1542.9 1315.8000000000002V1320.9" stroke="#111" stroke-width="2.6" fill="none"/>
<text transform="translate(1547.85,1282.50) scale(0.8717,1)" font-size="19.60" text-anchor="middle">7.1 × 10<tspan font-size="12.15" dy="-7.06">–44</tspan><tspan dy="7.06">&#8203;</tspan></text>
<text transform="translate(1518.60,1313.30) scale(0.8767,1)" font-size="19.60" text-anchor="middle">0.019</text>
<text transform="translate(1580.35,1313.30) scale(0.8484,1)" font-size="19.60" text-anchor="middle">3 × 10<tspan font-size="12.15" dy="-7.06">–80</tspan><tspan dy="7.06">&#8203;</tspan></text>
<path d="M1687.7 1516.0V1433.7" stroke="#333" stroke-width="0.7"/>
<path d="M1688.3 1485.8h0M1688.4 1478.5h0M1689.2 1484.7h0M1689.5 1469.7h0M1687.4 1450.6h0M1688.6 1460.3h0M1688.4 1451.3h0M1688.2 1472.4h0M1689.1 1482.0h0M1687.0 1472.7h0" stroke="#111" stroke-width="1.15" stroke-linecap="round" fill="none"/>
<path d="M1732.1 1516.0V1349.4" stroke="#333" stroke-width="0.7"/>
<path d="M1731.9 1426.0h0M1731.2 1462.7h0M1731.9 1492.9h0M1731.6 1386.5h0M1732.6 1486.5h0M1732.5 1476.1h0M1733.8 1424.8h0M1733.9 1469.1h0M1732.9 1414.8h0M1732.8 1467.1h0M1732.9 1466.3h0M1733.4 1438.9h0M1733.7 1458.0h0M1731.4 1460.2h0M1729.9 1472.3h0M1730.2 1427.2h0M1732.0 1491.0h0M1729.7 1452.6h0M1731.8 1437.7h0M1731.3 1468.6h0M1733.5 1454.7h0M1731.6 1451.8h0M1732.5 1418.8h0M1731.4 1414.1h0M1733.2 1404.9h0M1730.8 1447.1h0M1733.8 1470.3h0M1733.2 1461.8h0M1732.5 1488.2h0M1732.8 1410.2h0M1732.0 1488.8h0M1731.7 1488.5h0M1733.6 1428.0h0M1732.5 1456.0h0M1729.9 1490.2h0M1731.3 1460.6h0M1731.2 1438.9h0M1732.7 1474.6h0M1734.2 1468.3h0M1731.5 1442.4h0M1732.5 1441.6h0M1733.5 1487.1h0M1733.4 1435.3h0M1732.2 1444.9h0M1733.2 1428.1h0M1732.6 1426.1h0M1729.8 1411.2h0M1732.0 1387.9h0M1732.7 1482.6h0M1734.7 1493.2h0M1731.5 1460.9h0M1732.4 1475.9h0M1731.9 1457.9h0M1732.3 1441.0h0M1733.0 1430.3h0M1732.1 1490.7h0M1729.5 1454.0h0M1731.1 1437.8h0M1730.5 1456.2h0M1732.5 1442.9h0M1729.7 1450.6h0M1729.5 1431.9h0M1731.4 1402.9h0M1732.6 1460.6h0M1731.4 1394.8h0M1732.5 1495.5h0M1732.5 1441.6h0M1732.4 1397.7h0M1733.0 1472.4h0M1733.9 1401.9h0M1733.1 1434.0h0M1733.0 1447.9h0M1731.8 1417.1h0M1733.9 1465.8h0M1731.7 1429.2h0M1732.8 1489.2h0M1732.3 1470.9h0M1733.7 1483.0h0M1732.6 1493.5h0M1732.3 1435.5h0M1733.0 1474.2h0M1730.9 1475.4h0M1732.4 1479.7h0M1732.4 1402.4h0M1730.4 1434.3h0M1733.8 1487.9h0M1732.7 1461.7h0M1733.5 1460.0h0M1731.7 1414.5h0M1730.3 1449.0h0M1733.0 1416.0h0M1733.9 1460.5h0M1732.2 1398.3h0M1733.6 1465.5h0M1733.3 1426.3h0M1732.5 1470.0h0M1730.6 1433.1h0M1731.0 1473.0h0M1730.0 1487.0h0M1730.4 1415.7h0M1731.0 1486.0h0M1733.4 1428.4h0M1730.2 1454.5h0M1730.0 1454.4h0M1733.3 1416.2h0M1731.8 1435.6h0M1733.9 1444.5h0M1731.2 1449.7h0M1731.0 1474.2h0M1732.3 1483.0h0M1732.4 1423.3h0M1731.7 1409.7h0M1733.8 1413.2h0M1732.0 1461.3h0M1731.3 1402.4h0M1731.0 1456.1h0M1734.5 1462.6h0M1732.0 1493.6h0M1731.2 1417.1h0M1733.0 1457.0h0M1733.6 1482.8h0M1731.5 1445.3h0M1732.0 1451.4h0M1732.9 1399.7h0M1732.1 1421.5h0M1733.0 1462.7h0M1732.4 1416.1h0M1732.9 1463.0h0M1732.0 1418.2h0M1733.3 1490.2h0M1732.5 1477.6h0M1733.1 1491.8h0M1732.7 1388.2h0M1732.2 1437.8h0M1733.5 1449.9h0M1732.7 1450.3h0M1732.9 1475.2h0M1732.4 1450.1h0M1730.8 1491.2h0M1730.4 1485.8h0M1731.4 1402.5h0M1731.8 1487.1h0M1731.3 1442.9h0M1731.5 1485.2h0M1731.1 1433.7h0M1731.4 1492.3h0M1731.3 1401.6h0M1729.8 1450.3h0M1731.9 1400.4h0M1730.9 1480.0h0M1731.2 1470.1h0M1733.5 1411.4h0M1732.9 1426.5h0M1732.0 1422.1h0M1731.7 1461.1h0M1731.3 1458.0h0M1731.4 1471.6h0M1733.0 1394.3h0M1731.7 1437.9h0M1729.5 1400.9h0M1733.3 1417.6h0M1732.1 1445.1h0M1731.2 1385.4h0M1731.9 1434.9h0M1731.1 1488.6h0M1733.7 1448.8h0M1731.2 1424.0h0M1731.0 1404.9h0M1733.7 1493.9h0M1732.6 1457.4h0M1733.8 1408.6h0M1732.4 1469.3h0M1730.1 1483.5h0M1731.7 1446.6h0M1732.0 1449.2h0M1733.5 1488.7h0M1732.8 1470.2h0M1734.7 1492.3h0M1732.8 1490.2h0M1731.7 1474.4h0M1732.6 1479.9h0M1731.9 1442.9h0M1733.8 1436.0h0M1731.3 1418.8h0M1734.7 1429.5h0M1732.0 1493.5h0M1732.0 1411.9h0M1732.9 1489.5h0M1732.4 1422.9h0M1731.3 1417.9h0M1732.5 1430.1h0M1732.2 1444.7h0M1730.1 1445.3h0M1731.2 1461.1h0M1732.7 1450.6h0M1732.9 1449.8h0M1731.1 1405.4h0M1733.3 1432.0h0M1733.2 1492.3h0M1730.9 1430.3h0M1730.8 1485.1h0M1732.8 1405.3h0M1731.8 1398.2h0M1731.9 1448.7h0M1732.1 1460.9h0M1732.1 1468.4h0M1731.6 1464.2h0M1732.0 1488.2h0M1732.1 1419.7h0M1732.9 1421.0h0M1732.7 1476.9h0M1732.9 1466.7h0M1733.6 1467.3h0M1732.5 1465.7h0M1730.0 1478.4h0M1731.5 1448.1h0M1732.7 1458.7h0M1731.6 1478.4h0M1730.4 1446.3h0M1732.1 1494.0h0M1732.3 1475.3h0M1734.1 1486.7h0M1730.9 1440.9h0M1732.6 1454.4h0M1732.0 1431.6h0M1732.1 1429.0h0M1730.6 1481.1h0M1731.4 1408.5h0M1731.3 1458.3h0M1731.3 1405.7h0M1730.2 1440.2h0M1732.3 1489.1h0M1731.2 1443.0h0M1732.6 1444.4h0M1732.1 1464.9h0M1731.2 1402.0h0M1731.2 1431.4h0M1732.9 1463.2h0M1731.6 1433.7h0M1732.3 1444.5h0M1730.8 1452.3h0M1731.9 1429.3h0M1733.2 1391.8h0M1732.6 1474.9h0M1734.1 1396.1h0M1731.1 1452.9h0M1730.3 1442.5h0M1732.1 1439.5h0M1730.9 1481.7h0M1732.1 1389.4h0M1731.3 1417.5h0M1734.4 1442.8h0M1732.0 1459.9h0M1732.9 1407.8h0M1731.4 1467.7h0M1732.7 1431.7h0M1731.3 1438.3h0M1731.3 1423.0h0M1733.4 1394.9h0M1733.1 1435.7h0M1734.1 1434.4h0M1732.5 1472.3h0M1731.5 1489.2h0M1730.5 1475.5h0M1731.8 1482.1h0M1732.6 1438.4h0M1731.6 1397.6h0M1730.7 1468.2h0M1731.5 1411.9h0M1729.7 1416.3h0M1730.8 1440.2h0M1732.5 1461.8h0M1732.7 1404.2h0M1731.4 1434.6h0M1730.4 1454.7h0M1734.2 1472.1h0M1734.3 1402.9h0M1731.7 1484.3h0M1730.7 1475.8h0M1734.1 1389.1h0M1732.2 1439.4h0M1729.5 1435.5h0M1733.8 1455.7h0M1732.0 1459.3h0M1731.3 1422.3h0M1732.7 1410.1h0M1730.7 1476.0h0M1732.2 1405.9h0M1731.9 1444.2h0M1732.4 1493.7h0M1731.2 1391.8h0M1732.2 1485.6h0M1732.0 1422.6h0M1732.4 1478.7h0M1729.6 1491.1h0M1732.8 1491.2h0M1732.1 1467.8h0M1734.0 1415.6h0M1733.6 1477.4h0M1730.4 1435.1h0M1732.4 1431.2h0M1732.1 1399.2h0M1730.9 1452.4h0M1734.1 1435.3h0M1733.0 1431.3h0M1732.1 1434.3h0M1731.7 1486.0h0M1730.6 1481.5h0M1732.9 1397.6h0M1731.1 1471.9h0M1733.6 1466.7h0M1732.1 1440.9h0M1730.9 1430.0h0M1733.4 1481.6h0M1731.6 1453.1h0M1731.5 1455.8h0M1732.0 1466.4h0M1731.5 1415.2h0M1732.1 1387.6h0M1733.7 1446.2h0M1734.3 1464.3h0M1732.2 1420.8h0M1734.0 1405.9h0M1731.7 1486.7h0M1732.9 1471.9h0M1731.5 1396.3h0M1730.9 1415.8h0M1731.0 1476.6h0M1732.8 1479.3h0M1734.0 1425.8h0M1731.7 1487.3h0M1732.0 1494.4h0M1731.3 1484.9h0M1731.7 1481.3h0M1731.6 1448.8h0M1731.3 1495.4h0M1729.5 1435.1h0M1731.2 1390.8h0M1731.8 1483.3h0M1730.5 1448.6h0M1731.4 1452.0h0M1731.6 1466.4h0M1732.1 1430.5h0M1734.4 1430.9h0M1730.9 1422.6h0M1730.8 1447.7h0M1731.6 1410.0h0M1731.9 1467.9h0M1731.1 1485.2h0M1731.5 1451.7h0M1730.8 1457.8h0M1732.6 1455.4h0M1733.0 1471.2h0M1732.9 1473.4h0M1732.0 1448.8h0M1733.7 1420.5h0M1731.9 1450.0h0M1732.1 1419.4h0M1733.4 1430.8h0M1733.2 1440.7h0M1732.1 1407.2h0M1732.8 1454.7h0M1730.4 1392.3h0M1732.3 1436.4h0M1731.6 1450.1h0M1732.7 1489.8h0M1732.3 1470.2h0M1734.6 1444.9h0M1732.0 1440.9h0M1731.5 1451.2h0M1733.0 1442.0h0M1732.0 1391.1h0M1734.7 1438.9h0M1731.4 1489.0h0M1732.5 1435.6h0M1732.1 1468.6h0M1732.0 1422.8h0M1731.2 1455.2h0M1730.4 1466.1h0M1733.4 1465.7h0M1731.6 1437.8h0M1733.6 1490.7h0M1734.1 1392.1h0M1733.2 1427.2h0M1732.5 1444.2h0M1732.9 1465.3h0M1731.7 1426.4h0M1732.1 1399.6h0M1732.7 1495.6h0M1732.2 1471.5h0M1730.4 1441.5h0M1732.5 1451.6h0M1731.7 1460.5h0M1733.2 1432.5h0M1733.1 1428.7h0M1732.4 1418.8h0M1732.3 1434.2h0M1732.5 1425.8h0M1733.5 1392.9h0M1732.6 1409.7h0M1730.8 1485.9h0M1732.2 1452.0h0M1731.5 1482.3h0M1730.0 1458.4h0M1733.4 1485.2h0M1732.0 1428.3h0M1734.3 1464.2h0M1730.4 1438.7h0M1730.5 1445.8h0M1732.3 1451.9h0M1730.5 1399.6h0M1730.8 1475.7h0M1731.1 1469.7h0M1732.7 1477.5h0M1731.8 1480.4h0M1732.4 1426.3h0M1731.0 1475.3h0M1732.3 1443.1h0M1730.6 1407.6h0M1732.6 1451.9h0M1732.5 1391.8h0M1732.3 1371.5h0M1733.6 1378.6h0M1732.6 1372.9h0M1733.1 1365.3h0M1731.1 1360.6h0M1733.1 1370.3h0M1732.2 1394.5h0M1732.7 1389.5h0M1733.0 1375.1h0M1732.8 1375.1h0M1732.0 1387.0h0M1732.1 1391.7h0M1731.6 1388.0h0M1733.0 1375.2h0M1732.6 1372.0h0M1731.9 1364.1h0M1732.8 1357.4h0M1732.8 1389.5h0M1730.4 1360.5h0M1732.5 1393.8h0M1732.6 1373.7h0M1732.1 1394.4h0M1732.7 1390.5h0M1731.6 1387.4h0M1732.9 1376.3h0M1731.2 1355.1h0M1732.1 1371.1h0M1730.5 1380.2h0M1731.8 1383.3h0M1732.5 1383.6h0M1732.1 1386.1h0M1732.9 1391.0h0M1733.9 1386.3h0M1732.2 1367.8h0M1732.0 1368.1h0M1731.9 1374.0h0M1733.0 1362.6h0M1733.5 1383.4h0M1733.8 1392.4h0M1731.8 1371.7h0M1731.9 1362.6h0M1731.6 1392.8h0M1730.6 1362.6h0M1730.5 1376.3h0M1732.3 1377.9h0M1732.1 1389.6h0M1731.6 1380.0h0M1731.0 1359.2h0M1732.4 1386.9h0M1733.0 1390.4h0M1731.7 1387.1h0M1732.0 1382.6h0M1732.0 1396.7h0M1731.3 1367.7h0M1732.4 1361.0h0M1732.6 1379.0h0M1732.5 1390.0h0M1731.4 1389.7h0M1732.2 1366.3h0" stroke="#111" stroke-width="1.15" stroke-linecap="round" fill="none"/>
<path d="M1756.2 1516.0C1757.0 1515.4 1759.2 1514.0 1761.2 1512.6C1763.2 1511.2 1766.2 1510.1 1768.2 1507.6C1770.2 1505.0 1772.5 1502.8 1773.2 1497.5C1773.9 1492.1 1772.7 1483.7 1772.2 1475.5C1771.7 1467.4 1770.8 1455.6 1770.4 1448.6C1770.0 1441.5 1769.9 1439.0 1770.0 1433.4C1770.1 1427.8 1770.5 1422.4 1771.2 1414.8C1771.9 1407.3 1773.2 1395.2 1773.9 1387.9C1774.6 1380.6 1774.8 1376.1 1775.3 1371.0C1775.8 1365.9 1776.8 1359.8 1777.1 1357.5L1777.3 1357.5C1777.6 1359.8 1778.6 1365.9 1779.1 1371.0C1779.6 1376.1 1779.8 1380.6 1780.5 1387.9C1781.2 1395.2 1782.5 1407.3 1783.2 1414.8C1783.9 1422.4 1784.3 1427.8 1784.4 1433.4C1784.5 1439.0 1784.4 1441.5 1784.0 1448.6C1783.6 1455.6 1782.7 1467.4 1782.2 1475.5C1781.7 1483.7 1780.5 1492.1 1781.2 1497.5C1781.9 1502.8 1784.2 1505.0 1786.2 1507.6C1788.2 1510.1 1791.2 1511.2 1793.2 1512.6C1795.2 1514.0 1797.4 1515.4 1798.2 1516.0Z" fill="#EF7A64" stroke="#333" stroke-width="0.6" stroke-linejoin="round"/>
<path d="M1777.2 1516.0V1342.0" stroke="#333" stroke-width="0.7"/>
<path d="M1776.2 1492.4C1776.0 1489.6 1775.2 1488.5 1775.0 1475.5C1774.8 1462.6 1774.7 1429.5 1774.8 1414.8C1774.9 1400.2 1775.3 1395.7 1775.7 1387.9C1776.0 1380.0 1776.7 1371.0 1776.9 1367.6L1777.5 1367.6C1777.7 1371.0 1778.4 1380.0 1778.7 1387.9C1779.1 1395.7 1779.5 1400.2 1779.6 1414.8C1779.7 1429.5 1779.6 1462.6 1779.4 1475.5C1779.2 1488.5 1778.4 1489.6 1778.2 1492.4Z" fill="#141414"/>
<path d="M1776.7 1470.4h0M1776.5 1385.1h0M1778.1 1449.3h0M1776.5 1491.9h0M1774.7 1415.0h0M1776.6 1460.8h0M1778.0 1486.0h0M1776.9 1449.9h0M1778.9 1465.5h0M1776.8 1416.1h0M1778.7 1479.5h0M1777.0 1400.2h0M1777.5 1478.9h0M1776.6 1469.9h0M1779.3 1470.6h0M1778.8 1446.6h0M1777.7 1482.8h0M1778.6 1499.1h0M1774.9 1384.3h0M1779.6 1382.5h0M1776.4 1419.0h0M1777.7 1410.2h0M1777.4 1454.2h0M1774.4 1467.4h0M1777.9 1441.9h0M1775.6 1404.9h0M1778.4 1476.0h0M1774.1 1496.7h0M1778.9 1374.8h0M1778.1 1486.4h0M1775.3 1367.3h0M1776.4 1455.2h0M1777.7 1399.9h0M1776.3 1447.2h0M1777.2 1446.2h0M1774.6 1378.1h0M1780.1 1479.8h0M1775.8 1490.5h0M1776.6 1471.8h0M1777.3 1426.0h0M1776.8 1440.0h0M1777.8 1436.1h0M1778.7 1483.1h0M1777.6 1480.5h0M1777.1 1481.6h0M1777.6 1438.8h0M1776.2 1475.7h0M1776.9 1423.2h0M1777.2 1461.7h0M1778.0 1409.9h0M1777.9 1434.7h0M1778.4 1484.0h0M1779.4 1442.4h0M1776.3 1471.4h0M1776.3 1485.2h0M1778.1 1429.2h0M1774.8 1486.7h0M1777.3 1410.0h0M1778.5 1397.4h0M1776.7 1407.8h0M1778.8 1470.3h0M1777.1 1418.4h0M1778.7 1400.9h0M1776.2 1468.8h0M1779.4 1483.4h0M1777.6 1463.6h0M1776.9 1396.0h0M1776.4 1456.5h0M1778.5 1387.4h0M1778.7 1446.0h0M1776.5 1439.8h0M1776.9 1387.4h0M1776.8 1457.5h0M1775.5 1473.7h0M1775.9 1424.4h0M1776.5 1441.3h0M1778.4 1475.1h0M1776.7 1464.0h0M1777.7 1489.4h0M1778.4 1392.6h0M1775.7 1467.1h0M1778.5 1459.3h0M1778.4 1472.9h0M1775.6 1383.2h0M1777.6 1422.0h0M1776.1 1491.1h0M1774.6 1473.0h0M1776.6 1427.7h0M1777.1 1374.0h0M1776.7 1460.2h0M1776.3 1459.0h0M1777.4 1435.4h0M1776.9 1487.8h0M1777.4 1394.3h0M1777.0 1415.2h0M1776.5 1467.4h0M1779.2 1464.2h0M1776.9 1419.0h0M1779.0 1452.7h0M1775.5 1423.4h0M1780.6 1384.5h0M1776.1 1484.6h0M1774.9 1454.2h0M1778.3 1454.7h0M1777.5 1445.6h0M1778.6 1470.6h0M1775.1 1489.2h0M1779.9 1391.3h0M1778.4 1458.2h0M1775.6 1484.9h0M1777.5 1474.8h0M1777.3 1475.7h0M1779.0 1417.9h0M1775.4 1489.4h0M1776.5 1369.0h0M1778.9 1461.0h0M1775.0 1416.1h0M1776.2 1413.8h0M1777.7 1486.3h0M1778.5 1478.2h0M1777.2 1481.4h0M1776.0 1493.5h0M1779.8 1451.1h0M1775.5 1431.0h0M1779.9 1379.7h0M1777.5 1408.8h0M1778.1 1409.3h0M1777.8 1471.5h0M1776.5 1451.8h0M1774.8 1443.7h0M1775.1 1434.6h0M1778.6 1477.2h0M1774.4 1422.4h0M1777.3 1474.4h0M1773.6 1396.3h0M1776.9 1462.3h0M1776.7 1483.5h0M1778.5 1413.8h0M1777.4 1445.3h0M1776.0 1482.4h0M1777.7 1456.2h0M1776.4 1410.1h0M1776.5 1385.3h0M1777.1 1375.2h0M1776.7 1493.6h0M1777.3 1425.8h0M1777.2 1453.0h0M1775.9 1431.3h0M1773.6 1395.6h0M1780.3 1454.5h0M1778.0 1441.8h0M1777.8 1384.7h0M1778.4 1417.0h0M1777.6 1419.3h0M1775.3 1437.4h0M1777.5 1473.6h0M1776.1 1382.5h0M1777.4 1457.2h0M1777.0 1465.7h0M1778.0 1445.4h0M1775.5 1390.5h0M1774.8 1419.4h0M1775.1 1413.8h0M1778.1 1386.9h0M1774.7 1490.8h0M1778.5 1419.1h0M1776.3 1463.4h0M1775.8 1459.6h0M1776.7 1481.4h0M1779.1 1369.5h0M1779.1 1419.6h0M1776.0 1472.3h0M1775.2 1447.8h0M1776.5 1410.9h0M1775.4 1419.9h0M1777.4 1467.8h0M1776.2 1410.4h0M1777.8 1434.8h0M1778.1 1372.8h0M1775.8 1457.8h0M1775.6 1468.3h0M1776.7 1443.1h0M1775.7 1484.7h0M1780.2 1404.0h0M1778.2 1470.4h0M1776.7 1450.4h0M1776.2 1450.2h0M1777.4 1430.2h0M1775.1 1435.1h0M1778.8 1481.7h0M1778.8 1449.0h0M1776.9 1385.0h0M1775.3 1369.6h0M1778.9 1403.8h0M1779.9 1429.4h0M1776.6 1428.9h0M1778.1 1436.8h0M1777.5 1487.8h0M1777.1 1434.4h0M1778.1 1474.8h0M1776.6 1400.6h0M1776.8 1463.5h0M1778.8 1484.3h0M1778.5 1496.8h0M1777.1 1438.7h0M1778.9 1440.6h0M1778.6 1381.9h0M1776.9 1399.1h0M1777.2 1438.9h0M1777.0 1394.6h0M1777.9 1470.3h0M1777.0 1460.5h0M1776.9 1467.5h0M1775.0 1381.9h0M1776.9 1415.4h0M1775.1 1454.1h0M1776.7 1388.1h0M1780.2 1393.4h0M1777.2 1415.1h0M1778.9 1444.4h0M1777.5 1418.0h0M1780.6 1480.2h0M1776.4 1414.2h0M1777.1 1419.6h0M1775.1 1465.6h0M1778.5 1452.2h0M1777.7 1488.5h0M1775.8 1469.9h0M1777.0 1458.1h0M1776.3 1418.1h0M1780.8 1439.2h0M1778.3 1408.8h0M1780.7 1449.9h0M1775.5 1495.9h0M1775.6 1377.9h0M1777.7 1490.4h0M1777.4 1384.8h0M1778.9 1491.6h0M1777.5 1407.1h0M1778.6 1416.4h0M1777.1 1488.0h0M1778.0 1442.7h0M1777.7 1408.2h0M1780.3 1385.7h0M1778.0 1483.2h0M1774.6 1464.6h0M1775.9 1462.5h0M1776.7 1407.3h0M1774.5 1496.7h0M1774.8 1460.4h0M1775.6 1425.7h0M1777.1 1472.1h0M1778.4 1470.7h0M1779.0 1426.2h0M1779.1 1470.5h0M1776.1 1462.6h0M1775.8 1410.5h0M1778.9 1409.1h0M1777.9 1376.1h0M1778.1 1380.1h0M1780.0 1382.6h0M1774.2 1424.0h0M1775.8 1463.4h0M1776.8 1490.4h0M1779.9 1408.6h0M1774.0 1466.0h0M1777.1 1430.2h0M1778.5 1389.7h0M1775.8 1447.9h0M1779.7 1417.0h0M1776.5 1470.5h0M1780.2 1440.9h0M1778.7 1456.2h0M1775.2 1488.7h0M1778.1 1437.4h0M1775.1 1400.9h0M1778.9 1374.7h0M1776.3 1392.1h0M1776.7 1420.0h0M1777.4 1374.0h0M1776.4 1369.4h0M1775.7 1486.8h0M1777.5 1405.5h0M1778.2 1415.3h0M1776.8 1393.8h0M1776.8 1395.4h0M1776.2 1459.8h0M1777.5 1431.4h0M1776.9 1377.9h0M1776.4 1401.3h0M1776.8 1489.8h0M1779.2 1419.1h0M1777.4 1377.7h0M1779.2 1436.2h0M1777.4 1496.3h0M1779.0 1425.4h0M1777.5 1441.3h0M1779.6 1430.8h0M1777.2 1423.1h0M1776.2 1485.8h0M1777.7 1407.2h0M1777.2 1450.4h0M1779.0 1463.0h0M1777.1 1482.4h0M1776.1 1374.7h0M1776.6 1485.0h0M1776.5 1407.2h0M1779.6 1460.8h0M1780.0 1475.6h0M1777.6 1394.6h0M1777.7 1458.2h0M1776.6 1421.2h0M1778.2 1433.9h0M1774.1 1445.3h0M1780.1 1430.1h0M1775.8 1427.1h0M1777.6 1489.3h0M1775.7 1496.6h0M1775.8 1395.8h0M1779.7 1408.8h0M1778.3 1404.1h0M1777.0 1378.8h0M1778.9 1462.3h0M1777.8 1413.7h0M1777.1 1398.6h0M1778.3 1478.7h0M1776.3 1396.3h0M1774.8 1490.0h0M1777.3 1461.3h0M1777.7 1438.0h0M1777.3 1351.4h0M1777.2 1370.4h0M1778.2 1367.3h0M1777.4 1360.3h0M1777.6 1362.0h0M1778.5 1360.3h0M1777.0 1364.6h0M1777.9 1353.3h0M1776.9 1351.9h0M1777.3 1365.2h0M1776.5 1359.6h0M1778.1 1371.6h0M1776.6 1366.0h0M1777.5 1371.5h0M1776.4 1364.2h0M1777.3 1371.2h0M1778.3 1360.4h0M1778.8 1364.1h0M1777.3 1355.8h0M1777.6 1354.8h0M1776.3 1350.1h0M1776.8 1369.7h0M1778.0 1366.9h0M1776.9 1359.6h0M1777.5 1370.5h0M1776.0 1365.8h0M1776.1 1365.7h0M1776.9 1350.1h0M1777.5 1357.5h0M1777.9 1357.0h0" stroke="#111" stroke-width="1.15" stroke-linecap="round" fill="none"/>
<path d="M1660.8 1317.6V1516.0M1660.2 1516.0H1804.6M1687.7 1516.0v3.2M1732.1 1516.0v3.2M1777.2 1516.0v3.2M1655.2 1516.0H1660.8M1655.2 1347.4H1660.8" stroke="#000" stroke-width="1.35" fill="none"/>
<text transform="translate(1654.20,1523.40)" font-size="19.00" text-anchor="end">0</text>
<text transform="translate(1654.20,1354.80)" font-size="19.00" text-anchor="end">5</text>
<text transform="translate(1638.60,1403.50) rotate(-90) scale(1.0770,1)" font-size="21.00" text-anchor="middle" font-style="italic">CCL26</text>
<text transform="translate(1731.10,1258.70) scale(1.0200,1)" font-size="22.00" text-anchor="middle">Pericyte</text>
<path d="M1685.3 1298.5V1288.3H1778.4V1298.5M1685.3 1322.9V1316.4H1778.4V1322.9" stroke="#111" stroke-width="1.8" fill="none"/>
<path d="M1731.6 1315.8000000000002V1320.9" stroke="#111" stroke-width="2.6" fill="none"/>
<text transform="translate(1737.10,1282.50) scale(0.8597,1)" font-size="19.60" text-anchor="middle">1.4 × 10<tspan font-size="12.15" dy="-7.06">–96</tspan><tspan dy="7.06">&#8203;</tspan></text>
<text transform="translate(1690.00,1313.30) scale(0.8728,1)" font-size="19.60" text-anchor="middle">6.7 × 10<tspan font-size="12.15" dy="-7.06">–13</tspan><tspan dy="7.06">&#8203;</tspan></text>
<text transform="translate(1780.65,1313.30) scale(0.8850,1)" font-size="19.60" text-anchor="middle">6.9 × 10<tspan font-size="12.15" dy="-7.06">–153</tspan><tspan dy="7.06">&#8203;</tspan></text>
<path d="M1309.4 1803.1V1665.1" stroke="#333" stroke-width="0.7"/>
<path d="M1308.3 1769.5h0M1310.2 1795.8h0M1309.7 1802.8h0M1309.6 1780.7h0M1308.1 1771.8h0M1308.5 1760.7h0M1308.6 1794.0h0M1308.9 1790.5h0M1311.0 1759.2h0M1306.9 1764.5h0M1308.8 1774.0h0M1309.9 1775.6h0M1309.9 1759.8h0M1308.5 1780.1h0M1308.9 1802.1h0M1309.2 1791.3h0M1309.5 1785.6h0M1309.7 1787.1h0M1307.8 1796.5h0M1310.9 1794.7h0M1309.9 1764.6h0M1309.9 1799.0h0M1309.0 1795.0h0M1309.4 1789.2h0M1309.4 1789.4h0M1309.4 1765.7h0M1310.9 1792.9h0M1308.2 1782.2h0M1307.2 1791.1h0M1308.5 1798.3h0M1312.0 1784.8h0M1309.7 1775.9h0M1308.4 1777.4h0M1310.1 1776.1h0M1311.8 1777.1h0M1309.3 1784.6h0M1310.0 1760.4h0M1307.4 1768.8h0M1308.3 1795.6h0M1310.6 1772.1h0M1308.7 1774.4h0M1311.1 1794.3h0M1311.0 1796.2h0M1306.8 1784.6h0M1310.2 1789.5h0M1310.2 1798.5h0M1310.0 1765.5h0M1309.5 1802.5h0M1310.0 1775.7h0M1310.2 1787.0h0M1307.5 1797.5h0M1310.6 1788.6h0M1308.7 1783.8h0M1308.7 1768.4h0M1308.8 1795.4h0M1308.5 1791.4h0M1307.5 1779.6h0M1308.0 1758.8h0M1309.5 1777.5h0M1308.4 1774.7h0M1310.0 1797.9h0M1309.5 1796.8h0M1310.2 1794.2h0M1311.3 1778.3h0M1309.0 1786.5h0M1309.6 1778.5h0M1310.5 1780.9h0M1309.7 1763.5h0M1309.8 1799.0h0M1310.2 1778.6h0M1308.6 1761.5h0M1308.6 1798.5h0M1309.1 1783.0h0M1309.5 1788.9h0M1309.6 1774.7h0M1309.0 1798.0h0M1309.5 1782.2h0M1309.0 1764.5h0M1309.7 1783.0h0M1308.5 1761.1h0M1309.1 1764.9h0M1309.2 1794.5h0M1308.1 1790.3h0M1310.1 1785.6h0M1310.7 1787.3h0M1308.9 1763.3h0M1308.2 1763.4h0M1308.9 1773.0h0M1311.3 1781.3h0M1307.9 1775.2h0M1308.7 1778.1h0M1309.6 1770.2h0M1309.8 1798.0h0M1311.9 1798.0h0M1308.6 1790.0h0M1309.0 1797.8h0M1309.2 1759.5h0M1310.5 1799.7h0M1308.7 1766.5h0M1308.7 1797.3h0M1309.0 1775.6h0M1308.8 1792.4h0M1311.5 1794.1h0M1310.7 1788.3h0M1310.7 1789.9h0M1308.6 1786.8h0M1306.8 1765.9h0M1310.2 1777.3h0M1309.9 1792.5h0M1308.6 1789.9h0M1309.7 1755.0h0M1309.3 1754.2h0M1309.5 1687.1h0M1308.7 1742.7h0M1310.8 1733.2h0M1309.4 1697.6h0M1308.1 1738.0h0M1309.3 1739.5h0M1309.7 1723.8h0M1310.6 1762.5h0M1308.2 1749.8h0M1309.0 1691.2h0M1308.9 1738.0h0M1308.6 1750.4h0M1309.3 1733.8h0M1309.3 1710.2h0M1307.5 1752.3h0M1308.9 1750.4h0M1310.2 1705.7h0M1310.3 1699.6h0M1309.2 1689.9h0M1309.3 1718.1h0M1309.5 1755.2h0M1310.1 1737.6h0M1310.1 1690.7h0M1310.0 1705.6h0M1308.6 1736.9h0M1309.0 1744.4h0M1309.9 1744.9h0M1309.0 1694.3h0M1309.3 1732.9h0M1308.5 1715.7h0M1310.0 1735.5h0M1309.5 1745.8h0M1309.0 1766.8h0M1308.5 1754.6h0M1308.3 1701.0h0M1308.9 1697.5h0M1309.2 1697.2h0M1310.2 1732.9h0M1309.2 1752.9h0M1310.8 1716.6h0M1308.9 1682.1h0M1309.2 1693.3h0M1308.5 1742.9h0M1309.4 1705.1h0M1309.4 1760.9h0M1310.4 1748.9h0M1307.5 1707.9h0M1309.2 1763.5h0M1308.9 1758.1h0M1308.7 1742.6h0M1308.3 1702.8h0M1310.3 1704.1h0M1309.8 1750.9h0M1310.3 1725.8h0M1311.1 1754.5h0M1308.9 1735.5h0M1309.5 1729.8h0M1309.5 1686.9h0" stroke="#111" stroke-width="1.15" stroke-linecap="round" fill="none"/>
<path d="M1353.6 1803.1V1661.7" stroke="#333" stroke-width="0.7"/>
<path d="M1354.3 1758.1h0M1354.4 1738.9h0M1353.1 1774.0h0M1355.1 1774.9h0M1355.9 1772.7h0M1355.5 1754.5h0M1352.2 1762.5h0M1350.8 1767.2h0M1353.4 1760.5h0M1353.1 1793.0h0M1350.8 1759.0h0M1353.9 1793.8h0M1354.4 1789.3h0M1354.2 1783.5h0M1352.6 1753.0h0M1354.7 1786.5h0M1354.8 1779.0h0M1353.4 1803.0h0M1355.0 1758.1h0M1355.0 1761.9h0M1354.5 1789.6h0M1354.9 1802.6h0M1353.7 1764.5h0M1354.0 1753.3h0M1354.6 1775.7h0M1352.8 1741.4h0M1351.6 1780.2h0M1352.9 1788.4h0M1354.9 1765.8h0M1353.9 1754.2h0M1355.9 1780.3h0M1353.0 1749.6h0M1353.7 1795.3h0M1353.6 1778.7h0M1353.4 1784.1h0M1354.7 1785.6h0M1352.3 1800.2h0M1353.5 1765.4h0M1354.3 1734.8h0M1352.3 1775.3h0M1353.0 1783.4h0M1352.2 1740.0h0M1352.7 1752.9h0M1353.9 1773.1h0M1353.8 1771.5h0M1353.7 1740.8h0M1354.9 1771.7h0M1355.5 1775.1h0M1353.1 1768.0h0M1352.6 1776.7h0M1354.3 1786.2h0M1353.6 1767.6h0M1354.2 1777.4h0M1353.8 1776.3h0M1353.1 1744.7h0M1354.3 1770.0h0M1353.4 1779.2h0M1353.2 1739.7h0M1353.9 1767.0h0M1351.8 1802.6h0M1354.2 1794.3h0M1354.2 1778.3h0M1351.1 1754.2h0M1352.2 1790.8h0M1352.6 1746.8h0M1351.9 1758.9h0M1354.7 1774.6h0M1354.6 1753.2h0M1353.2 1796.3h0M1354.3 1747.6h0M1354.3 1775.3h0M1352.6 1797.0h0M1353.4 1766.0h0M1351.8 1759.2h0M1353.3 1733.4h0M1355.3 1777.5h0M1354.7 1732.6h0M1354.3 1781.4h0M1353.1 1760.5h0M1354.5 1764.0h0M1353.4 1781.8h0M1354.6 1789.8h0M1354.7 1754.5h0M1352.8 1763.3h0M1352.4 1801.6h0M1353.0 1781.9h0M1353.5 1798.2h0M1352.6 1787.9h0M1353.1 1791.4h0M1352.5 1748.2h0M1353.2 1791.9h0M1353.9 1787.1h0M1353.1 1776.7h0M1352.0 1755.3h0M1354.9 1785.9h0M1354.6 1774.3h0M1352.1 1788.3h0M1352.7 1794.8h0M1351.9 1784.8h0M1354.4 1760.5h0M1355.6 1758.0h0M1352.7 1743.2h0M1354.2 1771.3h0M1351.2 1785.1h0M1353.1 1778.8h0M1353.1 1745.5h0M1354.4 1746.8h0M1352.7 1757.4h0M1350.8 1791.8h0M1352.4 1777.8h0M1354.3 1795.0h0M1351.4 1770.0h0M1353.7 1785.0h0M1355.7 1771.0h0M1354.1 1760.6h0M1354.5 1768.7h0M1352.9 1783.2h0M1354.4 1747.6h0M1352.8 1747.8h0M1353.4 1782.1h0M1353.7 1793.2h0M1353.9 1758.8h0M1353.3 1743.0h0M1353.1 1783.7h0M1352.9 1775.3h0M1354.3 1787.9h0M1354.7 1789.3h0M1353.5 1797.9h0M1354.1 1743.3h0M1354.6 1777.5h0M1354.0 1746.8h0M1355.2 1765.4h0M1354.3 1775.8h0M1352.7 1781.9h0M1352.2 1785.0h0M1352.8 1798.4h0M1354.8 1784.3h0M1355.9 1791.5h0M1354.3 1769.9h0M1353.3 1768.8h0M1353.5 1779.9h0M1354.5 1738.2h0M1353.6 1758.1h0M1354.0 1793.0h0M1353.7 1758.4h0M1352.8 1757.1h0M1353.4 1733.7h0M1354.7 1802.3h0M1354.6 1751.9h0M1353.9 1767.4h0M1352.6 1757.1h0M1352.4 1732.2h0M1355.2 1758.2h0M1353.3 1762.0h0M1354.8 1793.5h0M1354.7 1794.9h0M1354.5 1747.6h0M1355.4 1746.1h0M1354.9 1795.5h0M1352.4 1753.6h0M1352.5 1798.3h0M1354.0 1749.7h0M1355.3 1784.2h0M1353.8 1766.5h0M1354.6 1788.7h0M1353.5 1743.9h0M1353.9 1776.5h0M1352.5 1774.9h0M1353.8 1769.3h0M1353.6 1791.0h0M1352.5 1780.1h0M1353.3 1782.8h0M1353.7 1769.0h0M1350.9 1779.2h0M1354.4 1784.3h0M1354.5 1774.9h0M1353.5 1752.1h0M1354.1 1772.5h0M1356.1 1784.1h0M1354.8 1770.1h0M1353.2 1782.4h0M1352.0 1739.7h0M1352.7 1752.4h0M1354.7 1735.3h0M1353.1 1749.6h0M1354.0 1748.7h0M1354.5 1787.8h0M1353.3 1800.0h0M1353.5 1733.7h0M1353.5 1798.5h0M1352.8 1759.3h0M1354.3 1771.3h0M1352.8 1771.3h0M1353.5 1769.2h0M1355.0 1790.5h0M1352.8 1752.2h0M1354.2 1768.1h0M1353.5 1770.0h0M1353.3 1760.5h0M1352.6 1778.1h0M1354.3 1734.9h0M1353.7 1728.5h0M1355.1 1689.0h0M1352.3 1698.8h0M1353.6 1692.6h0M1352.7 1713.5h0M1353.8 1703.2h0M1352.8 1729.9h0M1353.0 1723.7h0M1352.7 1704.5h0M1353.4 1692.8h0M1354.9 1709.8h0M1355.8 1685.7h0M1352.7 1716.4h0M1354.9 1728.3h0M1352.2 1700.9h0M1355.1 1720.0h0M1354.4 1720.8h0M1352.5 1705.9h0M1353.5 1731.7h0M1351.7 1722.2h0M1353.8 1697.9h0M1353.2 1730.0h0M1354.0 1672.1h0M1355.5 1740.1h0M1355.3 1706.4h0M1352.8 1722.4h0M1354.0 1687.8h0M1353.1 1693.4h0M1353.1 1733.8h0M1354.4 1701.9h0M1352.0 1707.7h0M1355.4 1710.1h0M1352.4 1692.2h0M1354.8 1725.7h0M1351.6 1724.1h0M1352.1 1711.7h0M1352.2 1699.6h0M1353.9 1691.2h0M1354.1 1723.1h0M1353.5 1710.3h0M1354.4 1713.5h0M1355.8 1694.7h0M1353.4 1668.4h0M1352.6 1704.3h0M1355.2 1676.0h0M1354.9 1684.4h0M1354.1 1693.7h0M1352.7 1688.3h0M1353.0 1687.0h0M1352.9 1720.4h0M1354.0 1707.3h0M1352.6 1703.5h0M1352.5 1744.8h0M1354.5 1739.5h0M1353.7 1738.7h0M1352.5 1728.1h0M1354.2 1701.1h0M1354.9 1682.3h0M1353.8 1699.1h0M1353.4 1721.6h0M1354.1 1727.2h0M1355.1 1690.9h0M1353.3 1734.3h0M1352.9 1685.0h0M1352.7 1692.0h0M1353.1 1724.5h0M1354.5 1705.9h0M1351.4 1686.7h0M1354.7 1717.0h0M1354.1 1675.3h0M1354.5 1715.1h0M1352.2 1731.6h0M1354.2 1684.1h0M1353.4 1673.9h0M1355.2 1705.6h0M1353.8 1736.6h0M1352.4 1718.6h0M1354.0 1743.2h0M1354.2 1739.4h0M1354.7 1699.0h0M1352.4 1708.3h0M1354.2 1736.4h0M1354.2 1691.8h0M1355.5 1702.2h0M1353.8 1669.7h0M1355.8 1675.5h0M1353.2 1699.3h0M1352.3 1720.4h0M1352.9 1718.1h0M1353.7 1699.4h0M1354.5 1669.2h0M1353.2 1714.9h0M1353.2 1726.4h0M1353.1 1736.4h0M1351.4 1698.3h0M1355.4 1671.6h0M1353.3 1704.2h0M1353.4 1733.4h0M1355.2 1733.3h0" stroke="#111" stroke-width="1.15" stroke-linecap="round" fill="none"/>
<path d="M1398.4 1803.1V1628.2" stroke="#333" stroke-width="0.7"/>
<path d="M1395.9 1803.1C1395.8 1795.9 1395.7 1776.6 1395.7 1759.8C1395.7 1743.0 1395.7 1715.6 1395.9 1702.1C1396.0 1688.6 1396.2 1685.3 1396.5 1679.0C1396.9 1672.7 1397.7 1667.0 1397.9 1664.6L1398.9 1664.6C1399.1 1667.0 1399.9 1672.7 1400.3 1679.0C1400.6 1685.3 1400.8 1688.6 1401.0 1702.1C1401.1 1715.6 1401.1 1743.0 1401.1 1759.8C1401.1 1776.6 1401.0 1795.9 1401.0 1803.1Z" fill="#141414"/>
<path d="M1400.0 1677.5h0M1398.0 1707.9h0M1398.3 1774.7h0M1400.0 1774.1h0M1399.7 1695.2h0M1398.7 1785.0h0M1398.5 1672.2h0M1398.0 1733.9h0M1399.3 1694.0h0M1396.1 1789.4h0M1399.1 1789.4h0M1397.9 1763.0h0M1398.2 1712.5h0M1398.2 1664.3h0M1399.6 1764.3h0M1397.9 1705.1h0M1398.2 1769.8h0M1399.8 1728.1h0M1397.7 1788.5h0M1398.5 1758.6h0M1399.2 1742.5h0M1398.5 1697.2h0M1398.8 1737.4h0M1394.5 1793.1h0M1400.6 1775.3h0M1397.1 1759.9h0M1398.1 1730.6h0M1401.9 1747.7h0M1400.0 1744.3h0M1397.2 1667.5h0M1395.6 1679.9h0M1397.7 1738.0h0M1397.3 1696.0h0M1399.8 1688.8h0M1399.5 1722.4h0M1398.6 1769.2h0M1400.3 1747.5h0M1396.2 1734.5h0M1399.0 1767.7h0M1399.2 1726.5h0M1399.4 1713.9h0M1399.6 1759.0h0M1399.9 1780.4h0M1397.1 1704.3h0M1397.2 1789.8h0M1400.1 1801.8h0M1398.9 1749.6h0M1398.9 1772.5h0M1399.3 1753.8h0M1401.0 1777.9h0M1398.4 1775.0h0M1397.9 1782.3h0M1398.0 1704.3h0M1399.0 1767.1h0M1396.1 1713.5h0M1401.8 1751.1h0M1397.1 1792.2h0M1398.9 1718.3h0M1398.2 1749.4h0M1400.8 1787.5h0M1396.9 1668.1h0M1397.1 1755.9h0M1394.9 1692.6h0M1396.6 1745.3h0M1399.2 1795.0h0M1396.0 1720.4h0M1399.2 1789.9h0M1396.8 1779.0h0M1400.8 1710.2h0M1395.4 1767.7h0M1399.3 1772.8h0M1398.4 1712.2h0M1398.1 1794.3h0M1399.1 1738.1h0M1401.7 1715.4h0M1399.1 1737.3h0M1398.4 1683.8h0M1400.7 1756.9h0M1397.6 1753.3h0M1397.4 1760.6h0M1401.1 1680.7h0M1400.3 1772.3h0M1399.5 1769.1h0M1396.8 1756.1h0M1398.6 1785.2h0M1399.3 1727.9h0M1398.1 1745.0h0M1395.6 1781.8h0M1400.7 1772.5h0M1398.5 1697.7h0M1400.0 1738.9h0M1400.3 1788.5h0M1396.2 1748.2h0M1396.5 1701.7h0M1401.3 1801.9h0M1399.8 1717.7h0M1398.5 1741.0h0M1398.3 1732.4h0M1400.7 1799.0h0M1399.7 1716.2h0M1398.2 1768.4h0M1399.9 1760.8h0M1399.6 1743.5h0M1399.7 1762.1h0M1398.9 1723.5h0M1396.9 1779.4h0M1398.6 1730.1h0M1397.1 1757.7h0M1394.7 1722.4h0M1401.0 1705.4h0M1399.7 1730.3h0M1398.6 1770.9h0M1397.6 1775.8h0M1399.1 1784.2h0M1399.2 1736.8h0M1395.6 1724.3h0M1397.6 1729.7h0M1398.0 1781.3h0M1396.2 1702.3h0M1397.2 1744.1h0M1399.4 1785.0h0M1397.9 1768.9h0M1396.3 1733.3h0M1399.6 1733.0h0M1398.8 1716.9h0M1401.6 1728.0h0M1401.2 1681.8h0M1400.3 1712.2h0M1399.4 1696.9h0M1400.7 1753.7h0M1396.7 1707.9h0M1397.2 1727.0h0M1398.8 1749.8h0M1398.9 1758.6h0M1399.1 1767.6h0M1395.9 1734.0h0M1397.8 1742.9h0M1398.9 1699.4h0M1397.7 1696.4h0M1395.9 1769.6h0M1397.9 1694.6h0M1397.3 1767.3h0M1396.9 1712.5h0M1400.2 1754.4h0M1398.8 1764.5h0M1398.0 1776.7h0M1399.7 1759.4h0M1398.0 1676.2h0M1399.9 1677.2h0M1396.1 1746.4h0M1397.4 1797.2h0M1397.6 1729.6h0M1396.8 1756.3h0M1402.2 1748.8h0M1398.7 1683.6h0M1396.2 1684.7h0M1397.6 1739.7h0M1399.5 1675.5h0M1400.3 1710.9h0M1395.8 1781.6h0M1398.4 1662.9h0M1397.6 1788.9h0M1401.1 1767.5h0M1398.3 1733.0h0M1395.3 1682.6h0M1394.3 1743.9h0M1399.4 1761.8h0M1399.9 1682.7h0M1398.5 1781.9h0M1400.0 1714.2h0M1399.7 1723.2h0M1401.2 1789.5h0M1396.2 1711.9h0M1398.2 1724.3h0M1397.5 1746.8h0M1399.9 1792.9h0M1397.1 1749.3h0M1397.7 1696.6h0M1398.9 1751.2h0M1397.2 1695.4h0M1397.4 1783.6h0M1397.4 1675.3h0M1398.4 1776.3h0M1398.5 1771.5h0M1396.7 1748.3h0M1394.8 1680.5h0M1399.1 1729.9h0M1398.6 1776.9h0M1401.4 1789.4h0M1400.6 1738.1h0M1398.6 1765.9h0M1397.2 1776.0h0M1399.5 1704.7h0M1397.0 1792.0h0M1399.0 1701.4h0M1397.6 1687.5h0M1399.1 1755.3h0M1400.2 1745.2h0M1396.7 1788.4h0M1397.2 1751.9h0M1400.3 1776.7h0M1395.7 1724.6h0M1397.9 1782.7h0M1396.5 1693.0h0M1399.4 1786.5h0M1399.9 1731.9h0M1398.4 1728.0h0M1399.6 1766.9h0M1400.2 1697.3h0M1395.0 1684.7h0M1396.9 1788.6h0M1397.7 1717.5h0M1397.0 1748.0h0M1399.3 1754.9h0M1399.0 1704.9h0M1400.9 1745.9h0M1396.9 1765.3h0M1399.0 1767.1h0M1400.1 1739.7h0M1399.4 1734.2h0M1395.6 1748.8h0M1397.3 1786.1h0M1399.0 1799.4h0M1397.0 1675.4h0M1398.3 1745.8h0M1399.6 1795.7h0M1398.9 1709.2h0M1398.5 1703.3h0M1399.4 1724.9h0M1401.8 1663.9h0M1401.1 1732.7h0M1400.2 1752.1h0M1398.1 1749.5h0M1402.5 1792.5h0M1398.2 1724.3h0M1396.2 1796.5h0M1396.9 1790.9h0M1395.5 1733.0h0M1402.5 1797.7h0M1398.7 1797.8h0M1398.7 1717.6h0M1399.7 1788.0h0M1397.7 1792.7h0M1394.7 1746.8h0M1398.9 1727.4h0M1397.3 1761.9h0M1401.2 1686.2h0M1399.2 1791.7h0M1396.0 1779.3h0M1397.9 1788.4h0M1399.4 1772.4h0M1399.3 1784.7h0M1398.0 1715.7h0M1398.6 1772.2h0M1400.3 1690.7h0M1396.8 1697.1h0M1398.7 1757.7h0M1398.0 1783.9h0M1400.8 1770.7h0M1398.8 1721.0h0M1398.4 1660.3h0M1399.2 1658.6h0M1400.3 1639.1h0M1397.3 1677.3h0M1399.1 1650.6h0M1399.3 1672.3h0M1399.7 1648.7h0M1399.5 1643.8h0M1398.7 1659.9h0M1397.8 1644.4h0M1398.2 1656.8h0M1400.2 1642.9h0M1397.3 1671.9h0M1400.0 1644.3h0M1398.4 1660.5h0M1399.3 1657.5h0M1398.9 1664.9h0M1399.5 1658.4h0M1398.9 1653.8h0M1397.8 1643.4h0M1398.5 1657.2h0M1399.1 1672.9h0M1397.9 1649.0h0M1399.1 1656.1h0M1397.4 1672.3h0M1398.3 1637.9h0M1398.4 1646.5h0M1398.0 1650.7h0M1398.3 1649.2h0M1397.0 1669.2h0M1398.7 1645.8h0M1399.0 1639.7h0M1397.2 1663.8h0M1397.4 1668.9h0M1397.0 1641.5h0M1399.7 1669.0h0M1398.8 1666.7h0M1398.3 1646.3h0M1399.2 1672.2h0M1398.9 1662.9h0M1398.3 1653.6h0M1399.0 1662.8h0M1396.6 1671.5h0M1398.1 1651.9h0M1398.3 1633.3h0M1398.1 1641.4h0M1397.4 1641.2h0M1397.0 1634.6h0M1397.0 1660.7h0M1399.3 1654.5h0" stroke="#111" stroke-width="1.15" stroke-linecap="round" fill="none"/>
<path d="M1282 1606.8V1803.1M1281.4 1803.1H1425.6M1309.4 1803.1v3.2M1353.6 1803.1v3.2M1398.4 1803.1v3.2M1276.4 1803.1H1282M1276.4 1658.8H1282" stroke="#000" stroke-width="1.35" fill="none"/>
<text transform="translate(1275.40,1810.50)" font-size="19.00" text-anchor="end">0</text>
<text transform="translate(1275.40,1666.20)" font-size="19.00" text-anchor="end">5</text>
<text transform="translate(1256.70,1707.70) rotate(-90) scale(1.0402,1)" font-size="21.00" text-anchor="middle" font-style="italic">CCL26</text>
<text transform="translate(1352.00,1553.90) scale(1.0200,1)" font-size="22.00" text-anchor="middle">Suprabasal</text>
<path d="M1305.8 1594.4V1584.4H1398.4V1594.4M1305.8 1618.7V1612.3H1398.4V1618.7" stroke="#111" stroke-width="1.8" fill="none"/>
<path d="M1352.1 1611.7V1616.7" stroke="#111" stroke-width="2.6" fill="none"/>
<text transform="translate(1352.10,1577.70) scale(0.8440,1)" font-size="19.60" text-anchor="middle">0</text>
<text transform="translate(1309.30,1608.20) scale(0.8466,1)" font-size="19.60" text-anchor="middle">1.5 × 10<tspan font-size="12.15" dy="-7.06">–10</tspan><tspan dy="7.06">&#8203;</tspan></text>
<text transform="translate(1375.60,1608.20) scale(0.8440,1)" font-size="19.60" text-anchor="middle">0</text>
<path d="M1478.0 1803.1C1479.0 1802.4 1482.1 1800.5 1484.3 1798.8C1486.5 1797.1 1489.6 1795.3 1491.3 1793.0C1493.0 1790.7 1494.2 1789.3 1494.7 1785.2C1495.2 1781.1 1494.6 1775.1 1494.3 1768.5C1494.0 1761.8 1493.1 1753.3 1492.8 1745.4C1492.5 1737.4 1492.2 1728.1 1492.3 1720.8C1492.4 1713.6 1492.8 1708.6 1493.3 1702.1C1493.8 1695.6 1494.7 1688.4 1495.3 1681.9C1495.9 1675.4 1496.3 1667.7 1496.8 1663.1C1497.3 1658.6 1498.0 1655.9 1498.2 1654.5L1498.4 1654.5C1498.6 1655.9 1499.3 1658.6 1499.8 1663.1C1500.3 1667.7 1500.7 1675.4 1501.3 1681.9C1501.9 1688.4 1502.8 1695.6 1503.3 1702.1C1503.8 1708.6 1504.2 1713.6 1504.3 1720.8C1504.4 1728.1 1504.1 1737.4 1503.8 1745.4C1503.5 1753.3 1502.6 1761.8 1502.3 1768.5C1502.0 1775.1 1501.4 1781.1 1501.9 1785.2C1502.4 1789.3 1503.6 1790.7 1505.3 1793.0C1507.0 1795.3 1510.1 1797.1 1512.3 1798.8C1514.5 1800.5 1517.5 1802.4 1518.6 1803.1Z" fill="#B4D95B" stroke="#333" stroke-width="0.6" stroke-linejoin="round"/>
<path d="M1498.3 1803.1V1650.4" stroke="#333" stroke-width="0.7"/>
<path d="M1500.8 1707.9h0M1497.2 1693.4h0M1499.7 1682.0h0M1498.1 1731.0h0M1497.9 1748.2h0M1498.1 1736.0h0M1497.3 1788.6h0M1498.4 1774.4h0M1499.6 1741.3h0M1495.2 1714.4h0M1497.6 1693.0h0M1500.8 1724.0h0M1498.2 1785.1h0M1497.6 1700.3h0M1498.7 1714.5h0M1496.3 1698.5h0M1498.6 1712.2h0M1497.7 1765.7h0M1499.2 1710.7h0M1496.9 1718.3h0M1501.4 1737.3h0M1498.4 1753.0h0M1498.0 1706.3h0M1497.6 1720.4h0M1499.2 1746.8h0M1497.2 1695.0h0M1498.0 1717.1h0M1499.1 1753.0h0M1497.4 1750.1h0M1496.7 1708.0h0M1498.0 1784.1h0M1498.8 1703.5h0M1498.0 1745.4h0M1496.7 1674.9h0M1498.6 1692.8h0M1500.3 1686.7h0M1498.3 1713.3h0M1498.0 1732.2h0M1500.6 1662.2h0M1500.0 1785.4h0M1498.4 1743.5h0M1497.2 1743.4h0M1497.9 1721.4h0M1496.9 1771.7h0M1495.7 1705.6h0M1496.9 1752.2h0M1499.5 1732.4h0M1499.0 1735.3h0M1498.3 1763.1h0M1499.1 1767.7h0M1498.0 1677.0h0M1498.3 1741.6h0M1497.1 1725.1h0M1497.4 1704.9h0M1496.7 1748.2h0M1497.3 1736.8h0M1499.0 1786.2h0M1498.5 1684.1h0M1497.0 1775.0h0M1496.3 1757.9h0M1500.7 1758.6h0M1498.1 1720.1h0M1497.8 1774.0h0M1498.8 1774.6h0M1498.4 1758.9h0M1498.7 1781.8h0M1498.2 1698.3h0M1499.2 1751.8h0M1498.0 1691.4h0M1499.0 1745.7h0M1496.5 1690.4h0M1499.8 1722.9h0M1500.1 1724.6h0M1497.7 1687.4h0M1499.4 1740.1h0M1497.6 1784.3h0M1495.8 1664.4h0M1499.2 1771.0h0M1499.9 1738.2h0M1499.3 1680.3h0M1496.9 1698.3h0M1497.6 1763.5h0M1495.9 1700.5h0M1498.7 1725.5h0M1498.9 1695.2h0M1500.9 1720.3h0M1499.0 1758.4h0M1499.3 1674.0h0M1498.9 1778.5h0M1497.3 1773.2h0M1499.3 1750.8h0M1499.2 1763.5h0M1498.3 1671.2h0M1497.7 1757.8h0M1500.5 1708.9h0M1497.9 1761.5h0M1500.7 1712.7h0M1499.5 1747.0h0M1499.5 1729.0h0M1500.3 1690.1h0M1499.8 1778.2h0M1500.7 1746.1h0M1497.0 1722.9h0M1498.2 1768.4h0M1497.8 1738.7h0M1499.0 1709.6h0M1497.8 1714.9h0M1498.7 1780.8h0M1497.4 1747.8h0M1496.0 1784.5h0M1497.8 1787.8h0M1499.0 1709.7h0M1499.2 1752.1h0M1497.3 1743.3h0M1496.3 1751.8h0M1495.7 1732.4h0M1498.9 1666.6h0M1497.6 1703.0h0M1497.6 1702.8h0M1498.0 1756.6h0M1497.8 1779.0h0M1500.8 1772.2h0M1501.4 1707.6h0M1500.6 1751.9h0M1497.7 1782.0h0M1498.7 1684.2h0M1501.4 1784.5h0M1499.4 1694.7h0M1498.6 1731.4h0M1498.5 1757.9h0M1499.8 1764.4h0M1498.1 1697.9h0M1499.7 1775.5h0M1498.2 1749.0h0M1496.3 1709.1h0M1498.4 1700.9h0M1499.1 1771.6h0M1500.0 1666.4h0M1497.7 1746.2h0M1498.2 1696.1h0M1499.0 1716.5h0M1497.5 1737.8h0M1499.5 1709.5h0M1498.5 1709.0h0M1499.5 1735.8h0M1496.6 1715.6h0M1498.2 1748.4h0M1498.1 1709.9h0M1497.2 1788.3h0M1497.1 1735.5h0M1497.7 1698.3h0M1499.7 1784.3h0M1499.2 1732.5h0M1498.1 1735.1h0M1495.8 1703.0h0M1497.4 1692.1h0M1498.8 1770.2h0M1498.2 1775.2h0M1498.4 1785.0h0M1498.7 1753.8h0M1497.2 1777.0h0M1496.8 1669.5h0M1498.3 1693.7h0M1496.8 1732.0h0M1498.7 1773.7h0M1498.9 1698.8h0M1499.6 1684.8h0M1497.2 1686.6h0M1498.5 1718.1h0M1497.2 1723.9h0M1498.5 1710.0h0M1498.6 1731.4h0M1499.5 1777.9h0M1498.6 1758.9h0M1498.4 1763.2h0M1499.8 1731.2h0M1497.7 1740.8h0M1496.5 1755.9h0M1495.4 1672.6h0M1499.0 1760.5h0M1497.0 1677.6h0M1496.6 1761.1h0M1498.5 1730.3h0M1497.7 1724.0h0M1497.1 1731.7h0M1497.5 1787.5h0M1497.9 1734.6h0M1499.1 1762.9h0M1497.9 1783.5h0M1498.8 1673.8h0M1499.1 1719.7h0M1495.6 1709.2h0M1496.4 1738.4h0M1498.9 1764.9h0M1498.7 1768.6h0M1499.1 1730.6h0M1497.6 1722.7h0M1497.1 1753.1h0M1498.7 1738.6h0M1498.5 1775.5h0M1500.2 1728.4h0M1498.4 1731.6h0M1497.6 1707.5h0M1499.2 1698.9h0M1498.5 1772.4h0M1497.1 1765.1h0M1496.5 1731.1h0M1498.7 1704.7h0M1498.4 1686.4h0M1496.9 1691.4h0M1498.1 1687.8h0M1498.0 1676.0h0M1499.2 1732.6h0M1497.4 1730.6h0M1497.6 1732.8h0M1499.5 1733.1h0M1499.5 1683.8h0M1501.4 1710.6h0M1496.3 1695.1h0M1496.6 1762.9h0M1497.1 1744.7h0M1497.7 1755.7h0M1498.1 1686.6h0M1496.8 1755.4h0M1496.7 1754.4h0M1498.1 1685.6h0M1496.7 1676.7h0M1500.2 1701.9h0M1498.9 1686.4h0M1498.2 1692.1h0M1498.1 1767.5h0M1496.3 1728.3h0M1500.5 1685.8h0M1497.2 1788.0h0M1499.1 1779.3h0M1497.2 1785.1h0M1498.6 1726.1h0M1501.0 1762.0h0M1495.7 1732.5h0M1497.9 1762.4h0M1497.4 1772.5h0M1499.3 1715.0h0M1498.8 1723.3h0M1495.9 1752.5h0M1498.9 1787.2h0M1496.0 1701.3h0M1495.2 1772.9h0M1499.0 1669.7h0M1498.8 1761.5h0M1497.1 1768.3h0M1497.9 1723.8h0M1497.5 1699.7h0M1498.4 1714.4h0M1500.5 1682.2h0M1497.0 1698.0h0M1498.7 1753.8h0M1499.4 1768.2h0M1497.7 1781.1h0M1496.4 1764.4h0M1498.4 1703.0h0M1497.3 1724.7h0M1496.6 1768.5h0M1498.1 1742.8h0M1498.2 1778.4h0M1498.1 1770.4h0M1496.8 1725.9h0M1500.2 1764.6h0M1499.4 1708.2h0M1500.0 1716.7h0M1495.4 1691.3h0M1498.2 1750.8h0M1496.8 1782.0h0M1497.7 1785.0h0M1498.1 1712.0h0M1499.0 1735.4h0M1497.4 1736.9h0M1499.0 1727.9h0M1498.4 1707.6h0M1501.0 1703.6h0M1498.7 1737.2h0M1500.3 1713.9h0M1497.6 1756.5h0M1498.3 1689.7h0M1499.9 1713.8h0M1499.3 1784.5h0M1497.4 1778.1h0M1497.4 1743.8h0M1499.4 1735.0h0M1496.9 1680.4h0M1498.2 1780.7h0M1498.7 1705.3h0M1498.7 1710.5h0M1498.1 1747.2h0M1500.6 1730.7h0M1497.5 1747.7h0M1497.8 1757.2h0M1500.6 1683.7h0M1497.4 1680.6h0M1497.1 1687.3h0M1497.8 1719.1h0M1499.0 1757.8h0M1499.4 1785.2h0M1498.7 1745.2h0M1496.3 1760.6h0M1498.6 1775.7h0M1499.0 1716.6h0M1497.0 1676.1h0M1496.3 1743.1h0M1496.9 1762.4h0M1499.4 1770.0h0M1498.3 1698.2h0M1496.8 1662.2h0M1499.6 1768.7h0M1499.4 1678.0h0M1498.0 1713.5h0M1495.5 1703.7h0M1498.8 1730.0h0M1496.2 1748.0h0M1498.9 1709.1h0M1497.9 1698.0h0M1497.5 1742.2h0M1499.3 1704.0h0M1497.6 1720.9h0M1495.2 1714.5h0M1498.3 1727.8h0M1496.7 1784.8h0M1498.8 1783.5h0M1499.0 1782.6h0M1497.8 1741.8h0M1497.3 1682.9h0M1497.7 1749.7h0M1496.7 1724.4h0M1499.7 1718.1h0M1500.4 1721.6h0M1497.8 1723.5h0M1497.3 1724.4h0M1498.9 1752.1h0M1500.4 1694.8h0M1497.0 1759.9h0M1498.0 1761.9h0M1499.2 1738.7h0M1497.6 1689.4h0M1498.4 1743.2h0M1498.2 1692.5h0M1499.5 1698.8h0M1497.7 1683.6h0M1499.9 1756.6h0M1499.0 1685.7h0M1501.4 1753.2h0M1500.9 1728.0h0M1499.1 1787.1h0M1497.6 1781.7h0M1497.3 1726.4h0M1499.3 1745.6h0M1495.2 1700.1h0M1500.8 1678.9h0M1498.0 1748.9h0M1497.2 1756.4h0M1499.3 1756.0h0M1499.2 1692.0h0M1499.1 1757.4h0M1498.6 1720.2h0M1497.8 1733.6h0M1498.5 1763.7h0M1500.8 1728.3h0M1498.6 1724.9h0M1497.0 1752.5h0M1497.3 1761.8h0M1497.7 1750.6h0M1499.3 1728.6h0M1498.3 1720.1h0M1496.5 1690.3h0M1499.0 1776.3h0M1500.4 1741.0h0M1498.9 1745.1h0M1498.8 1742.0h0M1498.7 1765.9h0M1497.6 1709.9h0M1497.5 1714.4h0M1497.6 1760.9h0M1498.4 1674.5h0M1495.2 1722.3h0M1497.6 1695.1h0M1495.7 1779.8h0M1499.5 1737.9h0M1498.5 1759.2h0M1498.3 1734.5h0M1498.5 1728.1h0M1498.5 1706.2h0M1496.3 1736.5h0M1499.5 1784.9h0M1498.0 1743.3h0M1497.9 1683.0h0M1498.3 1732.9h0M1500.1 1726.8h0M1498.1 1691.6h0M1498.5 1782.3h0M1499.6 1691.7h0M1495.9 1767.3h0M1500.9 1780.2h0M1498.1 1694.4h0M1498.9 1702.5h0M1499.3 1785.8h0M1499.0 1776.8h0M1497.6 1739.3h0M1499.5 1725.2h0M1498.7 1697.3h0M1497.5 1758.6h0M1498.3 1675.1h0M1496.1 1754.9h0M1497.5 1724.0h0M1498.8 1721.5h0M1496.0 1696.5h0M1500.3 1725.6h0M1495.9 1712.4h0M1497.8 1686.3h0M1500.0 1699.9h0M1501.3 1693.4h0M1501.1 1728.3h0M1499.2 1778.1h0M1501.0 1737.1h0M1496.7 1770.7h0M1497.2 1729.9h0M1497.4 1697.3h0M1498.7 1778.3h0M1498.7 1736.2h0M1497.7 1729.0h0M1497.5 1745.8h0M1500.4 1709.1h0M1499.8 1770.1h0M1497.4 1741.7h0M1498.2 1727.4h0M1495.5 1706.3h0M1498.8 1690.3h0M1498.8 1701.2h0M1496.8 1781.5h0M1498.6 1722.4h0M1499.0 1783.7h0M1498.9 1696.9h0M1498.4 1735.0h0M1496.8 1732.8h0M1496.1 1721.1h0M1497.1 1686.3h0M1498.9 1706.9h0M1498.6 1744.3h0M1499.5 1727.2h0M1497.4 1720.9h0M1497.4 1718.3h0M1497.8 1685.8h0M1497.6 1757.4h0M1499.6 1742.5h0M1500.8 1770.7h0M1497.6 1686.3h0M1499.3 1702.8h0M1499.1 1740.7h0M1499.3 1691.1h0M1501.3 1723.5h0M1499.2 1743.4h0M1499.0 1752.6h0M1499.7 1677.5h0M1498.0 1761.5h0M1499.2 1709.4h0M1497.0 1785.6h0M1500.0 1762.0h0M1501.3 1782.9h0M1497.7 1698.1h0M1496.5 1772.5h0M1500.3 1751.1h0M1497.5 1778.2h0M1497.7 1749.1h0M1499.9 1721.5h0M1497.5 1725.4h0M1500.1 1738.8h0M1496.1 1755.9h0M1499.4 1738.4h0M1496.8 1673.5h0M1498.3 1680.0h0M1497.3 1768.8h0M1498.8 1714.6h0M1496.6 1779.4h0M1498.7 1744.7h0M1499.3 1752.7h0M1498.9 1769.5h0M1500.9 1743.0h0M1500.6 1685.0h0M1499.5 1720.1h0M1498.3 1713.9h0M1498.6 1720.6h0M1498.8 1776.1h0M1499.9 1767.7h0M1498.2 1669.3h0M1498.5 1742.4h0M1498.4 1737.5h0M1495.7 1745.3h0M1500.1 1737.4h0M1498.5 1744.9h0M1497.9 1752.5h0M1497.9 1715.0h0M1497.8 1710.9h0M1498.3 1730.9h0M1498.5 1695.8h0M1497.6 1786.0h0M1499.9 1751.4h0M1495.2 1787.8h0M1495.8 1787.3h0M1498.2 1715.9h0M1497.8 1778.1h0M1496.5 1696.5h0M1497.4 1766.0h0M1498.8 1778.7h0M1498.8 1761.1h0M1500.5 1723.3h0M1498.7 1693.9h0M1499.2 1679.9h0M1498.8 1731.6h0M1498.2 1773.5h0M1498.4 1765.0h0M1499.6 1767.2h0M1499.6 1758.1h0M1499.2 1784.5h0" stroke="#2c3a0c" stroke-width="1.15" stroke-linecap="round" fill="none"/>
<path d="M1523.1 1803.1C1524.3 1802.4 1528.0 1800.5 1530.4 1798.8C1532.8 1797.1 1535.8 1794.9 1537.4 1793.0C1539.0 1791.1 1539.6 1791.3 1539.8 1787.2C1540.0 1783.1 1538.8 1775.4 1538.4 1768.5C1538.0 1761.5 1537.6 1751.3 1537.4 1745.4C1537.2 1739.4 1537.2 1738.5 1537.4 1732.7C1537.7 1726.9 1538.3 1718.3 1538.9 1710.7C1539.5 1703.2 1540.4 1695.4 1540.9 1687.7C1541.5 1680.0 1541.8 1670.3 1542.2 1664.6C1542.6 1658.8 1543.1 1655.0 1543.3 1653.0L1543.5 1653.0C1543.7 1655.0 1544.2 1658.8 1544.6 1664.6C1545.0 1670.3 1545.4 1680.0 1545.9 1687.7C1546.5 1695.4 1547.3 1703.2 1547.9 1710.7C1548.5 1718.3 1549.2 1726.9 1549.4 1732.7C1549.7 1738.5 1549.6 1739.4 1549.4 1745.4C1549.2 1751.3 1548.8 1761.5 1548.4 1768.5C1548.0 1775.4 1546.8 1783.1 1547.0 1787.2C1547.2 1791.3 1547.8 1791.1 1549.4 1793.0C1551.0 1794.9 1554.0 1797.1 1556.4 1798.8C1558.8 1800.5 1562.5 1802.4 1563.7 1803.1Z" fill="#7FAAD4" stroke="#333" stroke-width="0.6" stroke-linejoin="round"/>
<path d="M1543.4 1803.1V1628.5" stroke="#333" stroke-width="0.7"/>
<path d="M1542.2 1788.7C1542.0 1786.3 1541.4 1786.3 1541.2 1774.2C1541.0 1762.2 1541.0 1731.9 1541.2 1716.5C1541.3 1701.1 1541.7 1691.5 1542.0 1681.9C1542.4 1672.3 1542.9 1662.6 1543.1 1658.8L1543.7 1658.8C1543.9 1662.6 1544.4 1672.3 1544.8 1681.9C1545.1 1691.5 1545.5 1701.1 1545.6 1716.5C1545.8 1731.9 1545.8 1762.2 1545.6 1774.2C1545.4 1786.3 1544.8 1786.3 1544.6 1788.7Z" fill="#141414"/>
<path d="M1539.9 1763.0h0M1540.5 1713.7h0M1542.4 1726.1h0M1543.0 1728.7h0M1541.4 1695.5h0M1541.6 1782.2h0M1541.5 1777.1h0M1540.6 1753.6h0M1544.9 1741.3h0M1545.0 1713.2h0M1541.7 1676.8h0M1544.6 1718.9h0M1541.7 1726.5h0M1544.9 1705.6h0M1543.5 1744.8h0M1544.2 1708.3h0M1540.9 1691.6h0M1541.7 1786.0h0M1544.7 1727.8h0M1543.4 1758.2h0M1545.0 1787.4h0M1542.8 1703.5h0M1543.1 1694.1h0M1543.5 1724.3h0M1541.4 1712.6h0M1542.5 1779.9h0M1542.0 1764.8h0M1543.2 1710.6h0M1542.0 1737.0h0M1543.2 1772.7h0M1543.1 1720.0h0M1544.5 1742.4h0M1543.7 1757.1h0M1543.5 1712.9h0M1545.5 1732.1h0M1542.9 1751.2h0M1543.2 1766.2h0M1542.8 1689.8h0M1542.7 1768.0h0M1540.2 1746.4h0M1543.8 1778.1h0M1545.2 1780.1h0M1542.2 1731.3h0M1542.6 1724.2h0M1543.5 1701.6h0M1546.0 1780.7h0M1545.6 1718.2h0M1541.2 1768.3h0M1543.6 1719.4h0M1545.2 1747.7h0M1544.1 1739.2h0M1545.4 1693.5h0M1541.9 1768.0h0M1539.9 1789.0h0M1542.7 1788.1h0M1543.8 1753.7h0M1544.3 1667.0h0M1542.2 1732.3h0M1546.5 1701.9h0M1543.0 1755.8h0M1540.8 1696.2h0M1542.3 1680.1h0M1545.0 1771.7h0M1543.8 1739.6h0M1542.0 1724.8h0M1543.5 1773.9h0M1544.3 1778.4h0M1545.0 1711.3h0M1545.2 1704.1h0M1542.9 1765.0h0M1543.3 1760.8h0M1545.4 1772.8h0M1543.1 1742.2h0M1545.1 1706.4h0M1543.4 1737.9h0M1544.9 1776.6h0M1544.4 1694.6h0M1542.0 1734.2h0M1540.3 1675.6h0M1541.6 1669.9h0M1543.5 1657.4h0M1542.6 1699.7h0M1545.6 1767.5h0M1541.7 1705.4h0M1540.5 1687.0h0M1543.2 1670.0h0M1541.6 1717.7h0M1543.4 1754.0h0M1541.8 1689.9h0M1542.3 1725.3h0M1542.0 1742.8h0M1544.5 1723.0h0M1544.2 1693.6h0M1544.9 1726.9h0M1542.4 1730.2h0M1543.4 1677.0h0M1541.7 1741.1h0M1544.4 1719.1h0M1542.4 1756.3h0M1546.9 1698.0h0M1542.6 1701.4h0M1543.5 1781.6h0M1541.0 1742.4h0M1543.5 1694.7h0M1542.1 1754.9h0M1543.5 1737.7h0M1544.9 1739.5h0M1544.3 1736.2h0M1539.9 1722.7h0M1541.2 1719.6h0M1542.1 1720.4h0M1543.1 1726.1h0M1542.4 1683.1h0M1539.9 1723.8h0M1543.4 1763.1h0M1545.7 1779.9h0M1544.2 1719.6h0M1544.9 1774.4h0M1541.4 1723.6h0M1542.6 1773.9h0M1544.7 1686.6h0M1543.7 1660.6h0M1542.0 1726.3h0M1543.4 1769.3h0M1540.9 1753.7h0M1543.2 1731.3h0M1543.8 1772.2h0M1543.1 1716.1h0M1545.2 1734.0h0M1545.4 1690.3h0M1544.2 1694.9h0M1540.8 1675.8h0M1546.1 1681.3h0M1543.9 1730.7h0M1545.9 1730.1h0M1546.9 1780.3h0M1544.3 1788.9h0M1546.1 1779.6h0M1541.2 1739.8h0M1541.0 1694.8h0M1542.8 1666.2h0M1545.4 1687.1h0M1543.6 1777.5h0M1542.2 1681.6h0M1545.8 1695.8h0M1545.4 1787.7h0M1541.9 1690.3h0M1543.2 1766.7h0M1543.7 1736.9h0M1544.9 1697.7h0M1541.4 1688.3h0M1542.1 1744.2h0M1543.8 1748.0h0M1540.7 1717.3h0M1546.7 1776.7h0M1544.4 1701.8h0M1540.9 1768.3h0M1544.1 1738.3h0M1544.5 1705.2h0M1544.9 1760.0h0M1542.8 1786.0h0M1543.2 1769.2h0M1543.8 1675.0h0M1543.8 1728.5h0M1543.2 1698.0h0M1542.4 1726.8h0M1541.9 1674.8h0M1542.7 1767.6h0M1545.0 1753.5h0M1546.3 1782.0h0M1543.2 1767.9h0M1542.9 1703.5h0M1544.9 1688.5h0M1543.6 1686.6h0M1540.8 1748.4h0M1542.9 1717.0h0M1544.0 1788.9h0M1539.9 1747.5h0M1542.7 1767.6h0M1544.2 1750.3h0M1545.2 1755.1h0M1541.5 1731.8h0M1542.0 1714.7h0M1544.8 1732.5h0M1542.5 1704.5h0M1545.1 1718.8h0M1543.8 1673.9h0M1540.3 1717.2h0M1543.7 1727.9h0M1545.1 1781.8h0M1544.1 1756.8h0M1543.5 1733.8h0M1545.6 1747.5h0M1542.3 1726.5h0M1543.1 1743.6h0M1542.8 1753.5h0M1541.6 1739.1h0M1544.6 1726.6h0M1546.3 1675.8h0M1544.0 1701.8h0M1541.4 1696.1h0M1544.1 1783.7h0M1544.8 1701.9h0M1544.5 1670.2h0M1545.8 1731.7h0M1545.1 1771.6h0M1543.3 1669.8h0M1544.4 1758.2h0M1540.6 1783.5h0M1544.7 1759.7h0M1545.0 1706.0h0M1541.9 1747.2h0M1545.1 1655.3h0M1540.5 1735.4h0M1541.6 1749.0h0M1544.6 1753.2h0M1545.1 1727.0h0M1542.4 1760.1h0M1544.1 1711.7h0M1543.3 1761.0h0M1542.0 1776.7h0M1543.4 1789.8h0M1542.7 1736.2h0M1544.6 1685.3h0M1545.5 1717.1h0M1544.1 1755.9h0M1543.5 1745.4h0M1544.2 1770.7h0M1542.7 1680.0h0M1541.2 1749.2h0M1542.2 1691.1h0M1543.5 1739.1h0M1544.4 1741.4h0M1543.3 1763.4h0M1544.1 1686.2h0M1544.0 1708.4h0M1545.6 1693.3h0M1542.6 1670.7h0M1542.3 1735.9h0M1543.4 1753.7h0M1545.1 1708.5h0M1539.9 1773.4h0M1543.8 1767.9h0M1542.1 1771.6h0M1541.4 1756.1h0M1542.3 1738.8h0M1540.8 1674.3h0M1546.0 1753.5h0M1545.8 1750.8h0M1544.4 1734.4h0M1545.9 1697.9h0M1546.9 1689.9h0M1544.7 1755.6h0M1541.8 1734.0h0M1544.4 1747.9h0M1543.7 1730.2h0M1545.3 1763.0h0M1544.4 1747.4h0M1541.2 1764.7h0M1544.8 1753.3h0M1544.0 1737.2h0M1543.4 1742.0h0M1543.3 1784.6h0M1543.9 1668.2h0M1544.8 1736.4h0M1543.1 1713.6h0M1540.6 1669.4h0M1545.9 1661.2h0M1543.1 1699.3h0M1544.4 1732.5h0M1544.2 1685.1h0M1544.6 1726.6h0M1543.4 1775.3h0M1543.4 1758.2h0M1543.9 1709.0h0M1543.5 1772.6h0M1545.9 1658.8h0M1542.7 1779.1h0M1544.7 1725.5h0M1542.7 1725.0h0M1544.7 1753.6h0M1545.2 1756.4h0M1543.6 1789.7h0M1542.9 1706.5h0M1545.9 1762.3h0M1540.9 1791.1h0M1542.8 1691.5h0M1545.2 1731.8h0M1542.6 1723.0h0M1543.0 1736.5h0M1544.2 1770.6h0M1546.2 1790.9h0M1543.7 1736.3h0M1541.4 1751.5h0M1543.3 1744.8h0M1544.4 1756.4h0M1541.4 1677.1h0M1542.8 1751.6h0M1544.9 1707.2h0M1544.4 1733.3h0M1543.4 1644.3h0M1543.2 1632.6h0M1542.0 1637.0h0M1543.2 1653.0h0M1543.6 1650.8h0M1542.3 1656.5h0M1542.0 1646.5h0M1543.1 1657.2h0M1543.2 1641.2h0M1543.3 1647.8h0M1543.3 1648.6h0M1543.7 1644.8h0M1542.9 1651.7h0M1544.1 1641.7h0M1543.9 1640.7h0M1542.9 1638.6h0M1543.5 1640.7h0M1543.5 1646.2h0M1543.0 1647.2h0M1543.2 1653.3h0" stroke="#111" stroke-width="1.15" stroke-linecap="round" fill="none"/>
<path d="M1537.4 1769.3h12.0" stroke="#fff" stroke-width="1.9"/>
<path d="M1567.5 1803.1C1568.4 1802.4 1570.9 1800.5 1572.8 1798.8C1574.7 1797.1 1577.3 1794.9 1578.8 1793.0C1580.3 1791.1 1581.6 1790.4 1581.8 1787.2C1582.0 1784.1 1580.7 1780.9 1579.8 1774.2C1578.9 1767.6 1577.0 1754.3 1576.3 1747.4C1575.6 1740.5 1575.5 1738.8 1575.8 1732.7C1576.1 1726.6 1577.2 1718.3 1578.3 1710.7C1579.4 1703.2 1581.1 1695.1 1582.3 1687.7C1583.5 1680.2 1584.5 1671.8 1585.4 1666.0C1586.3 1660.2 1587.3 1655.2 1587.7 1653.0L1587.9 1653.0C1588.3 1655.2 1589.3 1660.2 1590.2 1666.0C1591.1 1671.8 1592.1 1680.2 1593.3 1687.7C1594.5 1695.1 1596.2 1703.2 1597.3 1710.7C1598.4 1718.3 1599.5 1726.6 1599.8 1732.7C1600.1 1738.8 1600.0 1740.5 1599.3 1747.4C1598.6 1754.3 1596.7 1767.6 1595.8 1774.2C1594.9 1780.9 1593.6 1784.1 1593.8 1787.2C1594.0 1790.4 1595.3 1791.1 1596.8 1793.0C1598.3 1794.9 1600.9 1797.1 1602.8 1798.8C1604.7 1800.5 1607.2 1802.4 1608.1 1803.1Z" fill="#EF7A64" stroke="#333" stroke-width="0.6" stroke-linejoin="round"/>
<path d="M1587.8 1803.1V1636.0" stroke="#333" stroke-width="0.7"/>
<path d="M1586.4 1791.6C1586.2 1788.7 1585.4 1787.7 1585.2 1774.2C1585.1 1760.8 1585.1 1726.6 1585.2 1710.7C1585.4 1694.9 1585.7 1687.7 1586.1 1679.0C1586.5 1670.3 1587.2 1662.2 1587.4 1658.8L1588.2 1658.8C1588.4 1662.2 1589.1 1670.3 1589.5 1679.0C1589.9 1687.7 1590.2 1694.9 1590.3 1710.7C1590.5 1726.6 1590.5 1760.8 1590.3 1774.2C1590.2 1787.7 1589.4 1788.7 1589.2 1791.6Z" fill="#141414"/>
<path d="M1589.3 1787.0h0M1586.9 1760.6h0M1591.9 1744.1h0M1587.2 1742.6h0M1584.5 1717.1h0M1590.1 1779.7h0M1588.0 1685.9h0M1586.9 1696.8h0M1587.1 1703.3h0M1589.2 1733.7h0M1588.9 1785.0h0M1587.0 1730.8h0M1587.6 1758.5h0M1586.2 1707.4h0M1587.8 1689.7h0M1591.0 1738.8h0M1591.9 1700.1h0M1587.9 1664.8h0M1585.3 1778.9h0M1588.3 1748.9h0M1585.2 1771.7h0M1587.7 1670.0h0M1588.5 1762.3h0M1586.5 1786.8h0M1587.6 1751.3h0M1587.8 1745.0h0M1590.6 1788.0h0M1585.2 1756.2h0M1586.3 1756.2h0M1590.2 1739.8h0M1588.4 1740.4h0M1589.0 1777.1h0M1591.9 1701.9h0M1585.0 1757.5h0M1585.8 1737.2h0M1587.7 1725.9h0M1588.2 1792.3h0M1584.2 1749.3h0M1586.7 1792.4h0M1589.0 1723.1h0M1589.0 1776.2h0M1589.8 1720.2h0M1588.4 1758.7h0M1586.9 1759.8h0M1587.6 1758.9h0M1588.8 1688.5h0M1586.5 1752.8h0M1585.0 1783.5h0M1585.1 1705.1h0M1587.1 1712.7h0M1589.8 1721.7h0M1587.7 1672.2h0M1588.1 1709.4h0M1588.1 1675.3h0M1588.0 1773.9h0M1589.2 1737.2h0M1590.8 1714.1h0M1588.8 1744.2h0M1588.2 1740.2h0M1591.1 1750.1h0M1589.4 1707.4h0M1588.2 1755.3h0M1590.3 1751.9h0M1587.3 1751.7h0M1587.1 1694.4h0M1586.1 1784.3h0M1586.0 1777.0h0M1586.7 1691.4h0M1586.1 1774.4h0M1591.2 1750.3h0M1584.3 1763.2h0M1589.5 1766.3h0M1586.9 1787.6h0M1585.9 1784.9h0M1588.7 1665.0h0M1588.8 1764.0h0M1590.4 1766.5h0M1588.0 1747.1h0M1588.2 1747.1h0M1587.0 1677.7h0M1589.7 1693.2h0M1588.4 1744.8h0M1588.5 1787.8h0M1590.0 1785.4h0M1588.7 1782.9h0M1586.8 1793.0h0M1588.0 1784.0h0M1590.2 1730.8h0M1587.6 1705.2h0M1588.2 1745.0h0M1587.4 1792.0h0M1583.7 1761.0h0M1586.0 1753.2h0M1589.1 1786.6h0M1587.2 1740.4h0M1585.1 1721.8h0M1589.0 1715.5h0M1589.7 1776.2h0M1587.8 1671.0h0M1589.3 1776.2h0M1587.3 1777.1h0M1588.3 1704.4h0M1588.3 1742.1h0M1585.8 1675.9h0M1589.2 1679.3h0M1587.0 1698.5h0M1588.5 1767.2h0M1587.9 1790.2h0M1589.3 1754.6h0M1590.5 1749.5h0M1590.9 1745.5h0M1588.7 1767.9h0M1586.5 1706.4h0M1588.1 1786.9h0M1587.6 1794.0h0M1587.8 1721.2h0M1587.2 1744.6h0M1591.7 1781.5h0M1587.0 1719.9h0M1591.1 1772.7h0M1588.7 1660.7h0M1588.1 1761.3h0M1588.3 1748.8h0M1591.1 1773.1h0M1585.1 1766.5h0M1587.0 1703.8h0M1588.4 1723.2h0M1589.8 1709.2h0M1585.4 1662.8h0M1588.7 1721.8h0M1588.6 1753.1h0M1587.8 1675.4h0M1588.2 1685.4h0M1586.9 1696.1h0M1589.7 1769.5h0M1588.2 1697.6h0M1588.9 1778.8h0M1589.1 1713.8h0M1587.2 1784.5h0M1584.3 1791.0h0M1587.5 1733.5h0M1588.6 1773.3h0M1584.4 1787.7h0M1587.1 1763.5h0M1589.5 1741.2h0M1587.7 1782.0h0M1589.8 1719.7h0M1591.9 1694.6h0M1586.3 1742.1h0M1589.3 1784.2h0M1588.4 1787.7h0M1588.2 1726.1h0M1585.7 1771.8h0M1587.6 1769.1h0M1588.3 1715.0h0M1584.7 1736.8h0M1589.3 1730.4h0M1585.6 1757.0h0M1589.9 1711.6h0M1588.5 1720.6h0M1590.7 1747.9h0M1587.6 1670.4h0M1590.0 1710.5h0M1587.9 1676.6h0M1586.1 1754.0h0M1588.3 1791.8h0M1588.2 1747.7h0M1587.0 1739.1h0M1589.3 1756.5h0M1586.6 1756.6h0M1587.5 1728.5h0M1586.0 1763.5h0M1586.0 1768.8h0M1588.4 1750.2h0M1586.2 1787.8h0M1586.8 1683.7h0M1589.4 1690.1h0M1585.4 1728.1h0M1585.5 1703.2h0M1589.6 1780.9h0M1585.7 1765.5h0M1591.1 1748.0h0M1587.1 1720.6h0M1591.7 1681.1h0M1588.1 1742.6h0M1590.5 1708.3h0M1587.6 1742.3h0M1586.4 1735.2h0M1588.2 1762.0h0M1589.2 1768.9h0M1585.7 1735.5h0M1589.1 1759.4h0M1587.7 1777.4h0M1587.9 1674.6h0M1587.1 1710.3h0M1585.7 1712.4h0M1589.7 1754.5h0M1587.8 1738.9h0M1587.3 1753.7h0M1588.1 1721.3h0M1589.7 1739.1h0M1591.4 1716.5h0M1590.0 1728.7h0M1586.8 1707.9h0M1586.3 1677.0h0M1589.3 1774.6h0M1588.5 1741.2h0M1590.3 1765.0h0M1585.4 1735.5h0M1586.2 1683.8h0M1589.1 1767.8h0M1586.7 1786.8h0M1587.5 1783.4h0M1590.0 1757.6h0M1589.8 1722.2h0M1587.3 1756.2h0M1586.8 1687.4h0M1585.6 1716.6h0M1586.4 1729.4h0M1588.9 1790.0h0M1587.1 1714.6h0M1587.9 1680.7h0M1588.9 1736.5h0M1590.2 1693.5h0M1588.6 1685.4h0M1586.8 1780.2h0M1590.3 1685.3h0M1588.1 1715.7h0M1588.7 1781.6h0M1587.7 1722.0h0M1589.6 1743.5h0M1586.9 1749.6h0M1589.0 1718.7h0M1587.9 1786.7h0M1588.6 1734.1h0M1587.2 1778.2h0M1588.0 1758.7h0M1588.4 1702.7h0M1590.5 1734.7h0M1588.0 1729.9h0M1586.5 1672.6h0M1583.7 1715.7h0M1585.3 1773.1h0M1587.5 1727.0h0M1588.5 1688.8h0M1589.3 1785.5h0M1591.5 1742.5h0M1589.1 1723.5h0M1588.6 1715.3h0M1586.3 1692.6h0M1589.5 1733.2h0M1586.7 1777.8h0M1589.1 1675.3h0M1588.5 1689.4h0M1589.9 1704.5h0M1587.9 1705.3h0M1590.9 1777.9h0M1588.1 1687.7h0M1588.5 1759.4h0M1588.4 1703.0h0M1589.6 1742.7h0M1591.4 1739.0h0M1587.1 1709.4h0M1591.5 1689.5h0M1587.5 1731.3h0M1589.6 1781.0h0M1588.6 1691.1h0M1586.4 1671.1h0M1590.0 1760.8h0M1586.8 1706.5h0M1585.8 1739.9h0M1589.2 1745.0h0M1586.3 1759.5h0M1588.3 1711.2h0M1588.5 1677.7h0M1585.0 1762.6h0M1584.5 1690.0h0M1585.2 1696.0h0M1588.7 1769.6h0M1588.3 1783.0h0M1585.3 1671.7h0M1587.6 1762.8h0M1584.9 1778.0h0M1589.1 1678.7h0M1586.7 1691.6h0M1586.3 1693.3h0M1586.1 1680.0h0M1588.3 1751.3h0M1587.7 1772.9h0M1586.3 1771.3h0M1587.7 1684.6h0M1588.6 1662.2h0M1589.2 1793.6h0M1591.7 1695.6h0M1587.9 1672.8h0M1585.0 1711.0h0M1589.8 1699.8h0M1589.8 1707.8h0M1591.1 1751.2h0M1589.6 1728.3h0M1588.8 1784.6h0M1590.2 1718.7h0M1587.2 1768.5h0M1589.1 1782.7h0M1586.9 1743.4h0M1586.2 1739.8h0M1586.7 1767.1h0M1588.3 1763.7h0M1588.2 1786.0h0M1585.1 1735.7h0M1589.4 1749.9h0M1585.6 1787.3h0M1589.2 1705.7h0M1588.4 1714.7h0M1589.2 1712.6h0M1585.4 1722.5h0M1588.0 1694.9h0M1584.2 1721.7h0M1586.1 1763.8h0M1584.1 1741.6h0M1588.0 1777.3h0M1587.2 1683.1h0M1587.1 1739.6h0M1588.1 1759.0h0M1589.2 1696.5h0M1586.1 1675.8h0M1584.8 1679.6h0M1590.2 1767.5h0M1586.6 1700.3h0M1588.6 1698.7h0M1588.2 1643.2h0M1588.0 1654.9h0M1587.6 1647.3h0M1587.3 1642.6h0M1587.5 1642.1h0M1588.6 1646.6h0M1588.2 1653.9h0M1587.0 1653.8h0M1587.9 1654.4h0M1587.3 1642.9h0M1586.8 1640.2h0M1587.3 1644.4h0M1586.9 1651.2h0M1587.0 1645.8h0M1588.2 1646.9h0M1588.1 1641.4h0M1588.2 1642.2h0M1587.9 1644.9h0M1588.2 1647.9h0M1586.7 1641.8h0" stroke="#111" stroke-width="1.15" stroke-linecap="round" fill="none"/>
<path d="M1576.8 1747.4h22.0" stroke="#fff" stroke-width="1.9"/>
<path d="M1471.4 1594.9V1803.1M1470.8000000000002 1803.1H1614.5M1498.3 1803.1v3.2M1543.4 1803.1v3.2M1587.8 1803.1v3.2M1465.8000000000002 1803.1H1471.4M1465.8000000000002 1658.8H1471.4" stroke="#000" stroke-width="1.35" fill="none"/>
<text transform="translate(1464.80,1810.50)" font-size="19.00" text-anchor="end">0</text>
<text transform="translate(1464.80,1666.20)" font-size="19.00" text-anchor="end">5</text>
<text transform="translate(1445.90,1707.70) rotate(-90) scale(1.0092,1)" font-size="21.00" text-anchor="middle" font-style="italic">CCL11</text>
<text transform="translate(1542.50,1553.90) scale(1.0200,1)" font-size="22.00" text-anchor="middle">Fibroblast</text>
<path d="M1496.7 1594.4V1584.4H1589.4V1594.4M1496.7 1618.7V1612.3H1589.4V1618.7" stroke="#111" stroke-width="1.8" fill="none"/>
<path d="M1542.9 1611.7V1616.7" stroke="#111" stroke-width="2.6" fill="none"/>
<text transform="translate(1542.50,1577.70) scale(0.8751,1)" font-size="19.60" text-anchor="middle">0.00024</text>
<text transform="translate(1519.20,1608.20) scale(0.8441,1)" font-size="19.60" text-anchor="middle">0.42</text>
<text transform="translate(1586.00,1608.20) scale(0.8728,1)" font-size="19.60" text-anchor="middle">7.1 × 10<tspan font-size="12.15" dy="-7.06">–37</tspan><tspan dy="7.06">&#8203;</tspan></text>
<path d="M1667.4 1803.1C1668.5 1802.7 1671.2 1801.7 1673.7 1800.7C1676.2 1799.7 1680.6 1798.2 1682.7 1797.0C1684.8 1795.8 1685.8 1796.4 1686.5 1793.4C1687.2 1790.3 1686.8 1783.3 1686.8 1778.8C1686.8 1774.3 1686.4 1770.7 1686.4 1766.6C1686.4 1762.6 1686.8 1759.6 1686.8 1754.5C1686.8 1749.4 1686.4 1741.1 1686.3 1736.3C1686.2 1731.5 1686.0 1729.2 1686.0 1725.6C1686.0 1722.1 1686.3 1717.7 1686.5 1715.0C1686.7 1712.3 1687.2 1710.4 1687.3 1709.5L1688.1 1709.5C1688.2 1710.4 1688.7 1712.3 1688.9 1715.0C1689.1 1717.7 1689.4 1722.1 1689.4 1725.6C1689.4 1729.2 1689.2 1731.5 1689.1 1736.3C1689.0 1741.1 1688.6 1749.4 1688.6 1754.5C1688.6 1759.6 1689.0 1762.6 1689.0 1766.6C1689.0 1770.7 1688.6 1774.3 1688.6 1778.8C1688.6 1783.3 1688.2 1790.3 1688.9 1793.4C1689.6 1796.4 1690.6 1795.8 1692.7 1797.0C1694.8 1798.2 1699.2 1799.7 1701.7 1800.7C1704.2 1801.7 1707.0 1802.7 1708.0 1803.1Z" fill="#B4D95B" stroke="#333" stroke-width="0.6" stroke-linejoin="round"/>
<path d="M1687.7 1803.1V1709.5" stroke="#333" stroke-width="0.7"/>
<path d="M1686.8 1766.4h0M1687.6 1755.8h0M1688.3 1772.0h0M1687.3 1778.8h0M1687.0 1745.3h0M1687.7 1765.0h0M1687.8 1768.9h0M1687.5 1760.1h0" stroke="#111" stroke-width="1.15" stroke-linecap="round" fill="none"/>
<path d="M1711.8 1803.1C1712.3 1802.3 1713.5 1800.6 1715.1 1798.5C1716.6 1796.5 1719.5 1794.0 1721.1 1790.9C1722.7 1787.9 1724.2 1784.1 1724.9 1780.3C1725.6 1776.6 1725.5 1774.3 1725.4 1768.5C1725.3 1762.6 1724.5 1753.3 1724.5 1745.4C1724.5 1737.5 1724.8 1729.2 1725.2 1721.1C1725.6 1713.0 1726.4 1702.8 1727.1 1696.8C1727.8 1690.7 1728.7 1687.6 1729.2 1684.6C1729.7 1681.7 1729.7 1680.1 1730.2 1679.1C1730.7 1678.2 1731.8 1679.1 1732.1 1679.1L1732.1 1679.1C1732.4 1679.1 1733.5 1678.2 1734.0 1679.1C1734.5 1680.1 1734.5 1681.7 1735.0 1684.6C1735.5 1687.6 1736.4 1690.7 1737.1 1696.8C1737.8 1702.8 1738.6 1713.0 1739.0 1721.1C1739.4 1729.2 1739.7 1737.5 1739.7 1745.4C1739.7 1753.3 1738.9 1762.6 1738.8 1768.5C1738.7 1774.3 1738.6 1776.6 1739.3 1780.3C1740.0 1784.1 1741.5 1787.9 1743.1 1790.9C1744.7 1794.0 1747.5 1796.5 1749.1 1798.5C1750.6 1800.6 1751.8 1802.3 1752.4 1803.1Z" fill="#7FAAD4" stroke="#333" stroke-width="0.6" stroke-linejoin="round"/>
<path d="M1732.1 1803.1V1679.1" stroke="#333" stroke-width="0.7"/>
<path d="M1731.9 1718.2h0M1732.7 1738.5h0M1731.1 1726.5h0M1731.3 1749.5h0M1733.8 1704.3h0M1730.6 1737.8h0M1732.1 1738.3h0M1733.8 1762.2h0M1731.8 1760.5h0M1733.1 1743.9h0M1732.1 1746.5h0M1730.8 1752.7h0M1731.0 1722.5h0M1731.4 1712.1h0M1730.9 1753.0h0M1732.3 1717.2h0M1732.3 1725.6h0M1731.9 1757.2h0M1733.1 1706.0h0M1733.6 1747.8h0M1731.4 1721.2h0M1732.3 1769.9h0M1732.1 1729.0h0M1732.5 1751.2h0M1730.2 1742.5h0M1731.0 1742.0h0M1732.6 1707.5h0M1733.5 1746.5h0M1732.3 1734.5h0M1733.0 1753.2h0M1731.9 1772.3h0M1731.0 1722.6h0M1731.6 1722.7h0M1733.3 1706.0h0M1732.8 1710.0h0M1732.1 1721.0h0M1732.0 1751.3h0M1731.4 1716.5h0M1731.5 1708.5h0M1731.8 1752.8h0M1730.3 1709.5h0M1732.2 1753.0h0M1732.6 1768.8h0M1731.8 1737.6h0M1731.3 1750.4h0M1732.8 1751.7h0M1731.4 1728.0h0M1731.0 1741.6h0M1732.1 1735.4h0M1732.8 1750.2h0M1732.5 1699.6h0M1731.2 1763.8h0M1731.2 1695.0h0M1733.1 1750.9h0M1732.5 1729.6h0M1731.2 1711.9h0M1732.3 1740.1h0M1732.6 1700.0h0M1732.2 1699.3h0M1732.8 1762.9h0M1731.8 1711.8h0M1732.8 1730.2h0M1732.2 1750.1h0M1730.5 1752.9h0M1731.7 1714.9h0M1731.5 1757.5h0M1733.9 1714.9h0M1733.4 1744.1h0M1732.0 1747.3h0M1732.2 1751.3h0" stroke="#223a55" stroke-width="1.15" stroke-linecap="round" fill="none"/>
<path d="M1725.6 1772.1h13.0" stroke="#fff" stroke-width="1.9"/>
<path d="M1756.9 1803.1C1757.8 1802.5 1760.0 1801.0 1762.2 1799.5C1764.4 1797.9 1768.2 1795.9 1770.2 1794.0C1772.2 1792.1 1774.0 1790.9 1774.3 1787.9C1774.6 1784.9 1773.3 1780.8 1772.2 1775.8C1771.1 1770.7 1769.0 1763.1 1767.7 1757.5C1766.5 1752.0 1765.4 1747.7 1764.7 1742.3C1764.0 1737.0 1763.2 1731.7 1763.4 1725.6C1763.7 1719.6 1765.0 1712.7 1766.2 1705.9C1767.4 1699.0 1769.4 1691.2 1770.7 1684.6C1772.0 1678.0 1773.3 1671.5 1774.3 1666.4C1775.3 1661.3 1776.3 1656.3 1776.7 1654.2L1777.7 1654.2C1778.1 1656.3 1779.1 1661.3 1780.1 1666.4C1781.1 1671.5 1782.4 1678.0 1783.7 1684.6C1785.0 1691.2 1787.0 1699.0 1788.2 1705.9C1789.4 1712.7 1790.8 1719.6 1791.0 1725.6C1791.2 1731.7 1790.4 1737.0 1789.7 1742.3C1789.0 1747.7 1788.0 1752.0 1786.7 1757.5C1785.5 1763.1 1783.3 1770.7 1782.2 1775.8C1781.1 1780.8 1779.8 1784.9 1780.1 1787.9C1780.4 1790.9 1782.2 1792.1 1784.2 1794.0C1786.2 1795.9 1790.0 1797.9 1792.2 1799.5C1794.4 1801.0 1796.6 1802.5 1797.5 1803.1Z" fill="#EF7A64" stroke="#333" stroke-width="0.6" stroke-linejoin="round"/>
<path d="M1777.2 1803.1V1629.0" stroke="#333" stroke-width="0.7"/>
<path d="M1776.2 1781.8C1776.0 1778.8 1775.1 1776.3 1774.8 1763.6C1774.6 1750.9 1774.5 1719.6 1774.7 1705.9C1774.8 1692.2 1775.3 1689.2 1775.7 1681.6C1776.0 1674.0 1776.7 1663.9 1776.9 1660.3L1777.5 1660.3C1777.7 1663.9 1778.4 1674.0 1778.7 1681.6C1779.1 1689.2 1779.6 1692.2 1779.8 1705.9C1779.9 1719.6 1779.8 1750.9 1779.6 1763.6C1779.3 1776.3 1778.4 1778.8 1778.2 1781.8Z" fill="#141414"/>
<path d="M1774.7 1714.4h0M1779.4 1767.5h0M1775.7 1707.4h0M1778.9 1742.9h0M1777.3 1743.0h0M1776.0 1678.2h0M1774.1 1783.4h0M1778.6 1685.4h0M1775.2 1776.0h0M1775.3 1669.0h0M1779.0 1749.8h0M1777.8 1724.3h0M1776.5 1685.5h0M1778.7 1765.5h0M1777.5 1693.8h0M1777.2 1692.5h0M1780.5 1670.5h0M1776.1 1681.5h0M1777.8 1744.4h0M1777.6 1725.2h0M1776.7 1738.0h0M1778.4 1765.0h0M1775.5 1762.7h0M1777.9 1662.6h0M1775.5 1706.3h0M1778.1 1682.9h0M1777.4 1780.5h0M1777.3 1712.6h0M1777.1 1706.4h0M1780.8 1751.9h0M1776.6 1705.9h0M1774.3 1721.0h0M1776.9 1750.3h0M1777.6 1727.1h0M1778.6 1775.3h0M1776.8 1751.7h0M1776.8 1702.8h0M1777.5 1753.6h0M1776.9 1725.2h0M1778.8 1750.4h0M1778.9 1752.5h0M1780.2 1724.1h0M1773.7 1745.1h0M1778.8 1759.6h0M1777.5 1762.1h0M1779.1 1752.3h0M1776.1 1705.3h0M1778.3 1741.8h0M1777.6 1682.4h0M1778.7 1710.0h0M1776.8 1704.6h0M1776.2 1694.4h0M1780.1 1700.3h0M1777.2 1707.3h0M1776.7 1682.2h0M1777.6 1732.2h0M1779.7 1719.9h0M1778.4 1736.3h0M1781.2 1736.5h0M1781.2 1670.3h0M1777.8 1700.0h0M1777.6 1770.9h0M1774.9 1761.4h0M1778.8 1668.4h0M1777.6 1736.3h0M1778.6 1732.5h0M1775.6 1753.9h0M1778.7 1774.0h0M1777.6 1738.3h0M1775.9 1687.8h0M1776.9 1707.5h0M1779.4 1724.5h0M1777.4 1721.9h0M1775.1 1741.5h0M1779.0 1769.5h0M1780.3 1730.4h0M1776.9 1729.7h0M1779.6 1723.0h0M1776.6 1679.1h0M1777.9 1753.2h0M1775.5 1728.0h0M1778.5 1753.5h0M1776.6 1742.3h0M1776.4 1760.8h0M1778.5 1725.3h0M1780.2 1770.1h0M1776.8 1729.0h0M1775.7 1726.8h0M1775.1 1750.3h0M1775.1 1754.9h0M1781.2 1777.3h0M1777.9 1757.1h0M1779.2 1733.2h0M1778.0 1723.9h0M1777.6 1689.2h0M1774.5 1741.9h0M1777.5 1724.7h0M1777.2 1713.0h0M1776.7 1675.8h0M1778.4 1735.2h0M1775.6 1692.6h0M1778.0 1718.4h0M1777.4 1679.7h0M1774.3 1769.2h0M1778.5 1713.0h0M1775.3 1711.5h0M1774.5 1679.2h0M1776.2 1678.8h0M1778.1 1765.3h0M1781.0 1737.6h0M1778.6 1739.0h0M1779.0 1705.3h0M1775.8 1727.2h0M1775.9 1729.5h0M1776.0 1776.2h0M1776.0 1698.3h0M1778.1 1686.4h0M1776.9 1701.5h0M1776.4 1728.1h0M1775.3 1713.6h0M1778.0 1677.8h0M1776.4 1744.7h0M1775.9 1765.4h0M1777.3 1682.1h0M1777.3 1668.8h0M1778.9 1742.3h0M1777.2 1752.1h0M1780.9 1771.4h0M1777.5 1767.1h0M1776.1 1737.5h0M1776.9 1753.6h0M1780.1 1717.1h0M1778.7 1718.9h0M1777.7 1716.4h0M1775.1 1695.4h0M1774.2 1695.5h0M1779.9 1731.0h0M1777.1 1663.1h0M1777.0 1767.5h0M1774.6 1753.7h0M1773.2 1782.5h0M1776.6 1766.1h0M1773.8 1674.4h0M1778.0 1775.3h0M1774.6 1678.1h0M1776.2 1713.1h0M1778.0 1725.3h0M1777.9 1738.2h0M1780.9 1740.5h0M1776.2 1664.0h0M1778.3 1681.8h0M1775.8 1757.4h0M1777.4 1757.9h0M1775.8 1702.5h0M1776.5 1726.5h0M1779.6 1736.4h0M1776.9 1719.7h0M1777.6 1690.8h0M1775.6 1702.7h0M1775.0 1711.8h0M1776.5 1746.3h0M1776.7 1691.8h0M1778.4 1671.7h0M1775.8 1731.3h0M1779.3 1764.5h0M1779.7 1726.6h0M1778.6 1747.5h0M1778.3 1715.9h0M1776.3 1682.7h0M1776.0 1760.8h0M1777.4 1779.2h0M1777.0 1735.4h0M1777.4 1721.6h0M1774.8 1670.8h0M1779.3 1777.7h0M1777.8 1729.8h0M1780.3 1776.4h0M1777.8 1732.0h0M1773.9 1704.0h0M1780.2 1782.8h0M1778.5 1700.8h0M1776.4 1713.5h0M1778.5 1676.1h0M1780.0 1715.3h0M1778.7 1711.8h0M1775.6 1739.9h0M1776.7 1733.6h0M1778.0 1777.8h0M1779.6 1758.4h0M1776.9 1775.8h0M1778.8 1780.5h0M1774.8 1692.9h0M1777.0 1739.4h0M1779.6 1709.3h0M1778.6 1713.9h0M1777.8 1719.7h0M1776.6 1745.8h0M1777.1 1745.8h0M1773.8 1736.6h0M1780.1 1715.8h0M1777.1 1733.0h0M1777.6 1780.8h0M1777.1 1666.4h0M1776.9 1712.0h0M1778.6 1721.1h0M1775.2 1742.7h0M1776.2 1724.7h0M1775.0 1674.7h0M1777.3 1720.1h0M1776.3 1717.8h0M1775.9 1756.7h0M1778.3 1741.0h0M1776.0 1724.0h0M1774.5 1704.1h0M1774.9 1751.2h0M1776.4 1694.3h0M1776.6 1698.2h0M1777.9 1727.9h0M1777.6 1772.0h0M1777.0 1681.8h0M1775.9 1717.4h0M1777.5 1676.3h0M1777.4 1731.5h0M1776.1 1710.2h0M1777.7 1753.0h0M1778.3 1754.1h0M1775.7 1694.4h0M1777.3 1732.8h0M1775.4 1765.0h0M1775.3 1762.7h0M1776.9 1687.9h0M1778.4 1667.2h0M1777.6 1747.4h0M1777.8 1701.3h0M1778.9 1760.4h0M1778.4 1693.6h0M1778.9 1768.8h0M1778.5 1659.1h0M1778.0 1679.4h0M1779.5 1725.3h0M1779.7 1741.7h0M1776.8 1740.6h0M1778.1 1714.6h0M1774.0 1692.8h0M1778.0 1698.7h0M1777.1 1734.3h0M1776.8 1765.3h0M1776.7 1688.0h0M1778.5 1678.2h0M1775.3 1764.6h0M1774.8 1737.1h0M1779.9 1729.8h0M1773.4 1719.1h0M1776.1 1757.7h0M1775.6 1756.8h0M1778.8 1743.3h0M1777.7 1744.1h0M1778.7 1766.3h0M1778.3 1744.1h0M1777.2 1751.9h0M1777.6 1770.6h0M1776.0 1667.9h0M1777.5 1720.9h0M1781.2 1743.7h0M1775.3 1754.4h0M1775.7 1663.7h0M1776.6 1781.8h0M1777.7 1747.0h0M1777.5 1690.3h0M1778.1 1694.7h0M1779.6 1721.2h0M1778.2 1756.5h0M1776.9 1757.5h0M1776.5 1709.2h0M1776.3 1779.6h0M1778.5 1746.5h0M1774.2 1684.0h0M1777.2 1743.8h0M1775.8 1773.5h0M1778.1 1705.5h0M1775.6 1756.1h0M1780.2 1746.0h0M1776.4 1765.6h0M1776.6 1668.1h0M1778.2 1773.1h0M1776.4 1672.6h0M1776.2 1740.6h0M1778.2 1662.8h0M1778.4 1717.0h0M1775.6 1746.1h0M1778.6 1754.0h0M1780.8 1712.6h0M1778.3 1688.2h0M1778.0 1665.4h0M1780.4 1709.6h0M1777.8 1702.4h0M1776.9 1675.7h0M1780.7 1685.6h0M1775.6 1748.1h0M1775.6 1708.3h0M1773.9 1734.1h0M1778.2 1671.6h0M1777.7 1763.2h0M1774.5 1752.5h0M1778.7 1758.2h0M1773.9 1682.3h0M1773.2 1756.8h0M1777.2 1780.7h0M1776.4 1670.2h0M1780.1 1775.1h0M1775.6 1731.4h0M1781.0 1730.2h0M1775.9 1766.8h0M1777.9 1709.1h0M1775.3 1752.0h0M1778.0 1695.8h0M1779.0 1781.5h0M1779.3 1779.6h0M1778.4 1770.9h0M1780.0 1720.6h0M1775.4 1767.1h0M1776.0 1750.7h0M1778.6 1706.4h0M1778.3 1740.2h0M1777.2 1768.3h0M1778.6 1719.3h0M1775.8 1744.9h0M1779.8 1694.0h0M1778.8 1738.1h0M1779.4 1718.2h0M1778.1 1642.0h0M1778.4 1648.3h0M1777.8 1646.5h0M1776.7 1656.8h0M1776.6 1638.4h0M1777.0 1644.6h0M1776.3 1656.0h0M1777.0 1647.1h0M1777.4 1639.3h0M1777.1 1653.3h0M1777.6 1652.3h0M1777.3 1649.6h0M1777.8 1641.4h0M1777.1 1651.1h0M1778.4 1653.8h0M1777.4 1644.5h0M1776.8 1651.2h0M1777.5 1641.2h0M1777.1 1654.9h0M1777.4 1638.1h0M1776.3 1658.4h0M1778.0 1637.8h0M1778.4 1647.6h0M1777.1 1662.2h0M1776.3 1653.6h0" stroke="#111" stroke-width="1.15" stroke-linecap="round" fill="none"/>
<path d="M1765.2 1742.3h24.0" stroke="#fff" stroke-width="1.9"/>
<path d="M1660.8 1594.9V1803.1M1660.2 1803.1H1804.6M1687.7 1803.1v3.2M1732.1 1803.1v3.2M1777.2 1803.1v3.2M1655.2 1803.1H1660.8M1655.2 1651.2H1660.8" stroke="#000" stroke-width="1.35" fill="none"/>
<text transform="translate(1654.20,1810.50)" font-size="19.00" text-anchor="end">0</text>
<text transform="translate(1654.20,1658.60)" font-size="19.00" text-anchor="end">5</text>
<text transform="translate(1638.60,1705.30) rotate(-90) scale(1.0619,1)" font-size="21.00" text-anchor="middle" font-style="italic">IL5</text>
<text transform="translate(1731.10,1553.90) scale(1.0200,1)" font-size="22.00" text-anchor="middle">Th2</text>
<path d="M1685.3 1594.4V1584.4H1778.4V1594.4M1685.3 1618.7V1612.3H1778.4V1618.7" stroke="#111" stroke-width="1.8" fill="none"/>
<path d="M1731.6 1611.7V1616.7" stroke="#111" stroke-width="2.6" fill="none"/>
<text transform="translate(1736.90,1577.70) scale(0.8641,1)" font-size="19.60" text-anchor="middle">3.4 × 10<tspan font-size="12.15" dy="-7.06">–12</tspan><tspan dy="7.06">&#8203;</tspan></text>
<text transform="translate(1707.90,1608.20) scale(0.8441,1)" font-size="19.60" text-anchor="middle">0.04</text>
<text transform="translate(1774.05,1608.20) scale(0.8586,1)" font-size="19.60" text-anchor="middle">1.9 × 10<tspan font-size="12.15" dy="-7.06">–15</tspan><tspan dy="7.06">&#8203;</tspan></text>
<circle cx="1384.6" cy="1827.4" r="7.2" fill="#B4D95B"/>
<text transform="translate(1399.80,1835.30) scale(1.0082,1)" font-size="21.50">Healthy</text>
<circle cx="1501.4" cy="1827.4" r="7.2" fill="#7FAAD4"/>
<text transform="translate(1517.20,1835.30) scale(1.0103,1)" font-size="21.50">Remission</text>
<circle cx="1644.5" cy="1827.4" r="7.2" fill="#EF7A64"/>
<text transform="translate(1659.60,1835.30) scale(1.0094,1)" font-size="21.50">Active</text>
<text transform="translate(1231.60,1230.00) scale(0.9000,1)" font-size="37.00" font-weight="bold">d</text></g>
</g>
<g id="panel_e">
<circle cx="1278.3" cy="1890.4" r="1.0" fill="#fcd5ca"/>
<circle cx="1310.1" cy="1890.4" r="1.0" fill="#fcd5ca"/>
<circle cx="1341.9" cy="1890.4" r="1.0" fill="#fcd5ca"/>
<circle cx="1373.7" cy="1890.4" r="1.0" fill="#fcd5ca"/>
<circle cx="1405.5" cy="1890.4" r="3.9" fill="#fa856e"/>
<circle cx="1437.3" cy="1890.4" r="4.5" fill="#fba794"/>
<circle cx="1278.3" cy="1906.9" r="4.2" fill="#fba794"/>
<circle cx="1310.1" cy="1906.9" r="6.5" fill="#fa856e"/>
<circle cx="1341.9" cy="1906.9" r="5" fill="#fba794"/>
<circle cx="1373.7" cy="1906.9" r="6" fill="#fcc2b3"/>
<circle cx="1405.5" cy="1906.9" r="0.8" fill="#f9ece6"/>
<circle cx="1437.3" cy="1906.9" r="0.8" fill="#f9ece6"/>
<circle cx="1278.3" cy="1923.5" r="5" fill="#fba794"/>
<circle cx="1310.1" cy="1923.5" r="6.3" fill="#fba794"/>
<circle cx="1341.9" cy="1923.5" r="5.2" fill="#fba794"/>
<circle cx="1373.7" cy="1923.5" r="6.5" fill="#fba794"/>
<circle cx="1405.5" cy="1923.5" r="1.2" fill="#f6f6f1"/>
<circle cx="1437.3" cy="1923.5" r="1.2" fill="#f6f6f1"/>
<circle cx="1278.3" cy="1940.0" r="1.8" fill="#fcc2b3"/>
<circle cx="1310.1" cy="1940.0" r="5.2" fill="#f9634a"/>
<circle cx="1341.9" cy="1940.0" r="1.3" fill="#fcd5ca"/>
<circle cx="1373.7" cy="1940.0" r="2.6" fill="#fcc2b3"/>
<circle cx="1405.5" cy="1940.0" r="1.0" fill="#fcd5ca"/>
<circle cx="1437.3" cy="1940.0" r="1.0" fill="#fcd5ca"/>
<circle cx="1278.3" cy="1956.6" r="1.0" fill="#fcd5ca"/>
<circle cx="1310.1" cy="1956.6" r="1.0" fill="#fcd5ca"/>
<circle cx="1341.9" cy="1956.6" r="1.0" fill="#fcd5ca"/>
<circle cx="1373.7" cy="1956.6" r="1.0" fill="#fcd5ca"/>
<circle cx="1405.5" cy="1956.6" r="6" fill="#fa856e"/>
<circle cx="1437.3" cy="1956.6" r="6.3" fill="#fba794"/>
<circle cx="1278.3" cy="1973.1" r="1.3" fill="#fcc2b3"/>
<circle cx="1310.1" cy="1973.1" r="1.5" fill="#fcd5ca"/>
<circle cx="1341.9" cy="1973.1" r="1.5" fill="#fa856e"/>
<circle cx="1373.7" cy="1973.1" r="0.8" fill="#f6f6f1"/>
<circle cx="1405.5" cy="1973.1" r="1.3" fill="#f9634a"/>
<circle cx="1437.3" cy="1973.1" r="1.5" fill="#fcc2b3"/>
<circle cx="1278.3" cy="1989.7" r="1.0" fill="#fcd5ca"/>
<circle cx="1310.1" cy="1989.7" r="2.4" fill="#f9634a"/>
<circle cx="1341.9" cy="1989.7" r="1.0" fill="#fcd5ca"/>
<circle cx="1373.7" cy="1989.7" r="2.1" fill="#fcc2b3"/>
<circle cx="1405.5" cy="1989.7" r="1.0" fill="#fcd5ca"/>
<circle cx="1437.3" cy="1989.7" r="0.9" fill="#fcd5ca"/>
<circle cx="1278.3" cy="2006.2" r="1.0" fill="#fcd5ca"/>
<circle cx="1310.1" cy="2006.2" r="1.0" fill="#fcd5ca"/>
<circle cx="1341.9" cy="2006.2" r="1.0" fill="#fcd5ca"/>
<circle cx="1373.7" cy="2006.2" r="1.0" fill="#fcd5ca"/>
<circle cx="1405.5" cy="2006.2" r="2.6" fill="#fa856e"/>
<circle cx="1437.3" cy="2006.2" r="3.1" fill="#fa856e"/>
<circle cx="1278.3" cy="2022.8" r="1.0" fill="#fcd5ca"/>
<circle cx="1310.1" cy="2022.8" r="1.0" fill="#fcd5ca"/>
<circle cx="1341.9" cy="2022.8" r="1.0" fill="#fcd5ca"/>
<circle cx="1373.7" cy="2022.8" r="1.0" fill="#fcd5ca"/>
<circle cx="1405.5" cy="2022.8" r="1.8" fill="#f9634a"/>
<circle cx="1437.3" cy="2022.8" r="1.6" fill="#fba794"/>
<circle cx="1278.3" cy="2039.3" r="2.4" fill="#fcc2b3"/>
<circle cx="1310.1" cy="2039.3" r="3.9" fill="#fa755d"/>
<circle cx="1341.9" cy="2039.3" r="2.6" fill="#fcc2b3"/>
<circle cx="1373.7" cy="2039.3" r="3.9" fill="#fcc2b3"/>
<circle cx="1405.5" cy="2039.3" r="1.8" fill="#fcd5ca"/>
<circle cx="1437.3" cy="2039.3" r="1.5" fill="#f9ece6"/>
<circle cx="1278.3" cy="2055.8" r="1.0" fill="#fcd5ca"/>
<circle cx="1310.1" cy="2055.8" r="1.0" fill="#fcd5ca"/>
<circle cx="1341.9" cy="2055.8" r="1.0" fill="#fcd5ca"/>
<circle cx="1373.7" cy="2055.8" r="1.0" fill="#fcd5ca"/>
<circle cx="1405.5" cy="2055.8" r="2.4" fill="#f9634a"/>
<circle cx="1437.3" cy="2055.8" r="2.4" fill="#fba794"/>
<circle cx="1278.3" cy="2072.4" r="1.0" fill="#fcd5ca"/>
<circle cx="1310.1" cy="2072.4" r="1.0" fill="#fcd5ca"/>
<circle cx="1341.9" cy="2072.4" r="1.0" fill="#fcd5ca"/>
<circle cx="1373.7" cy="2072.4" r="1.0" fill="#fcd5ca"/>
<circle cx="1405.5" cy="2072.4" r="2.4" fill="#fa856e"/>
<circle cx="1437.3" cy="2072.4" r="3.1" fill="#fa856e"/>
<circle cx="1278.3" cy="2088.9" r="1.0" fill="#fcd5ca"/>
<circle cx="1310.1" cy="2088.9" r="1.0" fill="#fcd5ca"/>
<circle cx="1341.9" cy="2088.9" r="1.0" fill="#fcd5ca"/>
<circle cx="1373.7" cy="2088.9" r="1.0" fill="#fcd5ca"/>
<circle cx="1405.5" cy="2088.9" r="1.8" fill="#f9634a"/>
<circle cx="1437.3" cy="2088.9" r="1.8" fill="#fba794"/>
<circle cx="1278.3" cy="2105.5" r="2.6" fill="#fa856e"/>
<circle cx="1310.1" cy="2105.5" r="3.1" fill="#fba794"/>
<circle cx="1341.9" cy="2105.5" r="2.9" fill="#fa856e"/>
<circle cx="1373.7" cy="2105.5" r="3.9" fill="#fba794"/>
<circle cx="1405.5" cy="2105.5" r="0.8" fill="#f9ece6"/>
<circle cx="1437.3" cy="2105.5" r="0.8" fill="#f9ece6"/>
<circle cx="1278.3" cy="2122.0" r="1.0" fill="#fcd5ca"/>
<circle cx="1310.1" cy="2122.0" r="1.0" fill="#fcd5ca"/>
<circle cx="1341.9" cy="2122.0" r="1.0" fill="#fcd5ca"/>
<circle cx="1373.7" cy="2122.0" r="1.0" fill="#fcd5ca"/>
<circle cx="1405.5" cy="2122.0" r="7" fill="#fa856e"/>
<circle cx="1437.3" cy="2122.0" r="7" fill="#fba794"/>
<circle cx="1278.3" cy="2138.6" r="1.8" fill="#fcd5ca"/>
<circle cx="1310.1" cy="2138.6" r="3.1" fill="#fcd5ca"/>
<circle cx="1341.9" cy="2138.6" r="2.0" fill="#fcd5ca"/>
<circle cx="1373.7" cy="2138.6" r="4.2" fill="#fcd5ca"/>
<circle cx="1405.5" cy="2138.6" r="3.7" fill="#fba794"/>
<circle cx="1437.3" cy="2138.6" r="5.2" fill="#fa856e"/>
<circle cx="1278.3" cy="2155.1" r="1.0" fill="#fcd5ca"/>
<circle cx="1310.1" cy="2155.1" r="1.0" fill="#fcd5ca"/>
<circle cx="1341.9" cy="2155.1" r="1.0" fill="#fcd5ca"/>
<circle cx="1373.7" cy="2155.1" r="1.0" fill="#fcd5ca"/>
<circle cx="1405.5" cy="2155.1" r="2.6" fill="#f9634a"/>
<circle cx="1437.3" cy="2155.1" r="2.6" fill="#fba794"/>
<circle cx="1278.3" cy="2171.7" r="6.3" fill="#fba794"/>
<circle cx="1310.1" cy="2171.7" r="6.8" fill="#fcc2b3"/>
<circle cx="1341.9" cy="2171.7" r="7" fill="#fa856e"/>
<circle cx="1373.7" cy="2171.7" r="7" fill="#fba794"/>
<circle cx="1405.5" cy="2171.7" r="0.8" fill="#f9ece6"/>
<circle cx="1437.3" cy="2171.7" r="0.8" fill="#f9ece6"/>
<circle cx="1278.3" cy="2188.2" r="3.7" fill="#fcd5ca"/>
<circle cx="1310.1" cy="2188.2" r="6.8" fill="#fba794"/>
<circle cx="1341.9" cy="2188.2" r="6.3" fill="#fba794"/>
<circle cx="1373.7" cy="2188.2" r="7" fill="#fba794"/>
<circle cx="1405.5" cy="2188.2" r="0.8" fill="#f9ece6"/>
<circle cx="1437.3" cy="2188.2" r="0.8" fill="#f9ece6"/>
<circle cx="1278.3" cy="2204.8" r="3.4" fill="#fcd5ca"/>
<circle cx="1310.1" cy="2204.8" r="3.4" fill="#f6f6f1"/>
<circle cx="1341.9" cy="2204.8" r="3.9" fill="#fcc2b3"/>
<circle cx="1373.7" cy="2204.8" r="5.5" fill="#fcc2b3"/>
<circle cx="1405.5" cy="2204.8" r="5" fill="#fa856e"/>
<circle cx="1437.3" cy="2204.8" r="5.2" fill="#fba794"/>
<circle cx="1278.3" cy="2221.3" r="2.4" fill="#f9634a"/>
<circle cx="1310.1" cy="2221.3" r="2.1" fill="#f6f6f1"/>
<circle cx="1341.9" cy="2221.3" r="2.6" fill="#fba794"/>
<circle cx="1373.7" cy="2221.3" r="3.4" fill="#fcc2b3"/>
<circle cx="1405.5" cy="2221.3" r="2.1" fill="#fcc2b3"/>
<circle cx="1437.3" cy="2221.3" r="2.1" fill="#fcd5ca"/>
<circle cx="1278.3" cy="2237.8" r="5.8" fill="#fba794"/>
<circle cx="1310.1" cy="2237.8" r="7.3" fill="#fa856e"/>
<circle cx="1341.9" cy="2237.8" r="6.5" fill="#fba794"/>
<circle cx="1373.7" cy="2237.8" r="7" fill="#fcc2b3"/>
<circle cx="1405.5" cy="2237.8" r="3.4" fill="#f9ece6"/>
<circle cx="1437.3" cy="2237.8" r="3.4" fill="#f6f6f1"/>
<circle cx="1278.3" cy="2254.4" r="2.4" fill="#fba794"/>
<circle cx="1310.1" cy="2254.4" r="3.7" fill="#fa856e"/>
<circle cx="1341.9" cy="2254.4" r="3.1" fill="#fa856e"/>
<circle cx="1373.7" cy="2254.4" r="3.9" fill="#fba794"/>
<circle cx="1405.5" cy="2254.4" r="0.8" fill="#f9ece6"/>
<circle cx="1437.3" cy="2254.4" r="0.8" fill="#f9ece6"/>
<rect x="1261.2" y="1880.2" width="193.1" height="386.0" fill="none" stroke="#000" stroke-width="2"/>
<path d="M1454.3 1890.4h6.3M1454.3 1906.9h6.3M1454.3 1923.5h6.3M1454.3 1940.0h6.3M1454.3 1956.6h6.3M1454.3 1973.1h6.3M1454.3 1989.7h6.3M1454.3 2006.2h6.3M1454.3 2022.8h6.3M1454.3 2039.3h6.3M1454.3 2055.8h6.3M1454.3 2072.4h6.3M1454.3 2088.9h6.3M1454.3 2105.5h6.3M1454.3 2122.0h6.3M1454.3 2138.6h6.3M1454.3 2155.1h6.3M1454.3 2171.7h6.3M1454.3 2188.2h6.3M1454.3 2204.8h6.3M1454.3 2221.3h6.3M1454.3 2237.8h6.3M1454.3 2254.4h6.3M1278.3 2266.2v7M1310.1 2266.2v7M1341.9 2266.2v7M1373.7 2266.2v7M1405.5 2266.2v7M1437.3 2266.2v7" stroke="#000" stroke-width="1.6" fill="none"/>
<text transform="translate(1464.60,1896.80) scale(0.8700,1)" font-size="18.30" font-style="italic">LIF</text>
<text transform="translate(1464.60,1913.35) scale(0.8700,1)" font-size="18.30" font-style="italic">LIFR</text><text transform="translate(1502.30,1915.95)" font-size="20.50" fill="#E8132E">*</text>
<text transform="translate(1464.60,1929.89) scale(0.8700,1)" font-size="18.30" font-style="italic">IL6ST</text><text transform="translate(1510.28,1932.49)" font-size="20.50" fill="#E8132E">*</text>
<text transform="translate(1464.60,1946.44) scale(0.8700,1)" font-size="18.30" font-style="italic">IL33</text>
<text transform="translate(1464.60,1962.98) scale(0.8700,1)" font-size="18.30" font-style="italic">IL1RL1</text><text transform="translate(1519.14,1965.58)" font-size="20.50" fill="#E8132E">*</text>
<text transform="translate(1464.60,1979.53) scale(0.8700,1)" font-size="18.30" font-style="italic">IL1RAP</text><text transform="translate(1522.67,1982.12)" font-size="20.50" fill="#E8132E">*</text>
<text transform="translate(1464.60,1996.07) scale(0.8700,1)" font-size="18.30" font-style="italic">MADCAM1</text>
<text transform="translate(1464.60,2012.62) scale(0.8700,1)" font-size="18.30" font-style="italic">TGA4</text><text transform="translate(1509.38,2015.22)" font-size="20.50" fill="#E8132E">*</text>
<text transform="translate(1464.60,2029.16) scale(0.8700,1)" font-size="18.30" font-style="italic">ITGB7</text><text transform="translate(1513.81,2031.76)" font-size="20.50" fill="#E8132E">*</text>
<text transform="translate(1464.60,2045.71) scale(0.8700,1)" font-size="18.30" font-style="italic">ICAM1</text>
<text transform="translate(1464.60,2062.25) scale(0.8700,1)" font-size="18.30" font-style="italic">ITGAM</text><text transform="translate(1518.21,2064.85)" font-size="20.50" fill="#E8132E">*</text>
<text transform="translate(1464.60,2078.80) scale(0.8700,1)" font-size="18.30" font-style="italic">TGB2</text><text transform="translate(1509.38,2081.39)" font-size="20.50" fill="#E8132E">*</text>
<text transform="translate(1464.60,2095.34) scale(0.8700,1)" font-size="18.30" font-style="italic">ITGAL</text><text transform="translate(1513.81,2097.94)" font-size="20.50" fill="#E8132E">*</text>
<text transform="translate(1464.60,2111.89) scale(0.8700,1)" font-size="18.30" font-style="italic">KITLG</text>
<text transform="translate(1464.60,2128.43) scale(0.8700,1)" font-size="18.30" font-style="italic">KIT</text><text transform="translate(1492.57,2131.03)" font-size="20.50" fill="#E8132E">*</text>
<text transform="translate(1464.60,2144.98) scale(0.8700,1)" font-size="18.30" font-style="italic">VEGFB</text>
<text transform="translate(1464.60,2161.52) scale(0.8700,1)" font-size="18.30" font-style="italic">VEGFA</text>
<text transform="translate(1464.60,2178.07) scale(0.8700,1)" font-size="18.30" font-style="italic">FLT1</text><text transform="translate(1503.78,2180.66)" font-size="20.50" fill="#E8132E">*</text>
<text transform="translate(1464.60,2194.61) scale(0.8700,1)" font-size="18.30" font-style="italic">NRP1</text><text transform="translate(1510.27,2197.21)" font-size="20.50" fill="#E8132E">*</text>
<text transform="translate(1464.60,2211.16) scale(0.8700,1)" font-size="18.30" font-style="italic">TGFB1</text>
<text transform="translate(1464.60,2227.70) scale(0.8700,1)" font-size="18.30" font-style="italic">TGFBR1</text><text transform="translate(1530.61,2230.30)" font-size="20.50" fill="#E8132E">*</text>
<text transform="translate(1464.60,2244.25) scale(0.8700,1)" font-size="18.30" font-style="italic">TGFBR2</text><text transform="translate(1530.61,2246.85)" font-size="20.50" fill="#E8132E">*</text>
<text transform="translate(1464.60,2260.79) scale(0.8700,1)" font-size="18.30" font-style="italic">HRH1</text><text transform="translate(1511.15,2263.39)" font-size="20.50" fill="#E8132E">*</text>
<text transform="translate(1284.90,2277.20) rotate(-90) scale(0.8050,1)" font-size="20.50" text-anchor="end">Arterial (<tspan font-style="italic">GJA4</tspan>)</text>
<text transform="translate(1316.70,2277.20) rotate(-90) scale(0.8050,1)" font-size="20.50" text-anchor="end">Venous (<tspan font-style="italic">ACKR1</tspan>)</text>
<text transform="translate(1348.50,2277.20) rotate(-90) scale(0.8050,1)" font-size="20.50" text-anchor="end">Capillary (<tspan font-style="italic">RGCC</tspan>)</text>
<text transform="translate(1380.30,2277.20) rotate(-90) scale(0.8050,1)" font-size="20.50" text-anchor="end">BEC (cycling)</text>
<text transform="translate(1412.10,2277.20) rotate(-90) scale(0.8050,1)" font-size="20.50" text-anchor="end">Mast cell</text>
<text transform="translate(1443.90,2277.20) rotate(-90) scale(0.8050,1)" font-size="20.50" text-anchor="end">Mast cell (cycling)</text>
<text transform="translate(1490.30,2290.60) scale(1.0142,1)" font-size="17.60">Percentage</text>
<text transform="translate(1490.30,2309.00) scale(1.0111,1)" font-size="17.60">of cells (%)</text>
<circle cx="1493.4" cy="2331.3" r="0.9" fill="#000"/>
<text transform="translate(1493.40,2354.60) scale(0.9300,1)" font-size="17.30" text-anchor="middle">0</text>
<circle cx="1516" cy="2331.3" r="2.6" fill="#000"/>
<text transform="translate(1516.00,2354.60) scale(0.9300,1)" font-size="17.30" text-anchor="middle">20</text>
<circle cx="1538.8" cy="2331.3" r="3.9" fill="#000"/>
<text transform="translate(1538.80,2354.60) scale(0.9300,1)" font-size="17.30" text-anchor="middle">40</text>
<circle cx="1561.6" cy="2331.3" r="5.5" fill="#000"/>
<text transform="translate(1561.60,2354.60) scale(0.9300,1)" font-size="17.30" text-anchor="middle">60</text>
<circle cx="1584.5" cy="2331.3" r="6.8" fill="#000"/>
<text transform="translate(1584.50,2354.60) scale(0.9300,1)" font-size="17.30" text-anchor="middle">80</text>
<text transform="translate(1487.60,2388.00) scale(1.0088,1)" font-size="17.60">Avg. expression</text>
<text transform="translate(1487.60,2405.50) scale(0.9939,1)" font-size="17.60">(<tspan font-style="italic">z</tspan>-score)</text>
<rect x="1489.3" y="2416" width="106" height="16.6" fill="url(#gRS)" stroke="#000" stroke-width="1.8"/>
<path d="M1503.9 2432.5v5.2" stroke="#000" stroke-width="1.3"/>
<text transform="translate(1504.90,2451.40) scale(0.9500,1)" font-size="17.30" text-anchor="middle">–1</text>
<path d="M1534.9 2432.5v5.2" stroke="#000" stroke-width="1.3"/>
<text transform="translate(1534.90,2451.40) scale(0.9500,1)" font-size="17.30" text-anchor="middle">0</text>
<path d="M1565.3 2432.5v5.2" stroke="#000" stroke-width="1.3"/>
<text transform="translate(1565.30,2451.40) scale(0.9500,1)" font-size="17.30" text-anchor="middle">1</text>
<text transform="translate(1491.00,2484.50)" font-size="20.00" fill="#E8132E">*</text>
<text transform="translate(1506.50,2481.60) scale(1.0166,1)" font-size="17.60">= receptors</text>
<text transform="translate(1230.80,1879.50) scale(0.9000,1)" font-size="37.00" font-weight="bold">e</text>
</g>
<g id="panel_f">
<circle cx="1678.5" cy="1896.6" r="1.5" fill="#fcd5ca"/>
<circle cx="1714.3" cy="1896.6" r="1.35" fill="#fcd5ca"/>
<circle cx="1750.0" cy="1896.6" r="1.35" fill="#fcd5ca"/>
<circle cx="1785.8" cy="1896.6" r="4.1" fill="#f9634a"/>
<circle cx="1678.5" cy="1922.6" r="1.0" fill="#f6f6f1"/>
<circle cx="1714.3" cy="1922.6" r="1.4" fill="#fcc2b3"/>
<circle cx="1750.0" cy="1922.6" r="1.3" fill="#f9634a"/>
<circle cx="1785.8" cy="1922.6" r="1.3" fill="#fcd5ca"/>
<circle cx="1678.5" cy="1948.5" r="3.4" fill="#fcd5ca"/>
<circle cx="1714.3" cy="1948.5" r="4.3" fill="#fcd5ca"/>
<circle cx="1750.0" cy="1948.5" r="5.4" fill="#fcd5ca"/>
<circle cx="1785.8" cy="1948.5" r="9.5" fill="#f9634a"/>
<circle cx="1678.5" cy="1974.5" r="1.35" fill="#fcd5ca"/>
<circle cx="1714.3" cy="1974.5" r="1.35" fill="#fcd5ca"/>
<circle cx="1750.0" cy="1974.5" r="1.35" fill="#fcd5ca"/>
<circle cx="1785.8" cy="1974.5" r="4.9" fill="#f9634a"/>
<circle cx="1678.5" cy="2000.5" r="1.35" fill="#fcd5ca"/>
<circle cx="1714.3" cy="2000.5" r="1.35" fill="#fcd5ca"/>
<circle cx="1750.0" cy="2000.5" r="1.35" fill="#fcd5ca"/>
<circle cx="1785.8" cy="2000.5" r="2.1" fill="#f9634a"/>
<circle cx="1678.5" cy="2026.4" r="1.35" fill="#fcd5ca"/>
<circle cx="1714.3" cy="2026.4" r="1.35" fill="#fcd5ca"/>
<circle cx="1750.0" cy="2026.4" r="1.35" fill="#fcd5ca"/>
<circle cx="1785.8" cy="2026.4" r="1.8" fill="#f9634a"/>
<circle cx="1678.5" cy="2052.4" r="1.35" fill="#fcd5ca"/>
<circle cx="1714.3" cy="2052.4" r="1.35" fill="#fcd5ca"/>
<circle cx="1750.0" cy="2052.4" r="1.35" fill="#fcd5ca"/>
<circle cx="1785.8" cy="2052.4" r="3.0" fill="#f9634a"/>
<circle cx="1678.5" cy="2078.4" r="1.35" fill="#fcd5ca"/>
<circle cx="1714.3" cy="2078.4" r="1.35" fill="#fcd5ca"/>
<circle cx="1750.0" cy="2078.4" r="1.35" fill="#fcd5ca"/>
<circle cx="1785.8" cy="2078.4" r="1.6" fill="#f9634a"/>
<circle cx="1678.5" cy="2104.4" r="6.6" fill="#fcd5ca"/>
<circle cx="1714.3" cy="2104.4" r="4.6" fill="#fcd5ca"/>
<circle cx="1750.0" cy="2104.4" r="3.1" fill="#f9ece6"/>
<circle cx="1785.8" cy="2104.4" r="7.2" fill="#f9634a"/>
<circle cx="1678.5" cy="2130.3" r="2.0" fill="#f9634a"/>
<circle cx="1714.3" cy="2130.3" r="1.5" fill="#fcc2b3"/>
<circle cx="1750.0" cy="2130.3" r="1.35" fill="#fcd5ca"/>
<circle cx="1785.8" cy="2130.3" r="1.3" fill="#f9ece6"/>
<circle cx="1678.5" cy="2156.3" r="1.35" fill="#fcd5ca"/>
<circle cx="1714.3" cy="2156.3" r="1.5" fill="#f9634a"/>
<circle cx="1750.0" cy="2156.3" r="1.35" fill="#fcd5ca"/>
<circle cx="1785.8" cy="2156.3" r="1.3" fill="#f9ece6"/>
<rect x="1656.4" y="1879.2" width="150.5" height="295.3" fill="none" stroke="#000" stroke-width="2"/>
<path d="M1806.9 1896.6h6.6M1806.9 1922.6h6.6M1806.9 1948.5h6.6M1806.9 1974.5h6.6M1806.9 2000.5h6.6M1806.9 2026.4h6.6M1806.9 2052.4h6.6M1806.9 2078.4h6.6M1806.9 2104.4h6.6M1806.9 2130.3h6.6M1806.9 2156.3h6.6M1678.5 2174.5v6.3M1714.3 2174.5v6.3M1750.0 2174.5v6.3M1785.8 2174.5v6.3" stroke="#000" stroke-width="1.6" fill="none"/>
<text transform="translate(1818.80,1903.20) scale(0.8700,1)" font-size="18.60" font-style="italic">IL1A</text>
<text transform="translate(1818.80,1929.17) scale(0.8700,1)" font-size="18.60" font-style="italic">IL1B</text>
<text transform="translate(1818.80,1955.14) scale(0.8700,1)" font-size="18.60" font-style="italic">IL1RN</text>
<text transform="translate(1818.80,1981.11) scale(0.8700,1)" font-size="18.60" font-style="italic">IL36A</text>
<text transform="translate(1818.80,2007.08) scale(0.8700,1)" font-size="18.60" font-style="italic">IL36B</text>
<text transform="translate(1818.80,2033.05) scale(0.8700,1)" font-size="18.60" font-style="italic">IL36G</text>
<text transform="translate(1818.80,2059.02) scale(0.8700,1)" font-size="18.60" font-style="italic">IL36RN</text>
<text transform="translate(1818.80,2084.99) scale(0.8700,1)" font-size="18.60" font-style="italic">IL1F10</text>
<text transform="translate(1818.80,2110.96) scale(0.8700,1)" font-size="18.60" font-style="italic">IL18</text>
<text transform="translate(1818.80,2136.93) scale(0.8700,1)" font-size="18.60" font-style="italic">IL33</text>
<text transform="translate(1818.80,2162.90) scale(0.8700,1)" font-size="18.60" font-style="italic">IL37</text>
<text transform="translate(1685.30,2184.80) rotate(-90) scale(0.7940,1)" font-size="20.90" text-anchor="end">Quiescent basal cell</text>
<text transform="translate(1721.07,2184.80) rotate(-90) scale(0.7940,1)" font-size="20.90" text-anchor="end">Basal cell (cycling)</text>
<text transform="translate(1756.84,2184.80) rotate(-90) scale(0.7940,1)" font-size="20.90" text-anchor="end">Suprabasal</text>
<text transform="translate(1792.61,2184.80) rotate(-90) scale(0.7940,1)" font-size="20.90" text-anchor="end">Apical cell</text>
<text transform="translate(1761.40,2290.70) scale(1.0109,1)" font-size="17.60">Percentage</text>
<text transform="translate(1761.40,2308.70) scale(1.0076,1)" font-size="17.60">of cells (%)</text>
<circle cx="1766.4" cy="2328.4" r="2.0" fill="#000"/>
<text transform="translate(1766.40,2355.00) scale(0.9300,1)" font-size="17.30" text-anchor="middle">0</text>
<circle cx="1788.1" cy="2328.4" r="3.9" fill="#000"/>
<text transform="translate(1788.10,2355.00) scale(0.9300,1)" font-size="17.30" text-anchor="middle">25</text>
<circle cx="1816" cy="2328.4" r="5.9" fill="#000"/>
<text transform="translate(1816.00,2355.00) scale(0.9300,1)" font-size="17.30" text-anchor="middle">50</text>
<circle cx="1845" cy="2328.4" r="7.9" fill="#000"/>
<text transform="translate(1845.00,2355.00) scale(0.9300,1)" font-size="17.30" text-anchor="middle">75</text>
<text transform="translate(1758.60,2387.80) scale(1.0072,1)" font-size="17.60">Avg. expression</text>
<text transform="translate(1758.60,2406.20) scale(0.9925,1)" font-size="17.60">(<tspan font-style="italic">z</tspan>-score)</text>
<rect x="1762.7" y="2415.7" width="106.5" height="16.9" fill="url(#gRS)" stroke="#000" stroke-width="1.8"/>
<path d="M1766.4 2432.6v5.7" stroke="#000" stroke-width="1.3"/>
<text transform="translate(1765.90,2451.70) scale(0.9500,1)" font-size="17.30" text-anchor="middle">–1</text>
<path d="M1786.9 2432.6v5.7" stroke="#000" stroke-width="1.3"/>
<path d="M1807.3 2432.6v5.7" stroke="#000" stroke-width="1.3"/>
<text transform="translate(1807.30,2451.70) scale(0.9500,1)" font-size="17.30" text-anchor="middle">0</text>
<path d="M1827.8 2432.6v5.7" stroke="#000" stroke-width="1.3"/>
<path d="M1848.4 2432.6v5.7" stroke="#000" stroke-width="1.3"/>
<text transform="translate(1848.40,2451.70) scale(0.9500,1)" font-size="17.30" text-anchor="middle">1</text>
<text transform="translate(1631.00,1879.50) scale(0.9000,1)" font-size="37.00" font-weight="bold">f</text>
</g>
</svg>
</body></html>
